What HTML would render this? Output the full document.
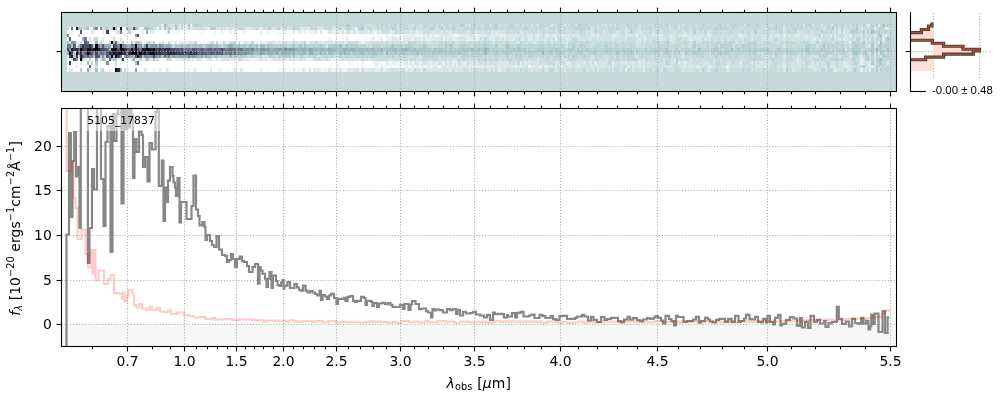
<!DOCTYPE html>
<html><head><meta charset="utf-8"><style>html,body{margin:0;padding:0;background:#fff;width:1000px;height:400px;overflow:hidden}svg{display:block}</style></head>
<body><svg width="1000" height="400" viewBox="0 0 1000 400">
<rect width="1000" height="400" fill="#fff"/>
<rect x="61.5" y="12.5" width="835.0" height="79.0" fill="#c6dada"/>
<g class="im" transform="translate(66.800,23.6) scale(2.1984,3.44)" shape-rendering="crispEdges"><rect x="0" y="1" width="1.04" height="1.02" fill="#b9d2d2"/><rect x="0" y="2" width="1.04" height="1.02" fill="#ffffff"/><rect x="0" y="3" width="1.04" height="1.02" fill="#7c8c9c"/><rect x="0" y="4" width="1.04" height="1.02" fill="#ffffff"/><rect x="0" y="5" width="1.04" height="1.02" fill="#9fbcbf"/><rect x="0" y="6" width="1.04" height="1.02" fill="#707b90"/><rect x="0" y="7" width="1.04" height="1.02" fill="#484864"/><rect x="0" y="8" width="1.04" height="1.02" fill="#8ca2ac"/><rect x="0" y="9" width="1.04" height="1.02" fill="#f4f8f8"/><rect x="0" y="10" width="1.04" height="1.02" fill="#ffffff"/><rect x="0" y="11" width="1.04" height="1.02" fill="#f4f8f8"/><rect x="0" y="12" width="1.04" height="1.02" fill="#ffffff"/><rect x="0" y="13" width="1.04" height="1.02" fill="#ffffff"/><rect x="1" y="1" width="1.04" height="1.02" fill="#ffffff"/><rect x="1" y="2" width="1.04" height="1.02" fill="#ffffff"/><rect x="1" y="3" width="1.04" height="1.02" fill="#ffffff"/><rect x="1" y="4" width="1.04" height="1.02" fill="#565776"/><rect x="1" y="5" width="1.04" height="1.02" fill="#eff5f4"/><rect x="1" y="6" width="1.04" height="1.02" fill="#6d788d"/><rect x="1" y="7" width="1.04" height="1.02" fill="#8295a2"/><rect x="1" y="8" width="1.04" height="1.02" fill="#000000"/><rect x="1" y="9" width="1.04" height="1.02" fill="#464661"/><rect x="1" y="10" width="1.04" height="1.02" fill="#f3f7f7"/><rect x="1" y="11" width="1.04" height="1.02" fill="#3e3e56"/><rect x="1" y="12" width="1.04" height="1.02" fill="#ffffff"/><rect x="1" y="13" width="1.04" height="1.02" fill="#d5e4e4"/><rect x="2" y="1" width="1.04" height="1.02" fill="#676f87"/><rect x="2" y="2" width="1.04" height="1.02" fill="#e5eeee"/><rect x="2" y="3" width="1.04" height="1.02" fill="#ffffff"/><rect x="2" y="4" width="1.04" height="1.02" fill="#ffffff"/><rect x="2" y="5" width="1.04" height="1.02" fill="#7a8a9a"/><rect x="2" y="6" width="1.04" height="1.02" fill="#aac9c9"/><rect x="2" y="7" width="1.04" height="1.02" fill="#13131b"/><rect x="2" y="8" width="1.04" height="1.02" fill="#4c4c6a"/><rect x="2" y="9" width="1.04" height="1.02" fill="#242432"/><rect x="2" y="10" width="1.04" height="1.02" fill="#c4d9d9"/><rect x="2" y="11" width="1.04" height="1.02" fill="#ffffff"/><rect x="2" y="12" width="1.04" height="1.02" fill="#ffffff"/><rect x="2" y="13" width="1.04" height="1.02" fill="#d9e7e6"/><rect x="3" y="1" width="1.04" height="1.02" fill="#ffffff"/><rect x="3" y="2" width="1.04" height="1.02" fill="#ffffff"/><rect x="3" y="3" width="1.04" height="1.02" fill="#ffffff"/><rect x="3" y="4" width="1.04" height="1.02" fill="#ffffff"/><rect x="3" y="5" width="1.04" height="1.02" fill="#899ea9"/><rect x="3" y="6" width="1.04" height="1.02" fill="#5e627d"/><rect x="3" y="7" width="1.04" height="1.02" fill="#39394f"/><rect x="3" y="8" width="1.04" height="1.02" fill="#b8d2d1"/><rect x="3" y="9" width="1.04" height="1.02" fill="#a9c8c8"/><rect x="3" y="10" width="1.04" height="1.02" fill="#4c4c6a"/><rect x="3" y="11" width="1.04" height="1.02" fill="#ffffff"/><rect x="3" y="12" width="1.04" height="1.02" fill="#ffffff"/><rect x="3" y="13" width="1.04" height="1.02" fill="#ffffff"/><rect x="4" y="1" width="1.04" height="1.02" fill="#171720"/><rect x="4" y="2" width="1.04" height="1.02" fill="#ffffff"/><rect x="4" y="3" width="1.04" height="1.02" fill="#ffffff"/><rect x="4" y="4" width="1.04" height="1.02" fill="#ffffff"/><rect x="4" y="5" width="1.04" height="1.02" fill="#e0ebeb"/><rect x="4" y="6" width="1.04" height="1.02" fill="#e5eeee"/><rect x="4" y="7" width="1.04" height="1.02" fill="#262634"/><rect x="4" y="8" width="1.04" height="1.02" fill="#0c0c11"/><rect x="4" y="9" width="1.04" height="1.02" fill="#42425d"/><rect x="4" y="10" width="1.04" height="1.02" fill="#869aa6"/><rect x="4" y="11" width="1.04" height="1.02" fill="#ffffff"/><rect x="4" y="12" width="1.04" height="1.02" fill="#e4eeed"/><rect x="4" y="13" width="1.04" height="1.02" fill="#ffffff"/><rect x="5" y="1" width="1.04" height="1.02" fill="#a4c2c3"/><rect x="5" y="2" width="1.04" height="1.02" fill="#ffffff"/><rect x="5" y="3" width="1.04" height="1.02" fill="#b9d2d2"/><rect x="5" y="4" width="1.04" height="1.02" fill="#ffffff"/><rect x="5" y="5" width="1.04" height="1.02" fill="#ecf3f3"/><rect x="5" y="6" width="1.04" height="1.02" fill="#9fbcbf"/><rect x="5" y="7" width="1.04" height="1.02" fill="#5d617d"/><rect x="5" y="8" width="1.04" height="1.02" fill="#6c758b"/><rect x="5" y="9" width="1.04" height="1.02" fill="#c0d7d7"/><rect x="5" y="10" width="1.04" height="1.02" fill="#ffffff"/><rect x="5" y="11" width="1.04" height="1.02" fill="#ffffff"/><rect x="5" y="12" width="1.04" height="1.02" fill="#ffffff"/><rect x="5" y="13" width="1.04" height="1.02" fill="#ffffff"/><rect x="6" y="1" width="1.04" height="1.02" fill="#b7d1d1"/><rect x="6" y="2" width="1.04" height="1.02" fill="#575976"/><rect x="6" y="3" width="1.04" height="1.02" fill="#ffffff"/><rect x="6" y="4" width="1.04" height="1.02" fill="#ffffff"/><rect x="6" y="5" width="1.04" height="1.02" fill="#d2e2e2"/><rect x="6" y="6" width="1.04" height="1.02" fill="#666e86"/><rect x="6" y="7" width="1.04" height="1.02" fill="#000000"/><rect x="6" y="8" width="1.04" height="1.02" fill="#39394f"/><rect x="6" y="9" width="1.04" height="1.02" fill="#292939"/><rect x="6" y="10" width="1.04" height="1.02" fill="#000000"/><rect x="6" y="11" width="1.04" height="1.02" fill="#dde9e9"/><rect x="6" y="12" width="1.04" height="1.02" fill="#ffffff"/><rect x="6" y="13" width="1.04" height="1.02" fill="#b7d1d1"/><rect x="7" y="1" width="1.04" height="1.02" fill="#d1e1e1"/><rect x="7" y="2" width="1.04" height="1.02" fill="#ffffff"/><rect x="7" y="3" width="1.04" height="1.02" fill="#ffffff"/><rect x="7" y="4" width="1.04" height="1.02" fill="#97b2b7"/><rect x="7" y="5" width="1.04" height="1.02" fill="#fcfdfd"/><rect x="7" y="6" width="1.04" height="1.02" fill="#38384e"/><rect x="7" y="7" width="1.04" height="1.02" fill="#2e2e41"/><rect x="7" y="8" width="1.04" height="1.02" fill="#7e8f9e"/><rect x="7" y="9" width="1.04" height="1.02" fill="#525372"/><rect x="7" y="10" width="1.04" height="1.02" fill="#b5d0d0"/><rect x="7" y="11" width="1.04" height="1.02" fill="#ffffff"/><rect x="7" y="12" width="1.04" height="1.02" fill="#ffffff"/><rect x="7" y="13" width="1.04" height="1.02" fill="#ffffff"/><rect x="8" y="1" width="1.04" height="1.02" fill="#b5d0d0"/><rect x="8" y="2" width="1.04" height="1.02" fill="#ffffff"/><rect x="8" y="3" width="1.04" height="1.02" fill="#ffffff"/><rect x="8" y="4" width="1.04" height="1.02" fill="#6e798e"/><rect x="8" y="5" width="1.04" height="1.02" fill="#5a5d7a"/><rect x="8" y="6" width="1.04" height="1.02" fill="#4e4e6c"/><rect x="8" y="7" width="1.04" height="1.02" fill="#464661"/><rect x="8" y="8" width="1.04" height="1.02" fill="#5b5f7b"/><rect x="8" y="9" width="1.04" height="1.02" fill="#7b8b9b"/><rect x="8" y="10" width="1.04" height="1.02" fill="#e0ebeb"/><rect x="8" y="11" width="1.04" height="1.02" fill="#ffffff"/><rect x="8" y="12" width="1.04" height="1.02" fill="#ffffff"/><rect x="8" y="13" width="1.04" height="1.02" fill="#ffffff"/><rect x="9" y="1" width="1.04" height="1.02" fill="#9fbcbf"/><rect x="9" y="2" width="1.04" height="1.02" fill="#ffffff"/><rect x="9" y="3" width="1.04" height="1.02" fill="#ffffff"/><rect x="9" y="4" width="1.04" height="1.02" fill="#ffffff"/><rect x="9" y="5" width="1.04" height="1.02" fill="#758395"/><rect x="9" y="6" width="1.04" height="1.02" fill="#4d4d6b"/><rect x="9" y="7" width="1.04" height="1.02" fill="#0a0a0f"/><rect x="9" y="8" width="1.04" height="1.02" fill="#000000"/><rect x="9" y="9" width="1.04" height="1.02" fill="#5c607c"/><rect x="9" y="10" width="1.04" height="1.02" fill="#fafcfb"/><rect x="9" y="11" width="1.04" height="1.02" fill="#a4c2c3"/><rect x="9" y="12" width="1.04" height="1.02" fill="#fbfcfc"/><rect x="9" y="13" width="1.04" height="1.02" fill="#94adb4"/><rect x="10" y="1" width="1.04" height="1.02" fill="#ffffff"/><rect x="10" y="2" width="1.04" height="1.02" fill="#ffffff"/><rect x="10" y="3" width="1.04" height="1.02" fill="#ffffff"/><rect x="10" y="4" width="1.04" height="1.02" fill="#cee0df"/><rect x="10" y="5" width="1.04" height="1.02" fill="#e4eeed"/><rect x="10" y="6" width="1.04" height="1.02" fill="#2b2b3c"/><rect x="10" y="7" width="1.04" height="1.02" fill="#15151d"/><rect x="10" y="8" width="1.04" height="1.02" fill="#3b3b52"/><rect x="10" y="9" width="1.04" height="1.02" fill="#8192a0"/><rect x="10" y="10" width="1.04" height="1.02" fill="#c0d7d7"/><rect x="10" y="11" width="1.04" height="1.02" fill="#ffffff"/><rect x="10" y="12" width="1.04" height="1.02" fill="#5e627d"/><rect x="10" y="13" width="1.04" height="1.02" fill="#e5eeee"/><rect x="11" y="1" width="1.04" height="1.02" fill="#ffffff"/><rect x="11" y="2" width="1.04" height="1.02" fill="#dae7e7"/><rect x="11" y="3" width="1.04" height="1.02" fill="#ffffff"/><rect x="11" y="4" width="1.04" height="1.02" fill="#ffffff"/><rect x="11" y="5" width="1.04" height="1.02" fill="#e9f1f1"/><rect x="11" y="6" width="1.04" height="1.02" fill="#575976"/><rect x="11" y="7" width="1.04" height="1.02" fill="#2f2f42"/><rect x="11" y="8" width="1.04" height="1.02" fill="#585b78"/><rect x="11" y="9" width="1.04" height="1.02" fill="#758395"/><rect x="11" y="10" width="1.04" height="1.02" fill="#ffffff"/><rect x="11" y="11" width="1.04" height="1.02" fill="#b9d2d2"/><rect x="11" y="12" width="1.04" height="1.02" fill="#ffffff"/><rect x="11" y="13" width="1.04" height="1.02" fill="#ffffff"/><rect x="12" y="1" width="1.04" height="1.02" fill="#9fbcbf"/><rect x="12" y="2" width="1.04" height="1.02" fill="#e6efef"/><rect x="12" y="3" width="1.04" height="1.02" fill="#ffffff"/><rect x="12" y="4" width="1.04" height="1.02" fill="#dbe8e8"/><rect x="12" y="5" width="1.04" height="1.02" fill="#ffffff"/><rect x="12" y="6" width="1.04" height="1.02" fill="#b9d2d2"/><rect x="12" y="7" width="1.04" height="1.02" fill="#171720"/><rect x="12" y="8" width="1.04" height="1.02" fill="#889ca7"/><rect x="12" y="9" width="1.04" height="1.02" fill="#aac9c9"/><rect x="12" y="10" width="1.04" height="1.02" fill="#ffffff"/><rect x="12" y="11" width="1.04" height="1.02" fill="#ffffff"/><rect x="12" y="12" width="1.04" height="1.02" fill="#ffffff"/><rect x="12" y="13" width="1.04" height="1.02" fill="#ffffff"/><rect x="13" y="1" width="1.04" height="1.02" fill="#7a8a9a"/><rect x="13" y="2" width="1.04" height="1.02" fill="#ffffff"/><rect x="13" y="3" width="1.04" height="1.02" fill="#ffffff"/><rect x="13" y="4" width="1.04" height="1.02" fill="#c0d7d7"/><rect x="13" y="5" width="1.04" height="1.02" fill="#99b4b9"/><rect x="13" y="6" width="1.04" height="1.02" fill="#000000"/><rect x="13" y="7" width="1.04" height="1.02" fill="#000000"/><rect x="13" y="8" width="1.04" height="1.02" fill="#4b4b69"/><rect x="13" y="9" width="1.04" height="1.02" fill="#535473"/><rect x="13" y="10" width="1.04" height="1.02" fill="#8ba1ab"/><rect x="13" y="11" width="1.04" height="1.02" fill="#adcbca"/><rect x="13" y="12" width="1.04" height="1.02" fill="#d2e2e2"/><rect x="13" y="13" width="1.04" height="1.02" fill="#a4c4c4"/><rect x="14" y="1" width="1.04" height="1.02" fill="#f8fbfb"/><rect x="14" y="2" width="1.04" height="1.02" fill="#ffffff"/><rect x="14" y="3" width="1.04" height="1.02" fill="#ffffff"/><rect x="14" y="4" width="1.04" height="1.02" fill="#ffffff"/><rect x="14" y="5" width="1.04" height="1.02" fill="#ffffff"/><rect x="14" y="6" width="1.04" height="1.02" fill="#717d91"/><rect x="14" y="7" width="1.04" height="1.02" fill="#1b1b26"/><rect x="14" y="8" width="1.04" height="1.02" fill="#8294a1"/><rect x="14" y="9" width="1.04" height="1.02" fill="#5a5d7a"/><rect x="14" y="10" width="1.04" height="1.02" fill="#ffffff"/><rect x="14" y="11" width="1.04" height="1.02" fill="#ffffff"/><rect x="14" y="12" width="1.04" height="1.02" fill="#ffffff"/><rect x="14" y="13" width="1.04" height="1.02" fill="#ffffff"/><rect x="15" y="1" width="1.04" height="1.02" fill="#7c8c9c"/><rect x="15" y="2" width="1.04" height="1.02" fill="#ffffff"/><rect x="15" y="3" width="1.04" height="1.02" fill="#ffffff"/><rect x="15" y="4" width="1.04" height="1.02" fill="#ffffff"/><rect x="15" y="5" width="1.04" height="1.02" fill="#bbd3d3"/><rect x="15" y="6" width="1.04" height="1.02" fill="#96afb5"/><rect x="15" y="7" width="1.04" height="1.02" fill="#484864"/><rect x="15" y="8" width="1.04" height="1.02" fill="#6a738a"/><rect x="15" y="9" width="1.04" height="1.02" fill="#adcbca"/><rect x="15" y="10" width="1.04" height="1.02" fill="#d3e3e3"/><rect x="15" y="11" width="1.04" height="1.02" fill="#ffffff"/><rect x="15" y="12" width="1.04" height="1.02" fill="#ffffff"/><rect x="15" y="13" width="1.04" height="1.02" fill="#d6e5e5"/><rect x="16" y="1" width="1.04" height="1.02" fill="#d3e3e3"/><rect x="16" y="2" width="1.04" height="1.02" fill="#e8f0f0"/><rect x="16" y="3" width="1.04" height="1.02" fill="#ffffff"/><rect x="16" y="4" width="1.04" height="1.02" fill="#e2eded"/><rect x="16" y="5" width="1.04" height="1.02" fill="#e6efef"/><rect x="16" y="6" width="1.04" height="1.02" fill="#575976"/><rect x="16" y="7" width="1.04" height="1.02" fill="#494965"/><rect x="16" y="8" width="1.04" height="1.02" fill="#6c758b"/><rect x="16" y="9" width="1.04" height="1.02" fill="#869aa6"/><rect x="16" y="10" width="1.04" height="1.02" fill="#9dbabd"/><rect x="16" y="11" width="1.04" height="1.02" fill="#ffffff"/><rect x="16" y="12" width="1.04" height="1.02" fill="#ffffff"/><rect x="16" y="13" width="1.04" height="1.02" fill="#bcd4d4"/><rect x="17" y="1" width="1.04" height="1.02" fill="#c1d8d8"/><rect x="17" y="2" width="1.04" height="1.02" fill="#ffffff"/><rect x="17" y="3" width="1.04" height="1.02" fill="#ffffff"/><rect x="17" y="4" width="1.04" height="1.02" fill="#ffffff"/><rect x="17" y="5" width="1.04" height="1.02" fill="#ffffff"/><rect x="17" y="6" width="1.04" height="1.02" fill="#8ea4ae"/><rect x="17" y="7" width="1.04" height="1.02" fill="#50506f"/><rect x="17" y="8" width="1.04" height="1.02" fill="#7e8f9e"/><rect x="17" y="9" width="1.04" height="1.02" fill="#bdd5d5"/><rect x="17" y="10" width="1.04" height="1.02" fill="#b0cccc"/><rect x="17" y="11" width="1.04" height="1.02" fill="#ffffff"/><rect x="17" y="12" width="1.04" height="1.02" fill="#ffffff"/><rect x="17" y="13" width="1.04" height="1.02" fill="#ffffff"/><rect x="18" y="1" width="1.04" height="1.02" fill="#aecbcb"/><rect x="18" y="2" width="1.04" height="1.02" fill="#3d3d55"/><rect x="18" y="3" width="1.04" height="1.02" fill="#ffffff"/><rect x="18" y="4" width="1.04" height="1.02" fill="#ffffff"/><rect x="18" y="5" width="1.04" height="1.02" fill="#ffffff"/><rect x="18" y="6" width="1.04" height="1.02" fill="#96afb5"/><rect x="18" y="7" width="1.04" height="1.02" fill="#5e627d"/><rect x="18" y="8" width="1.04" height="1.02" fill="#595c79"/><rect x="18" y="9" width="1.04" height="1.02" fill="#565776"/><rect x="18" y="10" width="1.04" height="1.02" fill="#fbfcfc"/><rect x="18" y="11" width="1.04" height="1.02" fill="#7e8f9e"/><rect x="18" y="12" width="1.04" height="1.02" fill="#ffffff"/><rect x="18" y="13" width="1.04" height="1.02" fill="#ffffff"/><rect x="19" y="1" width="1.04" height="1.02" fill="#d5e4e4"/><rect x="19" y="2" width="1.04" height="1.02" fill="#ffffff"/><rect x="19" y="3" width="1.04" height="1.02" fill="#ffffff"/><rect x="19" y="4" width="1.04" height="1.02" fill="#ffffff"/><rect x="19" y="5" width="1.04" height="1.02" fill="#c3d9d8"/><rect x="19" y="6" width="1.04" height="1.02" fill="#92aab2"/><rect x="19" y="7" width="1.04" height="1.02" fill="#98b3b8"/><rect x="19" y="8" width="1.04" height="1.02" fill="#313144"/><rect x="19" y="9" width="1.04" height="1.02" fill="#8598a5"/><rect x="19" y="10" width="1.04" height="1.02" fill="#5d617d"/><rect x="19" y="11" width="1.04" height="1.02" fill="#ffffff"/><rect x="19" y="12" width="1.04" height="1.02" fill="#ffffff"/><rect x="19" y="13" width="1.04" height="1.02" fill="#e6efef"/><rect x="20" y="1" width="1.04" height="1.02" fill="#bbd3d3"/><rect x="20" y="2" width="1.04" height="1.02" fill="#fcfdfd"/><rect x="20" y="3" width="1.04" height="1.02" fill="#ffffff"/><rect x="20" y="4" width="1.04" height="1.02" fill="#ffffff"/><rect x="20" y="5" width="1.04" height="1.02" fill="#000000"/><rect x="20" y="6" width="1.04" height="1.02" fill="#deeaea"/><rect x="20" y="7" width="1.04" height="1.02" fill="#171720"/><rect x="20" y="8" width="1.04" height="1.02" fill="#3c3c54"/><rect x="20" y="9" width="1.04" height="1.02" fill="#000000"/><rect x="20" y="10" width="1.04" height="1.02" fill="#c1d8d8"/><rect x="20" y="11" width="1.04" height="1.02" fill="#ffffff"/><rect x="20" y="12" width="1.04" height="1.02" fill="#ffffff"/><rect x="20" y="13" width="1.04" height="1.02" fill="#ffffff"/><rect x="21" y="1" width="1.04" height="1.02" fill="#000000"/><rect x="21" y="2" width="1.04" height="1.02" fill="#ffffff"/><rect x="21" y="3" width="1.04" height="1.02" fill="#ffffff"/><rect x="21" y="4" width="1.04" height="1.02" fill="#c8dcdc"/><rect x="21" y="5" width="1.04" height="1.02" fill="#a1bfc1"/><rect x="21" y="6" width="1.04" height="1.02" fill="#41415a"/><rect x="21" y="7" width="1.04" height="1.02" fill="#0b0b10"/><rect x="21" y="8" width="1.04" height="1.02" fill="#0a0a0d"/><rect x="21" y="9" width="1.04" height="1.02" fill="#9db9bc"/><rect x="21" y="10" width="1.04" height="1.02" fill="#9ebbbe"/><rect x="21" y="11" width="1.04" height="1.02" fill="#ffffff"/><rect x="21" y="12" width="1.04" height="1.02" fill="#ffffff"/><rect x="21" y="13" width="1.04" height="1.02" fill="#ffffff"/><rect x="22" y="1" width="1.04" height="1.02" fill="#9dbabd"/><rect x="22" y="2" width="1.04" height="1.02" fill="#eff5f4"/><rect x="22" y="3" width="1.04" height="1.02" fill="#ffffff"/><rect x="22" y="4" width="1.04" height="1.02" fill="#ffffff"/><rect x="22" y="5" width="1.04" height="1.02" fill="#656c84"/><rect x="22" y="6" width="1.04" height="1.02" fill="#5d617d"/><rect x="22" y="7" width="1.04" height="1.02" fill="#0a0a0f"/><rect x="22" y="8" width="1.04" height="1.02" fill="#2a2a3a"/><rect x="22" y="9" width="1.04" height="1.02" fill="#101016"/><rect x="22" y="10" width="1.04" height="1.02" fill="#b2cece"/><rect x="22" y="11" width="1.04" height="1.02" fill="#c8dcdc"/><rect x="22" y="12" width="1.04" height="1.02" fill="#e1ecec"/><rect x="22" y="13" width="1.04" height="1.02" fill="#000000"/><rect x="23" y="1" width="1.04" height="1.02" fill="#ffffff"/><rect x="23" y="2" width="1.04" height="1.02" fill="#d2e2e2"/><rect x="23" y="3" width="1.04" height="1.02" fill="#ffffff"/><rect x="23" y="4" width="1.04" height="1.02" fill="#fefefe"/><rect x="23" y="5" width="1.04" height="1.02" fill="#cfe0e0"/><rect x="23" y="6" width="1.04" height="1.02" fill="#737f92"/><rect x="23" y="7" width="1.04" height="1.02" fill="#505070"/><rect x="23" y="8" width="1.04" height="1.02" fill="#1c1c27"/><rect x="23" y="9" width="1.04" height="1.02" fill="#44445f"/><rect x="23" y="10" width="1.04" height="1.02" fill="#e9f1f1"/><rect x="23" y="11" width="1.04" height="1.02" fill="#ffffff"/><rect x="23" y="12" width="1.04" height="1.02" fill="#ffffff"/><rect x="23" y="13" width="1.04" height="1.02" fill="#2e2e41"/><rect x="24" y="1" width="1.04" height="1.02" fill="#000000"/><rect x="24" y="2" width="1.04" height="1.02" fill="#768496"/><rect x="24" y="3" width="1.04" height="1.02" fill="#ffffff"/><rect x="24" y="4" width="1.04" height="1.02" fill="#dae7e7"/><rect x="24" y="5" width="1.04" height="1.02" fill="#f5f9f9"/><rect x="24" y="6" width="1.04" height="1.02" fill="#000000"/><rect x="24" y="7" width="1.04" height="1.02" fill="#060609"/><rect x="24" y="8" width="1.04" height="1.02" fill="#181822"/><rect x="24" y="9" width="1.04" height="1.02" fill="#6e798e"/><rect x="24" y="10" width="1.04" height="1.02" fill="#c7dbdb"/><rect x="24" y="11" width="1.04" height="1.02" fill="#f8fbfb"/><rect x="24" y="12" width="1.04" height="1.02" fill="#ffffff"/><rect x="24" y="13" width="1.04" height="1.02" fill="#9ab5ba"/><rect x="25" y="1" width="1.04" height="1.02" fill="#ffffff"/><rect x="25" y="2" width="1.04" height="1.02" fill="#eff5f4"/><rect x="25" y="3" width="1.04" height="1.02" fill="#ffffff"/><rect x="25" y="4" width="1.04" height="1.02" fill="#ffffff"/><rect x="25" y="5" width="1.04" height="1.02" fill="#a5c5c5"/><rect x="25" y="6" width="1.04" height="1.02" fill="#788698"/><rect x="25" y="7" width="1.04" height="1.02" fill="#000000"/><rect x="25" y="8" width="1.04" height="1.02" fill="#353449"/><rect x="25" y="9" width="1.04" height="1.02" fill="#ffffff"/><rect x="25" y="10" width="1.04" height="1.02" fill="#42425d"/><rect x="25" y="11" width="1.04" height="1.02" fill="#ffffff"/><rect x="25" y="12" width="1.04" height="1.02" fill="#ffffff"/><rect x="25" y="13" width="1.04" height="1.02" fill="#ffffff"/><rect x="26" y="1" width="1.04" height="1.02" fill="#ffffff"/><rect x="26" y="2" width="1.04" height="1.02" fill="#ffffff"/><rect x="26" y="3" width="1.04" height="1.02" fill="#eaf2f2"/><rect x="26" y="4" width="1.04" height="1.02" fill="#ffffff"/><rect x="26" y="5" width="1.04" height="1.02" fill="#ffffff"/><rect x="26" y="6" width="1.04" height="1.02" fill="#8192a0"/><rect x="26" y="7" width="1.04" height="1.02" fill="#313144"/><rect x="26" y="8" width="1.04" height="1.02" fill="#2e2e41"/><rect x="26" y="9" width="1.04" height="1.02" fill="#899ea9"/><rect x="26" y="10" width="1.04" height="1.02" fill="#fcfdfd"/><rect x="26" y="11" width="1.04" height="1.02" fill="#ffffff"/><rect x="26" y="12" width="1.04" height="1.02" fill="#f4f8f8"/><rect x="26" y="13" width="1.04" height="1.02" fill="#c0d7d7"/><rect x="27" y="1" width="1.04" height="1.02" fill="#94adb4"/><rect x="27" y="2" width="1.04" height="1.02" fill="#ffffff"/><rect x="27" y="3" width="1.04" height="1.02" fill="#ffffff"/><rect x="27" y="4" width="1.04" height="1.02" fill="#ffffff"/><rect x="27" y="5" width="1.04" height="1.02" fill="#ffffff"/><rect x="27" y="6" width="1.04" height="1.02" fill="#8da3ad"/><rect x="27" y="7" width="1.04" height="1.02" fill="#2d2d3f"/><rect x="27" y="8" width="1.04" height="1.02" fill="#6c778c"/><rect x="27" y="9" width="1.04" height="1.02" fill="#5c607c"/><rect x="27" y="10" width="1.04" height="1.02" fill="#dbe8e8"/><rect x="27" y="11" width="1.04" height="1.02" fill="#ffffff"/><rect x="27" y="12" width="1.04" height="1.02" fill="#ffffff"/><rect x="27" y="13" width="1.04" height="1.02" fill="#ffffff"/><rect x="28" y="1" width="1.04" height="1.02" fill="#b8d2d1"/><rect x="28" y="2" width="1.04" height="1.02" fill="#c3d9d8"/><rect x="28" y="3" width="1.04" height="1.02" fill="#ffffff"/><rect x="28" y="4" width="1.04" height="1.02" fill="#ffffff"/><rect x="28" y="5" width="1.04" height="1.02" fill="#ffffff"/><rect x="28" y="6" width="1.04" height="1.02" fill="#96afb5"/><rect x="28" y="7" width="1.04" height="1.02" fill="#575a77"/><rect x="28" y="8" width="1.04" height="1.02" fill="#2b2b3c"/><rect x="28" y="9" width="1.04" height="1.02" fill="#869aa6"/><rect x="28" y="10" width="1.04" height="1.02" fill="#ffffff"/><rect x="28" y="11" width="1.04" height="1.02" fill="#ffffff"/><rect x="28" y="12" width="1.04" height="1.02" fill="#ffffff"/><rect x="28" y="13" width="1.04" height="1.02" fill="#ffffff"/><rect x="29" y="1" width="1.04" height="1.02" fill="#c1d8d8"/><rect x="29" y="2" width="1.04" height="1.02" fill="#eff5f4"/><rect x="29" y="3" width="1.04" height="1.02" fill="#ffffff"/><rect x="29" y="4" width="1.04" height="1.02" fill="#ffffff"/><rect x="29" y="5" width="1.04" height="1.02" fill="#a5c5c5"/><rect x="29" y="6" width="1.04" height="1.02" fill="#748194"/><rect x="29" y="7" width="1.04" height="1.02" fill="#191923"/><rect x="29" y="8" width="1.04" height="1.02" fill="#000000"/><rect x="29" y="9" width="1.04" height="1.02" fill="#94adb4"/><rect x="29" y="10" width="1.04" height="1.02" fill="#cadddd"/><rect x="29" y="11" width="1.04" height="1.02" fill="#ffffff"/><rect x="29" y="12" width="1.04" height="1.02" fill="#ffffff"/><rect x="29" y="13" width="1.04" height="1.02" fill="#ffffff"/><rect x="30" y="1" width="1.04" height="1.02" fill="#4d4d6b"/><rect x="30" y="2" width="1.04" height="1.02" fill="#ffffff"/><rect x="30" y="3" width="1.04" height="1.02" fill="#ffffff"/><rect x="30" y="4" width="1.04" height="1.02" fill="#ffffff"/><rect x="30" y="5" width="1.04" height="1.02" fill="#f1f6f6"/><rect x="30" y="6" width="1.04" height="1.02" fill="#7a8a9a"/><rect x="30" y="7" width="1.04" height="1.02" fill="#505070"/><rect x="30" y="8" width="1.04" height="1.02" fill="#0d0d12"/><rect x="30" y="9" width="1.04" height="1.02" fill="#a2c0c2"/><rect x="30" y="10" width="1.04" height="1.02" fill="#8fa6ae"/><rect x="30" y="11" width="1.04" height="1.02" fill="#ffffff"/><rect x="30" y="12" width="1.04" height="1.02" fill="#ffffff"/><rect x="30" y="13" width="1.04" height="1.02" fill="#ffffff"/><rect x="31" y="1" width="1.04" height="1.02" fill="#9fbcbf"/><rect x="31" y="2" width="1.04" height="1.02" fill="#fcfdfd"/><rect x="31" y="3" width="1.04" height="1.02" fill="#899da8"/><rect x="31" y="4" width="1.04" height="1.02" fill="#edf4f4"/><rect x="31" y="5" width="1.04" height="1.02" fill="#b1cdcd"/><rect x="31" y="6" width="1.04" height="1.02" fill="#000000"/><rect x="31" y="7" width="1.04" height="1.02" fill="#191923"/><rect x="31" y="8" width="1.04" height="1.02" fill="#030305"/><rect x="31" y="9" width="1.04" height="1.02" fill="#4b4b69"/><rect x="31" y="10" width="1.04" height="1.02" fill="#e4eeed"/><rect x="31" y="11" width="1.04" height="1.02" fill="#a3c1c3"/><rect x="31" y="12" width="1.04" height="1.02" fill="#ffffff"/><rect x="31" y="13" width="1.04" height="1.02" fill="#8ca2ac"/><rect x="32" y="1" width="1.04" height="1.02" fill="#bbd3d3"/><rect x="32" y="2" width="1.04" height="1.02" fill="#ffffff"/><rect x="32" y="3" width="1.04" height="1.02" fill="#43435e"/><rect x="32" y="4" width="1.04" height="1.02" fill="#ffffff"/><rect x="32" y="5" width="1.04" height="1.02" fill="#aac9c9"/><rect x="32" y="6" width="1.04" height="1.02" fill="#8598a5"/><rect x="32" y="7" width="1.04" height="1.02" fill="#4d4d6b"/><rect x="32" y="8" width="1.04" height="1.02" fill="#454560"/><rect x="32" y="9" width="1.04" height="1.02" fill="#22222f"/><rect x="32" y="10" width="1.04" height="1.02" fill="#deeaea"/><rect x="32" y="11" width="1.04" height="1.02" fill="#5d617d"/><rect x="32" y="12" width="1.04" height="1.02" fill="#ffffff"/><rect x="32" y="13" width="1.04" height="1.02" fill="#ffffff"/><rect x="33" y="1" width="1.04" height="1.02" fill="#eff5f4"/><rect x="33" y="2" width="1.04" height="1.02" fill="#f7fafa"/><rect x="33" y="3" width="1.04" height="1.02" fill="#ffffff"/><rect x="33" y="4" width="1.04" height="1.02" fill="#ffffff"/><rect x="33" y="5" width="1.04" height="1.02" fill="#b9d2d2"/><rect x="33" y="6" width="1.04" height="1.02" fill="#899ea9"/><rect x="33" y="7" width="1.04" height="1.02" fill="#676f87"/><rect x="33" y="8" width="1.04" height="1.02" fill="#000000"/><rect x="33" y="9" width="1.04" height="1.02" fill="#565776"/><rect x="33" y="10" width="1.04" height="1.02" fill="#c4d9d9"/><rect x="33" y="11" width="1.04" height="1.02" fill="#ffffff"/><rect x="33" y="12" width="1.04" height="1.02" fill="#ffffff"/><rect x="33" y="13" width="1.04" height="1.02" fill="#ffffff"/><rect x="34" y="1" width="1.04" height="1.02" fill="#eaf2f2"/><rect x="34" y="2" width="1.04" height="1.02" fill="#e2eded"/><rect x="34" y="3" width="1.04" height="1.02" fill="#ffffff"/><rect x="34" y="4" width="1.04" height="1.02" fill="#ffffff"/><rect x="34" y="5" width="1.04" height="1.02" fill="#ffffff"/><rect x="34" y="6" width="1.04" height="1.02" fill="#adcbca"/><rect x="34" y="7" width="1.04" height="1.02" fill="#0a0a0d"/><rect x="34" y="8" width="1.04" height="1.02" fill="#2b2b3c"/><rect x="34" y="9" width="1.04" height="1.02" fill="#a4c4c4"/><rect x="34" y="10" width="1.04" height="1.02" fill="#f4f8f8"/><rect x="34" y="11" width="1.04" height="1.02" fill="#ffffff"/><rect x="34" y="12" width="1.04" height="1.02" fill="#ffffff"/><rect x="34" y="13" width="1.04" height="1.02" fill="#ffffff"/><rect x="35" y="1" width="1.04" height="1.02" fill="#a7c7c7"/><rect x="35" y="2" width="1.04" height="1.02" fill="#ffffff"/><rect x="35" y="3" width="1.04" height="1.02" fill="#ffffff"/><rect x="35" y="4" width="1.04" height="1.02" fill="#ffffff"/><rect x="35" y="5" width="1.04" height="1.02" fill="#e8f0f0"/><rect x="35" y="6" width="1.04" height="1.02" fill="#899da8"/><rect x="35" y="7" width="1.04" height="1.02" fill="#201f2c"/><rect x="35" y="8" width="1.04" height="1.02" fill="#171720"/><rect x="35" y="9" width="1.04" height="1.02" fill="#7e8f9e"/><rect x="35" y="10" width="1.04" height="1.02" fill="#dde9e9"/><rect x="35" y="11" width="1.04" height="1.02" fill="#ffffff"/><rect x="35" y="12" width="1.04" height="1.02" fill="#ffffff"/><rect x="35" y="13" width="1.04" height="1.02" fill="#d9e7e6"/><rect x="36" y="1" width="1.04" height="1.02" fill="#a1bfc1"/><rect x="36" y="2" width="1.04" height="1.02" fill="#97b2b7"/><rect x="36" y="3" width="1.04" height="1.02" fill="#ffffff"/><rect x="36" y="4" width="1.04" height="1.02" fill="#ffffff"/><rect x="36" y="5" width="1.04" height="1.02" fill="#cee0df"/><rect x="36" y="6" width="1.04" height="1.02" fill="#3f3f58"/><rect x="36" y="7" width="1.04" height="1.02" fill="#000000"/><rect x="36" y="8" width="1.04" height="1.02" fill="#44445f"/><rect x="36" y="9" width="1.04" height="1.02" fill="#7f909f"/><rect x="36" y="10" width="1.04" height="1.02" fill="#a1bfc1"/><rect x="36" y="11" width="1.04" height="1.02" fill="#ffffff"/><rect x="36" y="12" width="1.04" height="1.02" fill="#ffffff"/><rect x="36" y="13" width="1.04" height="1.02" fill="#f3f7f7"/><rect x="37" y="1" width="1.04" height="1.02" fill="#adcbca"/><rect x="37" y="2" width="1.04" height="1.02" fill="#ffffff"/><rect x="37" y="3" width="1.04" height="1.02" fill="#ffffff"/><rect x="37" y="4" width="1.04" height="1.02" fill="#ffffff"/><rect x="37" y="5" width="1.04" height="1.02" fill="#b9d2d2"/><rect x="37" y="6" width="1.04" height="1.02" fill="#98b3b8"/><rect x="37" y="7" width="1.04" height="1.02" fill="#0c0c11"/><rect x="37" y="8" width="1.04" height="1.02" fill="#20202d"/><rect x="37" y="9" width="1.04" height="1.02" fill="#889ca7"/><rect x="37" y="10" width="1.04" height="1.02" fill="#bdd5d5"/><rect x="37" y="11" width="1.04" height="1.02" fill="#ffffff"/><rect x="37" y="12" width="1.04" height="1.02" fill="#ffffff"/><rect x="37" y="13" width="1.04" height="1.02" fill="#ffffff"/><rect x="38" y="1" width="1.04" height="1.02" fill="#bfd6d6"/><rect x="38" y="2" width="1.04" height="1.02" fill="#e4eeed"/><rect x="38" y="3" width="1.04" height="1.02" fill="#ffffff"/><rect x="38" y="4" width="1.04" height="1.02" fill="#ffffff"/><rect x="38" y="5" width="1.04" height="1.02" fill="#dde9e9"/><rect x="38" y="6" width="1.04" height="1.02" fill="#899da8"/><rect x="38" y="7" width="1.04" height="1.02" fill="#1f1f2b"/><rect x="38" y="8" width="1.04" height="1.02" fill="#08080b"/><rect x="38" y="9" width="1.04" height="1.02" fill="#8192a0"/><rect x="38" y="10" width="1.04" height="1.02" fill="#e1ecec"/><rect x="38" y="11" width="1.04" height="1.02" fill="#ffffff"/><rect x="38" y="12" width="1.04" height="1.02" fill="#ffffff"/><rect x="38" y="13" width="1.04" height="1.02" fill="#ffffff"/><rect x="39" y="1" width="1.04" height="1.02" fill="#ccdfdf"/><rect x="39" y="2" width="1.04" height="1.02" fill="#e8f0f0"/><rect x="39" y="3" width="1.04" height="1.02" fill="#ffffff"/><rect x="39" y="4" width="1.04" height="1.02" fill="#ffffff"/><rect x="39" y="5" width="1.04" height="1.02" fill="#bfd6d6"/><rect x="39" y="6" width="1.04" height="1.02" fill="#869aa6"/><rect x="39" y="7" width="1.04" height="1.02" fill="#000000"/><rect x="39" y="8" width="1.04" height="1.02" fill="#0f0f15"/><rect x="39" y="9" width="1.04" height="1.02" fill="#484864"/><rect x="39" y="10" width="1.04" height="1.02" fill="#a5c5c5"/><rect x="39" y="11" width="1.04" height="1.02" fill="#ffffff"/><rect x="39" y="12" width="1.04" height="1.02" fill="#ffffff"/><rect x="39" y="13" width="1.04" height="1.02" fill="#e8f0f0"/><rect x="40" y="1" width="1.04" height="1.02" fill="#cee0df"/><rect x="40" y="2" width="1.04" height="1.02" fill="#ffffff"/><rect x="40" y="3" width="1.04" height="1.02" fill="#ffffff"/><rect x="40" y="4" width="1.04" height="1.02" fill="#ffffff"/><rect x="40" y="5" width="1.04" height="1.02" fill="#ffffff"/><rect x="40" y="6" width="1.04" height="1.02" fill="#8294a1"/><rect x="40" y="7" width="1.04" height="1.02" fill="#3c3c54"/><rect x="40" y="8" width="1.04" height="1.02" fill="#313144"/><rect x="40" y="9" width="1.04" height="1.02" fill="#8091a0"/><rect x="40" y="10" width="1.04" height="1.02" fill="#cfe0e0"/><rect x="40" y="11" width="1.04" height="1.02" fill="#ffffff"/><rect x="40" y="12" width="1.04" height="1.02" fill="#ffffff"/><rect x="40" y="13" width="1.04" height="1.02" fill="#ffffff"/><rect x="41" y="1" width="1.04" height="1.02" fill="#ffffff"/><rect x="41" y="2" width="1.04" height="1.02" fill="#f8fbfb"/><rect x="41" y="3" width="1.04" height="1.02" fill="#ffffff"/><rect x="41" y="4" width="1.04" height="1.02" fill="#ffffff"/><rect x="41" y="5" width="1.04" height="1.02" fill="#ffffff"/><rect x="41" y="6" width="1.04" height="1.02" fill="#99b4b9"/><rect x="41" y="7" width="1.04" height="1.02" fill="#494965"/><rect x="41" y="8" width="1.04" height="1.02" fill="#38384e"/><rect x="41" y="9" width="1.04" height="1.02" fill="#869aa6"/><rect x="41" y="11" width="1.04" height="1.02" fill="#ffffff"/><rect x="41" y="12" width="1.04" height="1.02" fill="#ffffff"/><rect x="41" y="13" width="1.04" height="1.02" fill="#ffffff"/><rect x="42" y="0" width="1.04" height="1.02" fill="#c4d9d9"/><rect x="42" y="1" width="1.04" height="1.02" fill="#b2cece"/><rect x="42" y="2" width="1.04" height="1.02" fill="#ffffff"/><rect x="42" y="3" width="1.04" height="1.02" fill="#ffffff"/><rect x="42" y="4" width="1.04" height="1.02" fill="#ffffff"/><rect x="42" y="5" width="1.04" height="1.02" fill="#e1ecec"/><rect x="42" y="6" width="1.04" height="1.02" fill="#7a8a9a"/><rect x="42" y="7" width="1.04" height="1.02" fill="#333347"/><rect x="42" y="8" width="1.04" height="1.02" fill="#2d2d3f"/><rect x="42" y="9" width="1.04" height="1.02" fill="#7f909f"/><rect x="42" y="10" width="1.04" height="1.02" fill="#f8fbfb"/><rect x="42" y="11" width="1.04" height="1.02" fill="#ffffff"/><rect x="42" y="12" width="1.04" height="1.02" fill="#ffffff"/><rect x="42" y="13" width="1.04" height="1.02" fill="#e2eded"/><rect x="43" y="0" width="1.04" height="1.02" fill="#e9f1f1"/><rect x="43" y="1" width="1.04" height="1.02" fill="#e8f0f0"/><rect x="43" y="2" width="1.04" height="1.02" fill="#fcfdfd"/><rect x="43" y="3" width="1.04" height="1.02" fill="#ffffff"/><rect x="43" y="4" width="1.04" height="1.02" fill="#ffffff"/><rect x="43" y="5" width="1.04" height="1.02" fill="#d9e7e6"/><rect x="43" y="6" width="1.04" height="1.02" fill="#8ba1ab"/><rect x="43" y="7" width="1.04" height="1.02" fill="#44445f"/><rect x="43" y="8" width="1.04" height="1.02" fill="#42425d"/><rect x="43" y="9" width="1.04" height="1.02" fill="#a4c2c3"/><rect x="43" y="10" width="1.04" height="1.02" fill="#fbfcfc"/><rect x="43" y="11" width="1.04" height="1.02" fill="#ffffff"/><rect x="43" y="12" width="1.04" height="1.02" fill="#ffffff"/><rect x="43" y="13" width="1.04" height="1.02" fill="#ffffff"/><rect x="44" y="0" width="1.04" height="1.02" fill="#9bb6bb"/><rect x="44" y="1" width="1.04" height="1.02" fill="#b0cccc"/><rect x="44" y="2" width="1.04" height="1.02" fill="#ffffff"/><rect x="44" y="3" width="1.04" height="1.02" fill="#ffffff"/><rect x="44" y="4" width="1.04" height="1.02" fill="#ffffff"/><rect x="44" y="5" width="1.04" height="1.02" fill="#eff5f4"/><rect x="44" y="6" width="1.04" height="1.02" fill="#9dbabd"/><rect x="44" y="7" width="1.04" height="1.02" fill="#36364b"/><rect x="44" y="8" width="1.04" height="1.02" fill="#404059"/><rect x="44" y="9" width="1.04" height="1.02" fill="#6b748b"/><rect x="44" y="10" width="1.04" height="1.02" fill="#ffffff"/><rect x="44" y="11" width="1.04" height="1.02" fill="#ffffff"/><rect x="44" y="12" width="1.04" height="1.02" fill="#ffffff"/><rect x="44" y="13" width="1.04" height="1.02" fill="#ffffff"/><rect x="45" y="0" width="1.04" height="1.02" fill="#bfd6d6"/><rect x="45" y="1" width="1.04" height="1.02" fill="#d3e3e3"/><rect x="45" y="2" width="1.04" height="1.02" fill="#ecf3f3"/><rect x="45" y="3" width="1.04" height="1.02" fill="#ffffff"/><rect x="45" y="4" width="1.04" height="1.02" fill="#ffffff"/><rect x="45" y="5" width="1.04" height="1.02" fill="#f1f6f6"/><rect x="45" y="6" width="1.04" height="1.02" fill="#92aab2"/><rect x="45" y="7" width="1.04" height="1.02" fill="#38384e"/><rect x="45" y="8" width="1.04" height="1.02" fill="#3a3a50"/><rect x="45" y="9" width="1.04" height="1.02" fill="#90a7af"/><rect x="45" y="10" width="1.04" height="1.02" fill="#cbdede"/><rect x="45" y="11" width="1.04" height="1.02" fill="#ffffff"/><rect x="45" y="12" width="1.04" height="1.02" fill="#ffffff"/><rect x="45" y="13" width="1.04" height="1.02" fill="#d9e7e6"/><rect x="46" y="0" width="1.04" height="1.02" fill="#ccdfdf"/><rect x="46" y="1" width="1.04" height="1.02" fill="#b1cdcd"/><rect x="46" y="2" width="1.04" height="1.02" fill="#bbd3d3"/><rect x="46" y="3" width="1.04" height="1.02" fill="#ffffff"/><rect x="46" y="4" width="1.04" height="1.02" fill="#ffffff"/><rect x="46" y="5" width="1.04" height="1.02" fill="#cfe0e0"/><rect x="46" y="6" width="1.04" height="1.02" fill="#90a7af"/><rect x="46" y="7" width="1.04" height="1.02" fill="#333347"/><rect x="46" y="8" width="1.04" height="1.02" fill="#292939"/><rect x="46" y="9" width="1.04" height="1.02" fill="#707b90"/><rect x="46" y="10" width="1.04" height="1.02" fill="#cfe0e0"/><rect x="46" y="11" width="1.04" height="1.02" fill="#ffffff"/><rect x="46" y="12" width="1.04" height="1.02" fill="#ffffff"/><rect x="46" y="13" width="1.04" height="1.02" fill="#f0f5f5"/><rect x="47" y="0" width="1.04" height="1.02" fill="#d2e2e2"/><rect x="47" y="1" width="1.04" height="1.02" fill="#c4d9d9"/><rect x="47" y="2" width="1.04" height="1.02" fill="#ffffff"/><rect x="47" y="3" width="1.04" height="1.02" fill="#ffffff"/><rect x="47" y="4" width="1.04" height="1.02" fill="#ffffff"/><rect x="47" y="5" width="1.04" height="1.02" fill="#ecf3f3"/><rect x="47" y="6" width="1.04" height="1.02" fill="#a2c0c2"/><rect x="47" y="7" width="1.04" height="1.02" fill="#4d4d6b"/><rect x="47" y="8" width="1.04" height="1.02" fill="#303043"/><rect x="47" y="9" width="1.04" height="1.02" fill="#9ebbbe"/><rect x="47" y="10" width="1.04" height="1.02" fill="#cee0df"/><rect x="47" y="11" width="1.04" height="1.02" fill="#ffffff"/><rect x="47" y="12" width="1.04" height="1.02" fill="#ffffff"/><rect x="47" y="13" width="1.04" height="1.02" fill="#ffffff"/><rect x="48" y="0" width="1.04" height="1.02" fill="#cadddd"/><rect x="48" y="1" width="1.04" height="1.02" fill="#e4eeed"/><rect x="48" y="2" width="1.04" height="1.02" fill="#f8fbfb"/><rect x="48" y="3" width="1.04" height="1.02" fill="#ffffff"/><rect x="48" y="4" width="1.04" height="1.02" fill="#ffffff"/><rect x="48" y="5" width="1.04" height="1.02" fill="#f8fbfb"/><rect x="48" y="6" width="1.04" height="1.02" fill="#c3d9d8"/><rect x="48" y="7" width="1.04" height="1.02" fill="#4e4e6c"/><rect x="48" y="8" width="1.04" height="1.02" fill="#2e2e41"/><rect x="48" y="9" width="1.04" height="1.02" fill="#889ca7"/><rect x="48" y="10" width="1.04" height="1.02" fill="#ffffff"/><rect x="48" y="11" width="1.04" height="1.02" fill="#ffffff"/><rect x="48" y="12" width="1.04" height="1.02" fill="#ffffff"/><rect x="48" y="13" width="1.04" height="1.02" fill="#ffffff"/><rect x="49" y="0" width="1.04" height="1.02" fill="#b4cfcf"/><rect x="49" y="1" width="1.04" height="1.02" fill="#a6c6c6"/><rect x="49" y="2" width="1.04" height="1.02" fill="#f0f5f5"/><rect x="49" y="3" width="1.04" height="1.02" fill="#ffffff"/><rect x="49" y="4" width="1.04" height="1.02" fill="#ffffff"/><rect x="49" y="5" width="1.04" height="1.02" fill="#dae7e7"/><rect x="49" y="6" width="1.04" height="1.02" fill="#a6c6c6"/><rect x="49" y="7" width="1.04" height="1.02" fill="#5a5d7a"/><rect x="49" y="8" width="1.04" height="1.02" fill="#3a3a50"/><rect x="49" y="9" width="1.04" height="1.02" fill="#96afb5"/><rect x="49" y="10" width="1.04" height="1.02" fill="#e1ecec"/><rect x="49" y="11" width="1.04" height="1.02" fill="#ffffff"/><rect x="49" y="12" width="1.04" height="1.02" fill="#ffffff"/><rect x="49" y="13" width="1.04" height="1.02" fill="#ffffff"/><rect x="50" y="0" width="1.04" height="1.02" fill="#cadddd"/><rect x="50" y="1" width="1.04" height="1.02" fill="#cadddd"/><rect x="50" y="2" width="1.04" height="1.02" fill="#f7fafa"/><rect x="50" y="3" width="1.04" height="1.02" fill="#ffffff"/><rect x="50" y="4" width="1.04" height="1.02" fill="#ffffff"/><rect x="50" y="5" width="1.04" height="1.02" fill="#ffffff"/><rect x="50" y="6" width="1.04" height="1.02" fill="#aecbcb"/><rect x="50" y="7" width="1.04" height="1.02" fill="#4f4f6e"/><rect x="50" y="8" width="1.04" height="1.02" fill="#3d3d55"/><rect x="50" y="9" width="1.04" height="1.02" fill="#96b0b6"/><rect x="50" y="10" width="1.04" height="1.02" fill="#e6efef"/><rect x="50" y="11" width="1.04" height="1.02" fill="#ffffff"/><rect x="50" y="12" width="1.04" height="1.02" fill="#ffffff"/><rect x="50" y="13" width="1.04" height="1.02" fill="#ffffff"/><rect x="51" y="0" width="1.04" height="1.02" fill="#e2eded"/><rect x="51" y="1" width="1.04" height="1.02" fill="#e2eded"/><rect x="51" y="2" width="1.04" height="1.02" fill="#f0f5f5"/><rect x="51" y="3" width="1.04" height="1.02" fill="#ffffff"/><rect x="51" y="4" width="1.04" height="1.02" fill="#ffffff"/><rect x="51" y="5" width="1.04" height="1.02" fill="#e4eeed"/><rect x="51" y="6" width="1.04" height="1.02" fill="#aac9c9"/><rect x="51" y="7" width="1.04" height="1.02" fill="#616781"/><rect x="51" y="8" width="1.04" height="1.02" fill="#42425b"/><rect x="51" y="9" width="1.04" height="1.02" fill="#8da3ad"/><rect x="51" y="10" width="1.04" height="1.02" fill="#e2eded"/><rect x="51" y="11" width="1.04" height="1.02" fill="#ffffff"/><rect x="51" y="12" width="1.04" height="1.02" fill="#ffffff"/><rect x="51" y="13" width="1.04" height="1.02" fill="#ffffff"/><rect x="52" y="0" width="1.04" height="1.02" fill="#c7dbdb"/><rect x="52" y="1" width="1.04" height="1.02" fill="#cbdede"/><rect x="52" y="2" width="1.04" height="1.02" fill="#fcfdfd"/><rect x="52" y="3" width="1.04" height="1.02" fill="#ffffff"/><rect x="52" y="4" width="1.04" height="1.02" fill="#ffffff"/><rect x="52" y="5" width="1.04" height="1.02" fill="#d9e7e6"/><rect x="52" y="6" width="1.04" height="1.02" fill="#9dbabd"/><rect x="52" y="7" width="1.04" height="1.02" fill="#535473"/><rect x="52" y="8" width="1.04" height="1.02" fill="#474763"/><rect x="52" y="9" width="1.04" height="1.02" fill="#90a7af"/><rect x="52" y="10" width="1.04" height="1.02" fill="#d7e6e6"/><rect x="52" y="11" width="1.04" height="1.02" fill="#ffffff"/><rect x="52" y="12" width="1.04" height="1.02" fill="#ffffff"/><rect x="52" y="13" width="1.04" height="1.02" fill="#ffffff"/><rect x="53" y="0" width="1.04" height="1.02" fill="#e2eded"/><rect x="53" y="1" width="1.04" height="1.02" fill="#e0ebeb"/><rect x="53" y="2" width="1.04" height="1.02" fill="#ffffff"/><rect x="53" y="3" width="1.04" height="1.02" fill="#ffffff"/><rect x="53" y="4" width="1.04" height="1.02" fill="#ffffff"/><rect x="53" y="5" width="1.04" height="1.02" fill="#eaf2f2"/><rect x="53" y="6" width="1.04" height="1.02" fill="#aecbcb"/><rect x="53" y="7" width="1.04" height="1.02" fill="#6c758b"/><rect x="53" y="8" width="1.04" height="1.02" fill="#43435e"/><rect x="53" y="9" width="1.04" height="1.02" fill="#90a7af"/><rect x="53" y="10" width="1.04" height="1.02" fill="#d9e7e6"/><rect x="53" y="11" width="1.04" height="1.02" fill="#ffffff"/><rect x="53" y="12" width="1.04" height="1.02" fill="#ffffff"/><rect x="53" y="13" width="1.04" height="1.02" fill="#ffffff"/><rect x="54" y="0" width="1.04" height="1.02" fill="#e1ecec"/><rect x="54" y="1" width="1.04" height="1.02" fill="#e8f0f0"/><rect x="54" y="2" width="1.04" height="1.02" fill="#f8fbfb"/><rect x="54" y="3" width="1.04" height="1.02" fill="#ffffff"/><rect x="54" y="4" width="1.04" height="1.02" fill="#ffffff"/><rect x="54" y="5" width="1.04" height="1.02" fill="#e4eeed"/><rect x="54" y="6" width="1.04" height="1.02" fill="#a2c0c2"/><rect x="54" y="7" width="1.04" height="1.02" fill="#6d788d"/><rect x="54" y="8" width="1.04" height="1.02" fill="#525372"/><rect x="54" y="9" width="1.04" height="1.02" fill="#93acb3"/><rect x="54" y="10" width="1.04" height="1.02" fill="#e1ecec"/><rect x="54" y="11" width="1.04" height="1.02" fill="#ffffff"/><rect x="54" y="12" width="1.04" height="1.02" fill="#ffffff"/><rect x="54" y="13" width="1.04" height="1.02" fill="#fafcfb"/><rect x="55" y="0" width="1.04" height="1.02" fill="#aac9c9"/><rect x="55" y="1" width="1.04" height="1.02" fill="#bdd5d5"/><rect x="55" y="2" width="1.04" height="1.02" fill="#ffffff"/><rect x="55" y="3" width="1.04" height="1.02" fill="#ffffff"/><rect x="55" y="4" width="1.04" height="1.02" fill="#ffffff"/><rect x="55" y="5" width="1.04" height="1.02" fill="#e4eeed"/><rect x="55" y="6" width="1.04" height="1.02" fill="#9db9bc"/><rect x="55" y="7" width="1.04" height="1.02" fill="#687188"/><rect x="55" y="8" width="1.04" height="1.02" fill="#4d4d6b"/><rect x="55" y="9" width="1.04" height="1.02" fill="#798799"/><rect x="55" y="10" width="1.04" height="1.02" fill="#ccdfdf"/><rect x="55" y="11" width="1.04" height="1.02" fill="#ffffff"/><rect x="55" y="12" width="1.04" height="1.02" fill="#ffffff"/><rect x="55" y="13" width="1.04" height="1.02" fill="#edf4f4"/><rect x="56" y="0" width="1.04" height="1.02" fill="#e6efef"/><rect x="56" y="1" width="1.04" height="1.02" fill="#d7e6e6"/><rect x="56" y="2" width="1.04" height="1.02" fill="#ffffff"/><rect x="56" y="3" width="1.04" height="1.02" fill="#ffffff"/><rect x="56" y="4" width="1.04" height="1.02" fill="#ffffff"/><rect x="56" y="5" width="1.04" height="1.02" fill="#d3e3e3"/><rect x="56" y="6" width="1.04" height="1.02" fill="#b2cece"/><rect x="56" y="7" width="1.04" height="1.02" fill="#748194"/><rect x="56" y="8" width="1.04" height="1.02" fill="#38384e"/><rect x="56" y="9" width="1.04" height="1.02" fill="#90a7af"/><rect x="56" y="10" width="1.04" height="1.02" fill="#edf4f4"/><rect x="56" y="11" width="1.04" height="1.02" fill="#ffffff"/><rect x="56" y="12" width="1.04" height="1.02" fill="#ffffff"/><rect x="56" y="13" width="1.04" height="1.02" fill="#ffffff"/><rect x="57" y="0" width="1.04" height="1.02" fill="#c7dbdb"/><rect x="57" y="1" width="1.04" height="1.02" fill="#d7e6e6"/><rect x="57" y="2" width="1.04" height="1.02" fill="#fcfdfd"/><rect x="57" y="3" width="1.04" height="1.02" fill="#ffffff"/><rect x="57" y="4" width="1.04" height="1.02" fill="#ffffff"/><rect x="57" y="5" width="1.04" height="1.02" fill="#dbe8e8"/><rect x="57" y="6" width="1.04" height="1.02" fill="#a9c8c8"/><rect x="57" y="7" width="1.04" height="1.02" fill="#4e4e6c"/><rect x="57" y="8" width="1.04" height="1.02" fill="#505070"/><rect x="57" y="9" width="1.04" height="1.02" fill="#7f909f"/><rect x="57" y="10" width="1.04" height="1.02" fill="#dae7e7"/><rect x="57" y="11" width="1.04" height="1.02" fill="#ffffff"/><rect x="57" y="12" width="1.04" height="1.02" fill="#ffffff"/><rect x="57" y="13" width="1.04" height="1.02" fill="#f3f7f7"/><rect x="58" y="0" width="1.04" height="1.02" fill="#b8d2d1"/><rect x="58" y="1" width="1.04" height="1.02" fill="#cfe0e0"/><rect x="58" y="2" width="1.04" height="1.02" fill="#ffffff"/><rect x="58" y="3" width="1.04" height="1.02" fill="#ffffff"/><rect x="58" y="4" width="1.04" height="1.02" fill="#ffffff"/><rect x="58" y="5" width="1.04" height="1.02" fill="#cadddd"/><rect x="58" y="6" width="1.04" height="1.02" fill="#a1bfc1"/><rect x="58" y="7" width="1.04" height="1.02" fill="#5b5f7b"/><rect x="58" y="8" width="1.04" height="1.02" fill="#3c3c54"/><rect x="58" y="9" width="1.04" height="1.02" fill="#899ea9"/><rect x="58" y="10" width="1.04" height="1.02" fill="#ecf3f3"/><rect x="58" y="11" width="1.04" height="1.02" fill="#ffffff"/><rect x="58" y="12" width="1.04" height="1.02" fill="#ffffff"/><rect x="58" y="13" width="1.04" height="1.02" fill="#e5eeee"/><rect x="59" y="0" width="1.04" height="1.02" fill="#bbd3d3"/><rect x="59" y="1" width="1.04" height="1.02" fill="#cee0df"/><rect x="59" y="2" width="1.04" height="1.02" fill="#f3f7f7"/><rect x="59" y="3" width="1.04" height="1.02" fill="#ffffff"/><rect x="59" y="4" width="1.04" height="1.02" fill="#ffffff"/><rect x="59" y="5" width="1.04" height="1.02" fill="#eff5f4"/><rect x="59" y="6" width="1.04" height="1.02" fill="#b1cdcd"/><rect x="59" y="7" width="1.04" height="1.02" fill="#6c778c"/><rect x="59" y="8" width="1.04" height="1.02" fill="#5a5d7a"/><rect x="59" y="9" width="1.04" height="1.02" fill="#97b2b7"/><rect x="59" y="10" width="1.04" height="1.02" fill="#cfe0e0"/><rect x="59" y="11" width="1.04" height="1.02" fill="#ffffff"/><rect x="59" y="12" width="1.04" height="1.02" fill="#ffffff"/><rect x="59" y="13" width="1.04" height="1.02" fill="#ffffff"/><rect x="60" y="0" width="1.04" height="1.02" fill="#b9d2d2"/><rect x="60" y="1" width="1.04" height="1.02" fill="#cfe0e0"/><rect x="60" y="2" width="1.04" height="1.02" fill="#f8fbfb"/><rect x="60" y="3" width="1.04" height="1.02" fill="#ffffff"/><rect x="60" y="4" width="1.04" height="1.02" fill="#ffffff"/><rect x="60" y="5" width="1.04" height="1.02" fill="#edf4f4"/><rect x="60" y="6" width="1.04" height="1.02" fill="#a3c1c3"/><rect x="60" y="7" width="1.04" height="1.02" fill="#676f87"/><rect x="60" y="8" width="1.04" height="1.02" fill="#6a738a"/><rect x="60" y="9" width="1.04" height="1.02" fill="#9bb6bb"/><rect x="60" y="10" width="1.04" height="1.02" fill="#dde9e9"/><rect x="60" y="11" width="1.04" height="1.02" fill="#ffffff"/><rect x="60" y="12" width="1.04" height="1.02" fill="#ffffff"/><rect x="60" y="13" width="1.04" height="1.02" fill="#ffffff"/><rect x="61" y="2" width="1.04" height="1.02" fill="#f4f8f8"/><rect x="61" y="3" width="1.04" height="1.02" fill="#ffffff"/><rect x="61" y="4" width="1.04" height="1.02" fill="#ffffff"/><rect x="61" y="5" width="1.04" height="1.02" fill="#ffffff"/><rect x="61" y="6" width="1.04" height="1.02" fill="#a7c7c7"/><rect x="61" y="7" width="1.04" height="1.02" fill="#575a77"/><rect x="61" y="8" width="1.04" height="1.02" fill="#555675"/><rect x="61" y="9" width="1.04" height="1.02" fill="#92aab2"/><rect x="61" y="10" width="1.04" height="1.02" fill="#e4eeed"/><rect x="61" y="11" width="1.04" height="1.02" fill="#ffffff"/><rect x="61" y="12" width="1.04" height="1.02" fill="#ffffff"/><rect x="61" y="13" width="1.04" height="1.02" fill="#ffffff"/><rect x="62" y="1" width="1.04" height="1.02" fill="#cee0df"/><rect x="62" y="2" width="1.04" height="1.02" fill="#f8fbfb"/><rect x="62" y="3" width="1.04" height="1.02" fill="#ffffff"/><rect x="62" y="4" width="1.04" height="1.02" fill="#ffffff"/><rect x="62" y="5" width="1.04" height="1.02" fill="#f1f6f6"/><rect x="62" y="6" width="1.04" height="1.02" fill="#bdd5d5"/><rect x="62" y="7" width="1.04" height="1.02" fill="#697289"/><rect x="62" y="8" width="1.04" height="1.02" fill="#5e637e"/><rect x="62" y="9" width="1.04" height="1.02" fill="#a5c5c5"/><rect x="62" y="10" width="1.04" height="1.02" fill="#f4f8f8"/><rect x="62" y="11" width="1.04" height="1.02" fill="#ffffff"/><rect x="62" y="12" width="1.04" height="1.02" fill="#ffffff"/><rect x="62" y="13" width="1.04" height="1.02" fill="#ffffff"/><rect x="63" y="1" width="1.04" height="1.02" fill="#d9e7e6"/><rect x="63" y="2" width="1.04" height="1.02" fill="#ffffff"/><rect x="63" y="3" width="1.04" height="1.02" fill="#ffffff"/><rect x="63" y="4" width="1.04" height="1.02" fill="#ffffff"/><rect x="63" y="5" width="1.04" height="1.02" fill="#fafcfb"/><rect x="63" y="6" width="1.04" height="1.02" fill="#a7c7c7"/><rect x="63" y="7" width="1.04" height="1.02" fill="#717d91"/><rect x="63" y="8" width="1.04" height="1.02" fill="#636983"/><rect x="63" y="9" width="1.04" height="1.02" fill="#93acb3"/><rect x="63" y="10" width="1.04" height="1.02" fill="#f1f6f6"/><rect x="63" y="11" width="1.04" height="1.02" fill="#ffffff"/><rect x="63" y="12" width="1.04" height="1.02" fill="#ffffff"/><rect x="63" y="13" width="1.04" height="1.02" fill="#ffffff"/><rect x="64" y="1" width="1.04" height="1.02" fill="#e0ebeb"/><rect x="64" y="2" width="1.04" height="1.02" fill="#ffffff"/><rect x="64" y="3" width="1.04" height="1.02" fill="#ffffff"/><rect x="64" y="4" width="1.04" height="1.02" fill="#ffffff"/><rect x="64" y="5" width="1.04" height="1.02" fill="#ecf3f3"/><rect x="64" y="6" width="1.04" height="1.02" fill="#a1bfc1"/><rect x="64" y="7" width="1.04" height="1.02" fill="#616781"/><rect x="64" y="8" width="1.04" height="1.02" fill="#697289"/><rect x="64" y="9" width="1.04" height="1.02" fill="#9dbabd"/><rect x="64" y="10" width="1.04" height="1.02" fill="#dae7e7"/><rect x="64" y="11" width="1.04" height="1.02" fill="#ffffff"/><rect x="64" y="12" width="1.04" height="1.02" fill="#ffffff"/><rect x="64" y="13" width="1.04" height="1.02" fill="#ffffff"/><rect x="65" y="1" width="1.04" height="1.02" fill="#b5d0d0"/><rect x="65" y="2" width="1.04" height="1.02" fill="#ffffff"/><rect x="65" y="3" width="1.04" height="1.02" fill="#ffffff"/><rect x="65" y="4" width="1.04" height="1.02" fill="#ffffff"/><rect x="65" y="5" width="1.04" height="1.02" fill="#d2e2e2"/><rect x="65" y="6" width="1.04" height="1.02" fill="#99b4b9"/><rect x="65" y="7" width="1.04" height="1.02" fill="#5b5f7b"/><rect x="65" y="8" width="1.04" height="1.02" fill="#585b78"/><rect x="65" y="9" width="1.04" height="1.02" fill="#a5c5c5"/><rect x="65" y="10" width="1.04" height="1.02" fill="#d5e4e4"/><rect x="65" y="11" width="1.04" height="1.02" fill="#ffffff"/><rect x="65" y="12" width="1.04" height="1.02" fill="#ffffff"/><rect x="65" y="13" width="1.04" height="1.02" fill="#d6e5e5"/><rect x="66" y="1" width="1.04" height="1.02" fill="#b2cece"/><rect x="66" y="2" width="1.04" height="1.02" fill="#ffffff"/><rect x="66" y="3" width="1.04" height="1.02" fill="#ffffff"/><rect x="66" y="4" width="1.04" height="1.02" fill="#ffffff"/><rect x="66" y="5" width="1.04" height="1.02" fill="#cadddd"/><rect x="66" y="6" width="1.04" height="1.02" fill="#a4c2c3"/><rect x="66" y="7" width="1.04" height="1.02" fill="#6d788d"/><rect x="66" y="8" width="1.04" height="1.02" fill="#5d617d"/><rect x="66" y="9" width="1.04" height="1.02" fill="#b5d0d0"/><rect x="66" y="10" width="1.04" height="1.02" fill="#f5f9f9"/><rect x="66" y="11" width="1.04" height="1.02" fill="#ffffff"/><rect x="66" y="12" width="1.04" height="1.02" fill="#ffffff"/><rect x="66" y="13" width="1.04" height="1.02" fill="#ffffff"/><rect x="67" y="1" width="1.04" height="1.02" fill="#b5d0d0"/><rect x="67" y="2" width="1.04" height="1.02" fill="#f0f5f5"/><rect x="67" y="3" width="1.04" height="1.02" fill="#ffffff"/><rect x="67" y="4" width="1.04" height="1.02" fill="#ffffff"/><rect x="67" y="5" width="1.04" height="1.02" fill="#eff5f4"/><rect x="67" y="6" width="1.04" height="1.02" fill="#aac9c9"/><rect x="67" y="7" width="1.04" height="1.02" fill="#5e637e"/><rect x="67" y="8" width="1.04" height="1.02" fill="#6c758b"/><rect x="67" y="9" width="1.04" height="1.02" fill="#a4c4c4"/><rect x="67" y="10" width="1.04" height="1.02" fill="#f5f9f9"/><rect x="67" y="11" width="1.04" height="1.02" fill="#ffffff"/><rect x="67" y="12" width="1.04" height="1.02" fill="#ffffff"/><rect x="67" y="13" width="1.04" height="1.02" fill="#ffffff"/><rect x="68" y="1" width="1.04" height="1.02" fill="#dae7e7"/><rect x="68" y="2" width="1.04" height="1.02" fill="#ffffff"/><rect x="68" y="3" width="1.04" height="1.02" fill="#ffffff"/><rect x="68" y="4" width="1.04" height="1.02" fill="#ffffff"/><rect x="68" y="5" width="1.04" height="1.02" fill="#c1d8d8"/><rect x="68" y="6" width="1.04" height="1.02" fill="#a0bec0"/><rect x="68" y="7" width="1.04" height="1.02" fill="#6b748b"/><rect x="68" y="8" width="1.04" height="1.02" fill="#5b5f7b"/><rect x="68" y="9" width="1.04" height="1.02" fill="#a4c4c4"/><rect x="68" y="10" width="1.04" height="1.02" fill="#d6e5e5"/><rect x="68" y="11" width="1.04" height="1.02" fill="#ffffff"/><rect x="68" y="12" width="1.04" height="1.02" fill="#ffffff"/><rect x="68" y="13" width="1.04" height="1.02" fill="#f7fafa"/><rect x="69" y="1" width="1.04" height="1.02" fill="#d9e7e6"/><rect x="69" y="2" width="1.04" height="1.02" fill="#ffffff"/><rect x="69" y="3" width="1.04" height="1.02" fill="#ffffff"/><rect x="69" y="4" width="1.04" height="1.02" fill="#ffffff"/><rect x="69" y="5" width="1.04" height="1.02" fill="#e9f1f1"/><rect x="69" y="6" width="1.04" height="1.02" fill="#b4cfcf"/><rect x="69" y="7" width="1.04" height="1.02" fill="#666e86"/><rect x="69" y="8" width="1.04" height="1.02" fill="#636983"/><rect x="69" y="9" width="1.04" height="1.02" fill="#b9d2d2"/><rect x="69" y="10" width="1.04" height="1.02" fill="#f1f6f6"/><rect x="69" y="11" width="1.04" height="1.02" fill="#ffffff"/><rect x="69" y="12" width="1.04" height="1.02" fill="#ffffff"/><rect x="69" y="13" width="1.04" height="1.02" fill="#edf4f4"/><rect x="70" y="1" width="1.04" height="1.02" fill="#cee0df"/><rect x="70" y="2" width="1.04" height="1.02" fill="#e8f0f0"/><rect x="70" y="3" width="1.04" height="1.02" fill="#ffffff"/><rect x="70" y="4" width="1.04" height="1.02" fill="#ffffff"/><rect x="70" y="5" width="1.04" height="1.02" fill="#e6efef"/><rect x="70" y="6" width="1.04" height="1.02" fill="#c3d9d8"/><rect x="70" y="7" width="1.04" height="1.02" fill="#4c4c6a"/><rect x="70" y="8" width="1.04" height="1.02" fill="#575976"/><rect x="70" y="9" width="1.04" height="1.02" fill="#aecbcb"/><rect x="70" y="10" width="1.04" height="1.02" fill="#dbe8e8"/><rect x="70" y="11" width="1.04" height="1.02" fill="#ffffff"/><rect x="70" y="12" width="1.04" height="1.02" fill="#ffffff"/><rect x="70" y="13" width="1.04" height="1.02" fill="#ffffff"/><rect x="71" y="1" width="1.04" height="1.02" fill="#cee0df"/><rect x="71" y="2" width="1.04" height="1.02" fill="#ffffff"/><rect x="71" y="3" width="1.04" height="1.02" fill="#ffffff"/><rect x="71" y="4" width="1.04" height="1.02" fill="#ffffff"/><rect x="71" y="5" width="1.04" height="1.02" fill="#c8dcdc"/><rect x="71" y="6" width="1.04" height="1.02" fill="#b1cdcd"/><rect x="71" y="7" width="1.04" height="1.02" fill="#697289"/><rect x="71" y="8" width="1.04" height="1.02" fill="#8091a0"/><rect x="71" y="9" width="1.04" height="1.02" fill="#bdd5d5"/><rect x="71" y="10" width="1.04" height="1.02" fill="#d6e5e5"/><rect x="71" y="11" width="1.04" height="1.02" fill="#ffffff"/><rect x="71" y="12" width="1.04" height="1.02" fill="#ffffff"/><rect x="71" y="13" width="1.04" height="1.02" fill="#ffffff"/><rect x="72" y="1" width="1.04" height="1.02" fill="#dae7e7"/><rect x="72" y="2" width="1.04" height="1.02" fill="#ffffff"/><rect x="72" y="3" width="1.04" height="1.02" fill="#ffffff"/><rect x="72" y="4" width="1.04" height="1.02" fill="#ffffff"/><rect x="72" y="5" width="1.04" height="1.02" fill="#e1ecec"/><rect x="72" y="6" width="1.04" height="1.02" fill="#b2cece"/><rect x="72" y="7" width="1.04" height="1.02" fill="#768496"/><rect x="72" y="8" width="1.04" height="1.02" fill="#737f92"/><rect x="72" y="9" width="1.04" height="1.02" fill="#b4cfcf"/><rect x="72" y="10" width="1.04" height="1.02" fill="#dde9e9"/><rect x="72" y="11" width="1.04" height="1.02" fill="#ffffff"/><rect x="72" y="12" width="1.04" height="1.02" fill="#ffffff"/><rect x="72" y="13" width="1.04" height="1.02" fill="#ffffff"/><rect x="73" y="1" width="1.04" height="1.02" fill="#dbe8e8"/><rect x="73" y="2" width="1.04" height="1.02" fill="#ffffff"/><rect x="73" y="3" width="1.04" height="1.02" fill="#ffffff"/><rect x="73" y="4" width="1.04" height="1.02" fill="#ffffff"/><rect x="73" y="5" width="1.04" height="1.02" fill="#e9f1f1"/><rect x="73" y="6" width="1.04" height="1.02" fill="#9fbcbf"/><rect x="73" y="7" width="1.04" height="1.02" fill="#707b90"/><rect x="73" y="8" width="1.04" height="1.02" fill="#768496"/><rect x="73" y="9" width="1.04" height="1.02" fill="#bfd6d6"/><rect x="73" y="10" width="1.04" height="1.02" fill="#cfe0e0"/><rect x="73" y="11" width="1.04" height="1.02" fill="#ffffff"/><rect x="73" y="12" width="1.04" height="1.02" fill="#ffffff"/><rect x="73" y="13" width="1.04" height="1.02" fill="#f5f9f9"/><rect x="74" y="1" width="1.04" height="1.02" fill="#c8dcdc"/><rect x="74" y="2" width="1.04" height="1.02" fill="#ecf3f3"/><rect x="74" y="3" width="1.04" height="1.02" fill="#ffffff"/><rect x="74" y="4" width="1.04" height="1.02" fill="#ffffff"/><rect x="74" y="5" width="1.04" height="1.02" fill="#c8dcdc"/><rect x="74" y="6" width="1.04" height="1.02" fill="#90a8b0"/><rect x="74" y="7" width="1.04" height="1.02" fill="#646b84"/><rect x="74" y="8" width="1.04" height="1.02" fill="#6b748b"/><rect x="74" y="9" width="1.04" height="1.02" fill="#9cb8bc"/><rect x="74" y="10" width="1.04" height="1.02" fill="#e2eded"/><rect x="74" y="11" width="1.04" height="1.02" fill="#ffffff"/><rect x="74" y="12" width="1.04" height="1.02" fill="#ffffff"/><rect x="74" y="13" width="1.04" height="1.02" fill="#fefefe"/><rect x="75" y="1" width="1.04" height="1.02" fill="#d5e4e4"/><rect x="75" y="2" width="1.04" height="1.02" fill="#ffffff"/><rect x="75" y="3" width="1.04" height="1.02" fill="#ffffff"/><rect x="75" y="4" width="1.04" height="1.02" fill="#ffffff"/><rect x="75" y="5" width="1.04" height="1.02" fill="#cbdede"/><rect x="75" y="6" width="1.04" height="1.02" fill="#9ebbbe"/><rect x="75" y="7" width="1.04" height="1.02" fill="#6c778c"/><rect x="75" y="8" width="1.04" height="1.02" fill="#8091a0"/><rect x="75" y="9" width="1.04" height="1.02" fill="#b7d1d1"/><rect x="75" y="10" width="1.04" height="1.02" fill="#e0ebeb"/><rect x="75" y="11" width="1.04" height="1.02" fill="#ffffff"/><rect x="75" y="12" width="1.04" height="1.02" fill="#ffffff"/><rect x="75" y="13" width="1.04" height="1.02" fill="#f8fbfb"/><rect x="76" y="1" width="1.04" height="1.02" fill="#d3e3e3"/><rect x="76" y="2" width="1.04" height="1.02" fill="#deeaea"/><rect x="76" y="3" width="1.04" height="1.02" fill="#ffffff"/><rect x="76" y="4" width="1.04" height="1.02" fill="#ffffff"/><rect x="76" y="5" width="1.04" height="1.02" fill="#bcd4d4"/><rect x="76" y="6" width="1.04" height="1.02" fill="#a4c2c3"/><rect x="76" y="7" width="1.04" height="1.02" fill="#646b84"/><rect x="76" y="8" width="1.04" height="1.02" fill="#646b84"/><rect x="76" y="9" width="1.04" height="1.02" fill="#a4c2c3"/><rect x="76" y="10" width="1.04" height="1.02" fill="#d6e5e5"/><rect x="76" y="11" width="1.04" height="1.02" fill="#ffffff"/><rect x="76" y="12" width="1.04" height="1.02" fill="#ffffff"/><rect x="76" y="13" width="1.04" height="1.02" fill="#d6e5e5"/><rect x="77" y="1" width="1.04" height="1.02" fill="#cadddd"/><rect x="77" y="2" width="1.04" height="1.02" fill="#ffffff"/><rect x="77" y="3" width="1.04" height="1.02" fill="#ffffff"/><rect x="77" y="4" width="1.04" height="1.02" fill="#ffffff"/><rect x="77" y="5" width="1.04" height="1.02" fill="#ffffff"/><rect x="77" y="6" width="1.04" height="1.02" fill="#accaca"/><rect x="77" y="7" width="1.04" height="1.02" fill="#8192a0"/><rect x="77" y="8" width="1.04" height="1.02" fill="#879ba7"/><rect x="77" y="9" width="1.04" height="1.02" fill="#a6c6c6"/><rect x="77" y="10" width="1.04" height="1.02" fill="#f8fbfb"/><rect x="77" y="11" width="1.04" height="1.02" fill="#ffffff"/><rect x="77" y="12" width="1.04" height="1.02" fill="#ffffff"/><rect x="77" y="13" width="1.04" height="1.02" fill="#ffffff"/><rect x="78" y="1" width="1.04" height="1.02" fill="#c0d7d7"/><rect x="78" y="2" width="1.04" height="1.02" fill="#ffffff"/><rect x="78" y="3" width="1.04" height="1.02" fill="#ffffff"/><rect x="78" y="4" width="1.04" height="1.02" fill="#ffffff"/><rect x="78" y="5" width="1.04" height="1.02" fill="#cbdede"/><rect x="78" y="6" width="1.04" height="1.02" fill="#a0bec0"/><rect x="78" y="7" width="1.04" height="1.02" fill="#6e798e"/><rect x="78" y="8" width="1.04" height="1.02" fill="#7c8c9c"/><rect x="78" y="9" width="1.04" height="1.02" fill="#b4cfcf"/><rect x="78" y="10" width="1.04" height="1.02" fill="#bfd6d6"/><rect x="78" y="11" width="1.04" height="1.02" fill="#ffffff"/><rect x="78" y="12" width="1.04" height="1.02" fill="#ffffff"/><rect x="78" y="13" width="1.04" height="1.02" fill="#fafcfb"/><rect x="79" y="1" width="1.04" height="1.02" fill="#c1d8d8"/><rect x="79" y="2" width="1.04" height="1.02" fill="#fafcfb"/><rect x="79" y="3" width="1.04" height="1.02" fill="#ffffff"/><rect x="79" y="4" width="1.04" height="1.02" fill="#ffffff"/><rect x="79" y="5" width="1.04" height="1.02" fill="#f3f7f7"/><rect x="79" y="6" width="1.04" height="1.02" fill="#b4cfcf"/><rect x="79" y="7" width="1.04" height="1.02" fill="#6d788d"/><rect x="79" y="8" width="1.04" height="1.02" fill="#8598a5"/><rect x="79" y="9" width="1.04" height="1.02" fill="#adcbca"/><rect x="79" y="10" width="1.04" height="1.02" fill="#cee0df"/><rect x="79" y="11" width="1.04" height="1.02" fill="#ffffff"/><rect x="79" y="12" width="1.04" height="1.02" fill="#ffffff"/><rect x="79" y="13" width="1.04" height="1.02" fill="#dde9e9"/><rect x="80" y="1" width="1.04" height="1.02" fill="#cfe0e0"/><rect x="80" y="2" width="1.04" height="1.02" fill="#eff5f4"/><rect x="80" y="3" width="1.04" height="1.02" fill="#ffffff"/><rect x="80" y="4" width="1.04" height="1.02" fill="#ffffff"/><rect x="80" y="5" width="1.04" height="1.02" fill="#dbe8e8"/><rect x="80" y="6" width="1.04" height="1.02" fill="#a6c6c6"/><rect x="80" y="7" width="1.04" height="1.02" fill="#879ba7"/><rect x="80" y="8" width="1.04" height="1.02" fill="#8598a5"/><rect x="80" y="9" width="1.04" height="1.02" fill="#b8d2d1"/><rect x="80" y="10" width="1.04" height="1.02" fill="#e4eeed"/><rect x="80" y="11" width="1.04" height="1.02" fill="#ffffff"/><rect x="80" y="12" width="1.04" height="1.02" fill="#ffffff"/><rect x="80" y="13" width="1.04" height="1.02" fill="#f8fbfb"/><rect x="81" y="1" width="1.04" height="1.02" fill="#dde9e9"/><rect x="81" y="2" width="1.04" height="1.02" fill="#f4f8f8"/><rect x="81" y="3" width="1.04" height="1.02" fill="#ffffff"/><rect x="81" y="4" width="1.04" height="1.02" fill="#ffffff"/><rect x="81" y="5" width="1.04" height="1.02" fill="#cfe0e0"/><rect x="81" y="6" width="1.04" height="1.02" fill="#b1cdcd"/><rect x="81" y="7" width="1.04" height="1.02" fill="#7f909f"/><rect x="81" y="8" width="1.04" height="1.02" fill="#8091a0"/><rect x="81" y="9" width="1.04" height="1.02" fill="#bdd5d5"/><rect x="81" y="10" width="1.04" height="1.02" fill="#e6efef"/><rect x="81" y="11" width="1.04" height="1.02" fill="#ffffff"/><rect x="81" y="12" width="1.04" height="1.02" fill="#ffffff"/><rect x="81" y="13" width="1.04" height="1.02" fill="#ffffff"/><rect x="82" y="1" width="1.04" height="1.02" fill="#e1ecec"/><rect x="82" y="2" width="1.04" height="1.02" fill="#ffffff"/><rect x="82" y="3" width="1.04" height="1.02" fill="#ffffff"/><rect x="82" y="4" width="1.04" height="1.02" fill="#ffffff"/><rect x="82" y="5" width="1.04" height="1.02" fill="#e2eded"/><rect x="82" y="6" width="1.04" height="1.02" fill="#bbd3d3"/><rect x="82" y="7" width="1.04" height="1.02" fill="#8091a0"/><rect x="82" y="8" width="1.04" height="1.02" fill="#8ba1ab"/><rect x="82" y="9" width="1.04" height="1.02" fill="#cadddd"/><rect x="82" y="10" width="1.04" height="1.02" fill="#e6efef"/><rect x="82" y="11" width="1.04" height="1.02" fill="#ffffff"/><rect x="82" y="12" width="1.04" height="1.02" fill="#ffffff"/><rect x="82" y="13" width="1.04" height="1.02" fill="#ffffff"/><rect x="83" y="1" width="1.04" height="1.02" fill="#dae7e7"/><rect x="83" y="2" width="1.04" height="1.02" fill="#f8fbfb"/><rect x="83" y="3" width="1.04" height="1.02" fill="#ffffff"/><rect x="83" y="4" width="1.04" height="1.02" fill="#ffffff"/><rect x="83" y="5" width="1.04" height="1.02" fill="#e4eeed"/><rect x="83" y="6" width="1.04" height="1.02" fill="#a0bec0"/><rect x="83" y="7" width="1.04" height="1.02" fill="#8396a3"/><rect x="83" y="8" width="1.04" height="1.02" fill="#8ca2ac"/><rect x="83" y="9" width="1.04" height="1.02" fill="#c8dcdc"/><rect x="83" y="10" width="1.04" height="1.02" fill="#edf4f4"/><rect x="83" y="11" width="1.04" height="1.02" fill="#ffffff"/><rect x="83" y="12" width="1.04" height="1.02" fill="#ffffff"/><rect x="83" y="13" width="1.04" height="1.02" fill="#ffffff"/><rect x="84" y="1" width="1.04" height="1.02" fill="#d9e7e6"/><rect x="84" y="2" width="1.04" height="1.02" fill="#ffffff"/><rect x="84" y="3" width="1.04" height="1.02" fill="#ffffff"/><rect x="84" y="4" width="1.04" height="1.02" fill="#ffffff"/><rect x="84" y="5" width="1.04" height="1.02" fill="#cadddd"/><rect x="84" y="6" width="1.04" height="1.02" fill="#aac9c9"/><rect x="84" y="7" width="1.04" height="1.02" fill="#768496"/><rect x="84" y="8" width="1.04" height="1.02" fill="#8fa6ae"/><rect x="84" y="9" width="1.04" height="1.02" fill="#b8d2d1"/><rect x="84" y="10" width="1.04" height="1.02" fill="#f8fbfb"/><rect x="84" y="11" width="1.04" height="1.02" fill="#ffffff"/><rect x="84" y="12" width="1.04" height="1.02" fill="#ffffff"/><rect x="84" y="13" width="1.04" height="1.02" fill="#ffffff"/><rect x="85" y="1" width="1.04" height="1.02" fill="#d1e1e1"/><rect x="85" y="2" width="1.04" height="1.02" fill="#ffffff"/><rect x="85" y="3" width="1.04" height="1.02" fill="#ffffff"/><rect x="85" y="4" width="1.04" height="1.02" fill="#ffffff"/><rect x="85" y="5" width="1.04" height="1.02" fill="#f0f5f5"/><rect x="85" y="6" width="1.04" height="1.02" fill="#b2cece"/><rect x="85" y="7" width="1.04" height="1.02" fill="#93acb3"/><rect x="85" y="8" width="1.04" height="1.02" fill="#a0bec0"/><rect x="85" y="10" width="1.04" height="1.02" fill="#edf4f4"/><rect x="85" y="11" width="1.04" height="1.02" fill="#ffffff"/><rect x="85" y="12" width="1.04" height="1.02" fill="#ffffff"/><rect x="85" y="13" width="1.04" height="1.02" fill="#ffffff"/><rect x="86" y="1" width="1.04" height="1.02" fill="#c0d7d7"/><rect x="86" y="2" width="1.04" height="1.02" fill="#ffffff"/><rect x="86" y="3" width="1.04" height="1.02" fill="#ffffff"/><rect x="86" y="4" width="1.04" height="1.02" fill="#ffffff"/><rect x="86" y="5" width="1.04" height="1.02" fill="#e6efef"/><rect x="86" y="6" width="1.04" height="1.02" fill="#a3c1c3"/><rect x="86" y="7" width="1.04" height="1.02" fill="#8da3ad"/><rect x="86" y="8" width="1.04" height="1.02" fill="#9fbcbf"/><rect x="86" y="9" width="1.04" height="1.02" fill="#cee0df"/><rect x="86" y="10" width="1.04" height="1.02" fill="#e8f0f0"/><rect x="86" y="11" width="1.04" height="1.02" fill="#ffffff"/><rect x="86" y="12" width="1.04" height="1.02" fill="#ffffff"/><rect x="86" y="13" width="1.04" height="1.02" fill="#fafcfb"/><rect x="87" y="1" width="1.04" height="1.02" fill="#d5e4e4"/><rect x="87" y="2" width="1.04" height="1.02" fill="#ffffff"/><rect x="87" y="3" width="1.04" height="1.02" fill="#ffffff"/><rect x="87" y="4" width="1.04" height="1.02" fill="#ffffff"/><rect x="87" y="5" width="1.04" height="1.02" fill="#fbfcfc"/><rect x="87" y="6" width="1.04" height="1.02" fill="#c8dcdc"/><rect x="87" y="7" width="1.04" height="1.02" fill="#92aab2"/><rect x="87" y="8" width="1.04" height="1.02" fill="#9bb6bb"/><rect x="87" y="9" width="1.04" height="1.02" fill="#c3d9d8"/><rect x="87" y="10" width="1.04" height="1.02" fill="#e8f0f0"/><rect x="87" y="11" width="1.04" height="1.02" fill="#ffffff"/><rect x="87" y="12" width="1.04" height="1.02" fill="#ffffff"/><rect x="87" y="13" width="1.04" height="1.02" fill="#ffffff"/><rect x="88" y="1" width="1.04" height="1.02" fill="#e4eeed"/><rect x="88" y="2" width="1.04" height="1.02" fill="#e8f0f0"/><rect x="88" y="3" width="1.04" height="1.02" fill="#ffffff"/><rect x="88" y="4" width="1.04" height="1.02" fill="#ffffff"/><rect x="88" y="5" width="1.04" height="1.02" fill="#d9e7e6"/><rect x="88" y="6" width="1.04" height="1.02" fill="#9fbcbf"/><rect x="88" y="7" width="1.04" height="1.02" fill="#7f909f"/><rect x="88" y="8" width="1.04" height="1.02" fill="#899ea9"/><rect x="88" y="9" width="1.04" height="1.02" fill="#b9d2d2"/><rect x="88" y="10" width="1.04" height="1.02" fill="#cfe0e0"/><rect x="88" y="11" width="1.04" height="1.02" fill="#ffffff"/><rect x="88" y="12" width="1.04" height="1.02" fill="#ffffff"/><rect x="88" y="13" width="1.04" height="1.02" fill="#e5eeee"/><rect x="89" y="1" width="1.04" height="1.02" fill="#ccdfdf"/><rect x="89" y="2" width="1.04" height="1.02" fill="#ffffff"/><rect x="89" y="3" width="1.04" height="1.02" fill="#ffffff"/><rect x="89" y="4" width="1.04" height="1.02" fill="#ffffff"/><rect x="89" y="5" width="1.04" height="1.02" fill="#eff5f4"/><rect x="89" y="6" width="1.04" height="1.02" fill="#a4c2c3"/><rect x="89" y="7" width="1.04" height="1.02" fill="#8192a0"/><rect x="89" y="8" width="1.04" height="1.02" fill="#91a9b1"/><rect x="89" y="9" width="1.04" height="1.02" fill="#d7e6e6"/><rect x="89" y="10" width="1.04" height="1.02" fill="#e1ecec"/><rect x="89" y="11" width="1.04" height="1.02" fill="#ffffff"/><rect x="89" y="12" width="1.04" height="1.02" fill="#ffffff"/><rect x="89" y="13" width="1.04" height="1.02" fill="#f7fafa"/><rect x="90" y="1" width="1.04" height="1.02" fill="#d5e4e4"/><rect x="90" y="2" width="1.04" height="1.02" fill="#ffffff"/><rect x="90" y="3" width="1.04" height="1.02" fill="#ffffff"/><rect x="90" y="4" width="1.04" height="1.02" fill="#ffffff"/><rect x="90" y="5" width="1.04" height="1.02" fill="#e5eeee"/><rect x="90" y="6" width="1.04" height="1.02" fill="#bcd4d4"/><rect x="90" y="7" width="1.04" height="1.02" fill="#889ca7"/><rect x="90" y="8" width="1.04" height="1.02" fill="#a4c4c4"/><rect x="90" y="9" width="1.04" height="1.02" fill="#d3e3e3"/><rect x="90" y="10" width="1.04" height="1.02" fill="#d5e4e4"/><rect x="90" y="11" width="1.04" height="1.02" fill="#ffffff"/><rect x="90" y="12" width="1.04" height="1.02" fill="#ffffff"/><rect x="90" y="13" width="1.04" height="1.02" fill="#ffffff"/><rect x="91" y="2" width="1.04" height="1.02" fill="#e9f1f1"/><rect x="91" y="3" width="1.04" height="1.02" fill="#ffffff"/><rect x="91" y="4" width="1.04" height="1.02" fill="#ffffff"/><rect x="91" y="5" width="1.04" height="1.02" fill="#d6e5e5"/><rect x="91" y="6" width="1.04" height="1.02" fill="#a5c5c5"/><rect x="91" y="7" width="1.04" height="1.02" fill="#8396a3"/><rect x="91" y="8" width="1.04" height="1.02" fill="#90a8b0"/><rect x="91" y="9" width="1.04" height="1.02" fill="#cfe0e0"/><rect x="91" y="10" width="1.04" height="1.02" fill="#e9f1f1"/><rect x="91" y="11" width="1.04" height="1.02" fill="#ffffff"/><rect x="91" y="12" width="1.04" height="1.02" fill="#ffffff"/><rect x="91" y="13" width="1.04" height="1.02" fill="#f1f6f6"/><rect x="92" y="1" width="1.04" height="1.02" fill="#b7d1d1"/><rect x="92" y="2" width="1.04" height="1.02" fill="#fafcfb"/><rect x="92" y="3" width="1.04" height="1.02" fill="#ffffff"/><rect x="92" y="4" width="1.04" height="1.02" fill="#ffffff"/><rect x="92" y="5" width="1.04" height="1.02" fill="#ccdfdf"/><rect x="92" y="6" width="1.04" height="1.02" fill="#aac9c9"/><rect x="92" y="7" width="1.04" height="1.02" fill="#92aab2"/><rect x="92" y="8" width="1.04" height="1.02" fill="#96afb5"/><rect x="92" y="9" width="1.04" height="1.02" fill="#b2cece"/><rect x="92" y="10" width="1.04" height="1.02" fill="#eaf2f2"/><rect x="92" y="11" width="1.04" height="1.02" fill="#ffffff"/><rect x="92" y="12" width="1.04" height="1.02" fill="#ffffff"/><rect x="92" y="13" width="1.04" height="1.02" fill="#fafcfb"/><rect x="93" y="1" width="1.04" height="1.02" fill="#d9e7e6"/><rect x="93" y="2" width="1.04" height="1.02" fill="#ffffff"/><rect x="93" y="3" width="1.04" height="1.02" fill="#ffffff"/><rect x="93" y="4" width="1.04" height="1.02" fill="#ffffff"/><rect x="93" y="5" width="1.04" height="1.02" fill="#d6e5e5"/><rect x="93" y="6" width="1.04" height="1.02" fill="#aac9c9"/><rect x="93" y="7" width="1.04" height="1.02" fill="#97b2b7"/><rect x="93" y="8" width="1.04" height="1.02" fill="#97b2b7"/><rect x="93" y="9" width="1.04" height="1.02" fill="#bbd3d3"/><rect x="93" y="10" width="1.04" height="1.02" fill="#e1ecec"/><rect x="93" y="11" width="1.04" height="1.02" fill="#ffffff"/><rect x="93" y="12" width="1.04" height="1.02" fill="#ffffff"/><rect x="93" y="13" width="1.04" height="1.02" fill="#ffffff"/><rect x="94" y="1" width="1.04" height="1.02" fill="#d5e4e4"/><rect x="94" y="2" width="1.04" height="1.02" fill="#ffffff"/><rect x="94" y="3" width="1.04" height="1.02" fill="#ffffff"/><rect x="94" y="4" width="1.04" height="1.02" fill="#ffffff"/><rect x="94" y="5" width="1.04" height="1.02" fill="#dbe8e8"/><rect x="94" y="6" width="1.04" height="1.02" fill="#b8d2d1"/><rect x="94" y="7" width="1.04" height="1.02" fill="#8fa6ae"/><rect x="94" y="8" width="1.04" height="1.02" fill="#9db9bc"/><rect x="94" y="9" width="1.04" height="1.02" fill="#bdd5d5"/><rect x="94" y="10" width="1.04" height="1.02" fill="#d6e5e5"/><rect x="94" y="11" width="1.04" height="1.02" fill="#ffffff"/><rect x="94" y="12" width="1.04" height="1.02" fill="#ffffff"/><rect x="94" y="13" width="1.04" height="1.02" fill="#fefefe"/><rect x="95" y="1" width="1.04" height="1.02" fill="#cbdede"/><rect x="95" y="2" width="1.04" height="1.02" fill="#fcfdfd"/><rect x="95" y="3" width="1.04" height="1.02" fill="#ffffff"/><rect x="95" y="4" width="1.04" height="1.02" fill="#ffffff"/><rect x="95" y="5" width="1.04" height="1.02" fill="#edf4f4"/><rect x="95" y="6" width="1.04" height="1.02" fill="#b1cdcd"/><rect x="95" y="7" width="1.04" height="1.02" fill="#8ca2ac"/><rect x="95" y="8" width="1.04" height="1.02" fill="#91a9b1"/><rect x="95" y="9" width="1.04" height="1.02" fill="#cbdede"/><rect x="95" y="10" width="1.04" height="1.02" fill="#d9e7e6"/><rect x="95" y="11" width="1.04" height="1.02" fill="#ffffff"/><rect x="95" y="12" width="1.04" height="1.02" fill="#ffffff"/><rect x="95" y="13" width="1.04" height="1.02" fill="#ffffff"/><rect x="96" y="1" width="1.04" height="1.02" fill="#b9d2d2"/><rect x="96" y="2" width="1.04" height="1.02" fill="#f3f7f7"/><rect x="96" y="3" width="1.04" height="1.02" fill="#ffffff"/><rect x="96" y="4" width="1.04" height="1.02" fill="#ffffff"/><rect x="96" y="5" width="1.04" height="1.02" fill="#dae7e7"/><rect x="96" y="6" width="1.04" height="1.02" fill="#b9d2d2"/><rect x="96" y="7" width="1.04" height="1.02" fill="#869aa6"/><rect x="96" y="8" width="1.04" height="1.02" fill="#a3c1c3"/><rect x="96" y="9" width="1.04" height="1.02" fill="#b4cfcf"/><rect x="96" y="10" width="1.04" height="1.02" fill="#d3e3e3"/><rect x="96" y="11" width="1.04" height="1.02" fill="#ffffff"/><rect x="96" y="12" width="1.04" height="1.02" fill="#ffffff"/><rect x="96" y="13" width="1.04" height="1.02" fill="#f4f8f8"/><rect x="97" y="1" width="1.04" height="1.02" fill="#d9e7e6"/><rect x="97" y="2" width="1.04" height="1.02" fill="#edf4f4"/><rect x="97" y="3" width="1.04" height="1.02" fill="#ffffff"/><rect x="97" y="4" width="1.04" height="1.02" fill="#ffffff"/><rect x="97" y="5" width="1.04" height="1.02" fill="#e1ecec"/><rect x="97" y="6" width="1.04" height="1.02" fill="#b1cdcd"/><rect x="97" y="7" width="1.04" height="1.02" fill="#899da8"/><rect x="97" y="8" width="1.04" height="1.02" fill="#a2c0c2"/><rect x="97" y="9" width="1.04" height="1.02" fill="#b8d2d1"/><rect x="97" y="10" width="1.04" height="1.02" fill="#e0ebeb"/><rect x="97" y="11" width="1.04" height="1.02" fill="#ffffff"/><rect x="97" y="12" width="1.04" height="1.02" fill="#ffffff"/><rect x="97" y="13" width="1.04" height="1.02" fill="#ffffff"/><rect x="98" y="1" width="1.04" height="1.02" fill="#d6e5e5"/><rect x="98" y="2" width="1.04" height="1.02" fill="#f0f5f5"/><rect x="98" y="3" width="1.04" height="1.02" fill="#ffffff"/><rect x="98" y="4" width="1.04" height="1.02" fill="#ffffff"/><rect x="98" y="5" width="1.04" height="1.02" fill="#c8dcdc"/><rect x="98" y="6" width="1.04" height="1.02" fill="#b0cccc"/><rect x="98" y="7" width="1.04" height="1.02" fill="#93acb3"/><rect x="98" y="8" width="1.04" height="1.02" fill="#90a8b0"/><rect x="98" y="9" width="1.04" height="1.02" fill="#b9d2d2"/><rect x="98" y="10" width="1.04" height="1.02" fill="#cfe0e0"/><rect x="98" y="11" width="1.04" height="1.02" fill="#ffffff"/><rect x="98" y="12" width="1.04" height="1.02" fill="#ffffff"/><rect x="98" y="13" width="1.04" height="1.02" fill="#e6efef"/><rect x="99" y="1" width="1.04" height="1.02" fill="#c3d9d8"/><rect x="99" y="2" width="1.04" height="1.02" fill="#e9f1f1"/><rect x="99" y="3" width="1.04" height="1.02" fill="#ffffff"/><rect x="99" y="4" width="1.04" height="1.02" fill="#ffffff"/><rect x="99" y="5" width="1.04" height="1.02" fill="#ccdfdf"/><rect x="99" y="6" width="1.04" height="1.02" fill="#b1cdcd"/><rect x="99" y="7" width="1.04" height="1.02" fill="#7d8d9d"/><rect x="99" y="8" width="1.04" height="1.02" fill="#98b3b8"/><rect x="99" y="9" width="1.04" height="1.02" fill="#b0cccc"/><rect x="99" y="10" width="1.04" height="1.02" fill="#dae7e7"/><rect x="99" y="11" width="1.04" height="1.02" fill="#ffffff"/><rect x="99" y="12" width="1.04" height="1.02" fill="#ffffff"/><rect x="99" y="13" width="1.04" height="1.02" fill="#f1f6f6"/><rect x="100" y="1" width="1.04" height="1.02" fill="#dbe8e8"/><rect x="100" y="2" width="1.04" height="1.02" fill="#fcfdfd"/><rect x="100" y="3" width="1.04" height="1.02" fill="#ffffff"/><rect x="100" y="4" width="1.04" height="1.02" fill="#ffffff"/><rect x="100" y="5" width="1.04" height="1.02" fill="#d7e6e6"/><rect x="100" y="6" width="1.04" height="1.02" fill="#c3d9d8"/><rect x="100" y="7" width="1.04" height="1.02" fill="#90a7af"/><rect x="100" y="8" width="1.04" height="1.02" fill="#9bb6bb"/><rect x="100" y="9" width="1.04" height="1.02" fill="#b2cece"/><rect x="100" y="10" width="1.04" height="1.02" fill="#ecf3f3"/><rect x="100" y="11" width="1.04" height="1.02" fill="#ffffff"/><rect x="100" y="12" width="1.04" height="1.02" fill="#ffffff"/><rect x="100" y="13" width="1.04" height="1.02" fill="#ffffff"/><rect x="101" y="1" width="1.04" height="1.02" fill="#cfe0e0"/><rect x="101" y="2" width="1.04" height="1.02" fill="#ffffff"/><rect x="101" y="3" width="1.04" height="1.02" fill="#ffffff"/><rect x="101" y="4" width="1.04" height="1.02" fill="#ffffff"/><rect x="101" y="5" width="1.04" height="1.02" fill="#e0ebeb"/><rect x="101" y="6" width="1.04" height="1.02" fill="#bfd6d6"/><rect x="101" y="7" width="1.04" height="1.02" fill="#8497a4"/><rect x="101" y="8" width="1.04" height="1.02" fill="#9ab5ba"/><rect x="101" y="9" width="1.04" height="1.02" fill="#b4cfcf"/><rect x="101" y="10" width="1.04" height="1.02" fill="#ccdfdf"/><rect x="101" y="11" width="1.04" height="1.02" fill="#ffffff"/><rect x="101" y="12" width="1.04" height="1.02" fill="#ffffff"/><rect x="101" y="13" width="1.04" height="1.02" fill="#f4f8f8"/><rect x="102" y="1" width="1.04" height="1.02" fill="#cee0df"/><rect x="102" y="2" width="1.04" height="1.02" fill="#f0f5f5"/><rect x="102" y="3" width="1.04" height="1.02" fill="#ffffff"/><rect x="102" y="4" width="1.04" height="1.02" fill="#ffffff"/><rect x="102" y="5" width="1.04" height="1.02" fill="#dde9e9"/><rect x="102" y="6" width="1.04" height="1.02" fill="#b4cfcf"/><rect x="102" y="7" width="1.04" height="1.02" fill="#8da3ad"/><rect x="102" y="8" width="1.04" height="1.02" fill="#a3c1c3"/><rect x="102" y="10" width="1.04" height="1.02" fill="#dde9e9"/><rect x="102" y="11" width="1.04" height="1.02" fill="#ffffff"/><rect x="102" y="12" width="1.04" height="1.02" fill="#ffffff"/><rect x="102" y="13" width="1.04" height="1.02" fill="#f7fafa"/><rect x="103" y="1" width="1.04" height="1.02" fill="#b2cece"/><rect x="103" y="2" width="1.04" height="1.02" fill="#e0ebeb"/><rect x="103" y="3" width="1.04" height="1.02" fill="#ffffff"/><rect x="103" y="4" width="1.04" height="1.02" fill="#edf4f4"/><rect x="103" y="5" width="1.04" height="1.02" fill="#cbdede"/><rect x="103" y="6" width="1.04" height="1.02" fill="#a6c6c6"/><rect x="103" y="7" width="1.04" height="1.02" fill="#879ba7"/><rect x="103" y="8" width="1.04" height="1.02" fill="#93acb3"/><rect x="103" y="9" width="1.04" height="1.02" fill="#a5c5c5"/><rect x="103" y="10" width="1.04" height="1.02" fill="#d1e1e1"/><rect x="103" y="11" width="1.04" height="1.02" fill="#eff5f4"/><rect x="103" y="12" width="1.04" height="1.02" fill="#ffffff"/><rect x="103" y="13" width="1.04" height="1.02" fill="#dde9e9"/><rect x="104" y="1" width="1.04" height="1.02" fill="#bdd5d5"/><rect x="104" y="2" width="1.04" height="1.02" fill="#f8fbfb"/><rect x="104" y="3" width="1.04" height="1.02" fill="#ffffff"/><rect x="104" y="4" width="1.04" height="1.02" fill="#ffffff"/><rect x="104" y="5" width="1.04" height="1.02" fill="#d2e2e2"/><rect x="104" y="6" width="1.04" height="1.02" fill="#c3d9d8"/><rect x="104" y="7" width="1.04" height="1.02" fill="#97b2b7"/><rect x="104" y="8" width="1.04" height="1.02" fill="#adcbca"/><rect x="104" y="9" width="1.04" height="1.02" fill="#c4d9d9"/><rect x="104" y="10" width="1.04" height="1.02" fill="#e2eded"/><rect x="104" y="11" width="1.04" height="1.02" fill="#ffffff"/><rect x="104" y="12" width="1.04" height="1.02" fill="#ffffff"/><rect x="104" y="13" width="1.04" height="1.02" fill="#f8fbfb"/><rect x="105" y="1" width="1.04" height="1.02" fill="#cadddd"/><rect x="105" y="2" width="1.04" height="1.02" fill="#e1ecec"/><rect x="105" y="3" width="1.04" height="1.02" fill="#ffffff"/><rect x="105" y="4" width="1.04" height="1.02" fill="#ffffff"/><rect x="105" y="5" width="1.04" height="1.02" fill="#e2eded"/><rect x="105" y="6" width="1.04" height="1.02" fill="#b0cccc"/><rect x="105" y="7" width="1.04" height="1.02" fill="#9cb8bc"/><rect x="105" y="8" width="1.04" height="1.02" fill="#a2c0c2"/><rect x="105" y="9" width="1.04" height="1.02" fill="#d1e1e1"/><rect x="105" y="10" width="1.04" height="1.02" fill="#d7e6e6"/><rect x="105" y="11" width="1.04" height="1.02" fill="#ffffff"/><rect x="105" y="12" width="1.04" height="1.02" fill="#ffffff"/><rect x="105" y="13" width="1.04" height="1.02" fill="#edf4f4"/><rect x="106" y="1" width="1.04" height="1.02" fill="#deeaea"/><rect x="106" y="2" width="1.04" height="1.02" fill="#e8f0f0"/><rect x="106" y="3" width="1.04" height="1.02" fill="#ffffff"/><rect x="106" y="4" width="1.04" height="1.02" fill="#ffffff"/><rect x="106" y="5" width="1.04" height="1.02" fill="#cfe0e0"/><rect x="106" y="6" width="1.04" height="1.02" fill="#a6c6c6"/><rect x="106" y="7" width="1.04" height="1.02" fill="#9cb8bc"/><rect x="106" y="8" width="1.04" height="1.02" fill="#a5c5c5"/><rect x="106" y="9" width="1.04" height="1.02" fill="#b1cdcd"/><rect x="106" y="10" width="1.04" height="1.02" fill="#ccdfdf"/><rect x="106" y="11" width="1.04" height="1.02" fill="#ffffff"/><rect x="106" y="12" width="1.04" height="1.02" fill="#ffffff"/><rect x="106" y="13" width="1.04" height="1.02" fill="#f5f9f9"/><rect x="107" y="1" width="1.04" height="1.02" fill="#e0ebeb"/><rect x="107" y="2" width="1.04" height="1.02" fill="#eff5f4"/><rect x="107" y="3" width="1.04" height="1.02" fill="#ffffff"/><rect x="107" y="4" width="1.04" height="1.02" fill="#ffffff"/><rect x="107" y="5" width="1.04" height="1.02" fill="#d2e2e2"/><rect x="107" y="6" width="1.04" height="1.02" fill="#bdd5d5"/><rect x="107" y="7" width="1.04" height="1.02" fill="#96b0b6"/><rect x="107" y="8" width="1.04" height="1.02" fill="#9db9bc"/><rect x="107" y="9" width="1.04" height="1.02" fill="#bbd3d3"/><rect x="107" y="10" width="1.04" height="1.02" fill="#e1ecec"/><rect x="107" y="11" width="1.04" height="1.02" fill="#ffffff"/><rect x="107" y="12" width="1.04" height="1.02" fill="#ffffff"/><rect x="107" y="13" width="1.04" height="1.02" fill="#dbe8e8"/><rect x="108" y="1" width="1.04" height="1.02" fill="#d5e4e4"/><rect x="108" y="2" width="1.04" height="1.02" fill="#e8f0f0"/><rect x="108" y="3" width="1.04" height="1.02" fill="#ffffff"/><rect x="108" y="4" width="1.04" height="1.02" fill="#ffffff"/><rect x="108" y="5" width="1.04" height="1.02" fill="#c1d8d8"/><rect x="108" y="6" width="1.04" height="1.02" fill="#a3c1c3"/><rect x="108" y="7" width="1.04" height="1.02" fill="#96b0b6"/><rect x="108" y="8" width="1.04" height="1.02" fill="#9ebbbe"/><rect x="108" y="9" width="1.04" height="1.02" fill="#cbdede"/><rect x="108" y="10" width="1.04" height="1.02" fill="#d3e3e3"/><rect x="108" y="11" width="1.04" height="1.02" fill="#ffffff"/><rect x="108" y="12" width="1.04" height="1.02" fill="#fafcfb"/><rect x="108" y="13" width="1.04" height="1.02" fill="#e8f0f0"/><rect x="109" y="1" width="1.04" height="1.02" fill="#deeaea"/><rect x="109" y="2" width="1.04" height="1.02" fill="#f5f9f9"/><rect x="109" y="3" width="1.04" height="1.02" fill="#ffffff"/><rect x="109" y="4" width="1.04" height="1.02" fill="#ffffff"/><rect x="109" y="5" width="1.04" height="1.02" fill="#e8f0f0"/><rect x="109" y="6" width="1.04" height="1.02" fill="#bbd3d3"/><rect x="109" y="7" width="1.04" height="1.02" fill="#9ebbbe"/><rect x="109" y="8" width="1.04" height="1.02" fill="#b2cece"/><rect x="109" y="9" width="1.04" height="1.02" fill="#c3d9d8"/><rect x="109" y="10" width="1.04" height="1.02" fill="#eaf2f2"/><rect x="109" y="11" width="1.04" height="1.02" fill="#ffffff"/><rect x="109" y="12" width="1.04" height="1.02" fill="#ffffff"/><rect x="109" y="13" width="1.04" height="1.02" fill="#ffffff"/><rect x="110" y="1" width="1.04" height="1.02" fill="#dae7e7"/><rect x="110" y="2" width="1.04" height="1.02" fill="#e8f0f0"/><rect x="110" y="3" width="1.04" height="1.02" fill="#ffffff"/><rect x="110" y="4" width="1.04" height="1.02" fill="#ffffff"/><rect x="110" y="5" width="1.04" height="1.02" fill="#d2e2e2"/><rect x="110" y="6" width="1.04" height="1.02" fill="#bcd4d4"/><rect x="110" y="7" width="1.04" height="1.02" fill="#8ba1ab"/><rect x="110" y="8" width="1.04" height="1.02" fill="#97b2b7"/><rect x="110" y="9" width="1.04" height="1.02" fill="#bbd3d3"/><rect x="110" y="10" width="1.04" height="1.02" fill="#e9f1f1"/><rect x="110" y="11" width="1.04" height="1.02" fill="#ffffff"/><rect x="110" y="12" width="1.04" height="1.02" fill="#ffffff"/><rect x="110" y="13" width="1.04" height="1.02" fill="#d5e4e4"/><rect x="111" y="1" width="1.04" height="1.02" fill="#bcd4d4"/><rect x="111" y="2" width="1.04" height="1.02" fill="#eff5f4"/><rect x="111" y="3" width="1.04" height="1.02" fill="#ffffff"/><rect x="111" y="4" width="1.04" height="1.02" fill="#ffffff"/><rect x="111" y="5" width="1.04" height="1.02" fill="#d2e2e2"/><rect x="111" y="6" width="1.04" height="1.02" fill="#c3d9d8"/><rect x="111" y="7" width="1.04" height="1.02" fill="#90a7af"/><rect x="111" y="8" width="1.04" height="1.02" fill="#97b2b7"/><rect x="111" y="9" width="1.04" height="1.02" fill="#cbdede"/><rect x="111" y="10" width="1.04" height="1.02" fill="#e6efef"/><rect x="111" y="11" width="1.04" height="1.02" fill="#ffffff"/><rect x="111" y="12" width="1.04" height="1.02" fill="#ffffff"/><rect x="111" y="13" width="1.04" height="1.02" fill="#ffffff"/><rect x="112" y="2" width="1.04" height="1.02" fill="#e9f1f1"/><rect x="112" y="3" width="1.04" height="1.02" fill="#fafcfb"/><rect x="112" y="4" width="1.04" height="1.02" fill="#ffffff"/><rect x="112" y="5" width="1.04" height="1.02" fill="#dbe8e8"/><rect x="112" y="6" width="1.04" height="1.02" fill="#b0cccc"/><rect x="112" y="7" width="1.04" height="1.02" fill="#9db9bc"/><rect x="112" y="8" width="1.04" height="1.02" fill="#a4c4c4"/><rect x="112" y="9" width="1.04" height="1.02" fill="#b9d2d2"/><rect x="112" y="10" width="1.04" height="1.02" fill="#dae7e7"/><rect x="112" y="11" width="1.04" height="1.02" fill="#ffffff"/><rect x="112" y="12" width="1.04" height="1.02" fill="#ffffff"/><rect x="112" y="13" width="1.04" height="1.02" fill="#dbe8e8"/><rect x="113" y="1" width="1.04" height="1.02" fill="#c1d8d8"/><rect x="113" y="2" width="1.04" height="1.02" fill="#e0ebeb"/><rect x="113" y="3" width="1.04" height="1.02" fill="#ffffff"/><rect x="113" y="4" width="1.04" height="1.02" fill="#ffffff"/><rect x="113" y="5" width="1.04" height="1.02" fill="#bfd6d6"/><rect x="113" y="6" width="1.04" height="1.02" fill="#bbd3d3"/><rect x="113" y="7" width="1.04" height="1.02" fill="#98b3b8"/><rect x="113" y="8" width="1.04" height="1.02" fill="#accaca"/><rect x="113" y="9" width="1.04" height="1.02" fill="#c0d7d7"/><rect x="113" y="10" width="1.04" height="1.02" fill="#cfe0e0"/><rect x="113" y="11" width="1.04" height="1.02" fill="#f1f6f6"/><rect x="113" y="12" width="1.04" height="1.02" fill="#ffffff"/><rect x="113" y="13" width="1.04" height="1.02" fill="#e4eeed"/><rect x="114" y="1" width="1.04" height="1.02" fill="#d5e4e4"/><rect x="114" y="2" width="1.04" height="1.02" fill="#f5f9f9"/><rect x="114" y="3" width="1.04" height="1.02" fill="#ffffff"/><rect x="114" y="4" width="1.04" height="1.02" fill="#ffffff"/><rect x="114" y="5" width="1.04" height="1.02" fill="#d7e6e6"/><rect x="114" y="6" width="1.04" height="1.02" fill="#b8d2d1"/><rect x="114" y="7" width="1.04" height="1.02" fill="#9fbcbf"/><rect x="114" y="8" width="1.04" height="1.02" fill="#aecbcb"/><rect x="114" y="9" width="1.04" height="1.02" fill="#d2e2e2"/><rect x="114" y="11" width="1.04" height="1.02" fill="#ffffff"/><rect x="114" y="12" width="1.04" height="1.02" fill="#ffffff"/><rect x="114" y="13" width="1.04" height="1.02" fill="#e4eeed"/><rect x="115" y="1" width="1.04" height="1.02" fill="#d9e7e6"/><rect x="115" y="2" width="1.04" height="1.02" fill="#deeaea"/><rect x="115" y="3" width="1.04" height="1.02" fill="#ffffff"/><rect x="115" y="4" width="1.04" height="1.02" fill="#ffffff"/><rect x="115" y="5" width="1.04" height="1.02" fill="#dbe8e8"/><rect x="115" y="6" width="1.04" height="1.02" fill="#adcbca"/><rect x="115" y="7" width="1.04" height="1.02" fill="#9ab5ba"/><rect x="115" y="8" width="1.04" height="1.02" fill="#98b3b8"/><rect x="115" y="9" width="1.04" height="1.02" fill="#cadddd"/><rect x="115" y="10" width="1.04" height="1.02" fill="#d3e3e3"/><rect x="115" y="11" width="1.04" height="1.02" fill="#ffffff"/><rect x="115" y="12" width="1.04" height="1.02" fill="#fcfdfd"/><rect x="115" y="13" width="1.04" height="1.02" fill="#f0f5f5"/><rect x="116" y="1" width="1.04" height="1.02" fill="#d7e6e6"/><rect x="116" y="2" width="1.04" height="1.02" fill="#f4f8f8"/><rect x="116" y="3" width="1.04" height="1.02" fill="#ffffff"/><rect x="116" y="4" width="1.04" height="1.02" fill="#ffffff"/><rect x="116" y="5" width="1.04" height="1.02" fill="#e2eded"/><rect x="116" y="6" width="1.04" height="1.02" fill="#bcd4d4"/><rect x="116" y="7" width="1.04" height="1.02" fill="#97b2b7"/><rect x="116" y="8" width="1.04" height="1.02" fill="#b0cccc"/><rect x="116" y="9" width="1.04" height="1.02" fill="#c1d8d8"/><rect x="116" y="10" width="1.04" height="1.02" fill="#dde9e9"/><rect x="116" y="11" width="1.04" height="1.02" fill="#ffffff"/><rect x="116" y="12" width="1.04" height="1.02" fill="#ffffff"/><rect x="116" y="13" width="1.04" height="1.02" fill="#f1f6f6"/><rect x="117" y="1" width="1.04" height="1.02" fill="#c3d9d8"/><rect x="117" y="2" width="1.04" height="1.02" fill="#fafcfb"/><rect x="117" y="3" width="1.04" height="1.02" fill="#ffffff"/><rect x="117" y="4" width="1.04" height="1.02" fill="#fcfdfd"/><rect x="117" y="5" width="1.04" height="1.02" fill="#dbe8e8"/><rect x="117" y="6" width="1.04" height="1.02" fill="#c3d9d8"/><rect x="117" y="7" width="1.04" height="1.02" fill="#a0bec0"/><rect x="117" y="8" width="1.04" height="1.02" fill="#a4c4c4"/><rect x="117" y="9" width="1.04" height="1.02" fill="#bfd6d6"/><rect x="117" y="10" width="1.04" height="1.02" fill="#d9e7e6"/><rect x="117" y="11" width="1.04" height="1.02" fill="#fcfdfd"/><rect x="117" y="12" width="1.04" height="1.02" fill="#ffffff"/><rect x="117" y="13" width="1.04" height="1.02" fill="#e9f1f1"/><rect x="118" y="1" width="1.04" height="1.02" fill="#cbdede"/><rect x="118" y="2" width="1.04" height="1.02" fill="#ecf3f3"/><rect x="118" y="3" width="1.04" height="1.02" fill="#ffffff"/><rect x="118" y="4" width="1.04" height="1.02" fill="#fcfdfd"/><rect x="118" y="5" width="1.04" height="1.02" fill="#d7e6e6"/><rect x="118" y="6" width="1.04" height="1.02" fill="#dbe8e8"/><rect x="118" y="7" width="1.04" height="1.02" fill="#a0bec0"/><rect x="118" y="8" width="1.04" height="1.02" fill="#bbd3d3"/><rect x="118" y="9" width="1.04" height="1.02" fill="#bfd6d6"/><rect x="118" y="11" width="1.04" height="1.02" fill="#ffffff"/><rect x="118" y="12" width="1.04" height="1.02" fill="#ffffff"/><rect x="118" y="13" width="1.04" height="1.02" fill="#f0f5f5"/><rect x="119" y="1" width="1.04" height="1.02" fill="#c3d9d8"/><rect x="119" y="2" width="1.04" height="1.02" fill="#d6e5e5"/><rect x="119" y="3" width="1.04" height="1.02" fill="#ffffff"/><rect x="119" y="4" width="1.04" height="1.02" fill="#eff5f4"/><rect x="119" y="5" width="1.04" height="1.02" fill="#dde9e9"/><rect x="119" y="6" width="1.04" height="1.02" fill="#b2cece"/><rect x="119" y="7" width="1.04" height="1.02" fill="#93acb3"/><rect x="119" y="8" width="1.04" height="1.02" fill="#9fbcbf"/><rect x="119" y="9" width="1.04" height="1.02" fill="#cadddd"/><rect x="119" y="10" width="1.04" height="1.02" fill="#dbe8e8"/><rect x="119" y="11" width="1.04" height="1.02" fill="#ffffff"/><rect x="119" y="12" width="1.04" height="1.02" fill="#ffffff"/><rect x="119" y="13" width="1.04" height="1.02" fill="#d7e6e6"/><rect x="120" y="1" width="1.04" height="1.02" fill="#ccdfdf"/><rect x="120" y="2" width="1.04" height="1.02" fill="#e5eeee"/><rect x="120" y="3" width="1.04" height="1.02" fill="#ffffff"/><rect x="120" y="4" width="1.04" height="1.02" fill="#ffffff"/><rect x="120" y="5" width="1.04" height="1.02" fill="#ccdfdf"/><rect x="120" y="6" width="1.04" height="1.02" fill="#b8d2d1"/><rect x="120" y="7" width="1.04" height="1.02" fill="#9bb6bb"/><rect x="120" y="8" width="1.04" height="1.02" fill="#a5c5c5"/><rect x="120" y="9" width="1.04" height="1.02" fill="#b7d1d1"/><rect x="120" y="10" width="1.04" height="1.02" fill="#f0f5f5"/><rect x="120" y="11" width="1.04" height="1.02" fill="#f8fbfb"/><rect x="120" y="12" width="1.04" height="1.02" fill="#ffffff"/><rect x="120" y="13" width="1.04" height="1.02" fill="#eff5f4"/><rect x="121" y="1" width="1.04" height="1.02" fill="#e2eded"/><rect x="121" y="2" width="1.04" height="1.02" fill="#edf4f4"/><rect x="121" y="3" width="1.04" height="1.02" fill="#ffffff"/><rect x="121" y="4" width="1.04" height="1.02" fill="#fefefe"/><rect x="121" y="5" width="1.04" height="1.02" fill="#e9f1f1"/><rect x="121" y="6" width="1.04" height="1.02" fill="#adcbca"/><rect x="121" y="7" width="1.04" height="1.02" fill="#9dbabd"/><rect x="121" y="8" width="1.04" height="1.02" fill="#accaca"/><rect x="121" y="9" width="1.04" height="1.02" fill="#cee0df"/><rect x="121" y="10" width="1.04" height="1.02" fill="#e4eeed"/><rect x="121" y="11" width="1.04" height="1.02" fill="#ffffff"/><rect x="121" y="12" width="1.04" height="1.02" fill="#ffffff"/><rect x="121" y="13" width="1.04" height="1.02" fill="#e9f1f1"/><rect x="122" y="1" width="1.04" height="1.02" fill="#dae7e7"/><rect x="122" y="2" width="1.04" height="1.02" fill="#e8f0f0"/><rect x="122" y="3" width="1.04" height="1.02" fill="#ffffff"/><rect x="122" y="4" width="1.04" height="1.02" fill="#fcfdfd"/><rect x="122" y="5" width="1.04" height="1.02" fill="#c3d9d8"/><rect x="122" y="6" width="1.04" height="1.02" fill="#b1cdcd"/><rect x="122" y="7" width="1.04" height="1.02" fill="#9fbcbf"/><rect x="122" y="8" width="1.04" height="1.02" fill="#b7d1d1"/><rect x="122" y="9" width="1.04" height="1.02" fill="#d1e1e1"/><rect x="122" y="10" width="1.04" height="1.02" fill="#e8f0f0"/><rect x="122" y="11" width="1.04" height="1.02" fill="#f7fafa"/><rect x="122" y="12" width="1.04" height="1.02" fill="#ffffff"/><rect x="122" y="13" width="1.04" height="1.02" fill="#e5eeee"/><rect x="123" y="1" width="1.04" height="1.02" fill="#ccdfdf"/><rect x="123" y="2" width="1.04" height="1.02" fill="#d9e7e6"/><rect x="123" y="3" width="1.04" height="1.02" fill="#ffffff"/><rect x="123" y="4" width="1.04" height="1.02" fill="#ffffff"/><rect x="123" y="5" width="1.04" height="1.02" fill="#e0ebeb"/><rect x="123" y="6" width="1.04" height="1.02" fill="#b1cdcd"/><rect x="123" y="7" width="1.04" height="1.02" fill="#a5c5c5"/><rect x="123" y="8" width="1.04" height="1.02" fill="#b4cfcf"/><rect x="123" y="9" width="1.04" height="1.02" fill="#d2e2e2"/><rect x="123" y="10" width="1.04" height="1.02" fill="#e6efef"/><rect x="123" y="11" width="1.04" height="1.02" fill="#fbfcfc"/><rect x="123" y="12" width="1.04" height="1.02" fill="#f3f7f7"/><rect x="123" y="13" width="1.04" height="1.02" fill="#f1f6f6"/><rect x="124" y="1" width="1.04" height="1.02" fill="#c3d9d8"/><rect x="124" y="2" width="1.04" height="1.02" fill="#e9f1f1"/><rect x="124" y="3" width="1.04" height="1.02" fill="#ffffff"/><rect x="124" y="4" width="1.04" height="1.02" fill="#fafcfb"/><rect x="124" y="5" width="1.04" height="1.02" fill="#d6e5e5"/><rect x="124" y="6" width="1.04" height="1.02" fill="#a2c0c2"/><rect x="124" y="7" width="1.04" height="1.02" fill="#a6c6c6"/><rect x="124" y="8" width="1.04" height="1.02" fill="#a1bfc1"/><rect x="124" y="9" width="1.04" height="1.02" fill="#b9d2d2"/><rect x="124" y="10" width="1.04" height="1.02" fill="#d6e5e5"/><rect x="124" y="11" width="1.04" height="1.02" fill="#f5f9f9"/><rect x="124" y="12" width="1.04" height="1.02" fill="#fbfcfc"/><rect x="124" y="13" width="1.04" height="1.02" fill="#dde9e9"/><rect x="125" y="0" width="1.04" height="1.02" fill="#bdd5d5"/><rect x="125" y="1" width="1.04" height="1.02" fill="#dbe8e8"/><rect x="125" y="2" width="1.04" height="1.02" fill="#d3e3e3"/><rect x="125" y="3" width="1.04" height="1.02" fill="#f0f5f5"/><rect x="125" y="4" width="1.04" height="1.02" fill="#f0f5f5"/><rect x="125" y="5" width="1.04" height="1.02" fill="#c8dcdc"/><rect x="125" y="6" width="1.04" height="1.02" fill="#c3d9d8"/><rect x="125" y="7" width="1.04" height="1.02" fill="#9dbabd"/><rect x="125" y="8" width="1.04" height="1.02" fill="#accaca"/><rect x="125" y="10" width="1.04" height="1.02" fill="#cadddd"/><rect x="125" y="11" width="1.04" height="1.02" fill="#ffffff"/><rect x="125" y="12" width="1.04" height="1.02" fill="#ffffff"/><rect x="125" y="13" width="1.04" height="1.02" fill="#f4f8f8"/><rect x="126" y="1" width="1.04" height="1.02" fill="#d2e2e2"/><rect x="126" y="2" width="1.04" height="1.02" fill="#eaf2f2"/><rect x="126" y="3" width="1.04" height="1.02" fill="#f5f9f9"/><rect x="126" y="4" width="1.04" height="1.02" fill="#ffffff"/><rect x="126" y="5" width="1.04" height="1.02" fill="#e0ebeb"/><rect x="126" y="6" width="1.04" height="1.02" fill="#c0d7d7"/><rect x="126" y="7" width="1.04" height="1.02" fill="#97b2b7"/><rect x="126" y="8" width="1.04" height="1.02" fill="#9ab5ba"/><rect x="126" y="9" width="1.04" height="1.02" fill="#c0d7d7"/><rect x="126" y="10" width="1.04" height="1.02" fill="#dde9e9"/><rect x="126" y="11" width="1.04" height="1.02" fill="#ffffff"/><rect x="126" y="12" width="1.04" height="1.02" fill="#fefefe"/><rect x="126" y="13" width="1.04" height="1.02" fill="#ecf3f3"/><rect x="127" y="0" width="1.04" height="1.02" fill="#b1cdcd"/><rect x="127" y="1" width="1.04" height="1.02" fill="#c3d9d8"/><rect x="127" y="2" width="1.04" height="1.02" fill="#d5e4e4"/><rect x="127" y="3" width="1.04" height="1.02" fill="#f8fbfb"/><rect x="127" y="4" width="1.04" height="1.02" fill="#e4eeed"/><rect x="127" y="5" width="1.04" height="1.02" fill="#d7e6e6"/><rect x="127" y="6" width="1.04" height="1.02" fill="#a6c6c6"/><rect x="127" y="7" width="1.04" height="1.02" fill="#9cb8bc"/><rect x="127" y="8" width="1.04" height="1.02" fill="#a7c7c7"/><rect x="127" y="9" width="1.04" height="1.02" fill="#bbd3d3"/><rect x="127" y="10" width="1.04" height="1.02" fill="#d1e1e1"/><rect x="127" y="11" width="1.04" height="1.02" fill="#fcfdfd"/><rect x="127" y="12" width="1.04" height="1.02" fill="#ffffff"/><rect x="127" y="13" width="1.04" height="1.02" fill="#e4eeed"/><rect x="128" y="0" width="1.04" height="1.02" fill="#adcbca"/><rect x="128" y="1" width="1.04" height="1.02" fill="#bdd5d5"/><rect x="128" y="2" width="1.04" height="1.02" fill="#d1e1e1"/><rect x="128" y="3" width="1.04" height="1.02" fill="#ffffff"/><rect x="128" y="4" width="1.04" height="1.02" fill="#f3f7f7"/><rect x="128" y="5" width="1.04" height="1.02" fill="#cadddd"/><rect x="128" y="6" width="1.04" height="1.02" fill="#bbd3d3"/><rect x="128" y="7" width="1.04" height="1.02" fill="#a0bec0"/><rect x="128" y="8" width="1.04" height="1.02" fill="#a2c0c2"/><rect x="128" y="9" width="1.04" height="1.02" fill="#bfd6d6"/><rect x="128" y="10" width="1.04" height="1.02" fill="#d7e6e6"/><rect x="128" y="11" width="1.04" height="1.02" fill="#eff5f4"/><rect x="128" y="12" width="1.04" height="1.02" fill="#ffffff"/><rect x="128" y="13" width="1.04" height="1.02" fill="#d2e2e2"/><rect x="129" y="0" width="1.04" height="1.02" fill="#c8dcdc"/><rect x="129" y="1" width="1.04" height="1.02" fill="#c8dcdc"/><rect x="129" y="2" width="1.04" height="1.02" fill="#e4eeed"/><rect x="129" y="3" width="1.04" height="1.02" fill="#ffffff"/><rect x="129" y="4" width="1.04" height="1.02" fill="#fcfdfd"/><rect x="129" y="5" width="1.04" height="1.02" fill="#ccdfdf"/><rect x="129" y="6" width="1.04" height="1.02" fill="#b2cece"/><rect x="129" y="7" width="1.04" height="1.02" fill="#97b2b7"/><rect x="129" y="8" width="1.04" height="1.02" fill="#b8d2d1"/><rect x="129" y="10" width="1.04" height="1.02" fill="#d9e7e6"/><rect x="129" y="11" width="1.04" height="1.02" fill="#f7fafa"/><rect x="129" y="12" width="1.04" height="1.02" fill="#ffffff"/><rect x="129" y="13" width="1.04" height="1.02" fill="#e6efef"/><rect x="130" y="0" width="1.04" height="1.02" fill="#c0d7d7"/><rect x="130" y="1" width="1.04" height="1.02" fill="#d1e1e1"/><rect x="130" y="2" width="1.04" height="1.02" fill="#d1e1e1"/><rect x="130" y="3" width="1.04" height="1.02" fill="#f7fafa"/><rect x="130" y="4" width="1.04" height="1.02" fill="#fafcfb"/><rect x="130" y="5" width="1.04" height="1.02" fill="#c8dcdc"/><rect x="130" y="6" width="1.04" height="1.02" fill="#bbd3d3"/><rect x="130" y="7" width="1.04" height="1.02" fill="#96b0b6"/><rect x="130" y="8" width="1.04" height="1.02" fill="#a6c6c6"/><rect x="130" y="10" width="1.04" height="1.02" fill="#d5e4e4"/><rect x="130" y="11" width="1.04" height="1.02" fill="#fbfcfc"/><rect x="130" y="12" width="1.04" height="1.02" fill="#fefefe"/><rect x="130" y="13" width="1.04" height="1.02" fill="#dbe8e8"/><rect x="131" y="0" width="1.04" height="1.02" fill="#cbdede"/><rect x="131" y="1" width="1.04" height="1.02" fill="#eaf2f2"/><rect x="131" y="2" width="1.04" height="1.02" fill="#e0ebeb"/><rect x="131" y="3" width="1.04" height="1.02" fill="#ffffff"/><rect x="131" y="4" width="1.04" height="1.02" fill="#f4f8f8"/><rect x="131" y="5" width="1.04" height="1.02" fill="#c8dcdc"/><rect x="131" y="6" width="1.04" height="1.02" fill="#b5d0d0"/><rect x="131" y="7" width="1.04" height="1.02" fill="#a2c0c2"/><rect x="131" y="8" width="1.04" height="1.02" fill="#aac9c9"/><rect x="131" y="9" width="1.04" height="1.02" fill="#c3d9d8"/><rect x="131" y="10" width="1.04" height="1.02" fill="#d9e7e6"/><rect x="131" y="11" width="1.04" height="1.02" fill="#fcfdfd"/><rect x="131" y="12" width="1.04" height="1.02" fill="#ffffff"/><rect x="131" y="13" width="1.04" height="1.02" fill="#d6e5e5"/><rect x="132" y="0" width="1.04" height="1.02" fill="#bdd5d5"/><rect x="132" y="1" width="1.04" height="1.02" fill="#ccdfdf"/><rect x="132" y="2" width="1.04" height="1.02" fill="#e0ebeb"/><rect x="132" y="3" width="1.04" height="1.02" fill="#ffffff"/><rect x="132" y="4" width="1.04" height="1.02" fill="#f3f7f7"/><rect x="132" y="5" width="1.04" height="1.02" fill="#cbdede"/><rect x="132" y="6" width="1.04" height="1.02" fill="#b7d1d1"/><rect x="132" y="7" width="1.04" height="1.02" fill="#a4c2c3"/><rect x="132" y="8" width="1.04" height="1.02" fill="#b0cccc"/><rect x="132" y="9" width="1.04" height="1.02" fill="#b4cfcf"/><rect x="132" y="10" width="1.04" height="1.02" fill="#d6e5e5"/><rect x="132" y="11" width="1.04" height="1.02" fill="#fafcfb"/><rect x="132" y="12" width="1.04" height="1.02" fill="#f4f8f8"/><rect x="132" y="13" width="1.04" height="1.02" fill="#d6e5e5"/><rect x="133" y="0" width="1.04" height="1.02" fill="#c7dbdb"/><rect x="133" y="1" width="1.04" height="1.02" fill="#b2cece"/><rect x="133" y="2" width="1.04" height="1.02" fill="#dae7e7"/><rect x="133" y="3" width="1.04" height="1.02" fill="#fafcfb"/><rect x="133" y="4" width="1.04" height="1.02" fill="#f4f8f8"/><rect x="133" y="5" width="1.04" height="1.02" fill="#dde9e9"/><rect x="133" y="6" width="1.04" height="1.02" fill="#c1d8d8"/><rect x="133" y="7" width="1.04" height="1.02" fill="#9cb8bc"/><rect x="133" y="8" width="1.04" height="1.02" fill="#a4c4c4"/><rect x="133" y="9" width="1.04" height="1.02" fill="#c1d8d8"/><rect x="133" y="10" width="1.04" height="1.02" fill="#dbe8e8"/><rect x="133" y="11" width="1.04" height="1.02" fill="#ffffff"/><rect x="133" y="12" width="1.04" height="1.02" fill="#ffffff"/><rect x="133" y="13" width="1.04" height="1.02" fill="#eaf2f2"/><rect x="134" y="0" width="1.04" height="1.02" fill="#b8d2d1"/><rect x="134" y="1" width="1.04" height="1.02" fill="#adcbca"/><rect x="134" y="2" width="1.04" height="1.02" fill="#d3e3e3"/><rect x="134" y="3" width="1.04" height="1.02" fill="#ffffff"/><rect x="134" y="4" width="1.04" height="1.02" fill="#f8fbfb"/><rect x="134" y="5" width="1.04" height="1.02" fill="#edf4f4"/><rect x="134" y="6" width="1.04" height="1.02" fill="#bbd3d3"/><rect x="134" y="7" width="1.04" height="1.02" fill="#9ebbbe"/><rect x="134" y="8" width="1.04" height="1.02" fill="#a0bec0"/><rect x="134" y="9" width="1.04" height="1.02" fill="#b9d2d2"/><rect x="134" y="10" width="1.04" height="1.02" fill="#cadddd"/><rect x="134" y="11" width="1.04" height="1.02" fill="#eff5f4"/><rect x="134" y="12" width="1.04" height="1.02" fill="#f5f9f9"/><rect x="134" y="13" width="1.04" height="1.02" fill="#cfe0e0"/><rect x="135" y="0" width="1.04" height="1.02" fill="#cee0df"/><rect x="135" y="1" width="1.04" height="1.02" fill="#dae7e7"/><rect x="135" y="2" width="1.04" height="1.02" fill="#d6e5e5"/><rect x="135" y="3" width="1.04" height="1.02" fill="#f8fbfb"/><rect x="135" y="4" width="1.04" height="1.02" fill="#f3f7f7"/><rect x="135" y="5" width="1.04" height="1.02" fill="#e1ecec"/><rect x="135" y="6" width="1.04" height="1.02" fill="#bcd4d4"/><rect x="135" y="7" width="1.04" height="1.02" fill="#a4c4c4"/><rect x="135" y="8" width="1.04" height="1.02" fill="#adcbca"/><rect x="135" y="9" width="1.04" height="1.02" fill="#c8dcdc"/><rect x="135" y="10" width="1.04" height="1.02" fill="#d3e3e3"/><rect x="135" y="11" width="1.04" height="1.02" fill="#fcfdfd"/><rect x="135" y="12" width="1.04" height="1.02" fill="#fcfdfd"/><rect x="135" y="13" width="1.04" height="1.02" fill="#e1ecec"/><rect x="136" y="0" width="1.04" height="1.02" fill="#c8dcdc"/><rect x="136" y="1" width="1.04" height="1.02" fill="#cfe0e0"/><rect x="136" y="2" width="1.04" height="1.02" fill="#d9e7e6"/><rect x="136" y="3" width="1.04" height="1.02" fill="#ffffff"/><rect x="136" y="4" width="1.04" height="1.02" fill="#f3f7f7"/><rect x="136" y="5" width="1.04" height="1.02" fill="#d7e6e6"/><rect x="136" y="6" width="1.04" height="1.02" fill="#c7dbdb"/><rect x="136" y="7" width="1.04" height="1.02" fill="#9db9bc"/><rect x="136" y="8" width="1.04" height="1.02" fill="#b4cfcf"/><rect x="136" y="9" width="1.04" height="1.02" fill="#bdd5d5"/><rect x="136" y="10" width="1.04" height="1.02" fill="#d1e1e1"/><rect x="136" y="11" width="1.04" height="1.02" fill="#ffffff"/><rect x="136" y="12" width="1.04" height="1.02" fill="#ffffff"/><rect x="136" y="13" width="1.04" height="1.02" fill="#e5eeee"/><rect x="137" y="0" width="1.04" height="1.02" fill="#d3e3e3"/><rect x="137" y="1" width="1.04" height="1.02" fill="#c7dbdb"/><rect x="137" y="2" width="1.04" height="1.02" fill="#e4eeed"/><rect x="137" y="3" width="1.04" height="1.02" fill="#fcfdfd"/><rect x="137" y="4" width="1.04" height="1.02" fill="#fafcfb"/><rect x="137" y="5" width="1.04" height="1.02" fill="#d3e3e3"/><rect x="137" y="6" width="1.04" height="1.02" fill="#c3d9d8"/><rect x="137" y="7" width="1.04" height="1.02" fill="#a4c2c3"/><rect x="137" y="8" width="1.04" height="1.02" fill="#a9c8c8"/><rect x="137" y="10" width="1.04" height="1.02" fill="#dae7e7"/><rect x="137" y="11" width="1.04" height="1.02" fill="#ffffff"/><rect x="137" y="12" width="1.04" height="1.02" fill="#ffffff"/><rect x="137" y="13" width="1.04" height="1.02" fill="#deeaea"/><rect x="138" y="0" width="1.04" height="1.02" fill="#cee0df"/><rect x="138" y="2" width="1.04" height="1.02" fill="#cadddd"/><rect x="138" y="3" width="1.04" height="1.02" fill="#ffffff"/><rect x="138" y="4" width="1.04" height="1.02" fill="#f0f5f5"/><rect x="138" y="5" width="1.04" height="1.02" fill="#cfe0e0"/><rect x="138" y="6" width="1.04" height="1.02" fill="#d1e1e1"/><rect x="138" y="7" width="1.04" height="1.02" fill="#a2c0c2"/><rect x="138" y="8" width="1.04" height="1.02" fill="#b1cdcd"/><rect x="138" y="9" width="1.04" height="1.02" fill="#b8d2d1"/><rect x="138" y="10" width="1.04" height="1.02" fill="#d6e5e5"/><rect x="138" y="11" width="1.04" height="1.02" fill="#fafcfb"/><rect x="138" y="12" width="1.04" height="1.02" fill="#ffffff"/><rect x="138" y="13" width="1.04" height="1.02" fill="#deeaea"/><rect x="139" y="0" width="1.04" height="1.02" fill="#c8dcdc"/><rect x="139" y="1" width="1.04" height="1.02" fill="#d7e6e6"/><rect x="139" y="2" width="1.04" height="1.02" fill="#e2eded"/><rect x="139" y="3" width="1.04" height="1.02" fill="#f7fafa"/><rect x="139" y="4" width="1.04" height="1.02" fill="#e4eeed"/><rect x="139" y="5" width="1.04" height="1.02" fill="#cee0df"/><rect x="139" y="6" width="1.04" height="1.02" fill="#b9d2d2"/><rect x="139" y="7" width="1.04" height="1.02" fill="#9db9bc"/><rect x="139" y="8" width="1.04" height="1.02" fill="#a5c5c5"/><rect x="139" y="9" width="1.04" height="1.02" fill="#b7d1d1"/><rect x="139" y="10" width="1.04" height="1.02" fill="#cbdede"/><rect x="139" y="11" width="1.04" height="1.02" fill="#f4f8f8"/><rect x="139" y="12" width="1.04" height="1.02" fill="#fbfcfc"/><rect x="139" y="13" width="1.04" height="1.02" fill="#deeaea"/><rect x="140" y="0" width="1.04" height="1.02" fill="#c3d9d8"/><rect x="140" y="1" width="1.04" height="1.02" fill="#cfe0e0"/><rect x="140" y="2" width="1.04" height="1.02" fill="#edf4f4"/><rect x="140" y="3" width="1.04" height="1.02" fill="#ffffff"/><rect x="140" y="4" width="1.04" height="1.02" fill="#ffffff"/><rect x="140" y="5" width="1.04" height="1.02" fill="#cfe0e0"/><rect x="140" y="6" width="1.04" height="1.02" fill="#b8d2d1"/><rect x="140" y="7" width="1.04" height="1.02" fill="#adcbca"/><rect x="140" y="8" width="1.04" height="1.02" fill="#a5c5c5"/><rect x="140" y="9" width="1.04" height="1.02" fill="#b9d2d2"/><rect x="140" y="10" width="1.04" height="1.02" fill="#d1e1e1"/><rect x="140" y="11" width="1.04" height="1.02" fill="#e1ecec"/><rect x="140" y="12" width="1.04" height="1.02" fill="#e9f1f1"/><rect x="140" y="13" width="1.04" height="1.02" fill="#e6efef"/><rect x="141" y="0" width="1.04" height="1.02" fill="#bdd5d5"/><rect x="141" y="1" width="1.04" height="1.02" fill="#c1d8d8"/><rect x="141" y="2" width="1.04" height="1.02" fill="#d1e1e1"/><rect x="141" y="3" width="1.04" height="1.02" fill="#fbfcfc"/><rect x="141" y="4" width="1.04" height="1.02" fill="#f0f5f5"/><rect x="141" y="5" width="1.04" height="1.02" fill="#d3e3e3"/><rect x="141" y="6" width="1.04" height="1.02" fill="#bcd4d4"/><rect x="141" y="7" width="1.04" height="1.02" fill="#a0bec0"/><rect x="141" y="8" width="1.04" height="1.02" fill="#b4cfcf"/><rect x="141" y="9" width="1.04" height="1.02" fill="#c7dbdb"/><rect x="141" y="10" width="1.04" height="1.02" fill="#c8dcdc"/><rect x="141" y="11" width="1.04" height="1.02" fill="#ecf3f3"/><rect x="141" y="12" width="1.04" height="1.02" fill="#f1f6f6"/><rect x="141" y="13" width="1.04" height="1.02" fill="#e8f0f0"/><rect x="142" y="0" width="1.04" height="1.02" fill="#cee0df"/><rect x="142" y="1" width="1.04" height="1.02" fill="#ccdfdf"/><rect x="142" y="2" width="1.04" height="1.02" fill="#e4eeed"/><rect x="142" y="3" width="1.04" height="1.02" fill="#f4f8f8"/><rect x="142" y="4" width="1.04" height="1.02" fill="#f3f7f7"/><rect x="142" y="5" width="1.04" height="1.02" fill="#d3e3e3"/><rect x="142" y="6" width="1.04" height="1.02" fill="#bdd5d5"/><rect x="142" y="7" width="1.04" height="1.02" fill="#a1bfc1"/><rect x="142" y="8" width="1.04" height="1.02" fill="#b2cece"/><rect x="142" y="9" width="1.04" height="1.02" fill="#bcd4d4"/><rect x="142" y="10" width="1.04" height="1.02" fill="#d1e1e1"/><rect x="142" y="11" width="1.04" height="1.02" fill="#f1f6f6"/><rect x="142" y="12" width="1.04" height="1.02" fill="#fbfcfc"/><rect x="142" y="13" width="1.04" height="1.02" fill="#dbe8e8"/><rect x="143" y="0" width="1.04" height="1.02" fill="#b9d2d2"/><rect x="143" y="1" width="1.04" height="1.02" fill="#c1d8d8"/><rect x="143" y="2" width="1.04" height="1.02" fill="#d1e1e1"/><rect x="143" y="3" width="1.04" height="1.02" fill="#f3f7f7"/><rect x="143" y="4" width="1.04" height="1.02" fill="#e0ebeb"/><rect x="143" y="5" width="1.04" height="1.02" fill="#ccdfdf"/><rect x="143" y="6" width="1.04" height="1.02" fill="#c7dbdb"/><rect x="143" y="7" width="1.04" height="1.02" fill="#99b4b9"/><rect x="143" y="8" width="1.04" height="1.02" fill="#a7c7c7"/><rect x="143" y="9" width="1.04" height="1.02" fill="#c8dcdc"/><rect x="143" y="10" width="1.04" height="1.02" fill="#cfe0e0"/><rect x="143" y="11" width="1.04" height="1.02" fill="#f1f6f6"/><rect x="143" y="12" width="1.04" height="1.02" fill="#e2eded"/><rect x="143" y="13" width="1.04" height="1.02" fill="#d3e3e3"/><rect x="144" y="0" width="1.04" height="1.02" fill="#c7dbdb"/><rect x="144" y="1" width="1.04" height="1.02" fill="#d2e2e2"/><rect x="144" y="2" width="1.04" height="1.02" fill="#d2e2e2"/><rect x="144" y="3" width="1.04" height="1.02" fill="#ffffff"/><rect x="144" y="4" width="1.04" height="1.02" fill="#ffffff"/><rect x="144" y="5" width="1.04" height="1.02" fill="#d6e5e5"/><rect x="144" y="6" width="1.04" height="1.02" fill="#c3d9d8"/><rect x="144" y="7" width="1.04" height="1.02" fill="#accaca"/><rect x="144" y="8" width="1.04" height="1.02" fill="#c4d9d9"/><rect x="144" y="10" width="1.04" height="1.02" fill="#cadddd"/><rect x="144" y="11" width="1.04" height="1.02" fill="#ffffff"/><rect x="144" y="12" width="1.04" height="1.02" fill="#f4f8f8"/><rect x="144" y="13" width="1.04" height="1.02" fill="#e6efef"/><rect x="145" y="0" width="1.04" height="1.02" fill="#b9d2d2"/><rect x="145" y="1" width="1.04" height="1.02" fill="#c1d8d8"/><rect x="145" y="2" width="1.04" height="1.02" fill="#cadddd"/><rect x="145" y="3" width="1.04" height="1.02" fill="#e8f0f0"/><rect x="145" y="4" width="1.04" height="1.02" fill="#e8f0f0"/><rect x="145" y="5" width="1.04" height="1.02" fill="#c1d8d8"/><rect x="145" y="6" width="1.04" height="1.02" fill="#b5d0d0"/><rect x="145" y="7" width="1.04" height="1.02" fill="#a6c6c6"/><rect x="145" y="8" width="1.04" height="1.02" fill="#9bb6bb"/><rect x="145" y="9" width="1.04" height="1.02" fill="#bcd4d4"/><rect x="145" y="10" width="1.04" height="1.02" fill="#ccdfdf"/><rect x="145" y="11" width="1.04" height="1.02" fill="#e1ecec"/><rect x="145" y="12" width="1.04" height="1.02" fill="#f8fbfb"/><rect x="145" y="13" width="1.04" height="1.02" fill="#dde9e9"/><rect x="146" y="0" width="1.04" height="1.02" fill="#cbdede"/><rect x="146" y="1" width="1.04" height="1.02" fill="#cadddd"/><rect x="146" y="2" width="1.04" height="1.02" fill="#d3e3e3"/><rect x="146" y="3" width="1.04" height="1.02" fill="#fbfcfc"/><rect x="146" y="4" width="1.04" height="1.02" fill="#eaf2f2"/><rect x="146" y="5" width="1.04" height="1.02" fill="#cee0df"/><rect x="146" y="6" width="1.04" height="1.02" fill="#c4d9d9"/><rect x="146" y="7" width="1.04" height="1.02" fill="#a4c2c3"/><rect x="146" y="8" width="1.04" height="1.02" fill="#b7d1d1"/><rect x="146" y="9" width="1.04" height="1.02" fill="#bcd4d4"/><rect x="146" y="10" width="1.04" height="1.02" fill="#cfe0e0"/><rect x="146" y="11" width="1.04" height="1.02" fill="#eff5f4"/><rect x="146" y="12" width="1.04" height="1.02" fill="#ffffff"/><rect x="146" y="13" width="1.04" height="1.02" fill="#dbe8e8"/><rect x="147" y="0" width="1.04" height="1.02" fill="#c3d9d8"/><rect x="147" y="1" width="1.04" height="1.02" fill="#ccdfdf"/><rect x="147" y="2" width="1.04" height="1.02" fill="#e4eeed"/><rect x="147" y="3" width="1.04" height="1.02" fill="#f0f5f5"/><rect x="147" y="4" width="1.04" height="1.02" fill="#e9f1f1"/><rect x="147" y="5" width="1.04" height="1.02" fill="#d7e6e6"/><rect x="147" y="6" width="1.04" height="1.02" fill="#b5d0d0"/><rect x="147" y="7" width="1.04" height="1.02" fill="#a7c7c7"/><rect x="147" y="8" width="1.04" height="1.02" fill="#b2cece"/><rect x="147" y="9" width="1.04" height="1.02" fill="#c4d9d9"/><rect x="147" y="10" width="1.04" height="1.02" fill="#d9e7e6"/><rect x="147" y="11" width="1.04" height="1.02" fill="#f1f6f6"/><rect x="147" y="12" width="1.04" height="1.02" fill="#f8fbfb"/><rect x="147" y="13" width="1.04" height="1.02" fill="#d2e2e2"/><rect x="148" y="0" width="1.04" height="1.02" fill="#c1d8d8"/><rect x="148" y="1" width="1.04" height="1.02" fill="#b7d1d1"/><rect x="148" y="2" width="1.04" height="1.02" fill="#d5e4e4"/><rect x="148" y="3" width="1.04" height="1.02" fill="#eaf2f2"/><rect x="148" y="4" width="1.04" height="1.02" fill="#deeaea"/><rect x="148" y="5" width="1.04" height="1.02" fill="#c8dcdc"/><rect x="148" y="6" width="1.04" height="1.02" fill="#a4c4c4"/><rect x="148" y="7" width="1.04" height="1.02" fill="#9fbcbf"/><rect x="148" y="8" width="1.04" height="1.02" fill="#b1cdcd"/><rect x="148" y="9" width="1.04" height="1.02" fill="#b2cece"/><rect x="148" y="10" width="1.04" height="1.02" fill="#cee0df"/><rect x="148" y="11" width="1.04" height="1.02" fill="#e8f0f0"/><rect x="148" y="12" width="1.04" height="1.02" fill="#ffffff"/><rect x="148" y="13" width="1.04" height="1.02" fill="#ccdfdf"/><rect x="149" y="0" width="1.04" height="1.02" fill="#bcd4d4"/><rect x="149" y="1" width="1.04" height="1.02" fill="#bfd6d6"/><rect x="149" y="2" width="1.04" height="1.02" fill="#cadddd"/><rect x="149" y="3" width="1.04" height="1.02" fill="#f0f5f5"/><rect x="149" y="4" width="1.04" height="1.02" fill="#e0ebeb"/><rect x="149" y="5" width="1.04" height="1.02" fill="#d2e2e2"/><rect x="149" y="6" width="1.04" height="1.02" fill="#bbd3d3"/><rect x="149" y="7" width="1.04" height="1.02" fill="#9dbabd"/><rect x="149" y="8" width="1.04" height="1.02" fill="#a9c8c8"/><rect x="149" y="9" width="1.04" height="1.02" fill="#cadddd"/><rect x="149" y="10" width="1.04" height="1.02" fill="#cbdede"/><rect x="149" y="11" width="1.04" height="1.02" fill="#e8f0f0"/><rect x="149" y="12" width="1.04" height="1.02" fill="#f5f9f9"/><rect x="149" y="13" width="1.04" height="1.02" fill="#d3e3e3"/><rect x="150" y="0" width="1.04" height="1.02" fill="#d3e3e3"/><rect x="150" y="1" width="1.04" height="1.02" fill="#d2e2e2"/><rect x="150" y="2" width="1.04" height="1.02" fill="#cee0df"/><rect x="150" y="3" width="1.04" height="1.02" fill="#fefefe"/><rect x="150" y="4" width="1.04" height="1.02" fill="#e9f1f1"/><rect x="150" y="5" width="1.04" height="1.02" fill="#ccdfdf"/><rect x="150" y="6" width="1.04" height="1.02" fill="#b8d2d1"/><rect x="150" y="7" width="1.04" height="1.02" fill="#aecbcb"/><rect x="150" y="8" width="1.04" height="1.02" fill="#b2cece"/><rect x="150" y="9" width="1.04" height="1.02" fill="#c3d9d8"/><rect x="150" y="10" width="1.04" height="1.02" fill="#cbdede"/><rect x="150" y="11" width="1.04" height="1.02" fill="#f0f5f5"/><rect x="150" y="12" width="1.04" height="1.02" fill="#fbfcfc"/><rect x="150" y="13" width="1.04" height="1.02" fill="#d3e3e3"/><rect x="151" y="0" width="1.04" height="1.02" fill="#bfd6d6"/><rect x="151" y="1" width="1.04" height="1.02" fill="#c8dcdc"/><rect x="151" y="2" width="1.04" height="1.02" fill="#d2e2e2"/><rect x="151" y="3" width="1.04" height="1.02" fill="#ecf3f3"/><rect x="151" y="4" width="1.04" height="1.02" fill="#deeaea"/><rect x="151" y="5" width="1.04" height="1.02" fill="#d5e4e4"/><rect x="151" y="6" width="1.04" height="1.02" fill="#b7d1d1"/><rect x="151" y="7" width="1.04" height="1.02" fill="#a4c2c3"/><rect x="151" y="8" width="1.04" height="1.02" fill="#b2cece"/><rect x="151" y="9" width="1.04" height="1.02" fill="#bdd5d5"/><rect x="151" y="10" width="1.04" height="1.02" fill="#cbdede"/><rect x="151" y="11" width="1.04" height="1.02" fill="#e8f0f0"/><rect x="151" y="12" width="1.04" height="1.02" fill="#e9f1f1"/><rect x="151" y="13" width="1.04" height="1.02" fill="#e0ebeb"/><rect x="152" y="0" width="1.04" height="1.02" fill="#c3d9d8"/><rect x="152" y="1" width="1.04" height="1.02" fill="#c7dbdb"/><rect x="152" y="2" width="1.04" height="1.02" fill="#d1e1e1"/><rect x="152" y="3" width="1.04" height="1.02" fill="#f8fbfb"/><rect x="152" y="4" width="1.04" height="1.02" fill="#f3f7f7"/><rect x="152" y="5" width="1.04" height="1.02" fill="#cee0df"/><rect x="152" y="6" width="1.04" height="1.02" fill="#b8d2d1"/><rect x="152" y="7" width="1.04" height="1.02" fill="#9cb8bc"/><rect x="152" y="8" width="1.04" height="1.02" fill="#aac9c9"/><rect x="152" y="9" width="1.04" height="1.02" fill="#cadddd"/><rect x="152" y="10" width="1.04" height="1.02" fill="#cadddd"/><rect x="152" y="11" width="1.04" height="1.02" fill="#eff5f4"/><rect x="152" y="12" width="1.04" height="1.02" fill="#fbfcfc"/><rect x="153" y="0" width="1.04" height="1.02" fill="#bfd6d6"/><rect x="153" y="1" width="1.04" height="1.02" fill="#c3d9d8"/><rect x="153" y="2" width="1.04" height="1.02" fill="#cadddd"/><rect x="153" y="3" width="1.04" height="1.02" fill="#ecf3f3"/><rect x="153" y="4" width="1.04" height="1.02" fill="#dde9e9"/><rect x="153" y="5" width="1.04" height="1.02" fill="#d5e4e4"/><rect x="153" y="6" width="1.04" height="1.02" fill="#c4d9d9"/><rect x="153" y="7" width="1.04" height="1.02" fill="#9ebbbe"/><rect x="153" y="8" width="1.04" height="1.02" fill="#a4c4c4"/><rect x="153" y="9" width="1.04" height="1.02" fill="#bdd5d5"/><rect x="153" y="10" width="1.04" height="1.02" fill="#ccdfdf"/><rect x="153" y="11" width="1.04" height="1.02" fill="#e5eeee"/><rect x="153" y="12" width="1.04" height="1.02" fill="#f3f7f7"/><rect x="153" y="13" width="1.04" height="1.02" fill="#cbdede"/><rect x="154" y="0" width="1.04" height="1.02" fill="#c0d7d7"/><rect x="154" y="1" width="1.04" height="1.02" fill="#c3d9d8"/><rect x="154" y="2" width="1.04" height="1.02" fill="#cee0df"/><rect x="154" y="3" width="1.04" height="1.02" fill="#e8f0f0"/><rect x="154" y="4" width="1.04" height="1.02" fill="#deeaea"/><rect x="154" y="5" width="1.04" height="1.02" fill="#d5e4e4"/><rect x="154" y="6" width="1.04" height="1.02" fill="#b5d0d0"/><rect x="154" y="7" width="1.04" height="1.02" fill="#9bb6bb"/><rect x="154" y="8" width="1.04" height="1.02" fill="#b1cdcd"/><rect x="154" y="9" width="1.04" height="1.02" fill="#c1d8d8"/><rect x="154" y="11" width="1.04" height="1.02" fill="#dde9e9"/><rect x="154" y="12" width="1.04" height="1.02" fill="#e6efef"/><rect x="154" y="13" width="1.04" height="1.02" fill="#e1ecec"/><rect x="155" y="0" width="1.04" height="1.02" fill="#ccdfdf"/><rect x="155" y="1" width="1.04" height="1.02" fill="#ccdfdf"/><rect x="155" y="2" width="1.04" height="1.02" fill="#d2e2e2"/><rect x="155" y="3" width="1.04" height="1.02" fill="#edf4f4"/><rect x="155" y="4" width="1.04" height="1.02" fill="#deeaea"/><rect x="155" y="5" width="1.04" height="1.02" fill="#b5d0d0"/><rect x="155" y="6" width="1.04" height="1.02" fill="#b4cfcf"/><rect x="155" y="7" width="1.04" height="1.02" fill="#a2c0c2"/><rect x="155" y="8" width="1.04" height="1.02" fill="#b5d0d0"/><rect x="155" y="10" width="1.04" height="1.02" fill="#d5e4e4"/><rect x="155" y="11" width="1.04" height="1.02" fill="#e8f0f0"/><rect x="155" y="12" width="1.04" height="1.02" fill="#f3f7f7"/><rect x="155" y="13" width="1.04" height="1.02" fill="#dae7e7"/><rect x="156" y="0" width="1.04" height="1.02" fill="#cee0df"/><rect x="156" y="1" width="1.04" height="1.02" fill="#d3e3e3"/><rect x="156" y="2" width="1.04" height="1.02" fill="#e1ecec"/><rect x="156" y="3" width="1.04" height="1.02" fill="#e9f1f1"/><rect x="156" y="4" width="1.04" height="1.02" fill="#e5eeee"/><rect x="156" y="5" width="1.04" height="1.02" fill="#c7dbdb"/><rect x="156" y="6" width="1.04" height="1.02" fill="#b5d0d0"/><rect x="156" y="7" width="1.04" height="1.02" fill="#aac9c9"/><rect x="156" y="8" width="1.04" height="1.02" fill="#adcbca"/><rect x="156" y="9" width="1.04" height="1.02" fill="#cee0df"/><rect x="156" y="10" width="1.04" height="1.02" fill="#bfd6d6"/><rect x="156" y="11" width="1.04" height="1.02" fill="#dde9e9"/><rect x="156" y="12" width="1.04" height="1.02" fill="#eff5f4"/><rect x="156" y="13" width="1.04" height="1.02" fill="#e0ebeb"/><rect x="157" y="0" width="1.04" height="1.02" fill="#d2e2e2"/><rect x="157" y="1" width="1.04" height="1.02" fill="#ccdfdf"/><rect x="157" y="2" width="1.04" height="1.02" fill="#cfe0e0"/><rect x="157" y="3" width="1.04" height="1.02" fill="#e9f1f1"/><rect x="157" y="4" width="1.04" height="1.02" fill="#e6efef"/><rect x="157" y="6" width="1.04" height="1.02" fill="#c1d8d8"/><rect x="157" y="7" width="1.04" height="1.02" fill="#a5c5c5"/><rect x="157" y="8" width="1.04" height="1.02" fill="#b2cece"/><rect x="157" y="9" width="1.04" height="1.02" fill="#c8dcdc"/><rect x="157" y="10" width="1.04" height="1.02" fill="#cadddd"/><rect x="157" y="11" width="1.04" height="1.02" fill="#eaf2f2"/><rect x="157" y="12" width="1.04" height="1.02" fill="#dbe8e8"/><rect x="157" y="13" width="1.04" height="1.02" fill="#d9e7e6"/><rect x="158" y="1" width="1.04" height="1.02" fill="#bcd4d4"/><rect x="158" y="2" width="1.04" height="1.02" fill="#d7e6e6"/><rect x="158" y="3" width="1.04" height="1.02" fill="#ecf3f3"/><rect x="158" y="4" width="1.04" height="1.02" fill="#dbe8e8"/><rect x="158" y="5" width="1.04" height="1.02" fill="#c1d8d8"/><rect x="158" y="6" width="1.04" height="1.02" fill="#bfd6d6"/><rect x="158" y="7" width="1.04" height="1.02" fill="#9dbabd"/><rect x="158" y="8" width="1.04" height="1.02" fill="#b0cccc"/><rect x="158" y="9" width="1.04" height="1.02" fill="#bbd3d3"/><rect x="158" y="10" width="1.04" height="1.02" fill="#c4d9d9"/><rect x="158" y="11" width="1.04" height="1.02" fill="#d7e6e6"/><rect x="158" y="12" width="1.04" height="1.02" fill="#f0f5f5"/><rect x="158" y="13" width="1.04" height="1.02" fill="#c3d9d8"/><rect x="159" y="0" width="1.04" height="1.02" fill="#c7dbdb"/><rect x="159" y="1" width="1.04" height="1.02" fill="#cee0df"/><rect x="159" y="2" width="1.04" height="1.02" fill="#e0ebeb"/><rect x="159" y="3" width="1.04" height="1.02" fill="#f1f6f6"/><rect x="159" y="4" width="1.04" height="1.02" fill="#dde9e9"/><rect x="159" y="5" width="1.04" height="1.02" fill="#cee0df"/><rect x="159" y="6" width="1.04" height="1.02" fill="#c3d9d8"/><rect x="159" y="7" width="1.04" height="1.02" fill="#aac9c9"/><rect x="159" y="8" width="1.04" height="1.02" fill="#a5c5c5"/><rect x="159" y="9" width="1.04" height="1.02" fill="#c3d9d8"/><rect x="159" y="10" width="1.04" height="1.02" fill="#d1e1e1"/><rect x="159" y="11" width="1.04" height="1.02" fill="#d7e6e6"/><rect x="159" y="12" width="1.04" height="1.02" fill="#e4eeed"/><rect x="159" y="13" width="1.04" height="1.02" fill="#d3e3e3"/><rect x="160" y="0" width="1.04" height="1.02" fill="#d3e3e3"/><rect x="160" y="1" width="1.04" height="1.02" fill="#d3e3e3"/><rect x="160" y="2" width="1.04" height="1.02" fill="#dae7e7"/><rect x="160" y="3" width="1.04" height="1.02" fill="#ecf3f3"/><rect x="160" y="4" width="1.04" height="1.02" fill="#e1ecec"/><rect x="160" y="5" width="1.04" height="1.02" fill="#cbdede"/><rect x="160" y="6" width="1.04" height="1.02" fill="#bdd5d5"/><rect x="160" y="7" width="1.04" height="1.02" fill="#a9c8c8"/><rect x="160" y="8" width="1.04" height="1.02" fill="#bcd4d4"/><rect x="160" y="9" width="1.04" height="1.02" fill="#d5e4e4"/><rect x="160" y="10" width="1.04" height="1.02" fill="#d3e3e3"/><rect x="160" y="11" width="1.04" height="1.02" fill="#eaf2f2"/><rect x="160" y="12" width="1.04" height="1.02" fill="#eff5f4"/><rect x="160" y="13" width="1.04" height="1.02" fill="#d9e7e6"/><rect x="161" y="0" width="1.04" height="1.02" fill="#d2e2e2"/><rect x="161" y="1" width="1.04" height="1.02" fill="#cee0df"/><rect x="161" y="2" width="1.04" height="1.02" fill="#d9e7e6"/><rect x="161" y="3" width="1.04" height="1.02" fill="#f0f5f5"/><rect x="161" y="4" width="1.04" height="1.02" fill="#e2eded"/><rect x="161" y="5" width="1.04" height="1.02" fill="#d3e3e3"/><rect x="161" y="6" width="1.04" height="1.02" fill="#c8dcdc"/><rect x="161" y="7" width="1.04" height="1.02" fill="#adcbca"/><rect x="161" y="8" width="1.04" height="1.02" fill="#a9c8c8"/><rect x="161" y="9" width="1.04" height="1.02" fill="#ccdfdf"/><rect x="161" y="10" width="1.04" height="1.02" fill="#cadddd"/><rect x="161" y="11" width="1.04" height="1.02" fill="#dbe8e8"/><rect x="161" y="12" width="1.04" height="1.02" fill="#e1ecec"/><rect x="161" y="13" width="1.04" height="1.02" fill="#e0ebeb"/><rect x="162" y="0" width="1.04" height="1.02" fill="#bdd5d5"/><rect x="162" y="1" width="1.04" height="1.02" fill="#c3d9d8"/><rect x="162" y="2" width="1.04" height="1.02" fill="#cfe0e0"/><rect x="162" y="3" width="1.04" height="1.02" fill="#dbe8e8"/><rect x="162" y="4" width="1.04" height="1.02" fill="#d9e7e6"/><rect x="162" y="5" width="1.04" height="1.02" fill="#c7dbdb"/><rect x="162" y="6" width="1.04" height="1.02" fill="#accaca"/><rect x="162" y="7" width="1.04" height="1.02" fill="#a7c7c7"/><rect x="162" y="8" width="1.04" height="1.02" fill="#b2cece"/><rect x="162" y="9" width="1.04" height="1.02" fill="#b7d1d1"/><rect x="162" y="10" width="1.04" height="1.02" fill="#c1d8d8"/><rect x="162" y="11" width="1.04" height="1.02" fill="#d2e2e2"/><rect x="162" y="12" width="1.04" height="1.02" fill="#e6efef"/><rect x="163" y="0" width="1.04" height="1.02" fill="#b7d1d1"/><rect x="163" y="1" width="1.04" height="1.02" fill="#cfe0e0"/><rect x="163" y="2" width="1.04" height="1.02" fill="#d1e1e1"/><rect x="163" y="3" width="1.04" height="1.02" fill="#e6efef"/><rect x="163" y="4" width="1.04" height="1.02" fill="#e9f1f1"/><rect x="163" y="5" width="1.04" height="1.02" fill="#d1e1e1"/><rect x="163" y="6" width="1.04" height="1.02" fill="#b2cece"/><rect x="163" y="7" width="1.04" height="1.02" fill="#accaca"/><rect x="163" y="8" width="1.04" height="1.02" fill="#b7d1d1"/><rect x="163" y="9" width="1.04" height="1.02" fill="#bbd3d3"/><rect x="163" y="10" width="1.04" height="1.02" fill="#c4d9d9"/><rect x="163" y="11" width="1.04" height="1.02" fill="#d7e6e6"/><rect x="163" y="12" width="1.04" height="1.02" fill="#e9f1f1"/><rect x="163" y="13" width="1.04" height="1.02" fill="#d2e2e2"/><rect x="164" y="0" width="1.04" height="1.02" fill="#c7dbdb"/><rect x="164" y="1" width="1.04" height="1.02" fill="#cadddd"/><rect x="164" y="2" width="1.04" height="1.02" fill="#cadddd"/><rect x="164" y="3" width="1.04" height="1.02" fill="#d6e5e5"/><rect x="164" y="4" width="1.04" height="1.02" fill="#e4eeed"/><rect x="164" y="5" width="1.04" height="1.02" fill="#dbe8e8"/><rect x="164" y="6" width="1.04" height="1.02" fill="#c4d9d9"/><rect x="164" y="7" width="1.04" height="1.02" fill="#aecbcb"/><rect x="164" y="8" width="1.04" height="1.02" fill="#b1cdcd"/><rect x="164" y="9" width="1.04" height="1.02" fill="#bbd3d3"/><rect x="164" y="10" width="1.04" height="1.02" fill="#cadddd"/><rect x="164" y="11" width="1.04" height="1.02" fill="#e1ecec"/><rect x="164" y="12" width="1.04" height="1.02" fill="#e0ebeb"/><rect x="164" y="13" width="1.04" height="1.02" fill="#d6e5e5"/><rect x="165" y="0" width="1.04" height="1.02" fill="#cadddd"/><rect x="165" y="1" width="1.04" height="1.02" fill="#b4cfcf"/><rect x="165" y="2" width="1.04" height="1.02" fill="#cee0df"/><rect x="165" y="3" width="1.04" height="1.02" fill="#eaf2f2"/><rect x="165" y="4" width="1.04" height="1.02" fill="#e6efef"/><rect x="165" y="5" width="1.04" height="1.02" fill="#cfe0e0"/><rect x="165" y="6" width="1.04" height="1.02" fill="#cadddd"/><rect x="165" y="7" width="1.04" height="1.02" fill="#b1cdcd"/><rect x="165" y="8" width="1.04" height="1.02" fill="#b9d2d2"/><rect x="165" y="9" width="1.04" height="1.02" fill="#bdd5d5"/><rect x="165" y="10" width="1.04" height="1.02" fill="#d1e1e1"/><rect x="165" y="11" width="1.04" height="1.02" fill="#e4eeed"/><rect x="165" y="12" width="1.04" height="1.02" fill="#edf4f4"/><rect x="165" y="13" width="1.04" height="1.02" fill="#dbe8e8"/><rect x="166" y="0" width="1.04" height="1.02" fill="#c7dbdb"/><rect x="166" y="1" width="1.04" height="1.02" fill="#c0d7d7"/><rect x="166" y="2" width="1.04" height="1.02" fill="#d7e6e6"/><rect x="166" y="3" width="1.04" height="1.02" fill="#dde9e9"/><rect x="166" y="4" width="1.04" height="1.02" fill="#dde9e9"/><rect x="166" y="5" width="1.04" height="1.02" fill="#ccdfdf"/><rect x="166" y="6" width="1.04" height="1.02" fill="#ccdfdf"/><rect x="166" y="7" width="1.04" height="1.02" fill="#b5d0d0"/><rect x="166" y="8" width="1.04" height="1.02" fill="#aecbcb"/><rect x="166" y="9" width="1.04" height="1.02" fill="#b9d2d2"/><rect x="166" y="10" width="1.04" height="1.02" fill="#cbdede"/><rect x="166" y="11" width="1.04" height="1.02" fill="#d9e7e6"/><rect x="166" y="12" width="1.04" height="1.02" fill="#e6efef"/><rect x="166" y="13" width="1.04" height="1.02" fill="#d6e5e5"/><rect x="167" y="0" width="1.04" height="1.02" fill="#c1d8d8"/><rect x="167" y="1" width="1.04" height="1.02" fill="#c7dbdb"/><rect x="167" y="2" width="1.04" height="1.02" fill="#d7e6e6"/><rect x="167" y="3" width="1.04" height="1.02" fill="#e8f0f0"/><rect x="167" y="4" width="1.04" height="1.02" fill="#dde9e9"/><rect x="167" y="5" width="1.04" height="1.02" fill="#ccdfdf"/><rect x="167" y="7" width="1.04" height="1.02" fill="#a4c2c3"/><rect x="167" y="8" width="1.04" height="1.02" fill="#b4cfcf"/><rect x="167" y="10" width="1.04" height="1.02" fill="#c4d9d9"/><rect x="167" y="11" width="1.04" height="1.02" fill="#d9e7e6"/><rect x="167" y="12" width="1.04" height="1.02" fill="#e6efef"/><rect x="167" y="13" width="1.04" height="1.02" fill="#d2e2e2"/><rect x="168" y="0" width="1.04" height="1.02" fill="#cee0df"/><rect x="168" y="1" width="1.04" height="1.02" fill="#dbe8e8"/><rect x="168" y="2" width="1.04" height="1.02" fill="#cee0df"/><rect x="168" y="3" width="1.04" height="1.02" fill="#f5f9f9"/><rect x="168" y="4" width="1.04" height="1.02" fill="#dde9e9"/><rect x="168" y="5" width="1.04" height="1.02" fill="#d6e5e5"/><rect x="168" y="6" width="1.04" height="1.02" fill="#c8dcdc"/><rect x="168" y="7" width="1.04" height="1.02" fill="#b1cdcd"/><rect x="168" y="8" width="1.04" height="1.02" fill="#b5d0d0"/><rect x="168" y="9" width="1.04" height="1.02" fill="#c3d9d8"/><rect x="168" y="10" width="1.04" height="1.02" fill="#c4d9d9"/><rect x="168" y="11" width="1.04" height="1.02" fill="#e0ebeb"/><rect x="168" y="12" width="1.04" height="1.02" fill="#e1ecec"/><rect x="168" y="13" width="1.04" height="1.02" fill="#dbe8e8"/><rect x="169" y="0" width="1.04" height="1.02" fill="#c1d8d8"/><rect x="169" y="1" width="1.04" height="1.02" fill="#c8dcdc"/><rect x="169" y="2" width="1.04" height="1.02" fill="#d1e1e1"/><rect x="169" y="3" width="1.04" height="1.02" fill="#e1ecec"/><rect x="169" y="4" width="1.04" height="1.02" fill="#dae7e7"/><rect x="169" y="5" width="1.04" height="1.02" fill="#c7dbdb"/><rect x="169" y="6" width="1.04" height="1.02" fill="#bfd6d6"/><rect x="169" y="7" width="1.04" height="1.02" fill="#aecbcb"/><rect x="169" y="8" width="1.04" height="1.02" fill="#accaca"/><rect x="169" y="9" width="1.04" height="1.02" fill="#ccdfdf"/><rect x="169" y="10" width="1.04" height="1.02" fill="#cfe0e0"/><rect x="169" y="11" width="1.04" height="1.02" fill="#d1e1e1"/><rect x="169" y="12" width="1.04" height="1.02" fill="#f4f8f8"/><rect x="169" y="13" width="1.04" height="1.02" fill="#d5e4e4"/><rect x="170" y="0" width="1.04" height="1.02" fill="#cfe0e0"/><rect x="170" y="1" width="1.04" height="1.02" fill="#b2cece"/><rect x="170" y="2" width="1.04" height="1.02" fill="#e2eded"/><rect x="170" y="3" width="1.04" height="1.02" fill="#d6e5e5"/><rect x="170" y="4" width="1.04" height="1.02" fill="#d1e1e1"/><rect x="170" y="5" width="1.04" height="1.02" fill="#c3d9d8"/><rect x="170" y="6" width="1.04" height="1.02" fill="#bcd4d4"/><rect x="170" y="7" width="1.04" height="1.02" fill="#a7c7c7"/><rect x="170" y="8" width="1.04" height="1.02" fill="#b8d2d1"/><rect x="170" y="9" width="1.04" height="1.02" fill="#bbd3d3"/><rect x="170" y="10" width="1.04" height="1.02" fill="#d2e2e2"/><rect x="170" y="11" width="1.04" height="1.02" fill="#dde9e9"/><rect x="170" y="12" width="1.04" height="1.02" fill="#d9e7e6"/><rect x="170" y="13" width="1.04" height="1.02" fill="#d9e7e6"/><rect x="171" y="1" width="1.04" height="1.02" fill="#d2e2e2"/><rect x="171" y="2" width="1.04" height="1.02" fill="#cbdede"/><rect x="171" y="3" width="1.04" height="1.02" fill="#e2eded"/><rect x="171" y="4" width="1.04" height="1.02" fill="#e9f1f1"/><rect x="171" y="5" width="1.04" height="1.02" fill="#cee0df"/><rect x="171" y="6" width="1.04" height="1.02" fill="#c4d9d9"/><rect x="171" y="7" width="1.04" height="1.02" fill="#b2cece"/><rect x="171" y="8" width="1.04" height="1.02" fill="#b5d0d0"/><rect x="171" y="9" width="1.04" height="1.02" fill="#cadddd"/><rect x="171" y="10" width="1.04" height="1.02" fill="#c7dbdb"/><rect x="171" y="11" width="1.04" height="1.02" fill="#e4eeed"/><rect x="171" y="12" width="1.04" height="1.02" fill="#dde9e9"/><rect x="171" y="13" width="1.04" height="1.02" fill="#d5e4e4"/><rect x="172" y="0" width="1.04" height="1.02" fill="#c7dbdb"/><rect x="172" y="1" width="1.04" height="1.02" fill="#c8dcdc"/><rect x="172" y="2" width="1.04" height="1.02" fill="#d7e6e6"/><rect x="172" y="3" width="1.04" height="1.02" fill="#dbe8e8"/><rect x="172" y="4" width="1.04" height="1.02" fill="#d3e3e3"/><rect x="172" y="5" width="1.04" height="1.02" fill="#b9d2d2"/><rect x="172" y="6" width="1.04" height="1.02" fill="#b1cdcd"/><rect x="172" y="7" width="1.04" height="1.02" fill="#a7c7c7"/><rect x="172" y="8" width="1.04" height="1.02" fill="#b2cece"/><rect x="172" y="9" width="1.04" height="1.02" fill="#bdd5d5"/><rect x="172" y="10" width="1.04" height="1.02" fill="#cadddd"/><rect x="172" y="11" width="1.04" height="1.02" fill="#cfe0e0"/><rect x="172" y="12" width="1.04" height="1.02" fill="#d9e7e6"/><rect x="172" y="13" width="1.04" height="1.02" fill="#d6e5e5"/><rect x="173" y="0" width="1.04" height="1.02" fill="#bfd6d6"/><rect x="173" y="1" width="1.04" height="1.02" fill="#c8dcdc"/><rect x="173" y="2" width="1.04" height="1.02" fill="#d6e5e5"/><rect x="173" y="3" width="1.04" height="1.02" fill="#dde9e9"/><rect x="173" y="4" width="1.04" height="1.02" fill="#e2eded"/><rect x="173" y="5" width="1.04" height="1.02" fill="#d1e1e1"/><rect x="173" y="6" width="1.04" height="1.02" fill="#c3d9d8"/><rect x="173" y="7" width="1.04" height="1.02" fill="#bdd5d5"/><rect x="173" y="8" width="1.04" height="1.02" fill="#b1cdcd"/><rect x="173" y="9" width="1.04" height="1.02" fill="#cfe0e0"/><rect x="173" y="10" width="1.04" height="1.02" fill="#d3e3e3"/><rect x="173" y="11" width="1.04" height="1.02" fill="#e5eeee"/><rect x="173" y="12" width="1.04" height="1.02" fill="#e0ebeb"/><rect x="173" y="13" width="1.04" height="1.02" fill="#d6e5e5"/><rect x="174" y="0" width="1.04" height="1.02" fill="#d2e2e2"/><rect x="174" y="1" width="1.04" height="1.02" fill="#c8dcdc"/><rect x="174" y="2" width="1.04" height="1.02" fill="#dde9e9"/><rect x="174" y="3" width="1.04" height="1.02" fill="#e0ebeb"/><rect x="174" y="4" width="1.04" height="1.02" fill="#dae7e7"/><rect x="174" y="5" width="1.04" height="1.02" fill="#ccdfdf"/><rect x="174" y="6" width="1.04" height="1.02" fill="#aecbcb"/><rect x="174" y="7" width="1.04" height="1.02" fill="#a9c8c8"/><rect x="174" y="8" width="1.04" height="1.02" fill="#b0cccc"/><rect x="174" y="9" width="1.04" height="1.02" fill="#c3d9d8"/><rect x="174" y="10" width="1.04" height="1.02" fill="#cee0df"/><rect x="174" y="11" width="1.04" height="1.02" fill="#d6e5e5"/><rect x="174" y="12" width="1.04" height="1.02" fill="#dae7e7"/><rect x="174" y="13" width="1.04" height="1.02" fill="#dbe8e8"/><rect x="175" y="0" width="1.04" height="1.02" fill="#bdd5d5"/><rect x="175" y="1" width="1.04" height="1.02" fill="#bdd5d5"/><rect x="175" y="2" width="1.04" height="1.02" fill="#cbdede"/><rect x="175" y="3" width="1.04" height="1.02" fill="#e8f0f0"/><rect x="175" y="4" width="1.04" height="1.02" fill="#e1ecec"/><rect x="175" y="5" width="1.04" height="1.02" fill="#bbd3d3"/><rect x="175" y="6" width="1.04" height="1.02" fill="#b8d2d1"/><rect x="175" y="7" width="1.04" height="1.02" fill="#b4cfcf"/><rect x="175" y="8" width="1.04" height="1.02" fill="#aecbcb"/><rect x="175" y="9" width="1.04" height="1.02" fill="#c3d9d8"/><rect x="175" y="10" width="1.04" height="1.02" fill="#d6e5e5"/><rect x="175" y="11" width="1.04" height="1.02" fill="#e9f1f1"/><rect x="175" y="12" width="1.04" height="1.02" fill="#e9f1f1"/><rect x="175" y="13" width="1.04" height="1.02" fill="#ccdfdf"/><rect x="176" y="0" width="1.04" height="1.02" fill="#c7dbdb"/><rect x="176" y="2" width="1.04" height="1.02" fill="#cee0df"/><rect x="176" y="3" width="1.04" height="1.02" fill="#f1f6f6"/><rect x="176" y="4" width="1.04" height="1.02" fill="#e0ebeb"/><rect x="176" y="5" width="1.04" height="1.02" fill="#d2e2e2"/><rect x="176" y="6" width="1.04" height="1.02" fill="#c7dbdb"/><rect x="176" y="7" width="1.04" height="1.02" fill="#b1cdcd"/><rect x="176" y="8" width="1.04" height="1.02" fill="#b5d0d0"/><rect x="176" y="10" width="1.04" height="1.02" fill="#d7e6e6"/><rect x="176" y="11" width="1.04" height="1.02" fill="#e1ecec"/><rect x="176" y="12" width="1.04" height="1.02" fill="#d3e3e3"/><rect x="176" y="13" width="1.04" height="1.02" fill="#dae7e7"/><rect x="177" y="0" width="1.04" height="1.02" fill="#cadddd"/><rect x="177" y="1" width="1.04" height="1.02" fill="#cadddd"/><rect x="177" y="2" width="1.04" height="1.02" fill="#d5e4e4"/><rect x="177" y="3" width="1.04" height="1.02" fill="#f0f5f5"/><rect x="177" y="4" width="1.04" height="1.02" fill="#dbe8e8"/><rect x="177" y="5" width="1.04" height="1.02" fill="#d7e6e6"/><rect x="177" y="6" width="1.04" height="1.02" fill="#ccdfdf"/><rect x="177" y="7" width="1.04" height="1.02" fill="#b8d2d1"/><rect x="177" y="8" width="1.04" height="1.02" fill="#bcd4d4"/><rect x="177" y="9" width="1.04" height="1.02" fill="#c4d9d9"/><rect x="177" y="10" width="1.04" height="1.02" fill="#cee0df"/><rect x="177" y="11" width="1.04" height="1.02" fill="#e2eded"/><rect x="177" y="12" width="1.04" height="1.02" fill="#e1ecec"/><rect x="177" y="13" width="1.04" height="1.02" fill="#d7e6e6"/><rect x="178" y="0" width="1.04" height="1.02" fill="#ccdfdf"/><rect x="178" y="1" width="1.04" height="1.02" fill="#cfe0e0"/><rect x="178" y="2" width="1.04" height="1.02" fill="#cadddd"/><rect x="178" y="3" width="1.04" height="1.02" fill="#e8f0f0"/><rect x="178" y="4" width="1.04" height="1.02" fill="#dbe8e8"/><rect x="178" y="5" width="1.04" height="1.02" fill="#cadddd"/><rect x="178" y="6" width="1.04" height="1.02" fill="#bdd5d5"/><rect x="178" y="7" width="1.04" height="1.02" fill="#adcbca"/><rect x="178" y="8" width="1.04" height="1.02" fill="#a7c7c7"/><rect x="178" y="9" width="1.04" height="1.02" fill="#d2e2e2"/><rect x="178" y="10" width="1.04" height="1.02" fill="#c3d9d8"/><rect x="178" y="11" width="1.04" height="1.02" fill="#c8dcdc"/><rect x="178" y="12" width="1.04" height="1.02" fill="#deeaea"/><rect x="178" y="13" width="1.04" height="1.02" fill="#cfe0e0"/><rect x="179" y="0" width="1.04" height="1.02" fill="#b5d0d0"/><rect x="179" y="1" width="1.04" height="1.02" fill="#cee0df"/><rect x="179" y="2" width="1.04" height="1.02" fill="#cfe0e0"/><rect x="179" y="3" width="1.04" height="1.02" fill="#e0ebeb"/><rect x="179" y="4" width="1.04" height="1.02" fill="#d6e5e5"/><rect x="179" y="5" width="1.04" height="1.02" fill="#c8dcdc"/><rect x="179" y="6" width="1.04" height="1.02" fill="#b7d1d1"/><rect x="179" y="7" width="1.04" height="1.02" fill="#aecbcb"/><rect x="179" y="8" width="1.04" height="1.02" fill="#b2cece"/><rect x="179" y="10" width="1.04" height="1.02" fill="#cee0df"/><rect x="179" y="11" width="1.04" height="1.02" fill="#dae7e7"/><rect x="179" y="12" width="1.04" height="1.02" fill="#e0ebeb"/><rect x="179" y="13" width="1.04" height="1.02" fill="#d7e6e6"/><rect x="180" y="0" width="1.04" height="1.02" fill="#c1d8d8"/><rect x="180" y="1" width="1.04" height="1.02" fill="#cbdede"/><rect x="180" y="2" width="1.04" height="1.02" fill="#c4d9d9"/><rect x="180" y="3" width="1.04" height="1.02" fill="#e1ecec"/><rect x="180" y="4" width="1.04" height="1.02" fill="#d3e3e3"/><rect x="180" y="6" width="1.04" height="1.02" fill="#b7d1d1"/><rect x="180" y="7" width="1.04" height="1.02" fill="#a7c7c7"/><rect x="180" y="8" width="1.04" height="1.02" fill="#b4cfcf"/><rect x="180" y="9" width="1.04" height="1.02" fill="#bdd5d5"/><rect x="180" y="10" width="1.04" height="1.02" fill="#b8d2d1"/><rect x="180" y="11" width="1.04" height="1.02" fill="#e6efef"/><rect x="180" y="12" width="1.04" height="1.02" fill="#dbe8e8"/><rect x="180" y="13" width="1.04" height="1.02" fill="#cadddd"/><rect x="181" y="0" width="1.04" height="1.02" fill="#d3e3e3"/><rect x="181" y="1" width="1.04" height="1.02" fill="#bcd4d4"/><rect x="181" y="2" width="1.04" height="1.02" fill="#d9e7e6"/><rect x="181" y="3" width="1.04" height="1.02" fill="#d6e5e5"/><rect x="181" y="4" width="1.04" height="1.02" fill="#dbe8e8"/><rect x="181" y="5" width="1.04" height="1.02" fill="#cfe0e0"/><rect x="181" y="6" width="1.04" height="1.02" fill="#bfd6d6"/><rect x="181" y="7" width="1.04" height="1.02" fill="#adcbca"/><rect x="181" y="8" width="1.04" height="1.02" fill="#b1cdcd"/><rect x="181" y="9" width="1.04" height="1.02" fill="#c4d9d9"/><rect x="181" y="10" width="1.04" height="1.02" fill="#cfe0e0"/><rect x="181" y="11" width="1.04" height="1.02" fill="#deeaea"/><rect x="181" y="12" width="1.04" height="1.02" fill="#dbe8e8"/><rect x="181" y="13" width="1.04" height="1.02" fill="#cfe0e0"/><rect x="182" y="0" width="1.04" height="1.02" fill="#cee0df"/><rect x="182" y="1" width="1.04" height="1.02" fill="#c8dcdc"/><rect x="182" y="2" width="1.04" height="1.02" fill="#dae7e7"/><rect x="182" y="3" width="1.04" height="1.02" fill="#e6efef"/><rect x="182" y="4" width="1.04" height="1.02" fill="#e6efef"/><rect x="182" y="5" width="1.04" height="1.02" fill="#d1e1e1"/><rect x="182" y="6" width="1.04" height="1.02" fill="#bfd6d6"/><rect x="182" y="7" width="1.04" height="1.02" fill="#aac9c9"/><rect x="182" y="8" width="1.04" height="1.02" fill="#b9d2d2"/><rect x="182" y="9" width="1.04" height="1.02" fill="#b8d2d1"/><rect x="182" y="10" width="1.04" height="1.02" fill="#d1e1e1"/><rect x="182" y="11" width="1.04" height="1.02" fill="#c8dcdc"/><rect x="182" y="12" width="1.04" height="1.02" fill="#dde9e9"/><rect x="182" y="13" width="1.04" height="1.02" fill="#d2e2e2"/><rect x="183" y="0" width="1.04" height="1.02" fill="#dbe8e8"/><rect x="183" y="1" width="1.04" height="1.02" fill="#cadddd"/><rect x="183" y="2" width="1.04" height="1.02" fill="#d2e2e2"/><rect x="183" y="3" width="1.04" height="1.02" fill="#d5e4e4"/><rect x="183" y="4" width="1.04" height="1.02" fill="#e8f0f0"/><rect x="183" y="5" width="1.04" height="1.02" fill="#c0d7d7"/><rect x="183" y="6" width="1.04" height="1.02" fill="#c1d8d8"/><rect x="183" y="7" width="1.04" height="1.02" fill="#aac9c9"/><rect x="183" y="8" width="1.04" height="1.02" fill="#cadddd"/><rect x="183" y="9" width="1.04" height="1.02" fill="#c4d9d9"/><rect x="183" y="10" width="1.04" height="1.02" fill="#d1e1e1"/><rect x="183" y="11" width="1.04" height="1.02" fill="#d9e7e6"/><rect x="183" y="12" width="1.04" height="1.02" fill="#e1ecec"/><rect x="183" y="13" width="1.04" height="1.02" fill="#dbe8e8"/><rect x="184" y="0" width="1.04" height="1.02" fill="#bdd5d5"/><rect x="184" y="1" width="1.04" height="1.02" fill="#c0d7d7"/><rect x="184" y="2" width="1.04" height="1.02" fill="#c7dbdb"/><rect x="184" y="3" width="1.04" height="1.02" fill="#d5e4e4"/><rect x="184" y="4" width="1.04" height="1.02" fill="#d9e7e6"/><rect x="184" y="5" width="1.04" height="1.02" fill="#d2e2e2"/><rect x="184" y="6" width="1.04" height="1.02" fill="#c4d9d9"/><rect x="184" y="7" width="1.04" height="1.02" fill="#a4c2c3"/><rect x="184" y="8" width="1.04" height="1.02" fill="#adcbca"/><rect x="184" y="9" width="1.04" height="1.02" fill="#c0d7d7"/><rect x="184" y="10" width="1.04" height="1.02" fill="#cbdede"/><rect x="184" y="11" width="1.04" height="1.02" fill="#d7e6e6"/><rect x="184" y="12" width="1.04" height="1.02" fill="#dde9e9"/><rect x="184" y="13" width="1.04" height="1.02" fill="#d1e1e1"/><rect x="185" y="0" width="1.04" height="1.02" fill="#b8d2d1"/><rect x="185" y="1" width="1.04" height="1.02" fill="#c8dcdc"/><rect x="185" y="2" width="1.04" height="1.02" fill="#d9e7e6"/><rect x="185" y="3" width="1.04" height="1.02" fill="#ecf3f3"/><rect x="185" y="4" width="1.04" height="1.02" fill="#e2eded"/><rect x="185" y="5" width="1.04" height="1.02" fill="#c8dcdc"/><rect x="185" y="6" width="1.04" height="1.02" fill="#bbd3d3"/><rect x="185" y="7" width="1.04" height="1.02" fill="#b2cece"/><rect x="185" y="8" width="1.04" height="1.02" fill="#b8d2d1"/><rect x="185" y="9" width="1.04" height="1.02" fill="#c8dcdc"/><rect x="185" y="10" width="1.04" height="1.02" fill="#d6e5e5"/><rect x="185" y="11" width="1.04" height="1.02" fill="#d5e4e4"/><rect x="185" y="12" width="1.04" height="1.02" fill="#e0ebeb"/><rect x="185" y="13" width="1.04" height="1.02" fill="#c3d9d8"/><rect x="186" y="0" width="1.04" height="1.02" fill="#cadddd"/><rect x="186" y="1" width="1.04" height="1.02" fill="#c4d9d9"/><rect x="186" y="2" width="1.04" height="1.02" fill="#d6e5e5"/><rect x="186" y="3" width="1.04" height="1.02" fill="#ecf3f3"/><rect x="186" y="4" width="1.04" height="1.02" fill="#e5eeee"/><rect x="186" y="5" width="1.04" height="1.02" fill="#cee0df"/><rect x="186" y="6" width="1.04" height="1.02" fill="#bfd6d6"/><rect x="186" y="7" width="1.04" height="1.02" fill="#b2cece"/><rect x="186" y="8" width="1.04" height="1.02" fill="#b1cdcd"/><rect x="186" y="9" width="1.04" height="1.02" fill="#bfd6d6"/><rect x="186" y="10" width="1.04" height="1.02" fill="#ccdfdf"/><rect x="186" y="11" width="1.04" height="1.02" fill="#deeaea"/><rect x="186" y="12" width="1.04" height="1.02" fill="#e4eeed"/><rect x="186" y="13" width="1.04" height="1.02" fill="#d1e1e1"/><rect x="187" y="0" width="1.04" height="1.02" fill="#c1d8d8"/><rect x="187" y="1" width="1.04" height="1.02" fill="#c1d8d8"/><rect x="187" y="2" width="1.04" height="1.02" fill="#d1e1e1"/><rect x="187" y="3" width="1.04" height="1.02" fill="#e6efef"/><rect x="187" y="4" width="1.04" height="1.02" fill="#deeaea"/><rect x="187" y="5" width="1.04" height="1.02" fill="#c3d9d8"/><rect x="187" y="6" width="1.04" height="1.02" fill="#b8d2d1"/><rect x="187" y="7" width="1.04" height="1.02" fill="#a3c1c3"/><rect x="187" y="8" width="1.04" height="1.02" fill="#b2cece"/><rect x="187" y="9" width="1.04" height="1.02" fill="#bbd3d3"/><rect x="187" y="10" width="1.04" height="1.02" fill="#bfd6d6"/><rect x="187" y="11" width="1.04" height="1.02" fill="#d1e1e1"/><rect x="187" y="12" width="1.04" height="1.02" fill="#e1ecec"/><rect x="187" y="13" width="1.04" height="1.02" fill="#cfe0e0"/><rect x="188" y="0" width="1.04" height="1.02" fill="#ccdfdf"/><rect x="188" y="1" width="1.04" height="1.02" fill="#c3d9d8"/><rect x="188" y="2" width="1.04" height="1.02" fill="#cadddd"/><rect x="188" y="3" width="1.04" height="1.02" fill="#e2eded"/><rect x="188" y="4" width="1.04" height="1.02" fill="#ccdfdf"/><rect x="188" y="5" width="1.04" height="1.02" fill="#ccdfdf"/><rect x="188" y="6" width="1.04" height="1.02" fill="#bfd6d6"/><rect x="188" y="7" width="1.04" height="1.02" fill="#b0cccc"/><rect x="188" y="8" width="1.04" height="1.02" fill="#bbd3d3"/><rect x="188" y="9" width="1.04" height="1.02" fill="#c0d7d7"/><rect x="188" y="10" width="1.04" height="1.02" fill="#cbdede"/><rect x="188" y="11" width="1.04" height="1.02" fill="#cee0df"/><rect x="188" y="12" width="1.04" height="1.02" fill="#dae7e7"/><rect x="188" y="13" width="1.04" height="1.02" fill="#ccdfdf"/><rect x="189" y="0" width="1.04" height="1.02" fill="#d1e1e1"/><rect x="189" y="1" width="1.04" height="1.02" fill="#c8dcdc"/><rect x="189" y="2" width="1.04" height="1.02" fill="#d7e6e6"/><rect x="189" y="3" width="1.04" height="1.02" fill="#d9e7e6"/><rect x="189" y="4" width="1.04" height="1.02" fill="#dbe8e8"/><rect x="189" y="5" width="1.04" height="1.02" fill="#c0d7d7"/><rect x="189" y="6" width="1.04" height="1.02" fill="#b9d2d2"/><rect x="189" y="7" width="1.04" height="1.02" fill="#aac9c9"/><rect x="189" y="8" width="1.04" height="1.02" fill="#b5d0d0"/><rect x="189" y="9" width="1.04" height="1.02" fill="#c3d9d8"/><rect x="189" y="10" width="1.04" height="1.02" fill="#c8dcdc"/><rect x="189" y="11" width="1.04" height="1.02" fill="#d5e4e4"/><rect x="189" y="12" width="1.04" height="1.02" fill="#e5eeee"/><rect x="189" y="13" width="1.04" height="1.02" fill="#cee0df"/><rect x="190" y="0" width="1.04" height="1.02" fill="#bdd5d5"/><rect x="190" y="1" width="1.04" height="1.02" fill="#c0d7d7"/><rect x="190" y="2" width="1.04" height="1.02" fill="#ccdfdf"/><rect x="190" y="3" width="1.04" height="1.02" fill="#e0ebeb"/><rect x="190" y="4" width="1.04" height="1.02" fill="#c8dcdc"/><rect x="190" y="5" width="1.04" height="1.02" fill="#c1d8d8"/><rect x="190" y="6" width="1.04" height="1.02" fill="#b2cece"/><rect x="190" y="7" width="1.04" height="1.02" fill="#9dbabd"/><rect x="190" y="8" width="1.04" height="1.02" fill="#9fbcbf"/><rect x="190" y="9" width="1.04" height="1.02" fill="#c0d7d7"/><rect x="190" y="10" width="1.04" height="1.02" fill="#bbd3d3"/><rect x="190" y="11" width="1.04" height="1.02" fill="#ccdfdf"/><rect x="190" y="12" width="1.04" height="1.02" fill="#d3e3e3"/><rect x="190" y="13" width="1.04" height="1.02" fill="#c4d9d9"/><rect x="191" y="0" width="1.04" height="1.02" fill="#bbd3d3"/><rect x="191" y="1" width="1.04" height="1.02" fill="#c3d9d8"/><rect x="191" y="2" width="1.04" height="1.02" fill="#cee0df"/><rect x="191" y="3" width="1.04" height="1.02" fill="#d6e5e5"/><rect x="191" y="4" width="1.04" height="1.02" fill="#d3e3e3"/><rect x="191" y="5" width="1.04" height="1.02" fill="#c8dcdc"/><rect x="191" y="6" width="1.04" height="1.02" fill="#bcd4d4"/><rect x="191" y="7" width="1.04" height="1.02" fill="#a4c4c4"/><rect x="191" y="8" width="1.04" height="1.02" fill="#b2cece"/><rect x="191" y="9" width="1.04" height="1.02" fill="#c4d9d9"/><rect x="191" y="10" width="1.04" height="1.02" fill="#d2e2e2"/><rect x="191" y="11" width="1.04" height="1.02" fill="#dde9e9"/><rect x="191" y="12" width="1.04" height="1.02" fill="#e6efef"/><rect x="191" y="13" width="1.04" height="1.02" fill="#d1e1e1"/><rect x="192" y="0" width="1.04" height="1.02" fill="#d3e3e3"/><rect x="192" y="2" width="1.04" height="1.02" fill="#cbdede"/><rect x="192" y="3" width="1.04" height="1.02" fill="#dde9e9"/><rect x="192" y="4" width="1.04" height="1.02" fill="#e0ebeb"/><rect x="192" y="5" width="1.04" height="1.02" fill="#c1d8d8"/><rect x="192" y="6" width="1.04" height="1.02" fill="#c3d9d8"/><rect x="192" y="7" width="1.04" height="1.02" fill="#b8d2d1"/><rect x="192" y="8" width="1.04" height="1.02" fill="#bdd5d5"/><rect x="192" y="9" width="1.04" height="1.02" fill="#c3d9d8"/><rect x="192" y="10" width="1.04" height="1.02" fill="#c4d9d9"/><rect x="192" y="11" width="1.04" height="1.02" fill="#d1e1e1"/><rect x="192" y="12" width="1.04" height="1.02" fill="#dde9e9"/><rect x="192" y="13" width="1.04" height="1.02" fill="#d9e7e6"/><rect x="193" y="0" width="1.04" height="1.02" fill="#cee0df"/><rect x="193" y="1" width="1.04" height="1.02" fill="#cbdede"/><rect x="193" y="2" width="1.04" height="1.02" fill="#e0ebeb"/><rect x="193" y="3" width="1.04" height="1.02" fill="#e0ebeb"/><rect x="193" y="4" width="1.04" height="1.02" fill="#d7e6e6"/><rect x="193" y="5" width="1.04" height="1.02" fill="#cee0df"/><rect x="193" y="6" width="1.04" height="1.02" fill="#bdd5d5"/><rect x="193" y="7" width="1.04" height="1.02" fill="#b9d2d2"/><rect x="193" y="8" width="1.04" height="1.02" fill="#c3d9d8"/><rect x="193" y="9" width="1.04" height="1.02" fill="#cbdede"/><rect x="193" y="11" width="1.04" height="1.02" fill="#d5e4e4"/><rect x="193" y="12" width="1.04" height="1.02" fill="#e4eeed"/><rect x="193" y="13" width="1.04" height="1.02" fill="#cbdede"/><rect x="194" y="0" width="1.04" height="1.02" fill="#bcd4d4"/><rect x="194" y="2" width="1.04" height="1.02" fill="#d5e4e4"/><rect x="194" y="3" width="1.04" height="1.02" fill="#dae7e7"/><rect x="194" y="4" width="1.04" height="1.02" fill="#e1ecec"/><rect x="194" y="5" width="1.04" height="1.02" fill="#d3e3e3"/><rect x="194" y="6" width="1.04" height="1.02" fill="#cadddd"/><rect x="194" y="7" width="1.04" height="1.02" fill="#b0cccc"/><rect x="194" y="8" width="1.04" height="1.02" fill="#b8d2d1"/><rect x="194" y="10" width="1.04" height="1.02" fill="#cfe0e0"/><rect x="194" y="11" width="1.04" height="1.02" fill="#d1e1e1"/><rect x="194" y="12" width="1.04" height="1.02" fill="#e2eded"/><rect x="194" y="13" width="1.04" height="1.02" fill="#d7e6e6"/><rect x="195" y="0" width="1.04" height="1.02" fill="#b7d1d1"/><rect x="195" y="1" width="1.04" height="1.02" fill="#c0d7d7"/><rect x="195" y="2" width="1.04" height="1.02" fill="#d9e7e6"/><rect x="195" y="3" width="1.04" height="1.02" fill="#deeaea"/><rect x="195" y="4" width="1.04" height="1.02" fill="#d1e1e1"/><rect x="195" y="5" width="1.04" height="1.02" fill="#c7dbdb"/><rect x="195" y="6" width="1.04" height="1.02" fill="#b0cccc"/><rect x="195" y="7" width="1.04" height="1.02" fill="#b5d0d0"/><rect x="195" y="8" width="1.04" height="1.02" fill="#aecbcb"/><rect x="195" y="9" width="1.04" height="1.02" fill="#c4d9d9"/><rect x="195" y="10" width="1.04" height="1.02" fill="#bdd5d5"/><rect x="195" y="11" width="1.04" height="1.02" fill="#d6e5e5"/><rect x="195" y="12" width="1.04" height="1.02" fill="#d2e2e2"/><rect x="195" y="13" width="1.04" height="1.02" fill="#d1e1e1"/><rect x="196" y="0" width="1.04" height="1.02" fill="#d2e2e2"/><rect x="196" y="1" width="1.04" height="1.02" fill="#d1e1e1"/><rect x="196" y="2" width="1.04" height="1.02" fill="#dde9e9"/><rect x="196" y="3" width="1.04" height="1.02" fill="#dae7e7"/><rect x="196" y="4" width="1.04" height="1.02" fill="#d5e4e4"/><rect x="196" y="5" width="1.04" height="1.02" fill="#cee0df"/><rect x="196" y="6" width="1.04" height="1.02" fill="#cbdede"/><rect x="196" y="7" width="1.04" height="1.02" fill="#b7d1d1"/><rect x="196" y="8" width="1.04" height="1.02" fill="#c1d8d8"/><rect x="196" y="9" width="1.04" height="1.02" fill="#bfd6d6"/><rect x="196" y="10" width="1.04" height="1.02" fill="#cee0df"/><rect x="196" y="11" width="1.04" height="1.02" fill="#dbe8e8"/><rect x="196" y="12" width="1.04" height="1.02" fill="#e5eeee"/><rect x="196" y="13" width="1.04" height="1.02" fill="#e4eeed"/><rect x="197" y="0" width="1.04" height="1.02" fill="#d1e1e1"/><rect x="197" y="1" width="1.04" height="1.02" fill="#c7dbdb"/><rect x="197" y="2" width="1.04" height="1.02" fill="#d2e2e2"/><rect x="197" y="3" width="1.04" height="1.02" fill="#e6efef"/><rect x="197" y="4" width="1.04" height="1.02" fill="#deeaea"/><rect x="197" y="5" width="1.04" height="1.02" fill="#c3d9d8"/><rect x="197" y="6" width="1.04" height="1.02" fill="#c8dcdc"/><rect x="197" y="7" width="1.04" height="1.02" fill="#b9d2d2"/><rect x="197" y="8" width="1.04" height="1.02" fill="#bcd4d4"/><rect x="197" y="9" width="1.04" height="1.02" fill="#cbdede"/><rect x="197" y="10" width="1.04" height="1.02" fill="#d1e1e1"/><rect x="197" y="11" width="1.04" height="1.02" fill="#d9e7e6"/><rect x="197" y="12" width="1.04" height="1.02" fill="#d5e4e4"/><rect x="197" y="13" width="1.04" height="1.02" fill="#e0ebeb"/><rect x="198" y="1" width="1.04" height="1.02" fill="#c8dcdc"/><rect x="198" y="2" width="1.04" height="1.02" fill="#d2e2e2"/><rect x="198" y="3" width="1.04" height="1.02" fill="#e0ebeb"/><rect x="198" y="4" width="1.04" height="1.02" fill="#d2e2e2"/><rect x="198" y="5" width="1.04" height="1.02" fill="#cee0df"/><rect x="198" y="6" width="1.04" height="1.02" fill="#c0d7d7"/><rect x="198" y="7" width="1.04" height="1.02" fill="#b1cdcd"/><rect x="198" y="8" width="1.04" height="1.02" fill="#b7d1d1"/><rect x="198" y="10" width="1.04" height="1.02" fill="#c4d9d9"/><rect x="198" y="11" width="1.04" height="1.02" fill="#d9e7e6"/><rect x="198" y="12" width="1.04" height="1.02" fill="#dde9e9"/><rect x="198" y="13" width="1.04" height="1.02" fill="#d1e1e1"/><rect x="199" y="0" width="1.04" height="1.02" fill="#cfe0e0"/><rect x="199" y="1" width="1.04" height="1.02" fill="#d2e2e2"/><rect x="199" y="2" width="1.04" height="1.02" fill="#d2e2e2"/><rect x="199" y="3" width="1.04" height="1.02" fill="#e6efef"/><rect x="199" y="4" width="1.04" height="1.02" fill="#e4eeed"/><rect x="199" y="5" width="1.04" height="1.02" fill="#ccdfdf"/><rect x="199" y="6" width="1.04" height="1.02" fill="#bfd6d6"/><rect x="199" y="7" width="1.04" height="1.02" fill="#c1d8d8"/><rect x="199" y="8" width="1.04" height="1.02" fill="#b0cccc"/><rect x="199" y="9" width="1.04" height="1.02" fill="#c7dbdb"/><rect x="199" y="10" width="1.04" height="1.02" fill="#cfe0e0"/><rect x="199" y="11" width="1.04" height="1.02" fill="#d5e4e4"/><rect x="199" y="12" width="1.04" height="1.02" fill="#e1ecec"/><rect x="199" y="13" width="1.04" height="1.02" fill="#d7e6e6"/><rect x="200" y="1" width="1.04" height="1.02" fill="#c0d7d7"/><rect x="200" y="2" width="1.04" height="1.02" fill="#c3d9d8"/><rect x="200" y="3" width="1.04" height="1.02" fill="#dde9e9"/><rect x="200" y="4" width="1.04" height="1.02" fill="#d2e2e2"/><rect x="200" y="5" width="1.04" height="1.02" fill="#c0d7d7"/><rect x="200" y="6" width="1.04" height="1.02" fill="#a6c6c6"/><rect x="200" y="7" width="1.04" height="1.02" fill="#b0cccc"/><rect x="200" y="8" width="1.04" height="1.02" fill="#b0cccc"/><rect x="200" y="9" width="1.04" height="1.02" fill="#b8d2d1"/><rect x="200" y="10" width="1.04" height="1.02" fill="#c3d9d8"/><rect x="200" y="11" width="1.04" height="1.02" fill="#dae7e7"/><rect x="200" y="12" width="1.04" height="1.02" fill="#d2e2e2"/><rect x="200" y="13" width="1.04" height="1.02" fill="#c7dbdb"/><rect x="201" y="0" width="1.04" height="1.02" fill="#bcd4d4"/><rect x="201" y="1" width="1.04" height="1.02" fill="#bfd6d6"/><rect x="201" y="2" width="1.04" height="1.02" fill="#cbdede"/><rect x="201" y="3" width="1.04" height="1.02" fill="#d9e7e6"/><rect x="201" y="4" width="1.04" height="1.02" fill="#deeaea"/><rect x="201" y="5" width="1.04" height="1.02" fill="#cadddd"/><rect x="201" y="6" width="1.04" height="1.02" fill="#bcd4d4"/><rect x="201" y="7" width="1.04" height="1.02" fill="#b2cece"/><rect x="201" y="8" width="1.04" height="1.02" fill="#b5d0d0"/><rect x="201" y="9" width="1.04" height="1.02" fill="#c8dcdc"/><rect x="201" y="10" width="1.04" height="1.02" fill="#bfd6d6"/><rect x="201" y="11" width="1.04" height="1.02" fill="#c8dcdc"/><rect x="201" y="12" width="1.04" height="1.02" fill="#deeaea"/><rect x="201" y="13" width="1.04" height="1.02" fill="#cbdede"/><rect x="202" y="0" width="1.04" height="1.02" fill="#bdd5d5"/><rect x="202" y="1" width="1.04" height="1.02" fill="#c4d9d9"/><rect x="202" y="2" width="1.04" height="1.02" fill="#d1e1e1"/><rect x="202" y="3" width="1.04" height="1.02" fill="#e0ebeb"/><rect x="202" y="4" width="1.04" height="1.02" fill="#d9e7e6"/><rect x="202" y="5" width="1.04" height="1.02" fill="#d2e2e2"/><rect x="202" y="6" width="1.04" height="1.02" fill="#bbd3d3"/><rect x="202" y="7" width="1.04" height="1.02" fill="#b8d2d1"/><rect x="202" y="8" width="1.04" height="1.02" fill="#b5d0d0"/><rect x="202" y="9" width="1.04" height="1.02" fill="#c4d9d9"/><rect x="202" y="10" width="1.04" height="1.02" fill="#c4d9d9"/><rect x="202" y="11" width="1.04" height="1.02" fill="#d9e7e6"/><rect x="202" y="12" width="1.04" height="1.02" fill="#d6e5e5"/><rect x="202" y="13" width="1.04" height="1.02" fill="#d7e6e6"/><rect x="203" y="0" width="1.04" height="1.02" fill="#c4d9d9"/><rect x="203" y="1" width="1.04" height="1.02" fill="#c4d9d9"/><rect x="203" y="2" width="1.04" height="1.02" fill="#ccdfdf"/><rect x="203" y="3" width="1.04" height="1.02" fill="#d3e3e3"/><rect x="203" y="4" width="1.04" height="1.02" fill="#e4eeed"/><rect x="203" y="6" width="1.04" height="1.02" fill="#c7dbdb"/><rect x="203" y="7" width="1.04" height="1.02" fill="#a7c7c7"/><rect x="203" y="8" width="1.04" height="1.02" fill="#c4d9d9"/><rect x="203" y="9" width="1.04" height="1.02" fill="#c8dcdc"/><rect x="203" y="10" width="1.04" height="1.02" fill="#d5e4e4"/><rect x="203" y="11" width="1.04" height="1.02" fill="#cbdede"/><rect x="203" y="12" width="1.04" height="1.02" fill="#e4eeed"/><rect x="203" y="13" width="1.04" height="1.02" fill="#ccdfdf"/><rect x="204" y="0" width="1.04" height="1.02" fill="#d5e4e4"/><rect x="204" y="1" width="1.04" height="1.02" fill="#cbdede"/><rect x="204" y="2" width="1.04" height="1.02" fill="#ccdfdf"/><rect x="204" y="3" width="1.04" height="1.02" fill="#e0ebeb"/><rect x="204" y="4" width="1.04" height="1.02" fill="#d3e3e3"/><rect x="204" y="5" width="1.04" height="1.02" fill="#cfe0e0"/><rect x="204" y="6" width="1.04" height="1.02" fill="#c1d8d8"/><rect x="204" y="7" width="1.04" height="1.02" fill="#b7d1d1"/><rect x="204" y="8" width="1.04" height="1.02" fill="#b8d2d1"/><rect x="204" y="9" width="1.04" height="1.02" fill="#b8d2d1"/><rect x="204" y="10" width="1.04" height="1.02" fill="#cadddd"/><rect x="204" y="11" width="1.04" height="1.02" fill="#d9e7e6"/><rect x="204" y="12" width="1.04" height="1.02" fill="#e2eded"/><rect x="204" y="13" width="1.04" height="1.02" fill="#d7e6e6"/><rect x="205" y="0" width="1.04" height="1.02" fill="#c8dcdc"/><rect x="205" y="1" width="1.04" height="1.02" fill="#c8dcdc"/><rect x="205" y="2" width="1.04" height="1.02" fill="#cbdede"/><rect x="205" y="3" width="1.04" height="1.02" fill="#dae7e7"/><rect x="205" y="5" width="1.04" height="1.02" fill="#d6e5e5"/><rect x="205" y="6" width="1.04" height="1.02" fill="#b8d2d1"/><rect x="205" y="7" width="1.04" height="1.02" fill="#a7c7c7"/><rect x="205" y="8" width="1.04" height="1.02" fill="#bbd3d3"/><rect x="205" y="9" width="1.04" height="1.02" fill="#c3d9d8"/><rect x="205" y="10" width="1.04" height="1.02" fill="#c3d9d8"/><rect x="205" y="11" width="1.04" height="1.02" fill="#c7dbdb"/><rect x="205" y="12" width="1.04" height="1.02" fill="#dde9e9"/><rect x="205" y="13" width="1.04" height="1.02" fill="#d6e5e5"/><rect x="206" y="0" width="1.04" height="1.02" fill="#b8d2d1"/><rect x="206" y="2" width="1.04" height="1.02" fill="#dbe8e8"/><rect x="206" y="3" width="1.04" height="1.02" fill="#cee0df"/><rect x="206" y="4" width="1.04" height="1.02" fill="#d6e5e5"/><rect x="206" y="5" width="1.04" height="1.02" fill="#bfd6d6"/><rect x="206" y="6" width="1.04" height="1.02" fill="#bcd4d4"/><rect x="206" y="7" width="1.04" height="1.02" fill="#b1cdcd"/><rect x="206" y="8" width="1.04" height="1.02" fill="#b8d2d1"/><rect x="206" y="9" width="1.04" height="1.02" fill="#b7d1d1"/><rect x="206" y="10" width="1.04" height="1.02" fill="#bdd5d5"/><rect x="206" y="11" width="1.04" height="1.02" fill="#e4eeed"/><rect x="206" y="12" width="1.04" height="1.02" fill="#e0ebeb"/><rect x="206" y="13" width="1.04" height="1.02" fill="#c0d7d7"/><rect x="207" y="0" width="1.04" height="1.02" fill="#d1e1e1"/><rect x="207" y="1" width="1.04" height="1.02" fill="#c8dcdc"/><rect x="207" y="2" width="1.04" height="1.02" fill="#d2e2e2"/><rect x="207" y="3" width="1.04" height="1.02" fill="#deeaea"/><rect x="207" y="4" width="1.04" height="1.02" fill="#dde9e9"/><rect x="207" y="5" width="1.04" height="1.02" fill="#cee0df"/><rect x="207" y="6" width="1.04" height="1.02" fill="#c4d9d9"/><rect x="207" y="7" width="1.04" height="1.02" fill="#b1cdcd"/><rect x="207" y="8" width="1.04" height="1.02" fill="#c0d7d7"/><rect x="207" y="9" width="1.04" height="1.02" fill="#c7dbdb"/><rect x="207" y="10" width="1.04" height="1.02" fill="#ccdfdf"/><rect x="207" y="11" width="1.04" height="1.02" fill="#cfe0e0"/><rect x="207" y="12" width="1.04" height="1.02" fill="#dae7e7"/><rect x="207" y="13" width="1.04" height="1.02" fill="#d2e2e2"/><rect x="208" y="0" width="1.04" height="1.02" fill="#c0d7d7"/><rect x="208" y="1" width="1.04" height="1.02" fill="#bdd5d5"/><rect x="208" y="2" width="1.04" height="1.02" fill="#cadddd"/><rect x="208" y="3" width="1.04" height="1.02" fill="#ccdfdf"/><rect x="208" y="4" width="1.04" height="1.02" fill="#ccdfdf"/><rect x="208" y="5" width="1.04" height="1.02" fill="#c8dcdc"/><rect x="208" y="6" width="1.04" height="1.02" fill="#c0d7d7"/><rect x="208" y="7" width="1.04" height="1.02" fill="#aac9c9"/><rect x="208" y="8" width="1.04" height="1.02" fill="#b4cfcf"/><rect x="208" y="9" width="1.04" height="1.02" fill="#c3d9d8"/><rect x="208" y="10" width="1.04" height="1.02" fill="#d3e3e3"/><rect x="208" y="11" width="1.04" height="1.02" fill="#e2eded"/><rect x="208" y="12" width="1.04" height="1.02" fill="#d7e6e6"/><rect x="208" y="13" width="1.04" height="1.02" fill="#c8dcdc"/><rect x="209" y="0" width="1.04" height="1.02" fill="#cbdede"/><rect x="209" y="1" width="1.04" height="1.02" fill="#bdd5d5"/><rect x="209" y="2" width="1.04" height="1.02" fill="#d1e1e1"/><rect x="209" y="3" width="1.04" height="1.02" fill="#d6e5e5"/><rect x="209" y="4" width="1.04" height="1.02" fill="#d2e2e2"/><rect x="209" y="5" width="1.04" height="1.02" fill="#ccdfdf"/><rect x="209" y="6" width="1.04" height="1.02" fill="#c1d8d8"/><rect x="209" y="7" width="1.04" height="1.02" fill="#bfd6d6"/><rect x="209" y="8" width="1.04" height="1.02" fill="#bcd4d4"/><rect x="209" y="9" width="1.04" height="1.02" fill="#cee0df"/><rect x="209" y="10" width="1.04" height="1.02" fill="#c4d9d9"/><rect x="209" y="11" width="1.04" height="1.02" fill="#d5e4e4"/><rect x="209" y="12" width="1.04" height="1.02" fill="#d2e2e2"/><rect x="209" y="13" width="1.04" height="1.02" fill="#cadddd"/><rect x="210" y="1" width="1.04" height="1.02" fill="#ccdfdf"/><rect x="210" y="2" width="1.04" height="1.02" fill="#ccdfdf"/><rect x="210" y="3" width="1.04" height="1.02" fill="#dbe8e8"/><rect x="210" y="4" width="1.04" height="1.02" fill="#e1ecec"/><rect x="210" y="5" width="1.04" height="1.02" fill="#ccdfdf"/><rect x="210" y="6" width="1.04" height="1.02" fill="#c1d8d8"/><rect x="210" y="7" width="1.04" height="1.02" fill="#b7d1d1"/><rect x="210" y="8" width="1.04" height="1.02" fill="#b5d0d0"/><rect x="210" y="9" width="1.04" height="1.02" fill="#bbd3d3"/><rect x="210" y="10" width="1.04" height="1.02" fill="#cfe0e0"/><rect x="210" y="11" width="1.04" height="1.02" fill="#dbe8e8"/><rect x="210" y="12" width="1.04" height="1.02" fill="#edf4f4"/><rect x="210" y="13" width="1.04" height="1.02" fill="#d2e2e2"/><rect x="211" y="0" width="1.04" height="1.02" fill="#d6e5e5"/><rect x="211" y="1" width="1.04" height="1.02" fill="#c7dbdb"/><rect x="211" y="2" width="1.04" height="1.02" fill="#ccdfdf"/><rect x="211" y="3" width="1.04" height="1.02" fill="#e1ecec"/><rect x="211" y="4" width="1.04" height="1.02" fill="#dbe8e8"/><rect x="211" y="5" width="1.04" height="1.02" fill="#d2e2e2"/><rect x="211" y="6" width="1.04" height="1.02" fill="#bcd4d4"/><rect x="211" y="7" width="1.04" height="1.02" fill="#bfd6d6"/><rect x="211" y="8" width="1.04" height="1.02" fill="#bdd5d5"/><rect x="211" y="9" width="1.04" height="1.02" fill="#b8d2d1"/><rect x="211" y="10" width="1.04" height="1.02" fill="#ccdfdf"/><rect x="211" y="11" width="1.04" height="1.02" fill="#d5e4e4"/><rect x="211" y="12" width="1.04" height="1.02" fill="#dde9e9"/><rect x="211" y="13" width="1.04" height="1.02" fill="#d9e7e6"/><rect x="212" y="0" width="1.04" height="1.02" fill="#c3d9d8"/><rect x="212" y="1" width="1.04" height="1.02" fill="#cee0df"/><rect x="212" y="2" width="1.04" height="1.02" fill="#ccdfdf"/><rect x="212" y="3" width="1.04" height="1.02" fill="#d2e2e2"/><rect x="212" y="4" width="1.04" height="1.02" fill="#cfe0e0"/><rect x="212" y="5" width="1.04" height="1.02" fill="#d5e4e4"/><rect x="212" y="6" width="1.04" height="1.02" fill="#c7dbdb"/><rect x="212" y="7" width="1.04" height="1.02" fill="#bfd6d6"/><rect x="212" y="8" width="1.04" height="1.02" fill="#b1cdcd"/><rect x="212" y="9" width="1.04" height="1.02" fill="#c0d7d7"/><rect x="212" y="11" width="1.04" height="1.02" fill="#dde9e9"/><rect x="212" y="12" width="1.04" height="1.02" fill="#e2eded"/><rect x="212" y="13" width="1.04" height="1.02" fill="#cfe0e0"/><rect x="213" y="0" width="1.04" height="1.02" fill="#cbdede"/><rect x="213" y="2" width="1.04" height="1.02" fill="#cadddd"/><rect x="213" y="3" width="1.04" height="1.02" fill="#d9e7e6"/><rect x="213" y="4" width="1.04" height="1.02" fill="#deeaea"/><rect x="213" y="5" width="1.04" height="1.02" fill="#d9e7e6"/><rect x="213" y="6" width="1.04" height="1.02" fill="#c1d8d8"/><rect x="213" y="7" width="1.04" height="1.02" fill="#b2cece"/><rect x="213" y="8" width="1.04" height="1.02" fill="#bbd3d3"/><rect x="213" y="9" width="1.04" height="1.02" fill="#c7dbdb"/><rect x="213" y="10" width="1.04" height="1.02" fill="#cfe0e0"/><rect x="213" y="11" width="1.04" height="1.02" fill="#d2e2e2"/><rect x="213" y="12" width="1.04" height="1.02" fill="#dae7e7"/><rect x="213" y="13" width="1.04" height="1.02" fill="#cee0df"/><rect x="214" y="0" width="1.04" height="1.02" fill="#cee0df"/><rect x="214" y="1" width="1.04" height="1.02" fill="#cadddd"/><rect x="214" y="2" width="1.04" height="1.02" fill="#d9e7e6"/><rect x="214" y="3" width="1.04" height="1.02" fill="#e6efef"/><rect x="214" y="4" width="1.04" height="1.02" fill="#dde9e9"/><rect x="214" y="6" width="1.04" height="1.02" fill="#c1d8d8"/><rect x="214" y="7" width="1.04" height="1.02" fill="#adcbca"/><rect x="214" y="8" width="1.04" height="1.02" fill="#bdd5d5"/><rect x="214" y="9" width="1.04" height="1.02" fill="#cadddd"/><rect x="214" y="10" width="1.04" height="1.02" fill="#d7e6e6"/><rect x="214" y="11" width="1.04" height="1.02" fill="#deeaea"/><rect x="214" y="12" width="1.04" height="1.02" fill="#d3e3e3"/><rect x="214" y="13" width="1.04" height="1.02" fill="#d1e1e1"/><rect x="215" y="0" width="1.04" height="1.02" fill="#bdd5d5"/><rect x="215" y="1" width="1.04" height="1.02" fill="#c4d9d9"/><rect x="215" y="2" width="1.04" height="1.02" fill="#cee0df"/><rect x="215" y="3" width="1.04" height="1.02" fill="#d6e5e5"/><rect x="215" y="4" width="1.04" height="1.02" fill="#cfe0e0"/><rect x="215" y="5" width="1.04" height="1.02" fill="#c4d9d9"/><rect x="215" y="6" width="1.04" height="1.02" fill="#b9d2d2"/><rect x="215" y="7" width="1.04" height="1.02" fill="#b0cccc"/><rect x="215" y="8" width="1.04" height="1.02" fill="#bcd4d4"/><rect x="215" y="9" width="1.04" height="1.02" fill="#c3d9d8"/><rect x="215" y="10" width="1.04" height="1.02" fill="#cee0df"/><rect x="215" y="11" width="1.04" height="1.02" fill="#ccdfdf"/><rect x="215" y="12" width="1.04" height="1.02" fill="#e6efef"/><rect x="215" y="13" width="1.04" height="1.02" fill="#cee0df"/><rect x="216" y="0" width="1.04" height="1.02" fill="#c0d7d7"/><rect x="216" y="1" width="1.04" height="1.02" fill="#c7dbdb"/><rect x="216" y="2" width="1.04" height="1.02" fill="#c7dbdb"/><rect x="216" y="3" width="1.04" height="1.02" fill="#c8dcdc"/><rect x="216" y="4" width="1.04" height="1.02" fill="#cfe0e0"/><rect x="216" y="5" width="1.04" height="1.02" fill="#bdd5d5"/><rect x="216" y="6" width="1.04" height="1.02" fill="#b7d1d1"/><rect x="216" y="7" width="1.04" height="1.02" fill="#aecbcb"/><rect x="216" y="8" width="1.04" height="1.02" fill="#9fbcbf"/><rect x="216" y="9" width="1.04" height="1.02" fill="#bbd3d3"/><rect x="216" y="11" width="1.04" height="1.02" fill="#d2e2e2"/><rect x="216" y="12" width="1.04" height="1.02" fill="#cfe0e0"/><rect x="216" y="13" width="1.04" height="1.02" fill="#c3d9d8"/><rect x="217" y="0" width="1.04" height="1.02" fill="#c1d8d8"/><rect x="217" y="1" width="1.04" height="1.02" fill="#cee0df"/><rect x="217" y="2" width="1.04" height="1.02" fill="#c8dcdc"/><rect x="217" y="3" width="1.04" height="1.02" fill="#d9e7e6"/><rect x="217" y="4" width="1.04" height="1.02" fill="#d5e4e4"/><rect x="217" y="5" width="1.04" height="1.02" fill="#d2e2e2"/><rect x="217" y="6" width="1.04" height="1.02" fill="#c1d8d8"/><rect x="217" y="7" width="1.04" height="1.02" fill="#b7d1d1"/><rect x="217" y="8" width="1.04" height="1.02" fill="#b8d2d1"/><rect x="217" y="9" width="1.04" height="1.02" fill="#cbdede"/><rect x="217" y="10" width="1.04" height="1.02" fill="#c7dbdb"/><rect x="217" y="11" width="1.04" height="1.02" fill="#d2e2e2"/><rect x="217" y="12" width="1.04" height="1.02" fill="#deeaea"/><rect x="217" y="13" width="1.04" height="1.02" fill="#d1e1e1"/><rect x="218" y="0" width="1.04" height="1.02" fill="#c1d8d8"/><rect x="218" y="1" width="1.04" height="1.02" fill="#dbe8e8"/><rect x="218" y="2" width="1.04" height="1.02" fill="#d3e3e3"/><rect x="218" y="3" width="1.04" height="1.02" fill="#e8f0f0"/><rect x="218" y="4" width="1.04" height="1.02" fill="#dbe8e8"/><rect x="218" y="5" width="1.04" height="1.02" fill="#c7dbdb"/><rect x="218" y="6" width="1.04" height="1.02" fill="#c7dbdb"/><rect x="218" y="7" width="1.04" height="1.02" fill="#b7d1d1"/><rect x="218" y="8" width="1.04" height="1.02" fill="#c3d9d8"/><rect x="218" y="9" width="1.04" height="1.02" fill="#b9d2d2"/><rect x="218" y="10" width="1.04" height="1.02" fill="#c7dbdb"/><rect x="218" y="11" width="1.04" height="1.02" fill="#d1e1e1"/><rect x="218" y="12" width="1.04" height="1.02" fill="#e5eeee"/><rect x="218" y="13" width="1.04" height="1.02" fill="#d9e7e6"/><rect x="219" y="0" width="1.04" height="1.02" fill="#c3d9d8"/><rect x="219" y="1" width="1.04" height="1.02" fill="#c4d9d9"/><rect x="219" y="2" width="1.04" height="1.02" fill="#c8dcdc"/><rect x="219" y="3" width="1.04" height="1.02" fill="#deeaea"/><rect x="219" y="4" width="1.04" height="1.02" fill="#ccdfdf"/><rect x="219" y="6" width="1.04" height="1.02" fill="#b9d2d2"/><rect x="219" y="7" width="1.04" height="1.02" fill="#b5d0d0"/><rect x="219" y="8" width="1.04" height="1.02" fill="#b2cece"/><rect x="219" y="10" width="1.04" height="1.02" fill="#c0d7d7"/><rect x="219" y="11" width="1.04" height="1.02" fill="#cadddd"/><rect x="219" y="12" width="1.04" height="1.02" fill="#cfe0e0"/><rect x="219" y="13" width="1.04" height="1.02" fill="#c7dbdb"/><rect x="220" y="0" width="1.04" height="1.02" fill="#d6e5e5"/><rect x="220" y="1" width="1.04" height="1.02" fill="#bfd6d6"/><rect x="220" y="2" width="1.04" height="1.02" fill="#cee0df"/><rect x="220" y="3" width="1.04" height="1.02" fill="#d6e5e5"/><rect x="220" y="4" width="1.04" height="1.02" fill="#d5e4e4"/><rect x="220" y="5" width="1.04" height="1.02" fill="#d2e2e2"/><rect x="220" y="6" width="1.04" height="1.02" fill="#c1d8d8"/><rect x="220" y="7" width="1.04" height="1.02" fill="#aecbcb"/><rect x="220" y="8" width="1.04" height="1.02" fill="#aecbcb"/><rect x="220" y="10" width="1.04" height="1.02" fill="#cee0df"/><rect x="220" y="11" width="1.04" height="1.02" fill="#cadddd"/><rect x="220" y="12" width="1.04" height="1.02" fill="#dde9e9"/><rect x="220" y="13" width="1.04" height="1.02" fill="#bdd5d5"/><rect x="221" y="0" width="1.04" height="1.02" fill="#cbdede"/><rect x="221" y="1" width="1.04" height="1.02" fill="#c0d7d7"/><rect x="221" y="2" width="1.04" height="1.02" fill="#c3d9d8"/><rect x="221" y="3" width="1.04" height="1.02" fill="#e2eded"/><rect x="221" y="4" width="1.04" height="1.02" fill="#cadddd"/><rect x="221" y="5" width="1.04" height="1.02" fill="#cbdede"/><rect x="221" y="6" width="1.04" height="1.02" fill="#b5d0d0"/><rect x="221" y="7" width="1.04" height="1.02" fill="#b7d1d1"/><rect x="221" y="9" width="1.04" height="1.02" fill="#c0d7d7"/><rect x="221" y="10" width="1.04" height="1.02" fill="#c3d9d8"/><rect x="221" y="11" width="1.04" height="1.02" fill="#c7dbdb"/><rect x="221" y="12" width="1.04" height="1.02" fill="#ccdfdf"/><rect x="221" y="13" width="1.04" height="1.02" fill="#cadddd"/><rect x="222" y="0" width="1.04" height="1.02" fill="#cadddd"/><rect x="222" y="1" width="1.04" height="1.02" fill="#cadddd"/><rect x="222" y="2" width="1.04" height="1.02" fill="#d5e4e4"/><rect x="222" y="3" width="1.04" height="1.02" fill="#dbe8e8"/><rect x="222" y="4" width="1.04" height="1.02" fill="#e8f0f0"/><rect x="222" y="5" width="1.04" height="1.02" fill="#cadddd"/><rect x="222" y="6" width="1.04" height="1.02" fill="#c1d8d8"/><rect x="222" y="7" width="1.04" height="1.02" fill="#a4c4c4"/><rect x="222" y="8" width="1.04" height="1.02" fill="#b5d0d0"/><rect x="222" y="9" width="1.04" height="1.02" fill="#c8dcdc"/><rect x="222" y="10" width="1.04" height="1.02" fill="#c7dbdb"/><rect x="222" y="11" width="1.04" height="1.02" fill="#deeaea"/><rect x="222" y="12" width="1.04" height="1.02" fill="#deeaea"/><rect x="222" y="13" width="1.04" height="1.02" fill="#dbe8e8"/><rect x="223" y="0" width="1.04" height="1.02" fill="#bcd4d4"/><rect x="223" y="1" width="1.04" height="1.02" fill="#cadddd"/><rect x="223" y="2" width="1.04" height="1.02" fill="#cadddd"/><rect x="223" y="3" width="1.04" height="1.02" fill="#ccdfdf"/><rect x="223" y="4" width="1.04" height="1.02" fill="#ccdfdf"/><rect x="223" y="5" width="1.04" height="1.02" fill="#c1d8d8"/><rect x="223" y="6" width="1.04" height="1.02" fill="#c1d8d8"/><rect x="223" y="7" width="1.04" height="1.02" fill="#b4cfcf"/><rect x="223" y="8" width="1.04" height="1.02" fill="#b5d0d0"/><rect x="223" y="9" width="1.04" height="1.02" fill="#b9d2d2"/><rect x="223" y="10" width="1.04" height="1.02" fill="#cbdede"/><rect x="223" y="11" width="1.04" height="1.02" fill="#d7e6e6"/><rect x="223" y="12" width="1.04" height="1.02" fill="#cbdede"/><rect x="223" y="13" width="1.04" height="1.02" fill="#cfe0e0"/><rect x="224" y="0" width="1.04" height="1.02" fill="#c0d7d7"/><rect x="224" y="1" width="1.04" height="1.02" fill="#bdd5d5"/><rect x="224" y="2" width="1.04" height="1.02" fill="#bdd5d5"/><rect x="224" y="3" width="1.04" height="1.02" fill="#cfe0e0"/><rect x="224" y="4" width="1.04" height="1.02" fill="#cbdede"/><rect x="224" y="5" width="1.04" height="1.02" fill="#ccdfdf"/><rect x="224" y="6" width="1.04" height="1.02" fill="#c1d8d8"/><rect x="224" y="7" width="1.04" height="1.02" fill="#adcbca"/><rect x="224" y="8" width="1.04" height="1.02" fill="#accaca"/><rect x="224" y="9" width="1.04" height="1.02" fill="#b7d1d1"/><rect x="224" y="10" width="1.04" height="1.02" fill="#b7d1d1"/><rect x="224" y="11" width="1.04" height="1.02" fill="#cfe0e0"/><rect x="224" y="12" width="1.04" height="1.02" fill="#d3e3e3"/><rect x="224" y="13" width="1.04" height="1.02" fill="#c3d9d8"/><rect x="225" y="1" width="1.04" height="1.02" fill="#cee0df"/><rect x="225" y="2" width="1.04" height="1.02" fill="#c7dbdb"/><rect x="225" y="3" width="1.04" height="1.02" fill="#e0ebeb"/><rect x="225" y="4" width="1.04" height="1.02" fill="#d1e1e1"/><rect x="225" y="5" width="1.04" height="1.02" fill="#d3e3e3"/><rect x="225" y="6" width="1.04" height="1.02" fill="#b9d2d2"/><rect x="225" y="7" width="1.04" height="1.02" fill="#bcd4d4"/><rect x="225" y="8" width="1.04" height="1.02" fill="#b5d0d0"/><rect x="225" y="9" width="1.04" height="1.02" fill="#cfe0e0"/><rect x="225" y="10" width="1.04" height="1.02" fill="#ccdfdf"/><rect x="225" y="11" width="1.04" height="1.02" fill="#ccdfdf"/><rect x="225" y="12" width="1.04" height="1.02" fill="#deeaea"/><rect x="225" y="13" width="1.04" height="1.02" fill="#cee0df"/><rect x="226" y="0" width="1.04" height="1.02" fill="#d7e6e6"/><rect x="226" y="2" width="1.04" height="1.02" fill="#ccdfdf"/><rect x="226" y="3" width="1.04" height="1.02" fill="#e1ecec"/><rect x="226" y="4" width="1.04" height="1.02" fill="#d2e2e2"/><rect x="226" y="5" width="1.04" height="1.02" fill="#d1e1e1"/><rect x="226" y="6" width="1.04" height="1.02" fill="#cadddd"/><rect x="226" y="7" width="1.04" height="1.02" fill="#b7d1d1"/><rect x="226" y="8" width="1.04" height="1.02" fill="#c1d8d8"/><rect x="226" y="9" width="1.04" height="1.02" fill="#b7d1d1"/><rect x="226" y="10" width="1.04" height="1.02" fill="#d6e5e5"/><rect x="226" y="11" width="1.04" height="1.02" fill="#d1e1e1"/><rect x="226" y="12" width="1.04" height="1.02" fill="#d3e3e3"/><rect x="226" y="13" width="1.04" height="1.02" fill="#dde9e9"/><rect x="227" y="0" width="1.04" height="1.02" fill="#c7dbdb"/><rect x="227" y="1" width="1.04" height="1.02" fill="#d1e1e1"/><rect x="227" y="2" width="1.04" height="1.02" fill="#d1e1e1"/><rect x="227" y="3" width="1.04" height="1.02" fill="#d6e5e5"/><rect x="227" y="4" width="1.04" height="1.02" fill="#dde9e9"/><rect x="227" y="5" width="1.04" height="1.02" fill="#d7e6e6"/><rect x="227" y="6" width="1.04" height="1.02" fill="#d9e7e6"/><rect x="227" y="7" width="1.04" height="1.02" fill="#bbd3d3"/><rect x="227" y="8" width="1.04" height="1.02" fill="#c7dbdb"/><rect x="227" y="9" width="1.04" height="1.02" fill="#c8dcdc"/><rect x="227" y="10" width="1.04" height="1.02" fill="#cee0df"/><rect x="227" y="11" width="1.04" height="1.02" fill="#e4eeed"/><rect x="227" y="12" width="1.04" height="1.02" fill="#d2e2e2"/><rect x="227" y="13" width="1.04" height="1.02" fill="#ccdfdf"/><rect x="228" y="0" width="1.04" height="1.02" fill="#cbdede"/><rect x="228" y="1" width="1.04" height="1.02" fill="#c7dbdb"/><rect x="228" y="2" width="1.04" height="1.02" fill="#cee0df"/><rect x="228" y="3" width="1.04" height="1.02" fill="#d7e6e6"/><rect x="228" y="4" width="1.04" height="1.02" fill="#d9e7e6"/><rect x="228" y="5" width="1.04" height="1.02" fill="#c3d9d8"/><rect x="228" y="6" width="1.04" height="1.02" fill="#bcd4d4"/><rect x="228" y="7" width="1.04" height="1.02" fill="#b1cdcd"/><rect x="228" y="8" width="1.04" height="1.02" fill="#bcd4d4"/><rect x="228" y="9" width="1.04" height="1.02" fill="#b8d2d1"/><rect x="228" y="11" width="1.04" height="1.02" fill="#e4eeed"/><rect x="228" y="12" width="1.04" height="1.02" fill="#d9e7e6"/><rect x="228" y="13" width="1.04" height="1.02" fill="#cbdede"/><rect x="229" y="0" width="1.04" height="1.02" fill="#c4d9d9"/><rect x="229" y="2" width="1.04" height="1.02" fill="#cfe0e0"/><rect x="229" y="3" width="1.04" height="1.02" fill="#cfe0e0"/><rect x="229" y="4" width="1.04" height="1.02" fill="#d3e3e3"/><rect x="229" y="5" width="1.04" height="1.02" fill="#cadddd"/><rect x="229" y="6" width="1.04" height="1.02" fill="#c3d9d8"/><rect x="229" y="7" width="1.04" height="1.02" fill="#aecbcb"/><rect x="229" y="8" width="1.04" height="1.02" fill="#bcd4d4"/><rect x="229" y="9" width="1.04" height="1.02" fill="#ccdfdf"/><rect x="229" y="10" width="1.04" height="1.02" fill="#c1d8d8"/><rect x="229" y="11" width="1.04" height="1.02" fill="#d6e5e5"/><rect x="229" y="12" width="1.04" height="1.02" fill="#d2e2e2"/><rect x="229" y="13" width="1.04" height="1.02" fill="#c7dbdb"/><rect x="230" y="0" width="1.04" height="1.02" fill="#bbd3d3"/><rect x="230" y="1" width="1.04" height="1.02" fill="#c7dbdb"/><rect x="230" y="2" width="1.04" height="1.02" fill="#cadddd"/><rect x="230" y="3" width="1.04" height="1.02" fill="#dbe8e8"/><rect x="230" y="4" width="1.04" height="1.02" fill="#c4d9d9"/><rect x="230" y="5" width="1.04" height="1.02" fill="#c1d8d8"/><rect x="230" y="6" width="1.04" height="1.02" fill="#b2cece"/><rect x="230" y="7" width="1.04" height="1.02" fill="#b4cfcf"/><rect x="230" y="9" width="1.04" height="1.02" fill="#b5d0d0"/><rect x="230" y="10" width="1.04" height="1.02" fill="#c4d9d9"/><rect x="230" y="11" width="1.04" height="1.02" fill="#cfe0e0"/><rect x="230" y="12" width="1.04" height="1.02" fill="#d2e2e2"/><rect x="230" y="13" width="1.04" height="1.02" fill="#c4d9d9"/><rect x="231" y="0" width="1.04" height="1.02" fill="#cfe0e0"/><rect x="231" y="1" width="1.04" height="1.02" fill="#bdd5d5"/><rect x="231" y="2" width="1.04" height="1.02" fill="#cfe0e0"/><rect x="231" y="3" width="1.04" height="1.02" fill="#d9e7e6"/><rect x="231" y="5" width="1.04" height="1.02" fill="#c1d8d8"/><rect x="231" y="6" width="1.04" height="1.02" fill="#c1d8d8"/><rect x="231" y="7" width="1.04" height="1.02" fill="#c1d8d8"/><rect x="231" y="8" width="1.04" height="1.02" fill="#b8d2d1"/><rect x="231" y="9" width="1.04" height="1.02" fill="#bfd6d6"/><rect x="231" y="10" width="1.04" height="1.02" fill="#c8dcdc"/><rect x="231" y="11" width="1.04" height="1.02" fill="#dae7e7"/><rect x="231" y="12" width="1.04" height="1.02" fill="#dae7e7"/><rect x="231" y="13" width="1.04" height="1.02" fill="#d5e4e4"/><rect x="232" y="0" width="1.04" height="1.02" fill="#bfd6d6"/><rect x="232" y="1" width="1.04" height="1.02" fill="#bfd6d6"/><rect x="232" y="2" width="1.04" height="1.02" fill="#d2e2e2"/><rect x="232" y="3" width="1.04" height="1.02" fill="#d5e4e4"/><rect x="232" y="4" width="1.04" height="1.02" fill="#cfe0e0"/><rect x="232" y="5" width="1.04" height="1.02" fill="#ccdfdf"/><rect x="232" y="6" width="1.04" height="1.02" fill="#c1d8d8"/><rect x="232" y="7" width="1.04" height="1.02" fill="#a7c7c7"/><rect x="232" y="8" width="1.04" height="1.02" fill="#b9d2d2"/><rect x="232" y="9" width="1.04" height="1.02" fill="#bdd5d5"/><rect x="232" y="10" width="1.04" height="1.02" fill="#ccdfdf"/><rect x="232" y="11" width="1.04" height="1.02" fill="#d2e2e2"/><rect x="232" y="12" width="1.04" height="1.02" fill="#e2eded"/><rect x="232" y="13" width="1.04" height="1.02" fill="#ccdfdf"/><rect x="233" y="0" width="1.04" height="1.02" fill="#b2cece"/><rect x="233" y="1" width="1.04" height="1.02" fill="#bbd3d3"/><rect x="233" y="2" width="1.04" height="1.02" fill="#c4d9d9"/><rect x="233" y="3" width="1.04" height="1.02" fill="#d2e2e2"/><rect x="233" y="4" width="1.04" height="1.02" fill="#d3e3e3"/><rect x="233" y="6" width="1.04" height="1.02" fill="#b8d2d1"/><rect x="233" y="7" width="1.04" height="1.02" fill="#b8d2d1"/><rect x="233" y="8" width="1.04" height="1.02" fill="#b1cdcd"/><rect x="233" y="9" width="1.04" height="1.02" fill="#c7dbdb"/><rect x="233" y="10" width="1.04" height="1.02" fill="#d2e2e2"/><rect x="233" y="11" width="1.04" height="1.02" fill="#d6e5e5"/><rect x="233" y="12" width="1.04" height="1.02" fill="#deeaea"/><rect x="233" y="13" width="1.04" height="1.02" fill="#d2e2e2"/><rect x="234" y="0" width="1.04" height="1.02" fill="#c3d9d8"/><rect x="234" y="1" width="1.04" height="1.02" fill="#c1d8d8"/><rect x="234" y="2" width="1.04" height="1.02" fill="#c1d8d8"/><rect x="234" y="3" width="1.04" height="1.02" fill="#cadddd"/><rect x="234" y="4" width="1.04" height="1.02" fill="#d3e3e3"/><rect x="234" y="5" width="1.04" height="1.02" fill="#bcd4d4"/><rect x="234" y="6" width="1.04" height="1.02" fill="#bbd3d3"/><rect x="234" y="7" width="1.04" height="1.02" fill="#b2cece"/><rect x="234" y="8" width="1.04" height="1.02" fill="#b5d0d0"/><rect x="234" y="9" width="1.04" height="1.02" fill="#cadddd"/><rect x="234" y="10" width="1.04" height="1.02" fill="#cbdede"/><rect x="234" y="11" width="1.04" height="1.02" fill="#d1e1e1"/><rect x="234" y="12" width="1.04" height="1.02" fill="#cee0df"/><rect x="234" y="13" width="1.04" height="1.02" fill="#cbdede"/><rect x="235" y="0" width="1.04" height="1.02" fill="#bfd6d6"/><rect x="235" y="1" width="1.04" height="1.02" fill="#bdd5d5"/><rect x="235" y="2" width="1.04" height="1.02" fill="#c8dcdc"/><rect x="235" y="3" width="1.04" height="1.02" fill="#cee0df"/><rect x="235" y="4" width="1.04" height="1.02" fill="#d6e5e5"/><rect x="235" y="5" width="1.04" height="1.02" fill="#cbdede"/><rect x="235" y="6" width="1.04" height="1.02" fill="#bfd6d6"/><rect x="235" y="7" width="1.04" height="1.02" fill="#b9d2d2"/><rect x="235" y="8" width="1.04" height="1.02" fill="#c0d7d7"/><rect x="235" y="9" width="1.04" height="1.02" fill="#b9d2d2"/><rect x="235" y="10" width="1.04" height="1.02" fill="#cbdede"/><rect x="235" y="11" width="1.04" height="1.02" fill="#dae7e7"/><rect x="235" y="12" width="1.04" height="1.02" fill="#d3e3e3"/><rect x="235" y="13" width="1.04" height="1.02" fill="#c0d7d7"/><rect x="236" y="0" width="1.04" height="1.02" fill="#bcd4d4"/><rect x="236" y="1" width="1.04" height="1.02" fill="#cadddd"/><rect x="236" y="2" width="1.04" height="1.02" fill="#d1e1e1"/><rect x="236" y="3" width="1.04" height="1.02" fill="#dae7e7"/><rect x="236" y="4" width="1.04" height="1.02" fill="#d3e3e3"/><rect x="236" y="5" width="1.04" height="1.02" fill="#bcd4d4"/><rect x="236" y="6" width="1.04" height="1.02" fill="#c8dcdc"/><rect x="236" y="7" width="1.04" height="1.02" fill="#accaca"/><rect x="236" y="8" width="1.04" height="1.02" fill="#c3d9d8"/><rect x="236" y="10" width="1.04" height="1.02" fill="#c3d9d8"/><rect x="236" y="11" width="1.04" height="1.02" fill="#cee0df"/><rect x="236" y="12" width="1.04" height="1.02" fill="#d3e3e3"/><rect x="236" y="13" width="1.04" height="1.02" fill="#d7e6e6"/><rect x="237" y="0" width="1.04" height="1.02" fill="#cbdede"/><rect x="237" y="1" width="1.04" height="1.02" fill="#b4cfcf"/><rect x="237" y="2" width="1.04" height="1.02" fill="#ccdfdf"/><rect x="237" y="3" width="1.04" height="1.02" fill="#d3e3e3"/><rect x="237" y="4" width="1.04" height="1.02" fill="#d9e7e6"/><rect x="237" y="5" width="1.04" height="1.02" fill="#cbdede"/><rect x="237" y="6" width="1.04" height="1.02" fill="#c8dcdc"/><rect x="237" y="7" width="1.04" height="1.02" fill="#b0cccc"/><rect x="237" y="8" width="1.04" height="1.02" fill="#bcd4d4"/><rect x="237" y="9" width="1.04" height="1.02" fill="#bfd6d6"/><rect x="237" y="10" width="1.04" height="1.02" fill="#ccdfdf"/><rect x="237" y="11" width="1.04" height="1.02" fill="#d5e4e4"/><rect x="237" y="12" width="1.04" height="1.02" fill="#cbdede"/><rect x="237" y="13" width="1.04" height="1.02" fill="#d2e2e2"/><rect x="238" y="0" width="1.04" height="1.02" fill="#c8dcdc"/><rect x="238" y="1" width="1.04" height="1.02" fill="#d5e4e4"/><rect x="238" y="2" width="1.04" height="1.02" fill="#d6e5e5"/><rect x="238" y="3" width="1.04" height="1.02" fill="#d6e5e5"/><rect x="238" y="4" width="1.04" height="1.02" fill="#deeaea"/><rect x="238" y="5" width="1.04" height="1.02" fill="#cadddd"/><rect x="238" y="6" width="1.04" height="1.02" fill="#ccdfdf"/><rect x="238" y="7" width="1.04" height="1.02" fill="#b4cfcf"/><rect x="238" y="8" width="1.04" height="1.02" fill="#b9d2d2"/><rect x="238" y="9" width="1.04" height="1.02" fill="#cee0df"/><rect x="238" y="10" width="1.04" height="1.02" fill="#d1e1e1"/><rect x="238" y="11" width="1.04" height="1.02" fill="#deeaea"/><rect x="238" y="12" width="1.04" height="1.02" fill="#dae7e7"/><rect x="238" y="13" width="1.04" height="1.02" fill="#cbdede"/><rect x="239" y="0" width="1.04" height="1.02" fill="#c4d9d9"/><rect x="239" y="1" width="1.04" height="1.02" fill="#d5e4e4"/><rect x="239" y="2" width="1.04" height="1.02" fill="#d7e6e6"/><rect x="239" y="3" width="1.04" height="1.02" fill="#e6efef"/><rect x="239" y="4" width="1.04" height="1.02" fill="#c8dcdc"/><rect x="239" y="5" width="1.04" height="1.02" fill="#cee0df"/><rect x="239" y="6" width="1.04" height="1.02" fill="#c4d9d9"/><rect x="239" y="7" width="1.04" height="1.02" fill="#c1d8d8"/><rect x="239" y="8" width="1.04" height="1.02" fill="#b9d2d2"/><rect x="239" y="9" width="1.04" height="1.02" fill="#d7e6e6"/><rect x="239" y="10" width="1.04" height="1.02" fill="#cee0df"/><rect x="239" y="11" width="1.04" height="1.02" fill="#c8dcdc"/><rect x="239" y="12" width="1.04" height="1.02" fill="#dde9e9"/><rect x="239" y="13" width="1.04" height="1.02" fill="#d2e2e2"/><rect x="240" y="0" width="1.04" height="1.02" fill="#c8dcdc"/><rect x="240" y="1" width="1.04" height="1.02" fill="#c4d9d9"/><rect x="240" y="2" width="1.04" height="1.02" fill="#c3d9d8"/><rect x="240" y="3" width="1.04" height="1.02" fill="#d2e2e2"/><rect x="240" y="4" width="1.04" height="1.02" fill="#cee0df"/><rect x="240" y="5" width="1.04" height="1.02" fill="#c8dcdc"/><rect x="240" y="6" width="1.04" height="1.02" fill="#bcd4d4"/><rect x="240" y="7" width="1.04" height="1.02" fill="#b5d0d0"/><rect x="240" y="8" width="1.04" height="1.02" fill="#b0cccc"/><rect x="240" y="9" width="1.04" height="1.02" fill="#bdd5d5"/><rect x="240" y="10" width="1.04" height="1.02" fill="#c8dcdc"/><rect x="240" y="11" width="1.04" height="1.02" fill="#e1ecec"/><rect x="240" y="12" width="1.04" height="1.02" fill="#cee0df"/><rect x="241" y="0" width="1.04" height="1.02" fill="#d6e5e5"/><rect x="241" y="1" width="1.04" height="1.02" fill="#d2e2e2"/><rect x="241" y="2" width="1.04" height="1.02" fill="#cadddd"/><rect x="241" y="3" width="1.04" height="1.02" fill="#e0ebeb"/><rect x="241" y="4" width="1.04" height="1.02" fill="#d9e7e6"/><rect x="241" y="5" width="1.04" height="1.02" fill="#cbdede"/><rect x="241" y="6" width="1.04" height="1.02" fill="#bcd4d4"/><rect x="241" y="7" width="1.04" height="1.02" fill="#bcd4d4"/><rect x="241" y="8" width="1.04" height="1.02" fill="#c0d7d7"/><rect x="241" y="9" width="1.04" height="1.02" fill="#cbdede"/><rect x="241" y="10" width="1.04" height="1.02" fill="#c1d8d8"/><rect x="241" y="11" width="1.04" height="1.02" fill="#cee0df"/><rect x="241" y="12" width="1.04" height="1.02" fill="#d9e7e6"/><rect x="241" y="13" width="1.04" height="1.02" fill="#d9e7e6"/><rect x="242" y="0" width="1.04" height="1.02" fill="#c4d9d9"/><rect x="242" y="1" width="1.04" height="1.02" fill="#cee0df"/><rect x="242" y="2" width="1.04" height="1.02" fill="#c8dcdc"/><rect x="242" y="3" width="1.04" height="1.02" fill="#d5e4e4"/><rect x="242" y="4" width="1.04" height="1.02" fill="#d3e3e3"/><rect x="242" y="5" width="1.04" height="1.02" fill="#c7dbdb"/><rect x="242" y="6" width="1.04" height="1.02" fill="#c0d7d7"/><rect x="242" y="7" width="1.04" height="1.02" fill="#c1d8d8"/><rect x="242" y="8" width="1.04" height="1.02" fill="#c1d8d8"/><rect x="242" y="9" width="1.04" height="1.02" fill="#b7d1d1"/><rect x="242" y="10" width="1.04" height="1.02" fill="#d5e4e4"/><rect x="242" y="11" width="1.04" height="1.02" fill="#d7e6e6"/><rect x="242" y="12" width="1.04" height="1.02" fill="#d1e1e1"/><rect x="242" y="13" width="1.04" height="1.02" fill="#d1e1e1"/><rect x="243" y="0" width="1.04" height="1.02" fill="#d2e2e2"/><rect x="243" y="2" width="1.04" height="1.02" fill="#c8dcdc"/><rect x="243" y="3" width="1.04" height="1.02" fill="#cee0df"/><rect x="243" y="4" width="1.04" height="1.02" fill="#d5e4e4"/><rect x="243" y="5" width="1.04" height="1.02" fill="#c4d9d9"/><rect x="243" y="6" width="1.04" height="1.02" fill="#cbdede"/><rect x="243" y="7" width="1.04" height="1.02" fill="#b9d2d2"/><rect x="243" y="8" width="1.04" height="1.02" fill="#c4d9d9"/><rect x="243" y="10" width="1.04" height="1.02" fill="#c7dbdb"/><rect x="243" y="11" width="1.04" height="1.02" fill="#cee0df"/><rect x="243" y="12" width="1.04" height="1.02" fill="#deeaea"/><rect x="243" y="13" width="1.04" height="1.02" fill="#c7dbdb"/><rect x="244" y="0" width="1.04" height="1.02" fill="#cee0df"/><rect x="244" y="1" width="1.04" height="1.02" fill="#cadddd"/><rect x="244" y="2" width="1.04" height="1.02" fill="#d7e6e6"/><rect x="244" y="3" width="1.04" height="1.02" fill="#d6e5e5"/><rect x="244" y="4" width="1.04" height="1.02" fill="#d2e2e2"/><rect x="244" y="5" width="1.04" height="1.02" fill="#ccdfdf"/><rect x="244" y="6" width="1.04" height="1.02" fill="#bfd6d6"/><rect x="244" y="7" width="1.04" height="1.02" fill="#bcd4d4"/><rect x="244" y="8" width="1.04" height="1.02" fill="#bfd6d6"/><rect x="244" y="9" width="1.04" height="1.02" fill="#d1e1e1"/><rect x="244" y="10" width="1.04" height="1.02" fill="#cbdede"/><rect x="244" y="11" width="1.04" height="1.02" fill="#d9e7e6"/><rect x="244" y="12" width="1.04" height="1.02" fill="#d9e7e6"/><rect x="244" y="13" width="1.04" height="1.02" fill="#cfe0e0"/><rect x="245" y="0" width="1.04" height="1.02" fill="#d1e1e1"/><rect x="245" y="1" width="1.04" height="1.02" fill="#d1e1e1"/><rect x="245" y="2" width="1.04" height="1.02" fill="#cee0df"/><rect x="245" y="3" width="1.04" height="1.02" fill="#d1e1e1"/><rect x="245" y="4" width="1.04" height="1.02" fill="#cfe0e0"/><rect x="245" y="5" width="1.04" height="1.02" fill="#c1d8d8"/><rect x="245" y="6" width="1.04" height="1.02" fill="#b8d2d1"/><rect x="245" y="7" width="1.04" height="1.02" fill="#b4cfcf"/><rect x="245" y="8" width="1.04" height="1.02" fill="#bcd4d4"/><rect x="245" y="9" width="1.04" height="1.02" fill="#cbdede"/><rect x="245" y="10" width="1.04" height="1.02" fill="#cfe0e0"/><rect x="245" y="11" width="1.04" height="1.02" fill="#d5e4e4"/><rect x="245" y="12" width="1.04" height="1.02" fill="#d2e2e2"/><rect x="245" y="13" width="1.04" height="1.02" fill="#cadddd"/><rect x="246" y="0" width="1.04" height="1.02" fill="#c7dbdb"/><rect x="246" y="1" width="1.04" height="1.02" fill="#c1d8d8"/><rect x="246" y="2" width="1.04" height="1.02" fill="#cbdede"/><rect x="246" y="3" width="1.04" height="1.02" fill="#d2e2e2"/><rect x="246" y="4" width="1.04" height="1.02" fill="#cfe0e0"/><rect x="246" y="5" width="1.04" height="1.02" fill="#ccdfdf"/><rect x="246" y="6" width="1.04" height="1.02" fill="#c8dcdc"/><rect x="246" y="7" width="1.04" height="1.02" fill="#b5d0d0"/><rect x="246" y="8" width="1.04" height="1.02" fill="#b9d2d2"/><rect x="246" y="10" width="1.04" height="1.02" fill="#ccdfdf"/><rect x="246" y="11" width="1.04" height="1.02" fill="#c3d9d8"/><rect x="246" y="12" width="1.04" height="1.02" fill="#dae7e7"/><rect x="246" y="13" width="1.04" height="1.02" fill="#cee0df"/><rect x="247" y="0" width="1.04" height="1.02" fill="#ccdfdf"/><rect x="247" y="1" width="1.04" height="1.02" fill="#c4d9d9"/><rect x="247" y="2" width="1.04" height="1.02" fill="#bfd6d6"/><rect x="247" y="3" width="1.04" height="1.02" fill="#cee0df"/><rect x="247" y="4" width="1.04" height="1.02" fill="#ccdfdf"/><rect x="247" y="5" width="1.04" height="1.02" fill="#c4d9d9"/><rect x="247" y="6" width="1.04" height="1.02" fill="#c0d7d7"/><rect x="247" y="7" width="1.04" height="1.02" fill="#b1cdcd"/><rect x="247" y="8" width="1.04" height="1.02" fill="#bdd5d5"/><rect x="247" y="9" width="1.04" height="1.02" fill="#c7dbdb"/><rect x="247" y="10" width="1.04" height="1.02" fill="#c7dbdb"/><rect x="247" y="11" width="1.04" height="1.02" fill="#cbdede"/><rect x="247" y="12" width="1.04" height="1.02" fill="#d2e2e2"/><rect x="247" y="13" width="1.04" height="1.02" fill="#c7dbdb"/><rect x="248" y="0" width="1.04" height="1.02" fill="#c4d9d9"/><rect x="248" y="1" width="1.04" height="1.02" fill="#bdd5d5"/><rect x="248" y="2" width="1.04" height="1.02" fill="#cadddd"/><rect x="248" y="3" width="1.04" height="1.02" fill="#deeaea"/><rect x="248" y="4" width="1.04" height="1.02" fill="#deeaea"/><rect x="248" y="5" width="1.04" height="1.02" fill="#cee0df"/><rect x="248" y="6" width="1.04" height="1.02" fill="#cfe0e0"/><rect x="248" y="7" width="1.04" height="1.02" fill="#bbd3d3"/><rect x="248" y="8" width="1.04" height="1.02" fill="#c7dbdb"/><rect x="248" y="9" width="1.04" height="1.02" fill="#c4d9d9"/><rect x="248" y="10" width="1.04" height="1.02" fill="#c7dbdb"/><rect x="248" y="11" width="1.04" height="1.02" fill="#e6efef"/><rect x="248" y="12" width="1.04" height="1.02" fill="#dae7e7"/><rect x="248" y="13" width="1.04" height="1.02" fill="#d7e6e6"/><rect x="249" y="0" width="1.04" height="1.02" fill="#cee0df"/><rect x="249" y="1" width="1.04" height="1.02" fill="#ccdfdf"/><rect x="249" y="2" width="1.04" height="1.02" fill="#cadddd"/><rect x="249" y="3" width="1.04" height="1.02" fill="#e4eeed"/><rect x="249" y="4" width="1.04" height="1.02" fill="#cfe0e0"/><rect x="249" y="5" width="1.04" height="1.02" fill="#c0d7d7"/><rect x="249" y="6" width="1.04" height="1.02" fill="#c1d8d8"/><rect x="249" y="7" width="1.04" height="1.02" fill="#b9d2d2"/><rect x="249" y="8" width="1.04" height="1.02" fill="#c1d8d8"/><rect x="249" y="9" width="1.04" height="1.02" fill="#d2e2e2"/><rect x="249" y="10" width="1.04" height="1.02" fill="#cadddd"/><rect x="249" y="11" width="1.04" height="1.02" fill="#d5e4e4"/><rect x="249" y="12" width="1.04" height="1.02" fill="#d5e4e4"/><rect x="249" y="13" width="1.04" height="1.02" fill="#c0d7d7"/><rect x="250" y="0" width="1.04" height="1.02" fill="#c0d7d7"/><rect x="250" y="1" width="1.04" height="1.02" fill="#b9d2d2"/><rect x="250" y="2" width="1.04" height="1.02" fill="#d3e3e3"/><rect x="250" y="3" width="1.04" height="1.02" fill="#dae7e7"/><rect x="250" y="4" width="1.04" height="1.02" fill="#d2e2e2"/><rect x="250" y="5" width="1.04" height="1.02" fill="#cbdede"/><rect x="250" y="6" width="1.04" height="1.02" fill="#bbd3d3"/><rect x="250" y="7" width="1.04" height="1.02" fill="#b8d2d1"/><rect x="250" y="8" width="1.04" height="1.02" fill="#aecbcb"/><rect x="250" y="9" width="1.04" height="1.02" fill="#b8d2d1"/><rect x="250" y="10" width="1.04" height="1.02" fill="#c1d8d8"/><rect x="250" y="11" width="1.04" height="1.02" fill="#d2e2e2"/><rect x="250" y="12" width="1.04" height="1.02" fill="#cee0df"/><rect x="250" y="13" width="1.04" height="1.02" fill="#c4d9d9"/><rect x="251" y="0" width="1.04" height="1.02" fill="#c7dbdb"/><rect x="251" y="2" width="1.04" height="1.02" fill="#cee0df"/><rect x="251" y="3" width="1.04" height="1.02" fill="#cee0df"/><rect x="251" y="4" width="1.04" height="1.02" fill="#cee0df"/><rect x="251" y="5" width="1.04" height="1.02" fill="#d2e2e2"/><rect x="251" y="6" width="1.04" height="1.02" fill="#c4d9d9"/><rect x="251" y="7" width="1.04" height="1.02" fill="#c1d8d8"/><rect x="251" y="8" width="1.04" height="1.02" fill="#bcd4d4"/><rect x="251" y="9" width="1.04" height="1.02" fill="#cee0df"/><rect x="251" y="10" width="1.04" height="1.02" fill="#c7dbdb"/><rect x="251" y="11" width="1.04" height="1.02" fill="#d3e3e3"/><rect x="251" y="12" width="1.04" height="1.02" fill="#d2e2e2"/><rect x="251" y="13" width="1.04" height="1.02" fill="#d1e1e1"/><rect x="252" y="0" width="1.04" height="1.02" fill="#bfd6d6"/><rect x="252" y="1" width="1.04" height="1.02" fill="#ccdfdf"/><rect x="252" y="2" width="1.04" height="1.02" fill="#c8dcdc"/><rect x="252" y="3" width="1.04" height="1.02" fill="#d6e5e5"/><rect x="252" y="4" width="1.04" height="1.02" fill="#d2e2e2"/><rect x="252" y="5" width="1.04" height="1.02" fill="#c1d8d8"/><rect x="252" y="6" width="1.04" height="1.02" fill="#c4d9d9"/><rect x="252" y="7" width="1.04" height="1.02" fill="#b4cfcf"/><rect x="252" y="8" width="1.04" height="1.02" fill="#ccdfdf"/><rect x="252" y="9" width="1.04" height="1.02" fill="#c3d9d8"/><rect x="252" y="10" width="1.04" height="1.02" fill="#cfe0e0"/><rect x="252" y="11" width="1.04" height="1.02" fill="#d7e6e6"/><rect x="252" y="12" width="1.04" height="1.02" fill="#d9e7e6"/><rect x="252" y="13" width="1.04" height="1.02" fill="#cfe0e0"/><rect x="253" y="0" width="1.04" height="1.02" fill="#ccdfdf"/><rect x="253" y="1" width="1.04" height="1.02" fill="#c0d7d7"/><rect x="253" y="2" width="1.04" height="1.02" fill="#cbdede"/><rect x="253" y="3" width="1.04" height="1.02" fill="#c7dbdb"/><rect x="253" y="4" width="1.04" height="1.02" fill="#cfe0e0"/><rect x="253" y="5" width="1.04" height="1.02" fill="#c0d7d7"/><rect x="253" y="6" width="1.04" height="1.02" fill="#bfd6d6"/><rect x="253" y="7" width="1.04" height="1.02" fill="#aecbcb"/><rect x="253" y="8" width="1.04" height="1.02" fill="#b0cccc"/><rect x="253" y="9" width="1.04" height="1.02" fill="#c1d8d8"/><rect x="253" y="10" width="1.04" height="1.02" fill="#c3d9d8"/><rect x="253" y="11" width="1.04" height="1.02" fill="#d6e5e5"/><rect x="253" y="12" width="1.04" height="1.02" fill="#ccdfdf"/><rect x="253" y="13" width="1.04" height="1.02" fill="#c0d7d7"/><rect x="254" y="0" width="1.04" height="1.02" fill="#c0d7d7"/><rect x="254" y="1" width="1.04" height="1.02" fill="#d6e5e5"/><rect x="254" y="2" width="1.04" height="1.02" fill="#dae7e7"/><rect x="254" y="3" width="1.04" height="1.02" fill="#e0ebeb"/><rect x="254" y="4" width="1.04" height="1.02" fill="#d7e6e6"/><rect x="254" y="5" width="1.04" height="1.02" fill="#cbdede"/><rect x="254" y="6" width="1.04" height="1.02" fill="#c4d9d9"/><rect x="254" y="7" width="1.04" height="1.02" fill="#bbd3d3"/><rect x="254" y="8" width="1.04" height="1.02" fill="#b9d2d2"/><rect x="254" y="9" width="1.04" height="1.02" fill="#cadddd"/><rect x="254" y="10" width="1.04" height="1.02" fill="#d3e3e3"/><rect x="254" y="11" width="1.04" height="1.02" fill="#dbe8e8"/><rect x="254" y="12" width="1.04" height="1.02" fill="#c8dcdc"/><rect x="254" y="13" width="1.04" height="1.02" fill="#deeaea"/><rect x="255" y="0" width="1.04" height="1.02" fill="#bcd4d4"/><rect x="255" y="1" width="1.04" height="1.02" fill="#c4d9d9"/><rect x="255" y="2" width="1.04" height="1.02" fill="#d2e2e2"/><rect x="255" y="3" width="1.04" height="1.02" fill="#d5e4e4"/><rect x="255" y="4" width="1.04" height="1.02" fill="#ccdfdf"/><rect x="255" y="5" width="1.04" height="1.02" fill="#c1d8d8"/><rect x="255" y="6" width="1.04" height="1.02" fill="#c8dcdc"/><rect x="255" y="7" width="1.04" height="1.02" fill="#b4cfcf"/><rect x="255" y="8" width="1.04" height="1.02" fill="#bcd4d4"/><rect x="255" y="9" width="1.04" height="1.02" fill="#bdd5d5"/><rect x="255" y="10" width="1.04" height="1.02" fill="#c0d7d7"/><rect x="255" y="11" width="1.04" height="1.02" fill="#d5e4e4"/><rect x="255" y="12" width="1.04" height="1.02" fill="#deeaea"/><rect x="255" y="13" width="1.04" height="1.02" fill="#cadddd"/><rect x="256" y="0" width="1.04" height="1.02" fill="#bbd3d3"/><rect x="256" y="1" width="1.04" height="1.02" fill="#bfd6d6"/><rect x="256" y="2" width="1.04" height="1.02" fill="#b5d0d0"/><rect x="256" y="3" width="1.04" height="1.02" fill="#d6e5e5"/><rect x="256" y="5" width="1.04" height="1.02" fill="#c7dbdb"/><rect x="256" y="6" width="1.04" height="1.02" fill="#bbd3d3"/><rect x="256" y="7" width="1.04" height="1.02" fill="#b2cece"/><rect x="256" y="8" width="1.04" height="1.02" fill="#adcbca"/><rect x="256" y="9" width="1.04" height="1.02" fill="#c4d9d9"/><rect x="256" y="10" width="1.04" height="1.02" fill="#c7dbdb"/><rect x="256" y="11" width="1.04" height="1.02" fill="#d6e5e5"/><rect x="256" y="12" width="1.04" height="1.02" fill="#cbdede"/><rect x="256" y="13" width="1.04" height="1.02" fill="#cadddd"/><rect x="257" y="0" width="1.04" height="1.02" fill="#cbdede"/><rect x="257" y="1" width="1.04" height="1.02" fill="#c7dbdb"/><rect x="257" y="2" width="1.04" height="1.02" fill="#c4d9d9"/><rect x="257" y="3" width="1.04" height="1.02" fill="#d5e4e4"/><rect x="257" y="4" width="1.04" height="1.02" fill="#ccdfdf"/><rect x="257" y="5" width="1.04" height="1.02" fill="#c4d9d9"/><rect x="257" y="6" width="1.04" height="1.02" fill="#c3d9d8"/><rect x="257" y="7" width="1.04" height="1.02" fill="#c1d8d8"/><rect x="257" y="8" width="1.04" height="1.02" fill="#b5d0d0"/><rect x="257" y="9" width="1.04" height="1.02" fill="#c1d8d8"/><rect x="257" y="10" width="1.04" height="1.02" fill="#c1d8d8"/><rect x="257" y="11" width="1.04" height="1.02" fill="#deeaea"/><rect x="257" y="12" width="1.04" height="1.02" fill="#deeaea"/><rect x="257" y="13" width="1.04" height="1.02" fill="#d9e7e6"/><rect x="258" y="0" width="1.04" height="1.02" fill="#c1d8d8"/><rect x="258" y="2" width="1.04" height="1.02" fill="#cfe0e0"/><rect x="258" y="3" width="1.04" height="1.02" fill="#d6e5e5"/><rect x="258" y="4" width="1.04" height="1.02" fill="#cfe0e0"/><rect x="258" y="5" width="1.04" height="1.02" fill="#cee0df"/><rect x="258" y="6" width="1.04" height="1.02" fill="#c1d8d8"/><rect x="258" y="7" width="1.04" height="1.02" fill="#bbd3d3"/><rect x="258" y="8" width="1.04" height="1.02" fill="#cfe0e0"/><rect x="258" y="9" width="1.04" height="1.02" fill="#cadddd"/><rect x="258" y="10" width="1.04" height="1.02" fill="#c3d9d8"/><rect x="258" y="11" width="1.04" height="1.02" fill="#d7e6e6"/><rect x="258" y="12" width="1.04" height="1.02" fill="#d9e7e6"/><rect x="258" y="13" width="1.04" height="1.02" fill="#d3e3e3"/><rect x="259" y="0" width="1.04" height="1.02" fill="#c0d7d7"/><rect x="259" y="1" width="1.04" height="1.02" fill="#cadddd"/><rect x="259" y="2" width="1.04" height="1.02" fill="#d5e4e4"/><rect x="259" y="3" width="1.04" height="1.02" fill="#eaf2f2"/><rect x="259" y="4" width="1.04" height="1.02" fill="#d7e6e6"/><rect x="259" y="5" width="1.04" height="1.02" fill="#d7e6e6"/><rect x="259" y="6" width="1.04" height="1.02" fill="#cfe0e0"/><rect x="259" y="7" width="1.04" height="1.02" fill="#b5d0d0"/><rect x="259" y="8" width="1.04" height="1.02" fill="#b9d2d2"/><rect x="259" y="9" width="1.04" height="1.02" fill="#d3e3e3"/><rect x="259" y="10" width="1.04" height="1.02" fill="#c4d9d9"/><rect x="259" y="11" width="1.04" height="1.02" fill="#d1e1e1"/><rect x="259" y="12" width="1.04" height="1.02" fill="#dbe8e8"/><rect x="259" y="13" width="1.04" height="1.02" fill="#c8dcdc"/><rect x="260" y="0" width="1.04" height="1.02" fill="#d3e3e3"/><rect x="260" y="1" width="1.04" height="1.02" fill="#d6e5e5"/><rect x="260" y="2" width="1.04" height="1.02" fill="#d9e7e6"/><rect x="260" y="3" width="1.04" height="1.02" fill="#d3e3e3"/><rect x="260" y="4" width="1.04" height="1.02" fill="#e0ebeb"/><rect x="260" y="5" width="1.04" height="1.02" fill="#d6e5e5"/><rect x="260" y="6" width="1.04" height="1.02" fill="#cee0df"/><rect x="260" y="7" width="1.04" height="1.02" fill="#bdd5d5"/><rect x="260" y="9" width="1.04" height="1.02" fill="#c4d9d9"/><rect x="260" y="10" width="1.04" height="1.02" fill="#d3e3e3"/><rect x="260" y="11" width="1.04" height="1.02" fill="#e0ebeb"/><rect x="260" y="12" width="1.04" height="1.02" fill="#dde9e9"/><rect x="260" y="13" width="1.04" height="1.02" fill="#d2e2e2"/><rect x="261" y="0" width="1.04" height="1.02" fill="#c7dbdb"/><rect x="261" y="1" width="1.04" height="1.02" fill="#bdd5d5"/><rect x="261" y="2" width="1.04" height="1.02" fill="#d3e3e3"/><rect x="261" y="3" width="1.04" height="1.02" fill="#d7e6e6"/><rect x="261" y="4" width="1.04" height="1.02" fill="#cbdede"/><rect x="261" y="5" width="1.04" height="1.02" fill="#d1e1e1"/><rect x="261" y="6" width="1.04" height="1.02" fill="#cbdede"/><rect x="261" y="7" width="1.04" height="1.02" fill="#c3d9d8"/><rect x="261" y="8" width="1.04" height="1.02" fill="#bdd5d5"/><rect x="261" y="9" width="1.04" height="1.02" fill="#c4d9d9"/><rect x="261" y="10" width="1.04" height="1.02" fill="#cee0df"/><rect x="261" y="11" width="1.04" height="1.02" fill="#d5e4e4"/><rect x="261" y="12" width="1.04" height="1.02" fill="#cfe0e0"/><rect x="261" y="13" width="1.04" height="1.02" fill="#cadddd"/><rect x="262" y="0" width="1.04" height="1.02" fill="#cbdede"/><rect x="262" y="1" width="1.04" height="1.02" fill="#cbdede"/><rect x="262" y="2" width="1.04" height="1.02" fill="#ccdfdf"/><rect x="262" y="3" width="1.04" height="1.02" fill="#dae7e7"/><rect x="262" y="4" width="1.04" height="1.02" fill="#dbe8e8"/><rect x="262" y="5" width="1.04" height="1.02" fill="#d1e1e1"/><rect x="262" y="6" width="1.04" height="1.02" fill="#d2e2e2"/><rect x="262" y="7" width="1.04" height="1.02" fill="#bdd5d5"/><rect x="262" y="9" width="1.04" height="1.02" fill="#c7dbdb"/><rect x="262" y="10" width="1.04" height="1.02" fill="#d5e4e4"/><rect x="262" y="11" width="1.04" height="1.02" fill="#dae7e7"/><rect x="262" y="12" width="1.04" height="1.02" fill="#e0ebeb"/><rect x="262" y="13" width="1.04" height="1.02" fill="#d9e7e6"/><rect x="263" y="0" width="1.04" height="1.02" fill="#c7dbdb"/><rect x="263" y="1" width="1.04" height="1.02" fill="#c1d8d8"/><rect x="263" y="2" width="1.04" height="1.02" fill="#d2e2e2"/><rect x="263" y="3" width="1.04" height="1.02" fill="#d2e2e2"/><rect x="263" y="4" width="1.04" height="1.02" fill="#dbe8e8"/><rect x="263" y="5" width="1.04" height="1.02" fill="#cadddd"/><rect x="263" y="6" width="1.04" height="1.02" fill="#c3d9d8"/><rect x="263" y="7" width="1.04" height="1.02" fill="#b2cece"/><rect x="263" y="8" width="1.04" height="1.02" fill="#bbd3d3"/><rect x="263" y="9" width="1.04" height="1.02" fill="#c4d9d9"/><rect x="263" y="10" width="1.04" height="1.02" fill="#c1d8d8"/><rect x="263" y="11" width="1.04" height="1.02" fill="#cee0df"/><rect x="263" y="12" width="1.04" height="1.02" fill="#cfe0e0"/><rect x="264" y="0" width="1.04" height="1.02" fill="#c8dcdc"/><rect x="264" y="2" width="1.04" height="1.02" fill="#cfe0e0"/><rect x="264" y="3" width="1.04" height="1.02" fill="#d2e2e2"/><rect x="264" y="4" width="1.04" height="1.02" fill="#cbdede"/><rect x="264" y="5" width="1.04" height="1.02" fill="#c4d9d9"/><rect x="264" y="6" width="1.04" height="1.02" fill="#c4d9d9"/><rect x="264" y="7" width="1.04" height="1.02" fill="#c3d9d8"/><rect x="264" y="8" width="1.04" height="1.02" fill="#bfd6d6"/><rect x="264" y="10" width="1.04" height="1.02" fill="#c3d9d8"/><rect x="264" y="11" width="1.04" height="1.02" fill="#d5e4e4"/><rect x="264" y="12" width="1.04" height="1.02" fill="#d6e5e5"/><rect x="264" y="13" width="1.04" height="1.02" fill="#c8dcdc"/><rect x="265" y="0" width="1.04" height="1.02" fill="#c8dcdc"/><rect x="265" y="1" width="1.04" height="1.02" fill="#bdd5d5"/><rect x="265" y="2" width="1.04" height="1.02" fill="#c4d9d9"/><rect x="265" y="3" width="1.04" height="1.02" fill="#d2e2e2"/><rect x="265" y="4" width="1.04" height="1.02" fill="#d2e2e2"/><rect x="265" y="5" width="1.04" height="1.02" fill="#d2e2e2"/><rect x="265" y="6" width="1.04" height="1.02" fill="#c0d7d7"/><rect x="265" y="7" width="1.04" height="1.02" fill="#bbd3d3"/><rect x="265" y="8" width="1.04" height="1.02" fill="#bdd5d5"/><rect x="265" y="9" width="1.04" height="1.02" fill="#cadddd"/><rect x="265" y="10" width="1.04" height="1.02" fill="#cbdede"/><rect x="265" y="11" width="1.04" height="1.02" fill="#d5e4e4"/><rect x="265" y="12" width="1.04" height="1.02" fill="#d5e4e4"/><rect x="265" y="13" width="1.04" height="1.02" fill="#c4d9d9"/><rect x="266" y="0" width="1.04" height="1.02" fill="#cfe0e0"/><rect x="266" y="1" width="1.04" height="1.02" fill="#ccdfdf"/><rect x="266" y="2" width="1.04" height="1.02" fill="#d6e5e5"/><rect x="266" y="3" width="1.04" height="1.02" fill="#d9e7e6"/><rect x="266" y="4" width="1.04" height="1.02" fill="#ccdfdf"/><rect x="266" y="6" width="1.04" height="1.02" fill="#c4d9d9"/><rect x="266" y="7" width="1.04" height="1.02" fill="#b7d1d1"/><rect x="266" y="8" width="1.04" height="1.02" fill="#c1d8d8"/><rect x="266" y="9" width="1.04" height="1.02" fill="#cee0df"/><rect x="266" y="10" width="1.04" height="1.02" fill="#d2e2e2"/><rect x="266" y="11" width="1.04" height="1.02" fill="#d6e5e5"/><rect x="266" y="12" width="1.04" height="1.02" fill="#cadddd"/><rect x="266" y="13" width="1.04" height="1.02" fill="#d5e4e4"/><rect x="267" y="0" width="1.04" height="1.02" fill="#b9d2d2"/><rect x="267" y="1" width="1.04" height="1.02" fill="#c4d9d9"/><rect x="267" y="2" width="1.04" height="1.02" fill="#c8dcdc"/><rect x="267" y="3" width="1.04" height="1.02" fill="#d5e4e4"/><rect x="267" y="4" width="1.04" height="1.02" fill="#cee0df"/><rect x="267" y="5" width="1.04" height="1.02" fill="#c0d7d7"/><rect x="267" y="6" width="1.04" height="1.02" fill="#bdd5d5"/><rect x="267" y="7" width="1.04" height="1.02" fill="#aecbcb"/><rect x="267" y="8" width="1.04" height="1.02" fill="#b1cdcd"/><rect x="267" y="9" width="1.04" height="1.02" fill="#bfd6d6"/><rect x="267" y="10" width="1.04" height="1.02" fill="#c3d9d8"/><rect x="267" y="11" width="1.04" height="1.02" fill="#cee0df"/><rect x="267" y="12" width="1.04" height="1.02" fill="#cee0df"/><rect x="267" y="13" width="1.04" height="1.02" fill="#cfe0e0"/><rect x="268" y="0" width="1.04" height="1.02" fill="#c3d9d8"/><rect x="268" y="1" width="1.04" height="1.02" fill="#cbdede"/><rect x="268" y="2" width="1.04" height="1.02" fill="#bdd5d5"/><rect x="268" y="3" width="1.04" height="1.02" fill="#dae7e7"/><rect x="268" y="4" width="1.04" height="1.02" fill="#d6e5e5"/><rect x="268" y="6" width="1.04" height="1.02" fill="#cee0df"/><rect x="268" y="7" width="1.04" height="1.02" fill="#bdd5d5"/><rect x="268" y="8" width="1.04" height="1.02" fill="#c7dbdb"/><rect x="268" y="9" width="1.04" height="1.02" fill="#cadddd"/><rect x="268" y="10" width="1.04" height="1.02" fill="#cadddd"/><rect x="268" y="11" width="1.04" height="1.02" fill="#cfe0e0"/><rect x="268" y="12" width="1.04" height="1.02" fill="#ccdfdf"/><rect x="269" y="0" width="1.04" height="1.02" fill="#bdd5d5"/><rect x="269" y="2" width="1.04" height="1.02" fill="#c1d8d8"/><rect x="269" y="3" width="1.04" height="1.02" fill="#d5e4e4"/><rect x="269" y="4" width="1.04" height="1.02" fill="#d2e2e2"/><rect x="269" y="5" width="1.04" height="1.02" fill="#bbd3d3"/><rect x="269" y="6" width="1.04" height="1.02" fill="#b9d2d2"/><rect x="269" y="7" width="1.04" height="1.02" fill="#b4cfcf"/><rect x="269" y="8" width="1.04" height="1.02" fill="#b5d0d0"/><rect x="269" y="9" width="1.04" height="1.02" fill="#bbd3d3"/><rect x="269" y="10" width="1.04" height="1.02" fill="#cfe0e0"/><rect x="269" y="11" width="1.04" height="1.02" fill="#cfe0e0"/><rect x="269" y="12" width="1.04" height="1.02" fill="#d9e7e6"/><rect x="269" y="13" width="1.04" height="1.02" fill="#c8dcdc"/><rect x="270" y="0" width="1.04" height="1.02" fill="#bfd6d6"/><rect x="270" y="2" width="1.04" height="1.02" fill="#d5e4e4"/><rect x="270" y="3" width="1.04" height="1.02" fill="#d7e6e6"/><rect x="270" y="4" width="1.04" height="1.02" fill="#dde9e9"/><rect x="270" y="5" width="1.04" height="1.02" fill="#cbdede"/><rect x="270" y="6" width="1.04" height="1.02" fill="#c0d7d7"/><rect x="270" y="7" width="1.04" height="1.02" fill="#bbd3d3"/><rect x="270" y="8" width="1.04" height="1.02" fill="#cee0df"/><rect x="270" y="9" width="1.04" height="1.02" fill="#cadddd"/><rect x="270" y="10" width="1.04" height="1.02" fill="#c8dcdc"/><rect x="270" y="11" width="1.04" height="1.02" fill="#d2e2e2"/><rect x="270" y="12" width="1.04" height="1.02" fill="#cfe0e0"/><rect x="270" y="13" width="1.04" height="1.02" fill="#d7e6e6"/><rect x="271" y="0" width="1.04" height="1.02" fill="#c8dcdc"/><rect x="271" y="1" width="1.04" height="1.02" fill="#c4d9d9"/><rect x="271" y="2" width="1.04" height="1.02" fill="#c8dcdc"/><rect x="271" y="3" width="1.04" height="1.02" fill="#cee0df"/><rect x="271" y="4" width="1.04" height="1.02" fill="#d5e4e4"/><rect x="271" y="6" width="1.04" height="1.02" fill="#c8dcdc"/><rect x="271" y="7" width="1.04" height="1.02" fill="#c1d8d8"/><rect x="271" y="8" width="1.04" height="1.02" fill="#b8d2d1"/><rect x="271" y="9" width="1.04" height="1.02" fill="#c4d9d9"/><rect x="271" y="10" width="1.04" height="1.02" fill="#d3e3e3"/><rect x="271" y="11" width="1.04" height="1.02" fill="#d6e5e5"/><rect x="271" y="12" width="1.04" height="1.02" fill="#d3e3e3"/><rect x="271" y="13" width="1.04" height="1.02" fill="#c0d7d7"/><rect x="272" y="0" width="1.04" height="1.02" fill="#bdd5d5"/><rect x="272" y="1" width="1.04" height="1.02" fill="#cfe0e0"/><rect x="272" y="2" width="1.04" height="1.02" fill="#cadddd"/><rect x="272" y="3" width="1.04" height="1.02" fill="#cee0df"/><rect x="272" y="4" width="1.04" height="1.02" fill="#ccdfdf"/><rect x="272" y="5" width="1.04" height="1.02" fill="#c3d9d8"/><rect x="272" y="6" width="1.04" height="1.02" fill="#c0d7d7"/><rect x="272" y="7" width="1.04" height="1.02" fill="#aac9c9"/><rect x="272" y="8" width="1.04" height="1.02" fill="#b1cdcd"/><rect x="272" y="9" width="1.04" height="1.02" fill="#c3d9d8"/><rect x="272" y="10" width="1.04" height="1.02" fill="#ccdfdf"/><rect x="272" y="11" width="1.04" height="1.02" fill="#c0d7d7"/><rect x="272" y="12" width="1.04" height="1.02" fill="#d5e4e4"/><rect x="272" y="13" width="1.04" height="1.02" fill="#c1d8d8"/><rect x="273" y="1" width="1.04" height="1.02" fill="#bfd6d6"/><rect x="273" y="2" width="1.04" height="1.02" fill="#c8dcdc"/><rect x="273" y="3" width="1.04" height="1.02" fill="#cbdede"/><rect x="273" y="4" width="1.04" height="1.02" fill="#cadddd"/><rect x="273" y="5" width="1.04" height="1.02" fill="#b5d0d0"/><rect x="273" y="6" width="1.04" height="1.02" fill="#b8d2d1"/><rect x="273" y="7" width="1.04" height="1.02" fill="#b4cfcf"/><rect x="273" y="8" width="1.04" height="1.02" fill="#b0cccc"/><rect x="273" y="9" width="1.04" height="1.02" fill="#c0d7d7"/><rect x="273" y="11" width="1.04" height="1.02" fill="#bcd4d4"/><rect x="273" y="12" width="1.04" height="1.02" fill="#d3e3e3"/><rect x="273" y="13" width="1.04" height="1.02" fill="#cadddd"/><rect x="274" y="0" width="1.04" height="1.02" fill="#ccdfdf"/><rect x="274" y="1" width="1.04" height="1.02" fill="#d5e4e4"/><rect x="274" y="3" width="1.04" height="1.02" fill="#dae7e7"/><rect x="274" y="4" width="1.04" height="1.02" fill="#d6e5e5"/><rect x="274" y="5" width="1.04" height="1.02" fill="#cbdede"/><rect x="274" y="6" width="1.04" height="1.02" fill="#c8dcdc"/><rect x="274" y="7" width="1.04" height="1.02" fill="#c1d8d8"/><rect x="274" y="8" width="1.04" height="1.02" fill="#bdd5d5"/><rect x="274" y="9" width="1.04" height="1.02" fill="#b5d0d0"/><rect x="274" y="10" width="1.04" height="1.02" fill="#c4d9d9"/><rect x="274" y="11" width="1.04" height="1.02" fill="#ccdfdf"/><rect x="274" y="12" width="1.04" height="1.02" fill="#deeaea"/><rect x="274" y="13" width="1.04" height="1.02" fill="#ccdfdf"/><rect x="275" y="0" width="1.04" height="1.02" fill="#c4d9d9"/><rect x="275" y="1" width="1.04" height="1.02" fill="#ccdfdf"/><rect x="275" y="2" width="1.04" height="1.02" fill="#d1e1e1"/><rect x="275" y="3" width="1.04" height="1.02" fill="#d9e7e6"/><rect x="275" y="4" width="1.04" height="1.02" fill="#dae7e7"/><rect x="275" y="5" width="1.04" height="1.02" fill="#d7e6e6"/><rect x="275" y="6" width="1.04" height="1.02" fill="#c3d9d8"/><rect x="275" y="7" width="1.04" height="1.02" fill="#c7dbdb"/><rect x="275" y="8" width="1.04" height="1.02" fill="#cadddd"/><rect x="275" y="9" width="1.04" height="1.02" fill="#cbdede"/><rect x="275" y="10" width="1.04" height="1.02" fill="#d2e2e2"/><rect x="275" y="11" width="1.04" height="1.02" fill="#d5e4e4"/><rect x="275" y="12" width="1.04" height="1.02" fill="#d2e2e2"/><rect x="275" y="13" width="1.04" height="1.02" fill="#cfe0e0"/><rect x="276" y="1" width="1.04" height="1.02" fill="#c0d7d7"/><rect x="276" y="2" width="1.04" height="1.02" fill="#d9e7e6"/><rect x="276" y="3" width="1.04" height="1.02" fill="#d2e2e2"/><rect x="276" y="4" width="1.04" height="1.02" fill="#d7e6e6"/><rect x="276" y="5" width="1.04" height="1.02" fill="#d1e1e1"/><rect x="276" y="6" width="1.04" height="1.02" fill="#c1d8d8"/><rect x="276" y="7" width="1.04" height="1.02" fill="#bcd4d4"/><rect x="276" y="8" width="1.04" height="1.02" fill="#b9d2d2"/><rect x="276" y="9" width="1.04" height="1.02" fill="#bdd5d5"/><rect x="276" y="10" width="1.04" height="1.02" fill="#d9e7e6"/><rect x="276" y="11" width="1.04" height="1.02" fill="#d2e2e2"/><rect x="276" y="12" width="1.04" height="1.02" fill="#c7dbdb"/><rect x="277" y="0" width="1.04" height="1.02" fill="#c0d7d7"/><rect x="277" y="1" width="1.04" height="1.02" fill="#ccdfdf"/><rect x="277" y="2" width="1.04" height="1.02" fill="#cfe0e0"/><rect x="277" y="3" width="1.04" height="1.02" fill="#cbdede"/><rect x="277" y="4" width="1.04" height="1.02" fill="#c7dbdb"/><rect x="277" y="5" width="1.04" height="1.02" fill="#cadddd"/><rect x="277" y="6" width="1.04" height="1.02" fill="#bfd6d6"/><rect x="277" y="7" width="1.04" height="1.02" fill="#b4cfcf"/><rect x="277" y="9" width="1.04" height="1.02" fill="#c3d9d8"/><rect x="277" y="10" width="1.04" height="1.02" fill="#b9d2d2"/><rect x="277" y="11" width="1.04" height="1.02" fill="#bfd6d6"/><rect x="277" y="12" width="1.04" height="1.02" fill="#d1e1e1"/><rect x="277" y="13" width="1.04" height="1.02" fill="#bcd4d4"/><rect x="278" y="0" width="1.04" height="1.02" fill="#cee0df"/><rect x="278" y="1" width="1.04" height="1.02" fill="#d7e6e6"/><rect x="278" y="2" width="1.04" height="1.02" fill="#c8dcdc"/><rect x="278" y="3" width="1.04" height="1.02" fill="#d9e7e6"/><rect x="278" y="4" width="1.04" height="1.02" fill="#c4d9d9"/><rect x="278" y="5" width="1.04" height="1.02" fill="#c8dcdc"/><rect x="278" y="6" width="1.04" height="1.02" fill="#c3d9d8"/><rect x="278" y="7" width="1.04" height="1.02" fill="#c8dcdc"/><rect x="278" y="8" width="1.04" height="1.02" fill="#b7d1d1"/><rect x="278" y="9" width="1.04" height="1.02" fill="#cadddd"/><rect x="278" y="10" width="1.04" height="1.02" fill="#ccdfdf"/><rect x="278" y="11" width="1.04" height="1.02" fill="#e2eded"/><rect x="278" y="12" width="1.04" height="1.02" fill="#d1e1e1"/><rect x="278" y="13" width="1.04" height="1.02" fill="#c8dcdc"/><rect x="279" y="0" width="1.04" height="1.02" fill="#c7dbdb"/><rect x="279" y="1" width="1.04" height="1.02" fill="#c7dbdb"/><rect x="279" y="2" width="1.04" height="1.02" fill="#c8dcdc"/><rect x="279" y="3" width="1.04" height="1.02" fill="#d6e5e5"/><rect x="279" y="4" width="1.04" height="1.02" fill="#c8dcdc"/><rect x="279" y="5" width="1.04" height="1.02" fill="#ccdfdf"/><rect x="279" y="6" width="1.04" height="1.02" fill="#c8dcdc"/><rect x="279" y="7" width="1.04" height="1.02" fill="#bfd6d6"/><rect x="279" y="8" width="1.04" height="1.02" fill="#d1e1e1"/><rect x="279" y="9" width="1.04" height="1.02" fill="#ccdfdf"/><rect x="279" y="10" width="1.04" height="1.02" fill="#c4d9d9"/><rect x="279" y="11" width="1.04" height="1.02" fill="#d2e2e2"/><rect x="279" y="12" width="1.04" height="1.02" fill="#dbe8e8"/><rect x="279" y="13" width="1.04" height="1.02" fill="#ccdfdf"/><rect x="280" y="0" width="1.04" height="1.02" fill="#cfe0e0"/><rect x="280" y="1" width="1.04" height="1.02" fill="#cadddd"/><rect x="280" y="2" width="1.04" height="1.02" fill="#cfe0e0"/><rect x="280" y="3" width="1.04" height="1.02" fill="#e1ecec"/><rect x="280" y="4" width="1.04" height="1.02" fill="#d2e2e2"/><rect x="280" y="5" width="1.04" height="1.02" fill="#c3d9d8"/><rect x="280" y="6" width="1.04" height="1.02" fill="#ccdfdf"/><rect x="280" y="7" width="1.04" height="1.02" fill="#bcd4d4"/><rect x="280" y="8" width="1.04" height="1.02" fill="#cfe0e0"/><rect x="280" y="9" width="1.04" height="1.02" fill="#d9e7e6"/><rect x="280" y="10" width="1.04" height="1.02" fill="#ccdfdf"/><rect x="280" y="11" width="1.04" height="1.02" fill="#d9e7e6"/><rect x="280" y="12" width="1.04" height="1.02" fill="#dae7e7"/><rect x="280" y="13" width="1.04" height="1.02" fill="#d7e6e6"/><rect x="281" y="0" width="1.04" height="1.02" fill="#c1d8d8"/><rect x="281" y="1" width="1.04" height="1.02" fill="#bcd4d4"/><rect x="281" y="2" width="1.04" height="1.02" fill="#cfe0e0"/><rect x="281" y="3" width="1.04" height="1.02" fill="#e1ecec"/><rect x="281" y="4" width="1.04" height="1.02" fill="#cadddd"/><rect x="281" y="6" width="1.04" height="1.02" fill="#bfd6d6"/><rect x="281" y="7" width="1.04" height="1.02" fill="#b9d2d2"/><rect x="281" y="8" width="1.04" height="1.02" fill="#b0cccc"/><rect x="281" y="10" width="1.04" height="1.02" fill="#c7dbdb"/><rect x="281" y="11" width="1.04" height="1.02" fill="#e0ebeb"/><rect x="281" y="12" width="1.04" height="1.02" fill="#d9e7e6"/><rect x="281" y="13" width="1.04" height="1.02" fill="#d2e2e2"/><rect x="282" y="0" width="1.04" height="1.02" fill="#c4d9d9"/><rect x="282" y="1" width="1.04" height="1.02" fill="#ccdfdf"/><rect x="282" y="2" width="1.04" height="1.02" fill="#c1d8d8"/><rect x="282" y="3" width="1.04" height="1.02" fill="#dbe8e8"/><rect x="282" y="4" width="1.04" height="1.02" fill="#d5e4e4"/><rect x="282" y="5" width="1.04" height="1.02" fill="#c8dcdc"/><rect x="282" y="6" width="1.04" height="1.02" fill="#cbdede"/><rect x="282" y="7" width="1.04" height="1.02" fill="#b7d1d1"/><rect x="282" y="8" width="1.04" height="1.02" fill="#bbd3d3"/><rect x="282" y="9" width="1.04" height="1.02" fill="#c7dbdb"/><rect x="282" y="10" width="1.04" height="1.02" fill="#bdd5d5"/><rect x="282" y="11" width="1.04" height="1.02" fill="#d2e2e2"/><rect x="282" y="12" width="1.04" height="1.02" fill="#d3e3e3"/><rect x="282" y="13" width="1.04" height="1.02" fill="#d3e3e3"/><rect x="283" y="0" width="1.04" height="1.02" fill="#cfe0e0"/><rect x="283" y="1" width="1.04" height="1.02" fill="#cfe0e0"/><rect x="283" y="2" width="1.04" height="1.02" fill="#d5e4e4"/><rect x="283" y="3" width="1.04" height="1.02" fill="#d5e4e4"/><rect x="283" y="4" width="1.04" height="1.02" fill="#e8f0f0"/><rect x="283" y="5" width="1.04" height="1.02" fill="#d6e5e5"/><rect x="283" y="6" width="1.04" height="1.02" fill="#d5e4e4"/><rect x="283" y="7" width="1.04" height="1.02" fill="#b7d1d1"/><rect x="283" y="8" width="1.04" height="1.02" fill="#c7dbdb"/><rect x="283" y="9" width="1.04" height="1.02" fill="#cee0df"/><rect x="283" y="10" width="1.04" height="1.02" fill="#d6e5e5"/><rect x="283" y="11" width="1.04" height="1.02" fill="#d2e2e2"/><rect x="283" y="12" width="1.04" height="1.02" fill="#dde9e9"/><rect x="283" y="13" width="1.04" height="1.02" fill="#d1e1e1"/><rect x="284" y="1" width="1.04" height="1.02" fill="#cbdede"/><rect x="284" y="2" width="1.04" height="1.02" fill="#cfe0e0"/><rect x="284" y="3" width="1.04" height="1.02" fill="#d3e3e3"/><rect x="284" y="4" width="1.04" height="1.02" fill="#dae7e7"/><rect x="284" y="5" width="1.04" height="1.02" fill="#d1e1e1"/><rect x="284" y="6" width="1.04" height="1.02" fill="#c4d9d9"/><rect x="284" y="7" width="1.04" height="1.02" fill="#bfd6d6"/><rect x="284" y="8" width="1.04" height="1.02" fill="#c7dbdb"/><rect x="284" y="9" width="1.04" height="1.02" fill="#cbdede"/><rect x="284" y="10" width="1.04" height="1.02" fill="#d3e3e3"/><rect x="284" y="11" width="1.04" height="1.02" fill="#d3e3e3"/><rect x="284" y="12" width="1.04" height="1.02" fill="#d5e4e4"/><rect x="284" y="13" width="1.04" height="1.02" fill="#d3e3e3"/><rect x="285" y="0" width="1.04" height="1.02" fill="#cadddd"/><rect x="285" y="1" width="1.04" height="1.02" fill="#c3d9d8"/><rect x="285" y="2" width="1.04" height="1.02" fill="#bbd3d3"/><rect x="285" y="3" width="1.04" height="1.02" fill="#d1e1e1"/><rect x="285" y="4" width="1.04" height="1.02" fill="#d6e5e5"/><rect x="285" y="5" width="1.04" height="1.02" fill="#b9d2d2"/><rect x="285" y="6" width="1.04" height="1.02" fill="#b8d2d1"/><rect x="285" y="7" width="1.04" height="1.02" fill="#bcd4d4"/><rect x="285" y="8" width="1.04" height="1.02" fill="#b2cece"/><rect x="285" y="10" width="1.04" height="1.02" fill="#ccdfdf"/><rect x="285" y="11" width="1.04" height="1.02" fill="#ccdfdf"/><rect x="285" y="12" width="1.04" height="1.02" fill="#d2e2e2"/><rect x="285" y="13" width="1.04" height="1.02" fill="#cee0df"/><rect x="286" y="0" width="1.04" height="1.02" fill="#cee0df"/><rect x="286" y="1" width="1.04" height="1.02" fill="#c8dcdc"/><rect x="286" y="2" width="1.04" height="1.02" fill="#cee0df"/><rect x="286" y="3" width="1.04" height="1.02" fill="#d1e1e1"/><rect x="286" y="4" width="1.04" height="1.02" fill="#d6e5e5"/><rect x="286" y="5" width="1.04" height="1.02" fill="#d3e3e3"/><rect x="286" y="6" width="1.04" height="1.02" fill="#ccdfdf"/><rect x="286" y="7" width="1.04" height="1.02" fill="#bdd5d5"/><rect x="286" y="8" width="1.04" height="1.02" fill="#b5d0d0"/><rect x="286" y="9" width="1.04" height="1.02" fill="#c0d7d7"/><rect x="286" y="10" width="1.04" height="1.02" fill="#cfe0e0"/><rect x="286" y="11" width="1.04" height="1.02" fill="#ccdfdf"/><rect x="286" y="12" width="1.04" height="1.02" fill="#dde9e9"/><rect x="286" y="13" width="1.04" height="1.02" fill="#c7dbdb"/><rect x="287" y="0" width="1.04" height="1.02" fill="#c1d8d8"/><rect x="287" y="1" width="1.04" height="1.02" fill="#c4d9d9"/><rect x="287" y="2" width="1.04" height="1.02" fill="#cfe0e0"/><rect x="287" y="3" width="1.04" height="1.02" fill="#d3e3e3"/><rect x="287" y="4" width="1.04" height="1.02" fill="#dae7e7"/><rect x="287" y="5" width="1.04" height="1.02" fill="#cbdede"/><rect x="287" y="6" width="1.04" height="1.02" fill="#bcd4d4"/><rect x="287" y="7" width="1.04" height="1.02" fill="#a3c1c3"/><rect x="287" y="8" width="1.04" height="1.02" fill="#bbd3d3"/><rect x="287" y="10" width="1.04" height="1.02" fill="#d2e2e2"/><rect x="287" y="11" width="1.04" height="1.02" fill="#ccdfdf"/><rect x="287" y="12" width="1.04" height="1.02" fill="#e1ecec"/><rect x="287" y="13" width="1.04" height="1.02" fill="#d3e3e3"/><rect x="288" y="0" width="1.04" height="1.02" fill="#ccdfdf"/><rect x="288" y="1" width="1.04" height="1.02" fill="#bcd4d4"/><rect x="288" y="2" width="1.04" height="1.02" fill="#c4d9d9"/><rect x="288" y="3" width="1.04" height="1.02" fill="#d7e6e6"/><rect x="288" y="4" width="1.04" height="1.02" fill="#d5e4e4"/><rect x="288" y="5" width="1.04" height="1.02" fill="#d1e1e1"/><rect x="288" y="6" width="1.04" height="1.02" fill="#cbdede"/><rect x="288" y="7" width="1.04" height="1.02" fill="#b7d1d1"/><rect x="288" y="8" width="1.04" height="1.02" fill="#b9d2d2"/><rect x="288" y="9" width="1.04" height="1.02" fill="#c1d8d8"/><rect x="288" y="10" width="1.04" height="1.02" fill="#c7dbdb"/><rect x="288" y="11" width="1.04" height="1.02" fill="#d5e4e4"/><rect x="288" y="12" width="1.04" height="1.02" fill="#d1e1e1"/><rect x="288" y="13" width="1.04" height="1.02" fill="#d5e4e4"/><rect x="289" y="0" width="1.04" height="1.02" fill="#bcd4d4"/><rect x="289" y="1" width="1.04" height="1.02" fill="#bdd5d5"/><rect x="289" y="2" width="1.04" height="1.02" fill="#cfe0e0"/><rect x="289" y="3" width="1.04" height="1.02" fill="#d6e5e5"/><rect x="289" y="4" width="1.04" height="1.02" fill="#c8dcdc"/><rect x="289" y="5" width="1.04" height="1.02" fill="#bdd5d5"/><rect x="289" y="6" width="1.04" height="1.02" fill="#ccdfdf"/><rect x="289" y="7" width="1.04" height="1.02" fill="#bdd5d5"/><rect x="289" y="8" width="1.04" height="1.02" fill="#bdd5d5"/><rect x="289" y="9" width="1.04" height="1.02" fill="#bdd5d5"/><rect x="289" y="10" width="1.04" height="1.02" fill="#cfe0e0"/><rect x="289" y="11" width="1.04" height="1.02" fill="#cee0df"/><rect x="289" y="12" width="1.04" height="1.02" fill="#d6e5e5"/><rect x="289" y="13" width="1.04" height="1.02" fill="#bcd4d4"/><rect x="290" y="1" width="1.04" height="1.02" fill="#c8dcdc"/><rect x="290" y="2" width="1.04" height="1.02" fill="#c4d9d9"/><rect x="290" y="3" width="1.04" height="1.02" fill="#cee0df"/><rect x="290" y="4" width="1.04" height="1.02" fill="#d7e6e6"/><rect x="290" y="6" width="1.04" height="1.02" fill="#cadddd"/><rect x="290" y="7" width="1.04" height="1.02" fill="#bdd5d5"/><rect x="290" y="9" width="1.04" height="1.02" fill="#ccdfdf"/><rect x="290" y="10" width="1.04" height="1.02" fill="#ccdfdf"/><rect x="290" y="11" width="1.04" height="1.02" fill="#d6e5e5"/><rect x="290" y="12" width="1.04" height="1.02" fill="#cfe0e0"/><rect x="291" y="0" width="1.04" height="1.02" fill="#cee0df"/><rect x="291" y="1" width="1.04" height="1.02" fill="#c3d9d8"/><rect x="291" y="2" width="1.04" height="1.02" fill="#dae7e7"/><rect x="291" y="3" width="1.04" height="1.02" fill="#e2eded"/><rect x="291" y="4" width="1.04" height="1.02" fill="#cee0df"/><rect x="291" y="6" width="1.04" height="1.02" fill="#bcd4d4"/><rect x="291" y="7" width="1.04" height="1.02" fill="#bcd4d4"/><rect x="291" y="8" width="1.04" height="1.02" fill="#c7dbdb"/><rect x="291" y="9" width="1.04" height="1.02" fill="#cadddd"/><rect x="291" y="10" width="1.04" height="1.02" fill="#c7dbdb"/><rect x="291" y="11" width="1.04" height="1.02" fill="#d7e6e6"/><rect x="291" y="12" width="1.04" height="1.02" fill="#dae7e7"/><rect x="291" y="13" width="1.04" height="1.02" fill="#d6e5e5"/><rect x="292" y="0" width="1.04" height="1.02" fill="#c4d9d9"/><rect x="292" y="1" width="1.04" height="1.02" fill="#c8dcdc"/><rect x="292" y="2" width="1.04" height="1.02" fill="#d7e6e6"/><rect x="292" y="3" width="1.04" height="1.02" fill="#e0ebeb"/><rect x="292" y="4" width="1.04" height="1.02" fill="#d9e7e6"/><rect x="292" y="5" width="1.04" height="1.02" fill="#cadddd"/><rect x="292" y="6" width="1.04" height="1.02" fill="#cee0df"/><rect x="292" y="7" width="1.04" height="1.02" fill="#bfd6d6"/><rect x="292" y="8" width="1.04" height="1.02" fill="#d1e1e1"/><rect x="292" y="9" width="1.04" height="1.02" fill="#d2e2e2"/><rect x="292" y="10" width="1.04" height="1.02" fill="#cadddd"/><rect x="292" y="11" width="1.04" height="1.02" fill="#cfe0e0"/><rect x="292" y="12" width="1.04" height="1.02" fill="#e0ebeb"/><rect x="292" y="13" width="1.04" height="1.02" fill="#d5e4e4"/><rect x="293" y="1" width="1.04" height="1.02" fill="#c8dcdc"/><rect x="293" y="3" width="1.04" height="1.02" fill="#d1e1e1"/><rect x="293" y="4" width="1.04" height="1.02" fill="#c7dbdb"/><rect x="293" y="5" width="1.04" height="1.02" fill="#c1d8d8"/><rect x="293" y="6" width="1.04" height="1.02" fill="#c3d9d8"/><rect x="293" y="7" width="1.04" height="1.02" fill="#b8d2d1"/><rect x="293" y="8" width="1.04" height="1.02" fill="#bcd4d4"/><rect x="293" y="9" width="1.04" height="1.02" fill="#cbdede"/><rect x="293" y="10" width="1.04" height="1.02" fill="#ccdfdf"/><rect x="293" y="11" width="1.04" height="1.02" fill="#c8dcdc"/><rect x="293" y="12" width="1.04" height="1.02" fill="#dbe8e8"/><rect x="293" y="13" width="1.04" height="1.02" fill="#c3d9d8"/><rect x="294" y="1" width="1.04" height="1.02" fill="#c3d9d8"/><rect x="294" y="2" width="1.04" height="1.02" fill="#c8dcdc"/><rect x="294" y="3" width="1.04" height="1.02" fill="#cbdede"/><rect x="294" y="4" width="1.04" height="1.02" fill="#d3e3e3"/><rect x="294" y="5" width="1.04" height="1.02" fill="#cadddd"/><rect x="294" y="6" width="1.04" height="1.02" fill="#c3d9d8"/><rect x="294" y="7" width="1.04" height="1.02" fill="#adcbca"/><rect x="294" y="8" width="1.04" height="1.02" fill="#b7d1d1"/><rect x="294" y="9" width="1.04" height="1.02" fill="#cadddd"/><rect x="294" y="10" width="1.04" height="1.02" fill="#cbdede"/><rect x="294" y="11" width="1.04" height="1.02" fill="#d5e4e4"/><rect x="294" y="12" width="1.04" height="1.02" fill="#d3e3e3"/><rect x="294" y="13" width="1.04" height="1.02" fill="#cadddd"/><rect x="295" y="0" width="1.04" height="1.02" fill="#cadddd"/><rect x="295" y="1" width="1.04" height="1.02" fill="#b8d2d1"/><rect x="295" y="2" width="1.04" height="1.02" fill="#c1d8d8"/><rect x="295" y="3" width="1.04" height="1.02" fill="#d1e1e1"/><rect x="295" y="4" width="1.04" height="1.02" fill="#cbdede"/><rect x="295" y="5" width="1.04" height="1.02" fill="#c4d9d9"/><rect x="295" y="6" width="1.04" height="1.02" fill="#bbd3d3"/><rect x="295" y="7" width="1.04" height="1.02" fill="#accaca"/><rect x="295" y="8" width="1.04" height="1.02" fill="#c1d8d8"/><rect x="295" y="9" width="1.04" height="1.02" fill="#b5d0d0"/><rect x="295" y="10" width="1.04" height="1.02" fill="#c4d9d9"/><rect x="295" y="11" width="1.04" height="1.02" fill="#c0d7d7"/><rect x="295" y="12" width="1.04" height="1.02" fill="#cadddd"/><rect x="295" y="13" width="1.04" height="1.02" fill="#bcd4d4"/><rect x="296" y="0" width="1.04" height="1.02" fill="#bdd5d5"/><rect x="296" y="1" width="1.04" height="1.02" fill="#c4d9d9"/><rect x="296" y="2" width="1.04" height="1.02" fill="#cfe0e0"/><rect x="296" y="3" width="1.04" height="1.02" fill="#cee0df"/><rect x="296" y="4" width="1.04" height="1.02" fill="#cbdede"/><rect x="296" y="5" width="1.04" height="1.02" fill="#b9d2d2"/><rect x="296" y="6" width="1.04" height="1.02" fill="#cee0df"/><rect x="296" y="7" width="1.04" height="1.02" fill="#b9d2d2"/><rect x="296" y="8" width="1.04" height="1.02" fill="#b5d0d0"/><rect x="296" y="9" width="1.04" height="1.02" fill="#cbdede"/><rect x="296" y="10" width="1.04" height="1.02" fill="#c8dcdc"/><rect x="296" y="11" width="1.04" height="1.02" fill="#c1d8d8"/><rect x="296" y="12" width="1.04" height="1.02" fill="#c8dcdc"/><rect x="296" y="13" width="1.04" height="1.02" fill="#d1e1e1"/><rect x="297" y="0" width="1.04" height="1.02" fill="#b9d2d2"/><rect x="297" y="1" width="1.04" height="1.02" fill="#bdd5d5"/><rect x="297" y="2" width="1.04" height="1.02" fill="#c4d9d9"/><rect x="297" y="3" width="1.04" height="1.02" fill="#cee0df"/><rect x="297" y="4" width="1.04" height="1.02" fill="#d2e2e2"/><rect x="297" y="5" width="1.04" height="1.02" fill="#c7dbdb"/><rect x="297" y="6" width="1.04" height="1.02" fill="#b9d2d2"/><rect x="297" y="7" width="1.04" height="1.02" fill="#b5d0d0"/><rect x="297" y="8" width="1.04" height="1.02" fill="#adcbca"/><rect x="297" y="9" width="1.04" height="1.02" fill="#c3d9d8"/><rect x="297" y="10" width="1.04" height="1.02" fill="#d5e4e4"/><rect x="297" y="11" width="1.04" height="1.02" fill="#cfe0e0"/><rect x="297" y="12" width="1.04" height="1.02" fill="#cee0df"/><rect x="297" y="13" width="1.04" height="1.02" fill="#c4d9d9"/><rect x="298" y="0" width="1.04" height="1.02" fill="#cbdede"/><rect x="298" y="1" width="1.04" height="1.02" fill="#bcd4d4"/><rect x="298" y="2" width="1.04" height="1.02" fill="#d1e1e1"/><rect x="298" y="3" width="1.04" height="1.02" fill="#cfe0e0"/><rect x="298" y="4" width="1.04" height="1.02" fill="#d3e3e3"/><rect x="298" y="5" width="1.04" height="1.02" fill="#d1e1e1"/><rect x="298" y="6" width="1.04" height="1.02" fill="#b9d2d2"/><rect x="298" y="7" width="1.04" height="1.02" fill="#cbdede"/><rect x="298" y="8" width="1.04" height="1.02" fill="#c4d9d9"/><rect x="298" y="9" width="1.04" height="1.02" fill="#c1d8d8"/><rect x="298" y="10" width="1.04" height="1.02" fill="#cbdede"/><rect x="298" y="11" width="1.04" height="1.02" fill="#ccdfdf"/><rect x="298" y="12" width="1.04" height="1.02" fill="#d5e4e4"/><rect x="298" y="13" width="1.04" height="1.02" fill="#cfe0e0"/><rect x="299" y="0" width="1.04" height="1.02" fill="#c0d7d7"/><rect x="299" y="1" width="1.04" height="1.02" fill="#c0d7d7"/><rect x="299" y="2" width="1.04" height="1.02" fill="#ccdfdf"/><rect x="299" y="3" width="1.04" height="1.02" fill="#d2e2e2"/><rect x="299" y="5" width="1.04" height="1.02" fill="#bdd5d5"/><rect x="299" y="6" width="1.04" height="1.02" fill="#bbd3d3"/><rect x="299" y="7" width="1.04" height="1.02" fill="#b8d2d1"/><rect x="299" y="8" width="1.04" height="1.02" fill="#b2cece"/><rect x="299" y="9" width="1.04" height="1.02" fill="#cadddd"/><rect x="299" y="10" width="1.04" height="1.02" fill="#c4d9d9"/><rect x="299" y="11" width="1.04" height="1.02" fill="#cbdede"/><rect x="299" y="12" width="1.04" height="1.02" fill="#d2e2e2"/><rect x="299" y="13" width="1.04" height="1.02" fill="#c4d9d9"/><rect x="300" y="0" width="1.04" height="1.02" fill="#ccdfdf"/><rect x="300" y="1" width="1.04" height="1.02" fill="#bdd5d5"/><rect x="300" y="2" width="1.04" height="1.02" fill="#cadddd"/><rect x="300" y="3" width="1.04" height="1.02" fill="#cee0df"/><rect x="300" y="4" width="1.04" height="1.02" fill="#d3e3e3"/><rect x="300" y="5" width="1.04" height="1.02" fill="#c4d9d9"/><rect x="300" y="6" width="1.04" height="1.02" fill="#bfd6d6"/><rect x="300" y="7" width="1.04" height="1.02" fill="#b5d0d0"/><rect x="300" y="8" width="1.04" height="1.02" fill="#b1cdcd"/><rect x="300" y="9" width="1.04" height="1.02" fill="#c8dcdc"/><rect x="300" y="10" width="1.04" height="1.02" fill="#cadddd"/><rect x="300" y="11" width="1.04" height="1.02" fill="#d3e3e3"/><rect x="300" y="12" width="1.04" height="1.02" fill="#edf4f4"/><rect x="300" y="13" width="1.04" height="1.02" fill="#d7e6e6"/><rect x="301" y="0" width="1.04" height="1.02" fill="#c1d8d8"/><rect x="301" y="1" width="1.04" height="1.02" fill="#cadddd"/><rect x="301" y="2" width="1.04" height="1.02" fill="#c4d9d9"/><rect x="301" y="3" width="1.04" height="1.02" fill="#cbdede"/><rect x="301" y="4" width="1.04" height="1.02" fill="#d3e3e3"/><rect x="301" y="5" width="1.04" height="1.02" fill="#bfd6d6"/><rect x="301" y="6" width="1.04" height="1.02" fill="#b7d1d1"/><rect x="301" y="7" width="1.04" height="1.02" fill="#b7d1d1"/><rect x="301" y="8" width="1.04" height="1.02" fill="#c4d9d9"/><rect x="301" y="9" width="1.04" height="1.02" fill="#bbd3d3"/><rect x="301" y="10" width="1.04" height="1.02" fill="#cadddd"/><rect x="301" y="11" width="1.04" height="1.02" fill="#d3e3e3"/><rect x="301" y="12" width="1.04" height="1.02" fill="#d3e3e3"/><rect x="301" y="13" width="1.04" height="1.02" fill="#cfe0e0"/><rect x="302" y="0" width="1.04" height="1.02" fill="#bdd5d5"/><rect x="302" y="1" width="1.04" height="1.02" fill="#bbd3d3"/><rect x="302" y="2" width="1.04" height="1.02" fill="#c4d9d9"/><rect x="302" y="3" width="1.04" height="1.02" fill="#d5e4e4"/><rect x="302" y="4" width="1.04" height="1.02" fill="#cee0df"/><rect x="302" y="5" width="1.04" height="1.02" fill="#bfd6d6"/><rect x="302" y="6" width="1.04" height="1.02" fill="#c1d8d8"/><rect x="302" y="7" width="1.04" height="1.02" fill="#a4c4c4"/><rect x="302" y="8" width="1.04" height="1.02" fill="#bcd4d4"/><rect x="302" y="10" width="1.04" height="1.02" fill="#bdd5d5"/><rect x="302" y="11" width="1.04" height="1.02" fill="#c8dcdc"/><rect x="302" y="12" width="1.04" height="1.02" fill="#d1e1e1"/><rect x="302" y="13" width="1.04" height="1.02" fill="#cadddd"/><rect x="303" y="0" width="1.04" height="1.02" fill="#bfd6d6"/><rect x="303" y="1" width="1.04" height="1.02" fill="#c0d7d7"/><rect x="303" y="2" width="1.04" height="1.02" fill="#ccdfdf"/><rect x="303" y="3" width="1.04" height="1.02" fill="#cfe0e0"/><rect x="303" y="4" width="1.04" height="1.02" fill="#cadddd"/><rect x="303" y="5" width="1.04" height="1.02" fill="#c1d8d8"/><rect x="303" y="6" width="1.04" height="1.02" fill="#d5e4e4"/><rect x="303" y="7" width="1.04" height="1.02" fill="#bfd6d6"/><rect x="303" y="8" width="1.04" height="1.02" fill="#c1d8d8"/><rect x="303" y="9" width="1.04" height="1.02" fill="#c4d9d9"/><rect x="303" y="11" width="1.04" height="1.02" fill="#cadddd"/><rect x="303" y="12" width="1.04" height="1.02" fill="#cee0df"/><rect x="303" y="13" width="1.04" height="1.02" fill="#cbdede"/><rect x="304" y="0" width="1.04" height="1.02" fill="#b9d2d2"/><rect x="304" y="1" width="1.04" height="1.02" fill="#cadddd"/><rect x="304" y="2" width="1.04" height="1.02" fill="#cadddd"/><rect x="304" y="3" width="1.04" height="1.02" fill="#cadddd"/><rect x="304" y="4" width="1.04" height="1.02" fill="#cfe0e0"/><rect x="304" y="5" width="1.04" height="1.02" fill="#d6e5e5"/><rect x="304" y="6" width="1.04" height="1.02" fill="#c0d7d7"/><rect x="304" y="7" width="1.04" height="1.02" fill="#bdd5d5"/><rect x="304" y="8" width="1.04" height="1.02" fill="#bfd6d6"/><rect x="304" y="9" width="1.04" height="1.02" fill="#bdd5d5"/><rect x="304" y="11" width="1.04" height="1.02" fill="#d2e2e2"/><rect x="304" y="12" width="1.04" height="1.02" fill="#cee0df"/><rect x="304" y="13" width="1.04" height="1.02" fill="#c8dcdc"/><rect x="305" y="0" width="1.04" height="1.02" fill="#c3d9d8"/><rect x="305" y="1" width="1.04" height="1.02" fill="#c4d9d9"/><rect x="305" y="2" width="1.04" height="1.02" fill="#cee0df"/><rect x="305" y="3" width="1.04" height="1.02" fill="#d6e5e5"/><rect x="305" y="4" width="1.04" height="1.02" fill="#d1e1e1"/><rect x="305" y="5" width="1.04" height="1.02" fill="#cee0df"/><rect x="305" y="6" width="1.04" height="1.02" fill="#cadddd"/><rect x="305" y="7" width="1.04" height="1.02" fill="#b1cdcd"/><rect x="305" y="8" width="1.04" height="1.02" fill="#c0d7d7"/><rect x="305" y="9" width="1.04" height="1.02" fill="#c4d9d9"/><rect x="305" y="10" width="1.04" height="1.02" fill="#cadddd"/><rect x="305" y="11" width="1.04" height="1.02" fill="#d1e1e1"/><rect x="305" y="12" width="1.04" height="1.02" fill="#d3e3e3"/><rect x="305" y="13" width="1.04" height="1.02" fill="#cbdede"/><rect x="306" y="0" width="1.04" height="1.02" fill="#c1d8d8"/><rect x="306" y="1" width="1.04" height="1.02" fill="#cee0df"/><rect x="306" y="2" width="1.04" height="1.02" fill="#c7dbdb"/><rect x="306" y="3" width="1.04" height="1.02" fill="#e2eded"/><rect x="306" y="4" width="1.04" height="1.02" fill="#dae7e7"/><rect x="306" y="5" width="1.04" height="1.02" fill="#c4d9d9"/><rect x="306" y="7" width="1.04" height="1.02" fill="#c1d8d8"/><rect x="306" y="8" width="1.04" height="1.02" fill="#bfd6d6"/><rect x="306" y="9" width="1.04" height="1.02" fill="#cee0df"/><rect x="306" y="10" width="1.04" height="1.02" fill="#cbdede"/><rect x="306" y="11" width="1.04" height="1.02" fill="#e2eded"/><rect x="306" y="12" width="1.04" height="1.02" fill="#d9e7e6"/><rect x="306" y="13" width="1.04" height="1.02" fill="#d2e2e2"/><rect x="307" y="0" width="1.04" height="1.02" fill="#bdd5d5"/><rect x="307" y="1" width="1.04" height="1.02" fill="#cadddd"/><rect x="307" y="2" width="1.04" height="1.02" fill="#bfd6d6"/><rect x="307" y="3" width="1.04" height="1.02" fill="#d6e5e5"/><rect x="307" y="4" width="1.04" height="1.02" fill="#dde9e9"/><rect x="307" y="5" width="1.04" height="1.02" fill="#d6e5e5"/><rect x="307" y="6" width="1.04" height="1.02" fill="#b7d1d1"/><rect x="307" y="7" width="1.04" height="1.02" fill="#b9d2d2"/><rect x="307" y="8" width="1.04" height="1.02" fill="#c0d7d7"/><rect x="307" y="9" width="1.04" height="1.02" fill="#c8dcdc"/><rect x="307" y="10" width="1.04" height="1.02" fill="#cee0df"/><rect x="307" y="12" width="1.04" height="1.02" fill="#d2e2e2"/><rect x="307" y="13" width="1.04" height="1.02" fill="#bfd6d6"/><rect x="308" y="0" width="1.04" height="1.02" fill="#d6e5e5"/><rect x="308" y="1" width="1.04" height="1.02" fill="#c1d8d8"/><rect x="308" y="2" width="1.04" height="1.02" fill="#cfe0e0"/><rect x="308" y="3" width="1.04" height="1.02" fill="#d6e5e5"/><rect x="308" y="4" width="1.04" height="1.02" fill="#c7dbdb"/><rect x="308" y="5" width="1.04" height="1.02" fill="#cbdede"/><rect x="308" y="6" width="1.04" height="1.02" fill="#bbd3d3"/><rect x="308" y="7" width="1.04" height="1.02" fill="#bbd3d3"/><rect x="308" y="8" width="1.04" height="1.02" fill="#c4d9d9"/><rect x="308" y="9" width="1.04" height="1.02" fill="#c1d8d8"/><rect x="308" y="10" width="1.04" height="1.02" fill="#cee0df"/><rect x="308" y="11" width="1.04" height="1.02" fill="#cadddd"/><rect x="308" y="12" width="1.04" height="1.02" fill="#cee0df"/><rect x="308" y="13" width="1.04" height="1.02" fill="#ccdfdf"/><rect x="309" y="0" width="1.04" height="1.02" fill="#c0d7d7"/><rect x="309" y="2" width="1.04" height="1.02" fill="#c4d9d9"/><rect x="309" y="3" width="1.04" height="1.02" fill="#d3e3e3"/><rect x="309" y="4" width="1.04" height="1.02" fill="#cbdede"/><rect x="309" y="5" width="1.04" height="1.02" fill="#ccdfdf"/><rect x="309" y="6" width="1.04" height="1.02" fill="#bfd6d6"/><rect x="309" y="7" width="1.04" height="1.02" fill="#b5d0d0"/><rect x="309" y="8" width="1.04" height="1.02" fill="#c1d8d8"/><rect x="309" y="10" width="1.04" height="1.02" fill="#cadddd"/><rect x="309" y="11" width="1.04" height="1.02" fill="#cadddd"/><rect x="309" y="12" width="1.04" height="1.02" fill="#d6e5e5"/><rect x="309" y="13" width="1.04" height="1.02" fill="#c7dbdb"/><rect x="310" y="0" width="1.04" height="1.02" fill="#bfd6d6"/><rect x="310" y="1" width="1.04" height="1.02" fill="#ccdfdf"/><rect x="310" y="3" width="1.04" height="1.02" fill="#c7dbdb"/><rect x="310" y="4" width="1.04" height="1.02" fill="#cee0df"/><rect x="310" y="5" width="1.04" height="1.02" fill="#bcd4d4"/><rect x="310" y="6" width="1.04" height="1.02" fill="#b9d2d2"/><rect x="310" y="7" width="1.04" height="1.02" fill="#b2cece"/><rect x="310" y="8" width="1.04" height="1.02" fill="#bbd3d3"/><rect x="310" y="9" width="1.04" height="1.02" fill="#c3d9d8"/><rect x="310" y="11" width="1.04" height="1.02" fill="#cbdede"/><rect x="310" y="12" width="1.04" height="1.02" fill="#cbdede"/><rect x="310" y="13" width="1.04" height="1.02" fill="#c4d9d9"/><rect x="311" y="1" width="1.04" height="1.02" fill="#c4d9d9"/><rect x="311" y="2" width="1.04" height="1.02" fill="#d7e6e6"/><rect x="311" y="3" width="1.04" height="1.02" fill="#d9e7e6"/><rect x="311" y="4" width="1.04" height="1.02" fill="#d7e6e6"/><rect x="311" y="5" width="1.04" height="1.02" fill="#cbdede"/><rect x="311" y="6" width="1.04" height="1.02" fill="#c4d9d9"/><rect x="311" y="7" width="1.04" height="1.02" fill="#bdd5d5"/><rect x="311" y="9" width="1.04" height="1.02" fill="#c1d8d8"/><rect x="311" y="10" width="1.04" height="1.02" fill="#c8dcdc"/><rect x="311" y="11" width="1.04" height="1.02" fill="#dde9e9"/><rect x="311" y="12" width="1.04" height="1.02" fill="#d5e4e4"/><rect x="311" y="13" width="1.04" height="1.02" fill="#d3e3e3"/><rect x="312" y="0" width="1.04" height="1.02" fill="#c3d9d8"/><rect x="312" y="1" width="1.04" height="1.02" fill="#c3d9d8"/><rect x="312" y="3" width="1.04" height="1.02" fill="#cfe0e0"/><rect x="312" y="4" width="1.04" height="1.02" fill="#cbdede"/><rect x="312" y="5" width="1.04" height="1.02" fill="#b9d2d2"/><rect x="312" y="6" width="1.04" height="1.02" fill="#bbd3d3"/><rect x="312" y="7" width="1.04" height="1.02" fill="#b0cccc"/><rect x="312" y="8" width="1.04" height="1.02" fill="#b1cdcd"/><rect x="312" y="10" width="1.04" height="1.02" fill="#b8d2d1"/><rect x="312" y="11" width="1.04" height="1.02" fill="#c7dbdb"/><rect x="312" y="12" width="1.04" height="1.02" fill="#c7dbdb"/><rect x="312" y="13" width="1.04" height="1.02" fill="#cbdede"/><rect x="313" y="0" width="1.04" height="1.02" fill="#c0d7d7"/><rect x="313" y="1" width="1.04" height="1.02" fill="#c7dbdb"/><rect x="313" y="2" width="1.04" height="1.02" fill="#b9d2d2"/><rect x="313" y="3" width="1.04" height="1.02" fill="#ccdfdf"/><rect x="313" y="4" width="1.04" height="1.02" fill="#cfe0e0"/><rect x="313" y="5" width="1.04" height="1.02" fill="#c4d9d9"/><rect x="313" y="6" width="1.04" height="1.02" fill="#b9d2d2"/><rect x="313" y="7" width="1.04" height="1.02" fill="#b1cdcd"/><rect x="313" y="8" width="1.04" height="1.02" fill="#b8d2d1"/><rect x="313" y="9" width="1.04" height="1.02" fill="#bbd3d3"/><rect x="313" y="10" width="1.04" height="1.02" fill="#bcd4d4"/><rect x="313" y="11" width="1.04" height="1.02" fill="#d6e5e5"/><rect x="313" y="12" width="1.04" height="1.02" fill="#d3e3e3"/><rect x="313" y="13" width="1.04" height="1.02" fill="#cfe0e0"/><rect x="314" y="0" width="1.04" height="1.02" fill="#bcd4d4"/><rect x="314" y="1" width="1.04" height="1.02" fill="#c1d8d8"/><rect x="314" y="2" width="1.04" height="1.02" fill="#d2e2e2"/><rect x="314" y="3" width="1.04" height="1.02" fill="#d5e4e4"/><rect x="314" y="4" width="1.04" height="1.02" fill="#cadddd"/><rect x="314" y="5" width="1.04" height="1.02" fill="#cbdede"/><rect x="314" y="6" width="1.04" height="1.02" fill="#c3d9d8"/><rect x="314" y="7" width="1.04" height="1.02" fill="#b8d2d1"/><rect x="314" y="8" width="1.04" height="1.02" fill="#cadddd"/><rect x="314" y="9" width="1.04" height="1.02" fill="#bfd6d6"/><rect x="314" y="11" width="1.04" height="1.02" fill="#ccdfdf"/><rect x="314" y="12" width="1.04" height="1.02" fill="#d9e7e6"/><rect x="314" y="13" width="1.04" height="1.02" fill="#d1e1e1"/><rect x="315" y="1" width="1.04" height="1.02" fill="#c8dcdc"/><rect x="315" y="2" width="1.04" height="1.02" fill="#ccdfdf"/><rect x="315" y="3" width="1.04" height="1.02" fill="#cadddd"/><rect x="315" y="4" width="1.04" height="1.02" fill="#cadddd"/><rect x="315" y="5" width="1.04" height="1.02" fill="#cfe0e0"/><rect x="315" y="6" width="1.04" height="1.02" fill="#c8dcdc"/><rect x="315" y="7" width="1.04" height="1.02" fill="#b1cdcd"/><rect x="315" y="8" width="1.04" height="1.02" fill="#c3d9d8"/><rect x="315" y="9" width="1.04" height="1.02" fill="#bdd5d5"/><rect x="315" y="10" width="1.04" height="1.02" fill="#c0d7d7"/><rect x="315" y="11" width="1.04" height="1.02" fill="#d6e5e5"/><rect x="315" y="12" width="1.04" height="1.02" fill="#d6e5e5"/><rect x="315" y="13" width="1.04" height="1.02" fill="#ccdfdf"/><rect x="316" y="0" width="1.04" height="1.02" fill="#cee0df"/><rect x="316" y="1" width="1.04" height="1.02" fill="#cbdede"/><rect x="316" y="2" width="1.04" height="1.02" fill="#c8dcdc"/><rect x="316" y="3" width="1.04" height="1.02" fill="#d9e7e6"/><rect x="316" y="4" width="1.04" height="1.02" fill="#d5e4e4"/><rect x="316" y="5" width="1.04" height="1.02" fill="#cee0df"/><rect x="316" y="6" width="1.04" height="1.02" fill="#cee0df"/><rect x="316" y="7" width="1.04" height="1.02" fill="#b4cfcf"/><rect x="316" y="8" width="1.04" height="1.02" fill="#d1e1e1"/><rect x="316" y="9" width="1.04" height="1.02" fill="#cbdede"/><rect x="316" y="10" width="1.04" height="1.02" fill="#c8dcdc"/><rect x="316" y="11" width="1.04" height="1.02" fill="#dde9e9"/><rect x="316" y="12" width="1.04" height="1.02" fill="#d2e2e2"/><rect x="317" y="0" width="1.04" height="1.02" fill="#c7dbdb"/><rect x="317" y="1" width="1.04" height="1.02" fill="#d1e1e1"/><rect x="317" y="2" width="1.04" height="1.02" fill="#cbdede"/><rect x="317" y="3" width="1.04" height="1.02" fill="#d5e4e4"/><rect x="317" y="4" width="1.04" height="1.02" fill="#d2e2e2"/><rect x="317" y="5" width="1.04" height="1.02" fill="#c3d9d8"/><rect x="317" y="6" width="1.04" height="1.02" fill="#c1d8d8"/><rect x="317" y="7" width="1.04" height="1.02" fill="#b5d0d0"/><rect x="317" y="8" width="1.04" height="1.02" fill="#bdd5d5"/><rect x="317" y="9" width="1.04" height="1.02" fill="#cfe0e0"/><rect x="317" y="10" width="1.04" height="1.02" fill="#cadddd"/><rect x="317" y="11" width="1.04" height="1.02" fill="#d1e1e1"/><rect x="317" y="12" width="1.04" height="1.02" fill="#e0ebeb"/><rect x="318" y="0" width="1.04" height="1.02" fill="#c3d9d8"/><rect x="318" y="1" width="1.04" height="1.02" fill="#ccdfdf"/><rect x="318" y="2" width="1.04" height="1.02" fill="#cbdede"/><rect x="318" y="3" width="1.04" height="1.02" fill="#d1e1e1"/><rect x="318" y="4" width="1.04" height="1.02" fill="#d2e2e2"/><rect x="318" y="5" width="1.04" height="1.02" fill="#c7dbdb"/><rect x="318" y="6" width="1.04" height="1.02" fill="#cfe0e0"/><rect x="318" y="7" width="1.04" height="1.02" fill="#b1cdcd"/><rect x="318" y="9" width="1.04" height="1.02" fill="#d2e2e2"/><rect x="318" y="10" width="1.04" height="1.02" fill="#cfe0e0"/><rect x="318" y="11" width="1.04" height="1.02" fill="#d6e5e5"/><rect x="318" y="12" width="1.04" height="1.02" fill="#cfe0e0"/><rect x="318" y="13" width="1.04" height="1.02" fill="#d1e1e1"/><rect x="319" y="0" width="1.04" height="1.02" fill="#cbdede"/><rect x="319" y="1" width="1.04" height="1.02" fill="#b7d1d1"/><rect x="319" y="2" width="1.04" height="1.02" fill="#c7dbdb"/><rect x="319" y="4" width="1.04" height="1.02" fill="#d6e5e5"/><rect x="319" y="5" width="1.04" height="1.02" fill="#c3d9d8"/><rect x="319" y="6" width="1.04" height="1.02" fill="#c7dbdb"/><rect x="319" y="7" width="1.04" height="1.02" fill="#b7d1d1"/><rect x="319" y="8" width="1.04" height="1.02" fill="#b9d2d2"/><rect x="319" y="9" width="1.04" height="1.02" fill="#cee0df"/><rect x="319" y="10" width="1.04" height="1.02" fill="#cfe0e0"/><rect x="319" y="11" width="1.04" height="1.02" fill="#d7e6e6"/><rect x="319" y="12" width="1.04" height="1.02" fill="#dbe8e8"/><rect x="319" y="13" width="1.04" height="1.02" fill="#cfe0e0"/><rect x="320" y="0" width="1.04" height="1.02" fill="#d2e2e2"/><rect x="320" y="1" width="1.04" height="1.02" fill="#c8dcdc"/><rect x="320" y="2" width="1.04" height="1.02" fill="#cbdede"/><rect x="320" y="3" width="1.04" height="1.02" fill="#deeaea"/><rect x="320" y="4" width="1.04" height="1.02" fill="#d7e6e6"/><rect x="320" y="5" width="1.04" height="1.02" fill="#cbdede"/><rect x="320" y="6" width="1.04" height="1.02" fill="#c7dbdb"/><rect x="320" y="7" width="1.04" height="1.02" fill="#c3d9d8"/><rect x="320" y="8" width="1.04" height="1.02" fill="#bcd4d4"/><rect x="320" y="9" width="1.04" height="1.02" fill="#c3d9d8"/><rect x="320" y="10" width="1.04" height="1.02" fill="#c7dbdb"/><rect x="320" y="11" width="1.04" height="1.02" fill="#d5e4e4"/><rect x="320" y="12" width="1.04" height="1.02" fill="#cadddd"/><rect x="320" y="13" width="1.04" height="1.02" fill="#c3d9d8"/><rect x="321" y="0" width="1.04" height="1.02" fill="#c7dbdb"/><rect x="321" y="1" width="1.04" height="1.02" fill="#c0d7d7"/><rect x="321" y="2" width="1.04" height="1.02" fill="#d2e2e2"/><rect x="321" y="3" width="1.04" height="1.02" fill="#d2e2e2"/><rect x="321" y="4" width="1.04" height="1.02" fill="#d2e2e2"/><rect x="321" y="5" width="1.04" height="1.02" fill="#cee0df"/><rect x="321" y="6" width="1.04" height="1.02" fill="#c4d9d9"/><rect x="321" y="8" width="1.04" height="1.02" fill="#c3d9d8"/><rect x="321" y="9" width="1.04" height="1.02" fill="#d3e3e3"/><rect x="321" y="10" width="1.04" height="1.02" fill="#bbd3d3"/><rect x="321" y="11" width="1.04" height="1.02" fill="#c8dcdc"/><rect x="321" y="12" width="1.04" height="1.02" fill="#ccdfdf"/><rect x="321" y="13" width="1.04" height="1.02" fill="#cbdede"/><rect x="322" y="0" width="1.04" height="1.02" fill="#b9d2d2"/><rect x="322" y="1" width="1.04" height="1.02" fill="#bcd4d4"/><rect x="322" y="2" width="1.04" height="1.02" fill="#c3d9d8"/><rect x="322" y="3" width="1.04" height="1.02" fill="#d6e5e5"/><rect x="322" y="4" width="1.04" height="1.02" fill="#cbdede"/><rect x="322" y="5" width="1.04" height="1.02" fill="#c8dcdc"/><rect x="322" y="6" width="1.04" height="1.02" fill="#c7dbdb"/><rect x="322" y="7" width="1.04" height="1.02" fill="#bfd6d6"/><rect x="322" y="8" width="1.04" height="1.02" fill="#b8d2d1"/><rect x="322" y="9" width="1.04" height="1.02" fill="#bbd3d3"/><rect x="322" y="10" width="1.04" height="1.02" fill="#cee0df"/><rect x="322" y="11" width="1.04" height="1.02" fill="#c1d8d8"/><rect x="322" y="13" width="1.04" height="1.02" fill="#cbdede"/><rect x="323" y="0" width="1.04" height="1.02" fill="#c7dbdb"/><rect x="323" y="1" width="1.04" height="1.02" fill="#c1d8d8"/><rect x="323" y="2" width="1.04" height="1.02" fill="#cfe0e0"/><rect x="323" y="3" width="1.04" height="1.02" fill="#dbe8e8"/><rect x="323" y="4" width="1.04" height="1.02" fill="#cfe0e0"/><rect x="323" y="5" width="1.04" height="1.02" fill="#d7e6e6"/><rect x="323" y="6" width="1.04" height="1.02" fill="#c3d9d8"/><rect x="323" y="7" width="1.04" height="1.02" fill="#b5d0d0"/><rect x="323" y="8" width="1.04" height="1.02" fill="#bfd6d6"/><rect x="323" y="9" width="1.04" height="1.02" fill="#c1d8d8"/><rect x="323" y="10" width="1.04" height="1.02" fill="#c7dbdb"/><rect x="323" y="11" width="1.04" height="1.02" fill="#cee0df"/><rect x="323" y="12" width="1.04" height="1.02" fill="#d3e3e3"/><rect x="323" y="13" width="1.04" height="1.02" fill="#d2e2e2"/><rect x="324" y="0" width="1.04" height="1.02" fill="#c7dbdb"/><rect x="324" y="1" width="1.04" height="1.02" fill="#bfd6d6"/><rect x="324" y="2" width="1.04" height="1.02" fill="#c1d8d8"/><rect x="324" y="3" width="1.04" height="1.02" fill="#d1e1e1"/><rect x="324" y="4" width="1.04" height="1.02" fill="#d6e5e5"/><rect x="324" y="5" width="1.04" height="1.02" fill="#cee0df"/><rect x="324" y="6" width="1.04" height="1.02" fill="#c4d9d9"/><rect x="324" y="7" width="1.04" height="1.02" fill="#b2cece"/><rect x="324" y="8" width="1.04" height="1.02" fill="#bdd5d5"/><rect x="324" y="10" width="1.04" height="1.02" fill="#cee0df"/><rect x="324" y="11" width="1.04" height="1.02" fill="#cbdede"/><rect x="324" y="12" width="1.04" height="1.02" fill="#d2e2e2"/><rect x="324" y="13" width="1.04" height="1.02" fill="#ccdfdf"/><rect x="325" y="0" width="1.04" height="1.02" fill="#bbd3d3"/><rect x="325" y="1" width="1.04" height="1.02" fill="#c7dbdb"/><rect x="325" y="2" width="1.04" height="1.02" fill="#c0d7d7"/><rect x="325" y="3" width="1.04" height="1.02" fill="#cbdede"/><rect x="325" y="4" width="1.04" height="1.02" fill="#cfe0e0"/><rect x="325" y="5" width="1.04" height="1.02" fill="#c3d9d8"/><rect x="325" y="6" width="1.04" height="1.02" fill="#c3d9d8"/><rect x="325" y="7" width="1.04" height="1.02" fill="#c0d7d7"/><rect x="325" y="8" width="1.04" height="1.02" fill="#c0d7d7"/><rect x="325" y="9" width="1.04" height="1.02" fill="#cadddd"/><rect x="325" y="11" width="1.04" height="1.02" fill="#d1e1e1"/><rect x="325" y="12" width="1.04" height="1.02" fill="#cfe0e0"/><rect x="326" y="0" width="1.04" height="1.02" fill="#cee0df"/><rect x="326" y="1" width="1.04" height="1.02" fill="#dbe8e8"/><rect x="326" y="2" width="1.04" height="1.02" fill="#d5e4e4"/><rect x="326" y="3" width="1.04" height="1.02" fill="#e2eded"/><rect x="326" y="4" width="1.04" height="1.02" fill="#dae7e7"/><rect x="326" y="5" width="1.04" height="1.02" fill="#cadddd"/><rect x="326" y="6" width="1.04" height="1.02" fill="#d7e6e6"/><rect x="326" y="7" width="1.04" height="1.02" fill="#c4d9d9"/><rect x="326" y="8" width="1.04" height="1.02" fill="#cadddd"/><rect x="326" y="9" width="1.04" height="1.02" fill="#dbe8e8"/><rect x="326" y="10" width="1.04" height="1.02" fill="#cfe0e0"/><rect x="326" y="11" width="1.04" height="1.02" fill="#dae7e7"/><rect x="326" y="12" width="1.04" height="1.02" fill="#e1ecec"/><rect x="326" y="13" width="1.04" height="1.02" fill="#dae7e7"/><rect x="327" y="0" width="1.04" height="1.02" fill="#bdd5d5"/><rect x="327" y="1" width="1.04" height="1.02" fill="#c7dbdb"/><rect x="327" y="2" width="1.04" height="1.02" fill="#c7dbdb"/><rect x="327" y="3" width="1.04" height="1.02" fill="#cbdede"/><rect x="327" y="4" width="1.04" height="1.02" fill="#c8dcdc"/><rect x="327" y="5" width="1.04" height="1.02" fill="#bfd6d6"/><rect x="327" y="6" width="1.04" height="1.02" fill="#bfd6d6"/><rect x="327" y="7" width="1.04" height="1.02" fill="#adcbca"/><rect x="327" y="8" width="1.04" height="1.02" fill="#b8d2d1"/><rect x="327" y="9" width="1.04" height="1.02" fill="#c3d9d8"/><rect x="327" y="10" width="1.04" height="1.02" fill="#c4d9d9"/><rect x="327" y="11" width="1.04" height="1.02" fill="#c8dcdc"/><rect x="327" y="12" width="1.04" height="1.02" fill="#c3d9d8"/><rect x="327" y="13" width="1.04" height="1.02" fill="#bdd5d5"/><rect x="328" y="0" width="1.04" height="1.02" fill="#c7dbdb"/><rect x="328" y="2" width="1.04" height="1.02" fill="#bfd6d6"/><rect x="328" y="3" width="1.04" height="1.02" fill="#d7e6e6"/><rect x="328" y="4" width="1.04" height="1.02" fill="#cfe0e0"/><rect x="328" y="5" width="1.04" height="1.02" fill="#c4d9d9"/><rect x="328" y="6" width="1.04" height="1.02" fill="#cadddd"/><rect x="328" y="7" width="1.04" height="1.02" fill="#bbd3d3"/><rect x="328" y="8" width="1.04" height="1.02" fill="#bfd6d6"/><rect x="328" y="9" width="1.04" height="1.02" fill="#c8dcdc"/><rect x="328" y="11" width="1.04" height="1.02" fill="#cbdede"/><rect x="328" y="12" width="1.04" height="1.02" fill="#ccdfdf"/><rect x="328" y="13" width="1.04" height="1.02" fill="#cee0df"/><rect x="329" y="0" width="1.04" height="1.02" fill="#b5d0d0"/><rect x="329" y="1" width="1.04" height="1.02" fill="#ccdfdf"/><rect x="329" y="2" width="1.04" height="1.02" fill="#cadddd"/><rect x="329" y="3" width="1.04" height="1.02" fill="#ccdfdf"/><rect x="329" y="4" width="1.04" height="1.02" fill="#cfe0e0"/><rect x="329" y="5" width="1.04" height="1.02" fill="#c4d9d9"/><rect x="329" y="6" width="1.04" height="1.02" fill="#c0d7d7"/><rect x="329" y="7" width="1.04" height="1.02" fill="#b5d0d0"/><rect x="329" y="8" width="1.04" height="1.02" fill="#b7d1d1"/><rect x="329" y="10" width="1.04" height="1.02" fill="#c7dbdb"/><rect x="329" y="11" width="1.04" height="1.02" fill="#d1e1e1"/><rect x="329" y="12" width="1.04" height="1.02" fill="#d5e4e4"/><rect x="329" y="13" width="1.04" height="1.02" fill="#cbdede"/><rect x="330" y="0" width="1.04" height="1.02" fill="#c4d9d9"/><rect x="330" y="1" width="1.04" height="1.02" fill="#bfd6d6"/><rect x="330" y="2" width="1.04" height="1.02" fill="#c4d9d9"/><rect x="330" y="3" width="1.04" height="1.02" fill="#cee0df"/><rect x="330" y="4" width="1.04" height="1.02" fill="#dae7e7"/><rect x="330" y="5" width="1.04" height="1.02" fill="#c3d9d8"/><rect x="330" y="6" width="1.04" height="1.02" fill="#cbdede"/><rect x="330" y="7" width="1.04" height="1.02" fill="#bfd6d6"/><rect x="330" y="8" width="1.04" height="1.02" fill="#b7d1d1"/><rect x="330" y="9" width="1.04" height="1.02" fill="#cfe0e0"/><rect x="330" y="10" width="1.04" height="1.02" fill="#c7dbdb"/><rect x="330" y="11" width="1.04" height="1.02" fill="#d2e2e2"/><rect x="330" y="12" width="1.04" height="1.02" fill="#d7e6e6"/><rect x="330" y="13" width="1.04" height="1.02" fill="#d5e4e4"/><rect x="331" y="0" width="1.04" height="1.02" fill="#c7dbdb"/><rect x="331" y="1" width="1.04" height="1.02" fill="#bfd6d6"/><rect x="331" y="2" width="1.04" height="1.02" fill="#c3d9d8"/><rect x="331" y="3" width="1.04" height="1.02" fill="#dae7e7"/><rect x="331" y="4" width="1.04" height="1.02" fill="#d2e2e2"/><rect x="331" y="5" width="1.04" height="1.02" fill="#cadddd"/><rect x="331" y="6" width="1.04" height="1.02" fill="#c8dcdc"/><rect x="331" y="7" width="1.04" height="1.02" fill="#c1d8d8"/><rect x="331" y="8" width="1.04" height="1.02" fill="#bdd5d5"/><rect x="331" y="9" width="1.04" height="1.02" fill="#c4d9d9"/><rect x="331" y="10" width="1.04" height="1.02" fill="#d2e2e2"/><rect x="331" y="11" width="1.04" height="1.02" fill="#d2e2e2"/><rect x="331" y="12" width="1.04" height="1.02" fill="#cee0df"/><rect x="331" y="13" width="1.04" height="1.02" fill="#d2e2e2"/><rect x="332" y="0" width="1.04" height="1.02" fill="#bfd6d6"/><rect x="332" y="1" width="1.04" height="1.02" fill="#c1d8d8"/><rect x="332" y="2" width="1.04" height="1.02" fill="#d9e7e6"/><rect x="332" y="3" width="1.04" height="1.02" fill="#deeaea"/><rect x="332" y="4" width="1.04" height="1.02" fill="#d1e1e1"/><rect x="332" y="5" width="1.04" height="1.02" fill="#d3e3e3"/><rect x="332" y="6" width="1.04" height="1.02" fill="#c7dbdb"/><rect x="332" y="7" width="1.04" height="1.02" fill="#c1d8d8"/><rect x="332" y="8" width="1.04" height="1.02" fill="#bfd6d6"/><rect x="332" y="9" width="1.04" height="1.02" fill="#d7e6e6"/><rect x="332" y="10" width="1.04" height="1.02" fill="#dae7e7"/><rect x="332" y="11" width="1.04" height="1.02" fill="#dbe8e8"/><rect x="332" y="12" width="1.04" height="1.02" fill="#cfe0e0"/><rect x="332" y="13" width="1.04" height="1.02" fill="#cfe0e0"/><rect x="333" y="0" width="1.04" height="1.02" fill="#c8dcdc"/><rect x="333" y="1" width="1.04" height="1.02" fill="#c7dbdb"/><rect x="333" y="2" width="1.04" height="1.02" fill="#d2e2e2"/><rect x="333" y="3" width="1.04" height="1.02" fill="#dae7e7"/><rect x="333" y="4" width="1.04" height="1.02" fill="#d3e3e3"/><rect x="333" y="6" width="1.04" height="1.02" fill="#c7dbdb"/><rect x="333" y="7" width="1.04" height="1.02" fill="#bdd5d5"/><rect x="333" y="8" width="1.04" height="1.02" fill="#c4d9d9"/><rect x="333" y="9" width="1.04" height="1.02" fill="#ccdfdf"/><rect x="333" y="10" width="1.04" height="1.02" fill="#d5e4e4"/><rect x="333" y="11" width="1.04" height="1.02" fill="#d5e4e4"/><rect x="333" y="12" width="1.04" height="1.02" fill="#dae7e7"/><rect x="333" y="13" width="1.04" height="1.02" fill="#d2e2e2"/><rect x="334" y="0" width="1.04" height="1.02" fill="#bfd6d6"/><rect x="334" y="1" width="1.04" height="1.02" fill="#bdd5d5"/><rect x="334" y="2" width="1.04" height="1.02" fill="#d3e3e3"/><rect x="334" y="3" width="1.04" height="1.02" fill="#ccdfdf"/><rect x="334" y="4" width="1.04" height="1.02" fill="#d1e1e1"/><rect x="334" y="5" width="1.04" height="1.02" fill="#cbdede"/><rect x="334" y="6" width="1.04" height="1.02" fill="#c4d9d9"/><rect x="334" y="7" width="1.04" height="1.02" fill="#b0cccc"/><rect x="334" y="8" width="1.04" height="1.02" fill="#b7d1d1"/><rect x="334" y="9" width="1.04" height="1.02" fill="#c7dbdb"/><rect x="334" y="10" width="1.04" height="1.02" fill="#ccdfdf"/><rect x="334" y="11" width="1.04" height="1.02" fill="#cee0df"/><rect x="334" y="12" width="1.04" height="1.02" fill="#d3e3e3"/><rect x="334" y="13" width="1.04" height="1.02" fill="#bdd5d5"/><rect x="335" y="0" width="1.04" height="1.02" fill="#d6e5e5"/><rect x="335" y="1" width="1.04" height="1.02" fill="#ccdfdf"/><rect x="335" y="2" width="1.04" height="1.02" fill="#d1e1e1"/><rect x="335" y="3" width="1.04" height="1.02" fill="#d7e6e6"/><rect x="335" y="4" width="1.04" height="1.02" fill="#d1e1e1"/><rect x="335" y="5" width="1.04" height="1.02" fill="#bfd6d6"/><rect x="335" y="6" width="1.04" height="1.02" fill="#cadddd"/><rect x="335" y="7" width="1.04" height="1.02" fill="#c4d9d9"/><rect x="335" y="8" width="1.04" height="1.02" fill="#cfe0e0"/><rect x="335" y="9" width="1.04" height="1.02" fill="#c8dcdc"/><rect x="335" y="10" width="1.04" height="1.02" fill="#c8dcdc"/><rect x="335" y="11" width="1.04" height="1.02" fill="#d7e6e6"/><rect x="335" y="12" width="1.04" height="1.02" fill="#cfe0e0"/><rect x="335" y="13" width="1.04" height="1.02" fill="#d1e1e1"/><rect x="336" y="0" width="1.04" height="1.02" fill="#bdd5d5"/><rect x="336" y="1" width="1.04" height="1.02" fill="#c8dcdc"/><rect x="336" y="2" width="1.04" height="1.02" fill="#cbdede"/><rect x="336" y="3" width="1.04" height="1.02" fill="#d7e6e6"/><rect x="336" y="4" width="1.04" height="1.02" fill="#d7e6e6"/><rect x="336" y="5" width="1.04" height="1.02" fill="#c1d8d8"/><rect x="336" y="6" width="1.04" height="1.02" fill="#b7d1d1"/><rect x="336" y="7" width="1.04" height="1.02" fill="#a9c8c8"/><rect x="336" y="8" width="1.04" height="1.02" fill="#bbd3d3"/><rect x="336" y="9" width="1.04" height="1.02" fill="#c1d8d8"/><rect x="336" y="10" width="1.04" height="1.02" fill="#cbdede"/><rect x="336" y="11" width="1.04" height="1.02" fill="#c4d9d9"/><rect x="336" y="12" width="1.04" height="1.02" fill="#cbdede"/><rect x="336" y="13" width="1.04" height="1.02" fill="#cadddd"/><rect x="337" y="0" width="1.04" height="1.02" fill="#bfd6d6"/><rect x="337" y="1" width="1.04" height="1.02" fill="#d1e1e1"/><rect x="337" y="2" width="1.04" height="1.02" fill="#c4d9d9"/><rect x="337" y="3" width="1.04" height="1.02" fill="#cfe0e0"/><rect x="337" y="4" width="1.04" height="1.02" fill="#d1e1e1"/><rect x="337" y="5" width="1.04" height="1.02" fill="#c8dcdc"/><rect x="337" y="6" width="1.04" height="1.02" fill="#b4cfcf"/><rect x="337" y="7" width="1.04" height="1.02" fill="#aecbcb"/><rect x="337" y="8" width="1.04" height="1.02" fill="#b0cccc"/><rect x="337" y="9" width="1.04" height="1.02" fill="#cbdede"/><rect x="337" y="10" width="1.04" height="1.02" fill="#cbdede"/><rect x="337" y="11" width="1.04" height="1.02" fill="#c7dbdb"/><rect x="337" y="12" width="1.04" height="1.02" fill="#d9e7e6"/><rect x="337" y="13" width="1.04" height="1.02" fill="#cee0df"/><rect x="338" y="0" width="1.04" height="1.02" fill="#bfd6d6"/><rect x="338" y="2" width="1.04" height="1.02" fill="#cfe0e0"/><rect x="338" y="3" width="1.04" height="1.02" fill="#d7e6e6"/><rect x="338" y="4" width="1.04" height="1.02" fill="#dae7e7"/><rect x="338" y="5" width="1.04" height="1.02" fill="#d2e2e2"/><rect x="338" y="6" width="1.04" height="1.02" fill="#c4d9d9"/><rect x="338" y="7" width="1.04" height="1.02" fill="#c7dbdb"/><rect x="338" y="8" width="1.04" height="1.02" fill="#bdd5d5"/><rect x="338" y="9" width="1.04" height="1.02" fill="#cfe0e0"/><rect x="338" y="10" width="1.04" height="1.02" fill="#d5e4e4"/><rect x="338" y="11" width="1.04" height="1.02" fill="#cee0df"/><rect x="338" y="12" width="1.04" height="1.02" fill="#dae7e7"/><rect x="338" y="13" width="1.04" height="1.02" fill="#cee0df"/><rect x="339" y="0" width="1.04" height="1.02" fill="#d7e6e6"/><rect x="339" y="1" width="1.04" height="1.02" fill="#c4d9d9"/><rect x="339" y="2" width="1.04" height="1.02" fill="#d6e5e5"/><rect x="339" y="3" width="1.04" height="1.02" fill="#ccdfdf"/><rect x="339" y="4" width="1.04" height="1.02" fill="#dde9e9"/><rect x="339" y="5" width="1.04" height="1.02" fill="#d7e6e6"/><rect x="339" y="6" width="1.04" height="1.02" fill="#c1d8d8"/><rect x="339" y="7" width="1.04" height="1.02" fill="#b9d2d2"/><rect x="339" y="8" width="1.04" height="1.02" fill="#c0d7d7"/><rect x="339" y="9" width="1.04" height="1.02" fill="#cfe0e0"/><rect x="339" y="10" width="1.04" height="1.02" fill="#c4d9d9"/><rect x="339" y="11" width="1.04" height="1.02" fill="#dde9e9"/><rect x="339" y="12" width="1.04" height="1.02" fill="#d7e6e6"/><rect x="339" y="13" width="1.04" height="1.02" fill="#d2e2e2"/><rect x="340" y="0" width="1.04" height="1.02" fill="#c0d7d7"/><rect x="340" y="1" width="1.04" height="1.02" fill="#ccdfdf"/><rect x="340" y="2" width="1.04" height="1.02" fill="#c8dcdc"/><rect x="340" y="3" width="1.04" height="1.02" fill="#cfe0e0"/><rect x="340" y="4" width="1.04" height="1.02" fill="#deeaea"/><rect x="340" y="5" width="1.04" height="1.02" fill="#d2e2e2"/><rect x="340" y="6" width="1.04" height="1.02" fill="#c7dbdb"/><rect x="340" y="7" width="1.04" height="1.02" fill="#c1d8d8"/><rect x="340" y="8" width="1.04" height="1.02" fill="#bfd6d6"/><rect x="340" y="9" width="1.04" height="1.02" fill="#d5e4e4"/><rect x="340" y="10" width="1.04" height="1.02" fill="#c4d9d9"/><rect x="340" y="11" width="1.04" height="1.02" fill="#ccdfdf"/><rect x="340" y="12" width="1.04" height="1.02" fill="#d5e4e4"/><rect x="340" y="13" width="1.04" height="1.02" fill="#d7e6e6"/><rect x="341" y="0" width="1.04" height="1.02" fill="#cadddd"/><rect x="341" y="1" width="1.04" height="1.02" fill="#c1d8d8"/><rect x="341" y="2" width="1.04" height="1.02" fill="#ccdfdf"/><rect x="341" y="3" width="1.04" height="1.02" fill="#ccdfdf"/><rect x="341" y="4" width="1.04" height="1.02" fill="#d3e3e3"/><rect x="341" y="5" width="1.04" height="1.02" fill="#bdd5d5"/><rect x="341" y="6" width="1.04" height="1.02" fill="#d3e3e3"/><rect x="341" y="7" width="1.04" height="1.02" fill="#c3d9d8"/><rect x="341" y="8" width="1.04" height="1.02" fill="#bcd4d4"/><rect x="341" y="9" width="1.04" height="1.02" fill="#d1e1e1"/><rect x="341" y="10" width="1.04" height="1.02" fill="#c3d9d8"/><rect x="341" y="11" width="1.04" height="1.02" fill="#d9e7e6"/><rect x="341" y="12" width="1.04" height="1.02" fill="#d2e2e2"/><rect x="341" y="13" width="1.04" height="1.02" fill="#d2e2e2"/><rect x="342" y="1" width="1.04" height="1.02" fill="#c8dcdc"/><rect x="342" y="2" width="1.04" height="1.02" fill="#d1e1e1"/><rect x="342" y="3" width="1.04" height="1.02" fill="#c4d9d9"/><rect x="342" y="4" width="1.04" height="1.02" fill="#d2e2e2"/><rect x="342" y="5" width="1.04" height="1.02" fill="#d2e2e2"/><rect x="342" y="6" width="1.04" height="1.02" fill="#bdd5d5"/><rect x="342" y="7" width="1.04" height="1.02" fill="#b7d1d1"/><rect x="342" y="8" width="1.04" height="1.02" fill="#b8d2d1"/><rect x="342" y="9" width="1.04" height="1.02" fill="#b9d2d2"/><rect x="342" y="10" width="1.04" height="1.02" fill="#d2e2e2"/><rect x="342" y="11" width="1.04" height="1.02" fill="#cadddd"/><rect x="342" y="12" width="1.04" height="1.02" fill="#cbdede"/><rect x="342" y="13" width="1.04" height="1.02" fill="#ccdfdf"/><rect x="343" y="0" width="1.04" height="1.02" fill="#dbe8e8"/><rect x="343" y="1" width="1.04" height="1.02" fill="#cadddd"/><rect x="343" y="2" width="1.04" height="1.02" fill="#bcd4d4"/><rect x="343" y="3" width="1.04" height="1.02" fill="#e0ebeb"/><rect x="343" y="4" width="1.04" height="1.02" fill="#d3e3e3"/><rect x="343" y="6" width="1.04" height="1.02" fill="#bdd5d5"/><rect x="343" y="7" width="1.04" height="1.02" fill="#aecbcb"/><rect x="343" y="8" width="1.04" height="1.02" fill="#ccdfdf"/><rect x="343" y="9" width="1.04" height="1.02" fill="#c4d9d9"/><rect x="343" y="10" width="1.04" height="1.02" fill="#c1d8d8"/><rect x="343" y="11" width="1.04" height="1.02" fill="#dae7e7"/><rect x="343" y="12" width="1.04" height="1.02" fill="#d2e2e2"/><rect x="343" y="13" width="1.04" height="1.02" fill="#bcd4d4"/><rect x="344" y="0" width="1.04" height="1.02" fill="#bcd4d4"/><rect x="344" y="1" width="1.04" height="1.02" fill="#d6e5e5"/><rect x="344" y="2" width="1.04" height="1.02" fill="#c7dbdb"/><rect x="344" y="3" width="1.04" height="1.02" fill="#cadddd"/><rect x="344" y="4" width="1.04" height="1.02" fill="#cee0df"/><rect x="344" y="5" width="1.04" height="1.02" fill="#c4d9d9"/><rect x="344" y="6" width="1.04" height="1.02" fill="#a5c5c5"/><rect x="344" y="7" width="1.04" height="1.02" fill="#b8d2d1"/><rect x="344" y="8" width="1.04" height="1.02" fill="#c1d8d8"/><rect x="344" y="9" width="1.04" height="1.02" fill="#bdd5d5"/><rect x="344" y="11" width="1.04" height="1.02" fill="#cee0df"/><rect x="344" y="12" width="1.04" height="1.02" fill="#cee0df"/><rect x="344" y="13" width="1.04" height="1.02" fill="#c0d7d7"/><rect x="345" y="0" width="1.04" height="1.02" fill="#cee0df"/><rect x="345" y="1" width="1.04" height="1.02" fill="#c7dbdb"/><rect x="345" y="2" width="1.04" height="1.02" fill="#c7dbdb"/><rect x="345" y="3" width="1.04" height="1.02" fill="#d6e5e5"/><rect x="345" y="5" width="1.04" height="1.02" fill="#c1d8d8"/><rect x="345" y="6" width="1.04" height="1.02" fill="#cadddd"/><rect x="345" y="7" width="1.04" height="1.02" fill="#b8d2d1"/><rect x="345" y="8" width="1.04" height="1.02" fill="#aecbcb"/><rect x="345" y="9" width="1.04" height="1.02" fill="#b8d2d1"/><rect x="345" y="10" width="1.04" height="1.02" fill="#c8dcdc"/><rect x="345" y="11" width="1.04" height="1.02" fill="#c8dcdc"/><rect x="345" y="12" width="1.04" height="1.02" fill="#d7e6e6"/><rect x="345" y="13" width="1.04" height="1.02" fill="#d6e5e5"/><rect x="346" y="0" width="1.04" height="1.02" fill="#c1d8d8"/><rect x="346" y="1" width="1.04" height="1.02" fill="#c0d7d7"/><rect x="346" y="2" width="1.04" height="1.02" fill="#cadddd"/><rect x="346" y="3" width="1.04" height="1.02" fill="#cee0df"/><rect x="346" y="4" width="1.04" height="1.02" fill="#d2e2e2"/><rect x="346" y="5" width="1.04" height="1.02" fill="#c3d9d8"/><rect x="346" y="6" width="1.04" height="1.02" fill="#b9d2d2"/><rect x="346" y="7" width="1.04" height="1.02" fill="#b9d2d2"/><rect x="346" y="8" width="1.04" height="1.02" fill="#b7d1d1"/><rect x="346" y="9" width="1.04" height="1.02" fill="#d1e1e1"/><rect x="346" y="10" width="1.04" height="1.02" fill="#ccdfdf"/><rect x="346" y="11" width="1.04" height="1.02" fill="#c1d8d8"/><rect x="346" y="12" width="1.04" height="1.02" fill="#c1d8d8"/><rect x="346" y="13" width="1.04" height="1.02" fill="#c7dbdb"/><rect x="347" y="0" width="1.04" height="1.02" fill="#d1e1e1"/><rect x="347" y="1" width="1.04" height="1.02" fill="#c4d9d9"/><rect x="347" y="3" width="1.04" height="1.02" fill="#e0ebeb"/><rect x="347" y="4" width="1.04" height="1.02" fill="#ccdfdf"/><rect x="347" y="5" width="1.04" height="1.02" fill="#c4d9d9"/><rect x="347" y="6" width="1.04" height="1.02" fill="#bfd6d6"/><rect x="347" y="8" width="1.04" height="1.02" fill="#bbd3d3"/><rect x="347" y="9" width="1.04" height="1.02" fill="#d2e2e2"/><rect x="347" y="10" width="1.04" height="1.02" fill="#bcd4d4"/><rect x="347" y="11" width="1.04" height="1.02" fill="#cfe0e0"/><rect x="347" y="12" width="1.04" height="1.02" fill="#dde9e9"/><rect x="347" y="13" width="1.04" height="1.02" fill="#c0d7d7"/><rect x="348" y="1" width="1.04" height="1.02" fill="#aecbcb"/><rect x="348" y="2" width="1.04" height="1.02" fill="#cfe0e0"/><rect x="348" y="3" width="1.04" height="1.02" fill="#cbdede"/><rect x="348" y="4" width="1.04" height="1.02" fill="#c1d8d8"/><rect x="348" y="5" width="1.04" height="1.02" fill="#d7e6e6"/><rect x="348" y="6" width="1.04" height="1.02" fill="#b5d0d0"/><rect x="348" y="7" width="1.04" height="1.02" fill="#b8d2d1"/><rect x="348" y="8" width="1.04" height="1.02" fill="#bbd3d3"/><rect x="348" y="9" width="1.04" height="1.02" fill="#cadddd"/><rect x="348" y="10" width="1.04" height="1.02" fill="#c1d8d8"/><rect x="348" y="11" width="1.04" height="1.02" fill="#d5e4e4"/><rect x="348" y="12" width="1.04" height="1.02" fill="#d6e5e5"/><rect x="348" y="13" width="1.04" height="1.02" fill="#cadddd"/><rect x="349" y="0" width="1.04" height="1.02" fill="#bdd5d5"/><rect x="349" y="1" width="1.04" height="1.02" fill="#d7e6e6"/><rect x="349" y="2" width="1.04" height="1.02" fill="#d7e6e6"/><rect x="349" y="3" width="1.04" height="1.02" fill="#dae7e7"/><rect x="349" y="4" width="1.04" height="1.02" fill="#d6e5e5"/><rect x="349" y="5" width="1.04" height="1.02" fill="#c7dbdb"/><rect x="349" y="6" width="1.04" height="1.02" fill="#c0d7d7"/><rect x="349" y="7" width="1.04" height="1.02" fill="#c4d9d9"/><rect x="349" y="8" width="1.04" height="1.02" fill="#c8dcdc"/><rect x="349" y="9" width="1.04" height="1.02" fill="#cadddd"/><rect x="349" y="10" width="1.04" height="1.02" fill="#c7dbdb"/><rect x="349" y="11" width="1.04" height="1.02" fill="#cfe0e0"/><rect x="349" y="12" width="1.04" height="1.02" fill="#dde9e9"/><rect x="349" y="13" width="1.04" height="1.02" fill="#e2eded"/><rect x="350" y="0" width="1.04" height="1.02" fill="#b4cfcf"/><rect x="350" y="1" width="1.04" height="1.02" fill="#bbd3d3"/><rect x="350" y="2" width="1.04" height="1.02" fill="#bfd6d6"/><rect x="350" y="3" width="1.04" height="1.02" fill="#cee0df"/><rect x="350" y="4" width="1.04" height="1.02" fill="#cfe0e0"/><rect x="350" y="5" width="1.04" height="1.02" fill="#c1d8d8"/><rect x="350" y="6" width="1.04" height="1.02" fill="#bbd3d3"/><rect x="350" y="7" width="1.04" height="1.02" fill="#b8d2d1"/><rect x="350" y="8" width="1.04" height="1.02" fill="#c3d9d8"/><rect x="350" y="9" width="1.04" height="1.02" fill="#bfd6d6"/><rect x="350" y="10" width="1.04" height="1.02" fill="#bbd3d3"/><rect x="350" y="11" width="1.04" height="1.02" fill="#cbdede"/><rect x="350" y="12" width="1.04" height="1.02" fill="#c8dcdc"/><rect x="350" y="13" width="1.04" height="1.02" fill="#d5e4e4"/><rect x="351" y="0" width="1.04" height="1.02" fill="#c7dbdb"/><rect x="351" y="1" width="1.04" height="1.02" fill="#d2e2e2"/><rect x="351" y="2" width="1.04" height="1.02" fill="#dbe8e8"/><rect x="351" y="3" width="1.04" height="1.02" fill="#cfe0e0"/><rect x="351" y="4" width="1.04" height="1.02" fill="#d9e7e6"/><rect x="351" y="6" width="1.04" height="1.02" fill="#c7dbdb"/><rect x="351" y="7" width="1.04" height="1.02" fill="#b8d2d1"/><rect x="351" y="8" width="1.04" height="1.02" fill="#c3d9d8"/><rect x="351" y="9" width="1.04" height="1.02" fill="#d3e3e3"/><rect x="351" y="10" width="1.04" height="1.02" fill="#cadddd"/><rect x="351" y="11" width="1.04" height="1.02" fill="#d3e3e3"/><rect x="351" y="12" width="1.04" height="1.02" fill="#cee0df"/><rect x="351" y="13" width="1.04" height="1.02" fill="#d1e1e1"/><rect x="352" y="0" width="1.04" height="1.02" fill="#bfd6d6"/><rect x="352" y="1" width="1.04" height="1.02" fill="#bdd5d5"/><rect x="352" y="3" width="1.04" height="1.02" fill="#cbdede"/><rect x="352" y="4" width="1.04" height="1.02" fill="#cee0df"/><rect x="352" y="5" width="1.04" height="1.02" fill="#c3d9d8"/><rect x="352" y="6" width="1.04" height="1.02" fill="#bcd4d4"/><rect x="352" y="7" width="1.04" height="1.02" fill="#bbd3d3"/><rect x="352" y="8" width="1.04" height="1.02" fill="#c0d7d7"/><rect x="352" y="10" width="1.04" height="1.02" fill="#b5d0d0"/><rect x="352" y="11" width="1.04" height="1.02" fill="#d2e2e2"/><rect x="352" y="12" width="1.04" height="1.02" fill="#d6e5e5"/><rect x="352" y="13" width="1.04" height="1.02" fill="#d1e1e1"/><rect x="353" y="0" width="1.04" height="1.02" fill="#c3d9d8"/><rect x="353" y="1" width="1.04" height="1.02" fill="#d1e1e1"/><rect x="353" y="2" width="1.04" height="1.02" fill="#deeaea"/><rect x="353" y="3" width="1.04" height="1.02" fill="#cfe0e0"/><rect x="353" y="4" width="1.04" height="1.02" fill="#e0ebeb"/><rect x="353" y="6" width="1.04" height="1.02" fill="#c1d8d8"/><rect x="353" y="7" width="1.04" height="1.02" fill="#b1cdcd"/><rect x="353" y="8" width="1.04" height="1.02" fill="#b0cccc"/><rect x="353" y="9" width="1.04" height="1.02" fill="#c1d8d8"/><rect x="353" y="10" width="1.04" height="1.02" fill="#cee0df"/><rect x="353" y="11" width="1.04" height="1.02" fill="#dbe8e8"/><rect x="353" y="12" width="1.04" height="1.02" fill="#dae7e7"/><rect x="353" y="13" width="1.04" height="1.02" fill="#cbdede"/><rect x="354" y="0" width="1.04" height="1.02" fill="#cee0df"/><rect x="354" y="1" width="1.04" height="1.02" fill="#d1e1e1"/><rect x="354" y="2" width="1.04" height="1.02" fill="#cfe0e0"/><rect x="354" y="3" width="1.04" height="1.02" fill="#e0ebeb"/><rect x="354" y="4" width="1.04" height="1.02" fill="#d9e7e6"/><rect x="354" y="5" width="1.04" height="1.02" fill="#d9e7e6"/><rect x="354" y="6" width="1.04" height="1.02" fill="#d1e1e1"/><rect x="354" y="7" width="1.04" height="1.02" fill="#d6e5e5"/><rect x="354" y="8" width="1.04" height="1.02" fill="#c8dcdc"/><rect x="354" y="9" width="1.04" height="1.02" fill="#c0d7d7"/><rect x="354" y="10" width="1.04" height="1.02" fill="#d1e1e1"/><rect x="354" y="11" width="1.04" height="1.02" fill="#d6e5e5"/><rect x="354" y="12" width="1.04" height="1.02" fill="#e5eeee"/><rect x="354" y="13" width="1.04" height="1.02" fill="#c7dbdb"/><rect x="355" y="0" width="1.04" height="1.02" fill="#c1d8d8"/><rect x="355" y="1" width="1.04" height="1.02" fill="#c8dcdc"/><rect x="355" y="2" width="1.04" height="1.02" fill="#d7e6e6"/><rect x="355" y="3" width="1.04" height="1.02" fill="#ccdfdf"/><rect x="355" y="4" width="1.04" height="1.02" fill="#d3e3e3"/><rect x="355" y="5" width="1.04" height="1.02" fill="#cadddd"/><rect x="355" y="6" width="1.04" height="1.02" fill="#c1d8d8"/><rect x="355" y="7" width="1.04" height="1.02" fill="#c0d7d7"/><rect x="355" y="8" width="1.04" height="1.02" fill="#c7dbdb"/><rect x="355" y="9" width="1.04" height="1.02" fill="#c4d9d9"/><rect x="355" y="10" width="1.04" height="1.02" fill="#d1e1e1"/><rect x="355" y="11" width="1.04" height="1.02" fill="#d3e3e3"/><rect x="355" y="12" width="1.04" height="1.02" fill="#dde9e9"/><rect x="355" y="13" width="1.04" height="1.02" fill="#dde9e9"/><rect x="356" y="0" width="1.04" height="1.02" fill="#cee0df"/><rect x="356" y="1" width="1.04" height="1.02" fill="#cadddd"/><rect x="356" y="2" width="1.04" height="1.02" fill="#c3d9d8"/><rect x="356" y="3" width="1.04" height="1.02" fill="#e6efef"/><rect x="356" y="4" width="1.04" height="1.02" fill="#d2e2e2"/><rect x="356" y="5" width="1.04" height="1.02" fill="#e1ecec"/><rect x="356" y="6" width="1.04" height="1.02" fill="#d1e1e1"/><rect x="356" y="7" width="1.04" height="1.02" fill="#c4d9d9"/><rect x="356" y="8" width="1.04" height="1.02" fill="#d9e7e6"/><rect x="356" y="9" width="1.04" height="1.02" fill="#dae7e7"/><rect x="356" y="10" width="1.04" height="1.02" fill="#cadddd"/><rect x="356" y="11" width="1.04" height="1.02" fill="#d2e2e2"/><rect x="356" y="12" width="1.04" height="1.02" fill="#d6e5e5"/><rect x="356" y="13" width="1.04" height="1.02" fill="#d6e5e5"/><rect x="357" y="0" width="1.04" height="1.02" fill="#bcd4d4"/><rect x="357" y="1" width="1.04" height="1.02" fill="#c4d9d9"/><rect x="357" y="2" width="1.04" height="1.02" fill="#b0cccc"/><rect x="357" y="3" width="1.04" height="1.02" fill="#c1d8d8"/><rect x="357" y="4" width="1.04" height="1.02" fill="#cadddd"/><rect x="357" y="5" width="1.04" height="1.02" fill="#b2cece"/><rect x="357" y="6" width="1.04" height="1.02" fill="#b7d1d1"/><rect x="357" y="7" width="1.04" height="1.02" fill="#accaca"/><rect x="357" y="8" width="1.04" height="1.02" fill="#b2cece"/><rect x="357" y="9" width="1.04" height="1.02" fill="#c4d9d9"/><rect x="357" y="10" width="1.04" height="1.02" fill="#b5d0d0"/><rect x="357" y="11" width="1.04" height="1.02" fill="#c4d9d9"/><rect x="357" y="12" width="1.04" height="1.02" fill="#d2e2e2"/><rect x="357" y="13" width="1.04" height="1.02" fill="#c8dcdc"/><rect x="358" y="0" width="1.04" height="1.02" fill="#c4d9d9"/><rect x="358" y="1" width="1.04" height="1.02" fill="#c1d8d8"/><rect x="358" y="2" width="1.04" height="1.02" fill="#c0d7d7"/><rect x="358" y="3" width="1.04" height="1.02" fill="#ccdfdf"/><rect x="358" y="4" width="1.04" height="1.02" fill="#dae7e7"/><rect x="358" y="5" width="1.04" height="1.02" fill="#bdd5d5"/><rect x="358" y="6" width="1.04" height="1.02" fill="#b5d0d0"/><rect x="358" y="7" width="1.04" height="1.02" fill="#aecbcb"/><rect x="358" y="8" width="1.04" height="1.02" fill="#aac9c9"/><rect x="358" y="9" width="1.04" height="1.02" fill="#bcd4d4"/><rect x="358" y="10" width="1.04" height="1.02" fill="#bcd4d4"/><rect x="358" y="11" width="1.04" height="1.02" fill="#bcd4d4"/><rect x="358" y="12" width="1.04" height="1.02" fill="#d1e1e1"/><rect x="358" y="13" width="1.04" height="1.02" fill="#b5d0d0"/><rect x="359" y="0" width="1.04" height="1.02" fill="#b5d0d0"/><rect x="359" y="1" width="1.04" height="1.02" fill="#accaca"/><rect x="359" y="2" width="1.04" height="1.02" fill="#b9d2d2"/><rect x="359" y="3" width="1.04" height="1.02" fill="#d2e2e2"/><rect x="359" y="4" width="1.04" height="1.02" fill="#bcd4d4"/><rect x="359" y="5" width="1.04" height="1.02" fill="#bcd4d4"/><rect x="359" y="6" width="1.04" height="1.02" fill="#b5d0d0"/><rect x="359" y="7" width="1.04" height="1.02" fill="#b2cece"/><rect x="359" y="8" width="1.04" height="1.02" fill="#a9c8c8"/><rect x="359" y="9" width="1.04" height="1.02" fill="#b7d1d1"/><rect x="359" y="10" width="1.04" height="1.02" fill="#c7dbdb"/><rect x="359" y="11" width="1.04" height="1.02" fill="#c3d9d8"/><rect x="359" y="12" width="1.04" height="1.02" fill="#c3d9d8"/><rect x="359" y="13" width="1.04" height="1.02" fill="#cadddd"/><rect x="360" y="0" width="1.04" height="1.02" fill="#cbdede"/><rect x="360" y="1" width="1.04" height="1.02" fill="#cfe0e0"/><rect x="360" y="2" width="1.04" height="1.02" fill="#cadddd"/><rect x="360" y="3" width="1.04" height="1.02" fill="#cadddd"/><rect x="360" y="4" width="1.04" height="1.02" fill="#bfd6d6"/><rect x="360" y="5" width="1.04" height="1.02" fill="#bfd6d6"/><rect x="360" y="6" width="1.04" height="1.02" fill="#bbd3d3"/><rect x="360" y="7" width="1.04" height="1.02" fill="#b2cece"/><rect x="360" y="8" width="1.04" height="1.02" fill="#b4cfcf"/><rect x="360" y="9" width="1.04" height="1.02" fill="#cbdede"/><rect x="360" y="10" width="1.04" height="1.02" fill="#c4d9d9"/><rect x="360" y="11" width="1.04" height="1.02" fill="#cfe0e0"/><rect x="360" y="12" width="1.04" height="1.02" fill="#d6e5e5"/><rect x="360" y="13" width="1.04" height="1.02" fill="#d2e2e2"/><rect x="361" y="0" width="1.04" height="1.02" fill="#cbdede"/><rect x="361" y="1" width="1.04" height="1.02" fill="#d6e5e5"/><rect x="361" y="2" width="1.04" height="1.02" fill="#c8dcdc"/><rect x="361" y="3" width="1.04" height="1.02" fill="#d5e4e4"/><rect x="361" y="4" width="1.04" height="1.02" fill="#d2e2e2"/><rect x="361" y="5" width="1.04" height="1.02" fill="#c7dbdb"/><rect x="361" y="6" width="1.04" height="1.02" fill="#bdd5d5"/><rect x="361" y="8" width="1.04" height="1.02" fill="#c3d9d8"/><rect x="361" y="9" width="1.04" height="1.02" fill="#d9e7e6"/><rect x="361" y="10" width="1.04" height="1.02" fill="#e2eded"/><rect x="361" y="11" width="1.04" height="1.02" fill="#e6efef"/><rect x="361" y="12" width="1.04" height="1.02" fill="#c4d9d9"/><rect x="361" y="13" width="1.04" height="1.02" fill="#e1ecec"/><rect x="362" y="0" width="1.04" height="1.02" fill="#b2cece"/><rect x="362" y="1" width="1.04" height="1.02" fill="#c8dcdc"/><rect x="362" y="2" width="1.04" height="1.02" fill="#b7d1d1"/><rect x="362" y="3" width="1.04" height="1.02" fill="#bbd3d3"/><rect x="362" y="4" width="1.04" height="1.02" fill="#c3d9d8"/><rect x="362" y="5" width="1.04" height="1.02" fill="#accaca"/><rect x="362" y="6" width="1.04" height="1.02" fill="#b9d2d2"/><rect x="362" y="7" width="1.04" height="1.02" fill="#c1d8d8"/><rect x="362" y="8" width="1.04" height="1.02" fill="#b7d1d1"/><rect x="362" y="9" width="1.04" height="1.02" fill="#c7dbdb"/><rect x="362" y="10" width="1.04" height="1.02" fill="#d5e4e4"/><rect x="362" y="11" width="1.04" height="1.02" fill="#dbe8e8"/><rect x="362" y="12" width="1.04" height="1.02" fill="#b5d0d0"/><rect x="362" y="13" width="1.04" height="1.02" fill="#cee0df"/><rect x="363" y="0" width="1.04" height="1.02" fill="#cee0df"/><rect x="363" y="1" width="1.04" height="1.02" fill="#c4d9d9"/><rect x="363" y="2" width="1.04" height="1.02" fill="#cee0df"/><rect x="363" y="3" width="1.04" height="1.02" fill="#d7e6e6"/><rect x="363" y="4" width="1.04" height="1.02" fill="#deeaea"/><rect x="363" y="5" width="1.04" height="1.02" fill="#d9e7e6"/><rect x="363" y="6" width="1.04" height="1.02" fill="#cbdede"/><rect x="363" y="7" width="1.04" height="1.02" fill="#b9d2d2"/><rect x="363" y="8" width="1.04" height="1.02" fill="#a7c7c7"/><rect x="363" y="9" width="1.04" height="1.02" fill="#b9d2d2"/><rect x="363" y="10" width="1.04" height="1.02" fill="#b4cfcf"/><rect x="363" y="11" width="1.04" height="1.02" fill="#cadddd"/><rect x="363" y="12" width="1.04" height="1.02" fill="#d3e3e3"/><rect x="363" y="13" width="1.04" height="1.02" fill="#dae7e7"/><rect x="364" y="0" width="1.04" height="1.02" fill="#e0ebeb"/><rect x="364" y="1" width="1.04" height="1.02" fill="#cadddd"/><rect x="364" y="2" width="1.04" height="1.02" fill="#b7d1d1"/><rect x="364" y="3" width="1.04" height="1.02" fill="#cee0df"/><rect x="364" y="4" width="1.04" height="1.02" fill="#c1d8d8"/><rect x="364" y="5" width="1.04" height="1.02" fill="#ccdfdf"/><rect x="364" y="6" width="1.04" height="1.02" fill="#d3e3e3"/><rect x="364" y="7" width="1.04" height="1.02" fill="#c1d8d8"/><rect x="364" y="8" width="1.04" height="1.02" fill="#c4d9d9"/><rect x="364" y="9" width="1.04" height="1.02" fill="#b7d1d1"/><rect x="364" y="10" width="1.04" height="1.02" fill="#b0cccc"/><rect x="364" y="11" width="1.04" height="1.02" fill="#d9e7e6"/><rect x="364" y="12" width="1.04" height="1.02" fill="#d6e5e5"/><rect x="364" y="13" width="1.04" height="1.02" fill="#ccdfdf"/><rect x="365" y="0" width="1.04" height="1.02" fill="#d7e6e6"/><rect x="365" y="1" width="1.04" height="1.02" fill="#c7dbdb"/><rect x="365" y="2" width="1.04" height="1.02" fill="#c8dcdc"/><rect x="365" y="3" width="1.04" height="1.02" fill="#cfe0e0"/><rect x="365" y="4" width="1.04" height="1.02" fill="#e1ecec"/><rect x="365" y="5" width="1.04" height="1.02" fill="#cbdede"/><rect x="365" y="6" width="1.04" height="1.02" fill="#dae7e7"/><rect x="365" y="7" width="1.04" height="1.02" fill="#b2cece"/><rect x="365" y="8" width="1.04" height="1.02" fill="#cee0df"/><rect x="365" y="9" width="1.04" height="1.02" fill="#cadddd"/><rect x="365" y="10" width="1.04" height="1.02" fill="#d1e1e1"/><rect x="365" y="11" width="1.04" height="1.02" fill="#d9e7e6"/><rect x="365" y="12" width="1.04" height="1.02" fill="#e1ecec"/><rect x="365" y="13" width="1.04" height="1.02" fill="#e4eeed"/><rect x="366" y="0" width="1.04" height="1.02" fill="#b7d1d1"/><rect x="366" y="1" width="1.04" height="1.02" fill="#b7d1d1"/><rect x="366" y="2" width="1.04" height="1.02" fill="#a4c4c4"/><rect x="366" y="3" width="1.04" height="1.02" fill="#c7dbdb"/><rect x="366" y="4" width="1.04" height="1.02" fill="#bcd4d4"/><rect x="366" y="5" width="1.04" height="1.02" fill="#bcd4d4"/><rect x="366" y="6" width="1.04" height="1.02" fill="#a7c7c7"/><rect x="366" y="7" width="1.04" height="1.02" fill="#aac9c9"/><rect x="366" y="8" width="1.04" height="1.02" fill="#b0cccc"/><rect x="366" y="9" width="1.04" height="1.02" fill="#bcd4d4"/><rect x="366" y="10" width="1.04" height="1.02" fill="#b9d2d2"/><rect x="366" y="11" width="1.04" height="1.02" fill="#b4cfcf"/><rect x="366" y="12" width="1.04" height="1.02" fill="#e1ecec"/><rect x="366" y="13" width="1.04" height="1.02" fill="#c0d7d7"/><rect x="367" y="0" width="1.04" height="1.02" fill="#ccdfdf"/><rect x="367" y="1" width="1.04" height="1.02" fill="#e4eeed"/><rect x="367" y="2" width="1.04" height="1.02" fill="#c3d9d8"/><rect x="367" y="3" width="1.04" height="1.02" fill="#e0ebeb"/><rect x="367" y="4" width="1.04" height="1.02" fill="#d5e4e4"/><rect x="367" y="5" width="1.04" height="1.02" fill="#d2e2e2"/><rect x="367" y="6" width="1.04" height="1.02" fill="#dbe8e8"/><rect x="367" y="7" width="1.04" height="1.02" fill="#c4d9d9"/><rect x="367" y="8" width="1.04" height="1.02" fill="#dbe8e8"/><rect x="367" y="9" width="1.04" height="1.02" fill="#d5e4e4"/><rect x="367" y="10" width="1.04" height="1.02" fill="#cfe0e0"/><rect x="367" y="11" width="1.04" height="1.02" fill="#d2e2e2"/><rect x="367" y="12" width="1.04" height="1.02" fill="#d3e3e3"/><rect x="367" y="13" width="1.04" height="1.02" fill="#cfe0e0"/><rect x="368" y="0" width="1.04" height="1.02" fill="#b0cccc"/><rect x="368" y="1" width="1.04" height="1.02" fill="#c8dcdc"/><rect x="368" y="2" width="1.04" height="1.02" fill="#c4d9d9"/><rect x="368" y="3" width="1.04" height="1.02" fill="#cbdede"/><rect x="368" y="4" width="1.04" height="1.02" fill="#c3d9d8"/><rect x="368" y="5" width="1.04" height="1.02" fill="#c1d8d8"/><rect x="368" y="6" width="1.04" height="1.02" fill="#bfd6d6"/><rect x="368" y="7" width="1.04" height="1.02" fill="#9bb6bb"/><rect x="368" y="8" width="1.04" height="1.02" fill="#b0cccc"/><rect x="368" y="9" width="1.04" height="1.02" fill="#b9d2d2"/><rect x="368" y="10" width="1.04" height="1.02" fill="#bcd4d4"/><rect x="368" y="11" width="1.04" height="1.02" fill="#c3d9d8"/><rect x="368" y="12" width="1.04" height="1.02" fill="#aecbcb"/><rect x="368" y="13" width="1.04" height="1.02" fill="#b4cfcf"/><rect x="369" y="0" width="1.04" height="1.02" fill="#eaf2f2"/><rect x="369" y="1" width="1.04" height="1.02" fill="#b8d2d1"/><rect x="369" y="2" width="1.04" height="1.02" fill="#b2cece"/><rect x="369" y="3" width="1.04" height="1.02" fill="#accaca"/><rect x="369" y="5" width="1.04" height="1.02" fill="#d9e7e6"/><rect x="369" y="6" width="1.04" height="1.02" fill="#b1cdcd"/><rect x="369" y="7" width="1.04" height="1.02" fill="#bcd4d4"/><rect x="369" y="8" width="1.04" height="1.02" fill="#d2e2e2"/><rect x="369" y="10" width="1.04" height="1.02" fill="#b0cccc"/><rect x="369" y="11" width="1.04" height="1.02" fill="#b5d0d0"/><rect x="369" y="12" width="1.04" height="1.02" fill="#bfd6d6"/><rect x="369" y="13" width="1.04" height="1.02" fill="#d2e2e2"/><rect x="370" y="0" width="1.04" height="1.02" fill="#c3d9d8"/><rect x="370" y="1" width="1.04" height="1.02" fill="#b4cfcf"/><rect x="370" y="2" width="1.04" height="1.02" fill="#ccdfdf"/><rect x="370" y="3" width="1.04" height="1.02" fill="#a9c8c8"/><rect x="370" y="4" width="1.04" height="1.02" fill="#b5d0d0"/><rect x="370" y="5" width="1.04" height="1.02" fill="#a6c6c6"/><rect x="370" y="6" width="1.04" height="1.02" fill="#adcbca"/><rect x="370" y="7" width="1.04" height="1.02" fill="#a9c8c8"/><rect x="370" y="8" width="1.04" height="1.02" fill="#a9c8c8"/><rect x="370" y="9" width="1.04" height="1.02" fill="#cee0df"/><rect x="370" y="10" width="1.04" height="1.02" fill="#a5c5c5"/><rect x="370" y="11" width="1.04" height="1.02" fill="#adcbca"/><rect x="370" y="12" width="1.04" height="1.02" fill="#c4d9d9"/><rect x="370" y="13" width="1.04" height="1.02" fill="#b7d1d1"/><rect x="371" y="0" width="1.04" height="1.02" fill="#a9c8c8"/><rect x="371" y="1" width="1.04" height="1.02" fill="#bcd4d4"/><rect x="371" y="2" width="1.04" height="1.02" fill="#c7dbdb"/><rect x="371" y="3" width="1.04" height="1.02" fill="#d7e6e6"/><rect x="371" y="4" width="1.04" height="1.02" fill="#e4eeed"/><rect x="371" y="5" width="1.04" height="1.02" fill="#cee0df"/><rect x="371" y="6" width="1.04" height="1.02" fill="#bfd6d6"/><rect x="371" y="7" width="1.04" height="1.02" fill="#bdd5d5"/><rect x="371" y="8" width="1.04" height="1.02" fill="#bbd3d3"/><rect x="371" y="9" width="1.04" height="1.02" fill="#b5d0d0"/><rect x="371" y="10" width="1.04" height="1.02" fill="#bfd6d6"/><rect x="371" y="11" width="1.04" height="1.02" fill="#c8dcdc"/><rect x="371" y="12" width="1.04" height="1.02" fill="#c4d9d9"/><rect x="371" y="13" width="1.04" height="1.02" fill="#c4d9d9"/><rect x="372" y="0" width="1.04" height="1.02" fill="#bdd5d5"/><rect x="372" y="1" width="1.04" height="1.02" fill="#e2eded"/><rect x="372" y="2" width="1.04" height="1.02" fill="#b5d0d0"/><rect x="372" y="3" width="1.04" height="1.02" fill="#e6efef"/><rect x="372" y="4" width="1.04" height="1.02" fill="#c1d8d8"/><rect x="372" y="5" width="1.04" height="1.02" fill="#c7dbdb"/><rect x="372" y="6" width="1.04" height="1.02" fill="#b0cccc"/><rect x="372" y="7" width="1.04" height="1.02" fill="#bbd3d3"/><rect x="372" y="8" width="1.04" height="1.02" fill="#cee0df"/><rect x="372" y="9" width="1.04" height="1.02" fill="#b2cece"/><rect x="372" y="10" width="1.04" height="1.02" fill="#c4d9d9"/><rect x="372" y="11" width="1.04" height="1.02" fill="#ccdfdf"/><rect x="372" y="12" width="1.04" height="1.02" fill="#cfe0e0"/><rect x="372" y="13" width="1.04" height="1.02" fill="#b9d2d2"/><rect x="373" y="0" width="1.04" height="1.02" fill="#b9d2d2"/><rect x="373" y="1" width="1.04" height="1.02" fill="#d9e7e6"/><rect x="373" y="2" width="1.04" height="1.02" fill="#cadddd"/><rect x="373" y="3" width="1.04" height="1.02" fill="#c8dcdc"/><rect x="373" y="4" width="1.04" height="1.02" fill="#a9c8c8"/><rect x="373" y="5" width="1.04" height="1.02" fill="#b9d2d2"/><rect x="373" y="6" width="1.04" height="1.02" fill="#bcd4d4"/><rect x="373" y="7" width="1.04" height="1.02" fill="#a3c1c3"/><rect x="373" y="8" width="1.04" height="1.02" fill="#b9d2d2"/><rect x="373" y="9" width="1.04" height="1.02" fill="#bdd5d5"/><rect x="373" y="10" width="1.04" height="1.02" fill="#bdd5d5"/><rect x="373" y="11" width="1.04" height="1.02" fill="#e1ecec"/><rect x="373" y="12" width="1.04" height="1.02" fill="#b9d2d2"/><rect x="373" y="13" width="1.04" height="1.02" fill="#bcd4d4"/></g>
<line x1="127.5" y1="12.5" x2="127.5" y2="91.5" stroke="#b0b0b0" stroke-width="1.1" stroke-dasharray="1.1 1.8" />
<line x1="184.5" y1="12.5" x2="184.5" y2="91.5" stroke="#b0b0b0" stroke-width="1.1" stroke-dasharray="1.1 1.8" />
<line x1="236.5" y1="12.5" x2="236.5" y2="91.5" stroke="#b0b0b0" stroke-width="1.1" stroke-dasharray="1.1 1.8" />
<line x1="283.5" y1="12.5" x2="283.5" y2="91.5" stroke="#b0b0b0" stroke-width="1.1" stroke-dasharray="1.1 1.8" />
<line x1="336.5" y1="12.5" x2="336.5" y2="91.5" stroke="#b0b0b0" stroke-width="1.1" stroke-dasharray="1.1 1.8" />
<line x1="400.5" y1="12.5" x2="400.5" y2="91.5" stroke="#b0b0b0" stroke-width="1.1" stroke-dasharray="1.1 1.8" />
<line x1="474.5" y1="12.5" x2="474.5" y2="91.5" stroke="#b0b0b0" stroke-width="1.1" stroke-dasharray="1.1 1.8" />
<line x1="560.5" y1="12.5" x2="560.5" y2="91.5" stroke="#b0b0b0" stroke-width="1.1" stroke-dasharray="1.1 1.8" />
<line x1="657.5" y1="12.5" x2="657.5" y2="91.5" stroke="#b0b0b0" stroke-width="1.1" stroke-dasharray="1.1 1.8" />
<line x1="767.5" y1="12.5" x2="767.5" y2="91.5" stroke="#b0b0b0" stroke-width="1.1" stroke-dasharray="1.1 1.8" />
<line x1="890.5" y1="12.5" x2="890.5" y2="91.5" stroke="#b0b0b0" stroke-width="1.1" stroke-dasharray="1.1 1.8" />
<line x1="61.5" y1="51.5" x2="896.5" y2="51.5" stroke="#b0b0b0" stroke-width="1.1" stroke-dasharray="1.1 1.8" />
<rect x="61.5" y="12.5" width="835.0" height="79.0" fill="none" stroke="#000" stroke-width="1.1"/>
<line x1="92.5" y1="12.5" x2="92.5" y2="9.7" stroke="#000" stroke-width="1.1"/>
<line x1="92.5" y1="91.5" x2="92.5" y2="94.3" stroke="#000" stroke-width="1.1"/>
<line x1="127.5" y1="12.5" x2="127.5" y2="7.6" stroke="#000" stroke-width="1.1"/>
<line x1="127.5" y1="91.5" x2="127.5" y2="96.4" stroke="#000" stroke-width="1.1"/>
<line x1="152.5" y1="12.5" x2="152.5" y2="9.7" stroke="#000" stroke-width="1.1"/>
<line x1="152.5" y1="91.5" x2="152.5" y2="94.3" stroke="#000" stroke-width="1.1"/>
<line x1="170.5" y1="12.5" x2="170.5" y2="9.7" stroke="#000" stroke-width="1.1"/>
<line x1="170.5" y1="91.5" x2="170.5" y2="94.3" stroke="#000" stroke-width="1.1"/>
<line x1="184.5" y1="12.5" x2="184.5" y2="7.6" stroke="#000" stroke-width="1.1"/>
<line x1="184.5" y1="91.5" x2="184.5" y2="96.4" stroke="#000" stroke-width="1.1"/>
<line x1="196.5" y1="12.5" x2="196.5" y2="9.7" stroke="#000" stroke-width="1.1"/>
<line x1="196.5" y1="91.5" x2="196.5" y2="94.3" stroke="#000" stroke-width="1.1"/>
<line x1="207.5" y1="12.5" x2="207.5" y2="9.7" stroke="#000" stroke-width="1.1"/>
<line x1="207.5" y1="91.5" x2="207.5" y2="94.3" stroke="#000" stroke-width="1.1"/>
<line x1="217.5" y1="12.5" x2="217.5" y2="9.7" stroke="#000" stroke-width="1.1"/>
<line x1="217.5" y1="91.5" x2="217.5" y2="94.3" stroke="#000" stroke-width="1.1"/>
<line x1="227.5" y1="12.5" x2="227.5" y2="9.7" stroke="#000" stroke-width="1.1"/>
<line x1="227.5" y1="91.5" x2="227.5" y2="94.3" stroke="#000" stroke-width="1.1"/>
<line x1="236.5" y1="12.5" x2="236.5" y2="7.6" stroke="#000" stroke-width="1.1"/>
<line x1="236.5" y1="91.5" x2="236.5" y2="96.4" stroke="#000" stroke-width="1.1"/>
<line x1="245.5" y1="12.5" x2="245.5" y2="9.7" stroke="#000" stroke-width="1.1"/>
<line x1="245.5" y1="91.5" x2="245.5" y2="94.3" stroke="#000" stroke-width="1.1"/>
<line x1="254.5" y1="12.5" x2="254.5" y2="9.7" stroke="#000" stroke-width="1.1"/>
<line x1="254.5" y1="91.5" x2="254.5" y2="94.3" stroke="#000" stroke-width="1.1"/>
<line x1="263.5" y1="12.5" x2="263.5" y2="9.7" stroke="#000" stroke-width="1.1"/>
<line x1="263.5" y1="91.5" x2="263.5" y2="94.3" stroke="#000" stroke-width="1.1"/>
<line x1="273.5" y1="12.5" x2="273.5" y2="9.7" stroke="#000" stroke-width="1.1"/>
<line x1="273.5" y1="91.5" x2="273.5" y2="94.3" stroke="#000" stroke-width="1.1"/>
<line x1="283.5" y1="12.5" x2="283.5" y2="7.6" stroke="#000" stroke-width="1.1"/>
<line x1="283.5" y1="91.5" x2="283.5" y2="96.4" stroke="#000" stroke-width="1.1"/>
<line x1="293.5" y1="12.5" x2="293.5" y2="9.7" stroke="#000" stroke-width="1.1"/>
<line x1="293.5" y1="91.5" x2="293.5" y2="94.3" stroke="#000" stroke-width="1.1"/>
<line x1="303.5" y1="12.5" x2="303.5" y2="9.7" stroke="#000" stroke-width="1.1"/>
<line x1="303.5" y1="91.5" x2="303.5" y2="94.3" stroke="#000" stroke-width="1.1"/>
<line x1="314.5" y1="12.5" x2="314.5" y2="9.7" stroke="#000" stroke-width="1.1"/>
<line x1="314.5" y1="91.5" x2="314.5" y2="94.3" stroke="#000" stroke-width="1.1"/>
<line x1="325.5" y1="12.5" x2="325.5" y2="9.7" stroke="#000" stroke-width="1.1"/>
<line x1="325.5" y1="91.5" x2="325.5" y2="94.3" stroke="#000" stroke-width="1.1"/>
<line x1="336.5" y1="12.5" x2="336.5" y2="7.6" stroke="#000" stroke-width="1.1"/>
<line x1="336.5" y1="91.5" x2="336.5" y2="96.4" stroke="#000" stroke-width="1.1"/>
<line x1="348.5" y1="12.5" x2="348.5" y2="9.7" stroke="#000" stroke-width="1.1"/>
<line x1="348.5" y1="91.5" x2="348.5" y2="94.3" stroke="#000" stroke-width="1.1"/>
<line x1="360.5" y1="12.5" x2="360.5" y2="9.7" stroke="#000" stroke-width="1.1"/>
<line x1="360.5" y1="91.5" x2="360.5" y2="94.3" stroke="#000" stroke-width="1.1"/>
<line x1="373.5" y1="12.5" x2="373.5" y2="9.7" stroke="#000" stroke-width="1.1"/>
<line x1="373.5" y1="91.5" x2="373.5" y2="94.3" stroke="#000" stroke-width="1.1"/>
<line x1="386.5" y1="12.5" x2="386.5" y2="9.7" stroke="#000" stroke-width="1.1"/>
<line x1="386.5" y1="91.5" x2="386.5" y2="94.3" stroke="#000" stroke-width="1.1"/>
<line x1="400.5" y1="12.5" x2="400.5" y2="7.6" stroke="#000" stroke-width="1.1"/>
<line x1="400.5" y1="91.5" x2="400.5" y2="96.4" stroke="#000" stroke-width="1.1"/>
<line x1="414.5" y1="12.5" x2="414.5" y2="9.7" stroke="#000" stroke-width="1.1"/>
<line x1="414.5" y1="91.5" x2="414.5" y2="94.3" stroke="#000" stroke-width="1.1"/>
<line x1="428.5" y1="12.5" x2="428.5" y2="9.7" stroke="#000" stroke-width="1.1"/>
<line x1="428.5" y1="91.5" x2="428.5" y2="94.3" stroke="#000" stroke-width="1.1"/>
<line x1="443.5" y1="12.5" x2="443.5" y2="9.7" stroke="#000" stroke-width="1.1"/>
<line x1="443.5" y1="91.5" x2="443.5" y2="94.3" stroke="#000" stroke-width="1.1"/>
<line x1="458.5" y1="12.5" x2="458.5" y2="9.7" stroke="#000" stroke-width="1.1"/>
<line x1="458.5" y1="91.5" x2="458.5" y2="94.3" stroke="#000" stroke-width="1.1"/>
<line x1="474.5" y1="12.5" x2="474.5" y2="7.6" stroke="#000" stroke-width="1.1"/>
<line x1="474.5" y1="91.5" x2="474.5" y2="96.4" stroke="#000" stroke-width="1.1"/>
<line x1="490.5" y1="12.5" x2="490.5" y2="9.7" stroke="#000" stroke-width="1.1"/>
<line x1="490.5" y1="91.5" x2="490.5" y2="94.3" stroke="#000" stroke-width="1.1"/>
<line x1="507.5" y1="12.5" x2="507.5" y2="9.7" stroke="#000" stroke-width="1.1"/>
<line x1="507.5" y1="91.5" x2="507.5" y2="94.3" stroke="#000" stroke-width="1.1"/>
<line x1="524.5" y1="12.5" x2="524.5" y2="9.7" stroke="#000" stroke-width="1.1"/>
<line x1="524.5" y1="91.5" x2="524.5" y2="94.3" stroke="#000" stroke-width="1.1"/>
<line x1="541.5" y1="12.5" x2="541.5" y2="9.7" stroke="#000" stroke-width="1.1"/>
<line x1="541.5" y1="91.5" x2="541.5" y2="94.3" stroke="#000" stroke-width="1.1"/>
<line x1="560.5" y1="12.5" x2="560.5" y2="7.6" stroke="#000" stroke-width="1.1"/>
<line x1="560.5" y1="91.5" x2="560.5" y2="96.4" stroke="#000" stroke-width="1.1"/>
<line x1="578.5" y1="12.5" x2="578.5" y2="9.7" stroke="#000" stroke-width="1.1"/>
<line x1="578.5" y1="91.5" x2="578.5" y2="94.3" stroke="#000" stroke-width="1.1"/>
<line x1="597.5" y1="12.5" x2="597.5" y2="9.7" stroke="#000" stroke-width="1.1"/>
<line x1="597.5" y1="91.5" x2="597.5" y2="94.3" stroke="#000" stroke-width="1.1"/>
<line x1="617.5" y1="12.5" x2="617.5" y2="9.7" stroke="#000" stroke-width="1.1"/>
<line x1="617.5" y1="91.5" x2="617.5" y2="94.3" stroke="#000" stroke-width="1.1"/>
<line x1="637.5" y1="12.5" x2="637.5" y2="9.7" stroke="#000" stroke-width="1.1"/>
<line x1="637.5" y1="91.5" x2="637.5" y2="94.3" stroke="#000" stroke-width="1.1"/>
<line x1="657.5" y1="12.5" x2="657.5" y2="7.6" stroke="#000" stroke-width="1.1"/>
<line x1="657.5" y1="91.5" x2="657.5" y2="96.4" stroke="#000" stroke-width="1.1"/>
<line x1="678.5" y1="12.5" x2="678.5" y2="9.7" stroke="#000" stroke-width="1.1"/>
<line x1="678.5" y1="91.5" x2="678.5" y2="94.3" stroke="#000" stroke-width="1.1"/>
<line x1="700.5" y1="12.5" x2="700.5" y2="9.7" stroke="#000" stroke-width="1.1"/>
<line x1="700.5" y1="91.5" x2="700.5" y2="94.3" stroke="#000" stroke-width="1.1"/>
<line x1="722.5" y1="12.5" x2="722.5" y2="9.7" stroke="#000" stroke-width="1.1"/>
<line x1="722.5" y1="91.5" x2="722.5" y2="94.3" stroke="#000" stroke-width="1.1"/>
<line x1="744.5" y1="12.5" x2="744.5" y2="9.7" stroke="#000" stroke-width="1.1"/>
<line x1="744.5" y1="91.5" x2="744.5" y2="94.3" stroke="#000" stroke-width="1.1"/>
<line x1="767.5" y1="12.5" x2="767.5" y2="7.6" stroke="#000" stroke-width="1.1"/>
<line x1="767.5" y1="91.5" x2="767.5" y2="96.4" stroke="#000" stroke-width="1.1"/>
<line x1="791.5" y1="12.5" x2="791.5" y2="9.7" stroke="#000" stroke-width="1.1"/>
<line x1="791.5" y1="91.5" x2="791.5" y2="94.3" stroke="#000" stroke-width="1.1"/>
<line x1="815.5" y1="12.5" x2="815.5" y2="9.7" stroke="#000" stroke-width="1.1"/>
<line x1="815.5" y1="91.5" x2="815.5" y2="94.3" stroke="#000" stroke-width="1.1"/>
<line x1="840.5" y1="12.5" x2="840.5" y2="9.7" stroke="#000" stroke-width="1.1"/>
<line x1="840.5" y1="91.5" x2="840.5" y2="94.3" stroke="#000" stroke-width="1.1"/>
<line x1="865.5" y1="12.5" x2="865.5" y2="9.7" stroke="#000" stroke-width="1.1"/>
<line x1="865.5" y1="91.5" x2="865.5" y2="94.3" stroke="#000" stroke-width="1.1"/>
<line x1="890.5" y1="12.5" x2="890.5" y2="7.6" stroke="#000" stroke-width="1.1"/>
<line x1="890.5" y1="91.5" x2="890.5" y2="96.4" stroke="#000" stroke-width="1.1"/>
<line x1="61.5" y1="51.5" x2="56.6" y2="51.5" stroke="#000" stroke-width="1.1"/>
<line x1="933.5" y1="13" x2="933.5" y2="79.8" stroke="#b0b0b0" stroke-width="1.1" stroke-dasharray="1.1 1.8" />
<line x1="979.5" y1="13" x2="979.5" y2="79.8" stroke="#b0b0b0" stroke-width="1.1" stroke-dasharray="1.1 1.8" />
<line x1="910.5" y1="51.5" x2="991.4" y2="51.5" stroke="#b0b0b0" stroke-width="1.1" stroke-dasharray="1.1 1.8" />
<polygon points="933.3,22.5 931.9,22.5 931.9,26.0 928.5,26.0 928.5,29.5 921.3,29.5 921.3,32.6 910.5,32.6 910.5,40.25 932.4,40.25 932.4,43.25 943.6,43.25 943.6,46.25 963,46.25 963,49.25 979.5,49.25 979.5,51.0 973.25,51.0 973.25,54.2 943.6,54.2 943.6,57.1 925.6,57.1 925.6,59.75 910.5,59.75 910.5,71 933.3,71" fill="#ffe0d6" fill-rule="nonzero"/>
<clipPath id="ch"><rect x="910.5" y="10.5" width="80.89999999999998" height="83.0"/></clipPath>
<g clip-path="url(#ch)" fill="none">
<path d="M 931.9 22.5 V 26.0 H 928.5 V 29.5 H 921.3 V 32.6 H 900" stroke="#4a3a35" stroke-width="3.2" stroke-linejoin="miter"/>
<path d="M 931.9 22.5 V 26.0 H 928.5 V 29.5 H 921.3 V 32.6 H 900" stroke="#9e5437" stroke-width="1.3" stroke-linejoin="miter"/>
<path d="M 900 40.25 H 932.4 V 43.25 H 943.6 V 46.25 H 963 V 49.25 H 979.5 V 51.0 H 973.25 V 54.2 H 943.6 V 57.1 H 925.6 V 59.75 H 900" stroke="#4a3a35" stroke-width="3.2" stroke-linejoin="miter"/>
<path d="M 900 40.25 H 932.4 V 43.25 H 943.6 V 46.25 H 963 V 49.25 H 979.5 V 51.0 H 973.25 V 54.2 H 943.6 V 57.1 H 925.6 V 59.75 H 900" stroke="#9e5437" stroke-width="1.3" stroke-linejoin="miter"/>
</g>
<line x1="910.5" y1="11.95" x2="910.5" y2="92.05" stroke="#000" stroke-width="1.1"/>
<line x1="909.95" y1="91.5" x2="925.9" y2="91.5" stroke="#000" stroke-width="1.1"/>
<line x1="910.5" y1="51.5" x2="905.6" y2="51.5" stroke="#000" stroke-width="1.1"/>
<text x="932" y="93.9" font-family="Liberation Sans, Arial, sans-serif" font-size="11.4">-0.00 ± 0.48</text>
<rect x="61.5" y="324.6" width="835.0" height="21.899999999999977" fill="#f7f7f7"/>
<line x1="127.5" y1="108.5" x2="127.5" y2="346.5" stroke="#b0b0b0" stroke-width="1.1" stroke-dasharray="1.1 1.8" />
<line x1="184.5" y1="108.5" x2="184.5" y2="346.5" stroke="#b0b0b0" stroke-width="1.1" stroke-dasharray="1.1 1.8" />
<line x1="236.5" y1="108.5" x2="236.5" y2="346.5" stroke="#b0b0b0" stroke-width="1.1" stroke-dasharray="1.1 1.8" />
<line x1="283.5" y1="108.5" x2="283.5" y2="346.5" stroke="#b0b0b0" stroke-width="1.1" stroke-dasharray="1.1 1.8" />
<line x1="336.5" y1="108.5" x2="336.5" y2="346.5" stroke="#b0b0b0" stroke-width="1.1" stroke-dasharray="1.1 1.8" />
<line x1="400.5" y1="108.5" x2="400.5" y2="346.5" stroke="#b0b0b0" stroke-width="1.1" stroke-dasharray="1.1 1.8" />
<line x1="474.5" y1="108.5" x2="474.5" y2="346.5" stroke="#b0b0b0" stroke-width="1.1" stroke-dasharray="1.1 1.8" />
<line x1="560.5" y1="108.5" x2="560.5" y2="346.5" stroke="#b0b0b0" stroke-width="1.1" stroke-dasharray="1.1 1.8" />
<line x1="657.5" y1="108.5" x2="657.5" y2="346.5" stroke="#b0b0b0" stroke-width="1.1" stroke-dasharray="1.1 1.8" />
<line x1="767.5" y1="108.5" x2="767.5" y2="346.5" stroke="#b0b0b0" stroke-width="1.1" stroke-dasharray="1.1 1.8" />
<line x1="890.5" y1="108.5" x2="890.5" y2="346.5" stroke="#b0b0b0" stroke-width="1.1" stroke-dasharray="1.1 1.8" />
<line x1="61.5" y1="324.5" x2="896.5" y2="324.5" stroke="#b0b0b0" stroke-width="1.1" stroke-dasharray="1.1 1.8" />
<line x1="61.5" y1="280.5" x2="896.5" y2="280.5" stroke="#b0b0b0" stroke-width="1.1" stroke-dasharray="1.1 1.8" />
<line x1="61.5" y1="235.5" x2="896.5" y2="235.5" stroke="#b0b0b0" stroke-width="1.1" stroke-dasharray="1.1 1.8" />
<line x1="61.5" y1="190.5" x2="896.5" y2="190.5" stroke="#b0b0b0" stroke-width="1.1" stroke-dasharray="1.1 1.8" />
<line x1="61.5" y1="146.5" x2="896.5" y2="146.5" stroke="#b0b0b0" stroke-width="1.1" stroke-dasharray="1.1 1.8" />
<clipPath id="cb"><rect x="61.5" y="108.5" width="835.0" height="238.0"/></clipPath>
<g clip-path="url(#cb)" fill="none" stroke-linejoin="miter">
<path d="M 66.5 360 V 234.5 H 69 V 133.2 H 71 V 217 H 72.5 V 161 H 74.2 V 132 H 76 V 176.5 H 78 V 167 H 79.5 V 228 H 80.8 V 100 H 87.9 V 263 H 89.5 V 228 H 92 V 169 H 94 V 189.5 H 97 V 100 H 101 V 179 H 103.5 V 226 H 105.5 V 142 H 107.5 V 126 H 110.5 V 252 H 112.5 V 114 H 114 V 140.8 H 116.5 V 114 H 118 V 100 H 121.5 V 203.5 H 123.5 V 100 H 125.5 V 129.5 H 127 V 100 H 128.5 V 127.5 H 130 V 100 H 131.5 V 115 H 133 V 178 H 134.5 V 139 H 136.5 V 152 H 139 V 131 H 141.5 V 135 H 143 V 167 H 145 V 157 H 147.5 V 181.5 H 149.5 V 143 H 152 V 149.5 H 155.5 V 112 H 157.5 V 100 H 158.8 V 186 H 161.8 V 160.6 H 163.5 V 221 H 165 V 187.5 H 166 V 202 H 168 V 180.6 H 170 V 167 H 172.5 V 176 H 173.5 V 182.5 H 175 V 187.5 H 176 V 196 H 177.5 V 178 H 179.5 V 222.5 H 181 V 202 H 186.5 V 219 H 191.5 V 206 H 193.5 V 175.5 H 196 V 209.5 H 198 V 216 H 199.5 V 225.5 H 202.4 V 222 H 204.5 V 227 H 205.5 V 240 H 207 V 235 H 210 V 241 H 212 V 245 H 214 V 247 H 216.5 V 236 H 219 V 249.6 H 222 V 255 H 225 V 256 H 227 V 262 H 229 V 260 H 231 V 254 H 233 V 259 H 235 V 267 H 237 V 259 H 239.6 V 256.6 H 242 V 261 H 244 V 262 H 247 V 266 H 249 V 272 H 252.5 V 267 H 255 V 264 H 258 V 283.75 H 259.5 V 267 H 260.6 V 270.6 H 262.5 V 273.75 H 265 V 278.75 H 266.5 V 287 H 268 V 278.75 H 269.5 V 272 H 271.5 V 288 H 273 V 275.6 H 276 V 281 H 277.5 V 285 H 279.4 V 286 H 281 V 282.5 H 282.5 V 280 H 283.5 V 288.75 H 284.4 V 285.6 H 287.5 V 282 H 290 V 288 H 294.4 V 284 H 297 V 287.5 H 299 V 290 H 301 V 290.6 H 303 V 285.6 H 305.6 V 290.6 H 307.5 V 292.5 H 310 V 291 H 312.5 V 292.5 H 315 V 294 H 317 V 295.5 H 319.5 V 290.8 H 321 V 300 H 322.5 V 295 H 325 V 296.5 H 327 V 299 H 329 V 295.5 H 331 V 293.8 H 334 V 298 H 336.5 V 304 H 338 V 298.8 H 344 V 297.8 H 345.5 V 301 H 347.5 V 296.8 H 350 V 296 H 353 V 300.8 H 355 V 301.8 H 357 V 300.8 H 361 V 296.8 H 364 V 298 H 365.5 V 304.8 H 367 V 300.8 H 371 V 301.8 H 372.5 V 305.8 H 374 V 303 H 377 V 306.8 H 379 V 303.5 H 382 V 302.8 H 385 V 304.2 H 388 V 303 H 390.5 V 304.8 H 392.5 V 306.8 H 395 V 307 H 400 V 304.8 H 403 V 309 H 404.5 V 304 H 408.5 V 310 H 410.5 V 304.5 H 412 V 301 H 415.5 V 304 H 419 V 309.2 H 422 V 308.5 H 426 V 311.2 H 428 V 312.5 H 431 V 317.5 H 432.5 V 309 H 434 V 310.5 H 436 V 309.5 H 439 V 310.2 H 443 V 312.5 H 447 V 309 H 450 V 310.2 H 453 V 309 H 456 V 314 H 457.5 V 309.8 H 460 V 315.5 H 463 V 311.8 H 466 V 313.5 H 470 V 313 H 473 V 311.8 H 476 V 314.5 H 480 V 315.5 H 484 V 317.5 H 487 V 314.8 H 490 V 319.8 H 493 V 312.5 H 495 V 314.2 H 498 V 313.8 H 502 V 314.2 H 504 V 317.5 H 507 V 315 H 508 V 316.5 H 512 V 313 H 515 V 317.5 H 517 V 312.8 H 520.5 V 311.8 H 523.5 V 316.5 H 529 V 315.5 H 531.5 V 314.5 H 534.5 V 318 H 539.5 V 314.8 H 542.5 V 316.2 H 545.5 V 318 H 550.5 V 316 H 553 V 319.2 H 556 V 320 H 559.5 V 316.2 H 562 V 315.8 H 567 V 319 H 570 V 318.8 H 575 V 317.8 H 577 V 316.5 H 582 V 314.8 H 584.5 V 316.5 H 588 V 320.5 H 591 V 316.8 H 593.5 V 319.8 H 597 V 322 H 601 V 317.2 H 602 V 317 H 604.5 V 320 H 607 V 319 H 611 V 317.8 H 618 V 321.2 H 621 V 322.2 H 624 V 319.5 H 627.5 V 316.8 H 630 V 319.5 H 633 V 318.2 H 637 V 320.2 H 640 V 321.2 H 643 V 319.5 H 647 V 318.2 H 650 V 319 H 653.5 V 317.5 H 655.5 V 316.2 H 658 V 317.8 H 661 V 320.5 H 663 V 323.5 H 665.5 V 315.8 H 669 V 319 H 671.5 V 321.2 H 674 V 325.5 H 676 V 315.8 H 678 V 317 H 683.5 V 321.8 H 687 V 321.2 H 693 V 319.5 H 696 V 317.2 H 696.5 V 316.8 H 699 V 322.5 H 701 V 321 H 705 V 317.8 H 708 V 319.5 H 710 V 321.5 H 713 V 322.5 H 716 V 319.8 H 719 V 318.8 H 725 V 321.8 H 728 V 318.8 H 731.5 V 321.8 H 735 V 315.8 H 738.5 V 321.8 H 741 V 321 H 744 V 318.5 H 746 V 314.8 H 749.5 V 319.2 H 752 V 319.5 H 755 V 316.8 H 758 V 321.8 H 761 V 322.5 H 763 V 318.8 H 766 V 322.5 H 767.5 V 315.8 H 770 V 322 H 773 V 324.5 H 775 V 317.8 H 778 V 314.8 H 780.5 V 325.5 H 782 V 323.8 H 786 V 319.8 H 790 V 317 H 793.5 V 318.5 H 797 V 326 H 800 V 318.2 H 802 V 327.5 H 805 V 321.8 H 808 V 328 H 810.5 V 315.8 H 814 V 321.8 H 817 V 319.8 H 820 V 323.5 H 824 V 321 H 825.5 V 327 H 828.5 V 323.2 H 832 V 322 H 836.8 V 306.8 H 838.8 V 318.8 H 842 V 323.8 H 846 V 321.5 H 849 V 326.5 H 852 V 318.8 H 855 V 323 H 858.4 V 323.6 H 861.2 V 317.8 H 863.4 V 323.6 H 866.2 V 320.8 H 868.5 V 329.4 H 870.2 V 326 H 871.3 V 314.6 H 873.5 V 324 H 874.7 V 313.7 H 878.5 V 332 H 882.5 V 311.2 H 885 V 333 H 887.6 V 317.4 H 889.3" stroke="#878787" stroke-width="2.2"/>
<path d="M 66.7 100 V 171 H 71.5 V 161 H 73.5 V 198 H 75.5 V 208 H 77.5 V 239 H 81.5 V 230 H 85.5 V 254 H 88 V 267.5 H 91 V 250 H 92.5 V 273.5 H 94 V 250 H 95.5 V 280 H 98.5 V 270.5 H 104 V 284 H 108 V 279 H 110.5 V 275 H 114 V 293.5 H 116 V 293 H 120 V 294 H 122 V 299 H 123 V 292.5 H 124.5 V 301.5 H 127 V 296 H 128.5 V 290 H 132.5 V 294.5 H 134 V 305 H 136 V 307.5 H 139 V 304 H 142 V 308.5 H 146 V 309.8 H 149.5 V 306.8 H 152 V 309.8 H 157 V 308 H 160 V 311.5 H 164 V 312 H 168 V 310.5 H 171 V 313.8 H 177 V 312.5 H 184 V 315.5 H 189 V 316 H 194 V 317.5 H 200 V 317.2 H 205 V 318.8 H 212 V 318.2 H 215 V 319.5 H 225 V 319 H 232 V 319.8 H 240 V 319.3 H 252 V 319.9 H 255.0 V 320.3 H 260.0 V 320.0 H 263.5 V 321.3 H 267.5 V 320.5 H 272.5 V 320.6 H 277.5 V 320.7 H 281.5 V 320.7 H 286.5 V 321.6 H 289.5 V 320.4 H 293.5 V 321.4 H 298.5 V 321.8 H 302.5 V 321.0 H 305.5 V 321.0 H 311.5 V 321.6 H 316.5 V 321.1 H 322.5 V 322.3 H 328.5 V 321.2 H 331.0 V 321.2 H 336.0 V 322.4 H 339.5 V 322.4 H 342.0 V 321.8 H 345.5 V 322.1 H 350.5 V 322.1 H 354.5 V 321.8 H 358.5 V 322.6 H 364.5 V 321.9 H 369.5 V 321.4 H 372.5 V 321.4 H 375.0 V 322.0 H 378.0 V 321.5 H 381.0 V 322.0 H 387.0 V 322.7 H 393.0 V 322.1 H 396.5 V 322.8 H 401.5 V 321.2 H 405.5 V 321.2 H 409.0 V 322.1 H 414.0 V 321.6 H 419.0 V 322.4 H 422.5 V 322.8 H 425.0 V 321.2 H 428.5 V 322.4 H 434.5 V 322.4 H 437.5 V 321.2 H 441.0 V 321.2 H 446.0 V 322.4 H 448.5 V 321.6 H 454.5 V 322.8 H 460.5 V 321.6 H 465.5 V 321.6 H 469.0 V 322.1 H 471.5 V 322.1 H 477.5 V 321.6 H 480.0 V 322.1 H 482.5 V 321.6 H 485.5 V 322.1 H 489.0 V 322.8 H 493.0 V 321.6 H 495.5 V 321.2 H 500.5 V 322.2 H 503.0 V 321.3 H 509.0 V 321.3 H 512.5 V 321.3 H 516.0 V 321.7 H 519.0 V 321.7 H 522.5 V 321.7 H 525.0 V 321.3 H 530.0 V 321.7 H 532.5 V 321.7 H 536.5 V 321.7 H 541.5 V 322.5 H 544.5 V 322.9 H 547.0 V 321.7 H 550.5 V 321.7 H 554.0 V 322.2 H 558.0 V 322.9 H 562.0 V 322.2 H 567.0 V 322.9 H 573.0 V 322.5 H 578.0 V 321.7 H 583.0 V 322.9 H 588.0 V 321.7 H 593.0 V 322.5 H 597.0 V 322.5 H 603.0 V 321.7 H 606.0 V 321.7 H 610.0 V 321.7 H 615.0 V 321.7 H 620.0 V 322.8 H 622.5 V 321.2 H 626.5 V 321.6 H 630.0 V 321.2 H 634.0 V 322.4 H 639.0 V 321.6 H 642.0 V 322.4 H 648.0 V 322.1 H 651.5 V 322.3 H 655.0 V 321.1 H 658.5 V 321.5 H 664.5 V 322.0 H 670.5 V 321.1 H 673.0 V 322.3 H 675.5 V 321.5 H 678.0 V 322.3 H 681.5 V 321.5 H 685.5 V 321.0 H 690.5 V 321.4 H 694.0 V 321.4 H 697.5 V 322.6 H 701.0 V 322.6 H 704.5 V 321.4 H 709.5 V 322.5 H 713.0 V 321.3 H 717.0 V 320.9 H 719.5 V 322.1 H 725.5 V 321.2 H 728.5 V 321.2 H 733.5 V 322.4 H 739.5 V 321.1 H 743.0 V 321.1 H 746.5 V 321.6 H 752.5 V 321.9 H 758.5 V 321.0 H 761.0 V 321.0 H 766.0 V 321.8 H 769.5 V 321.4 H 772.5 V 320.9 H 775.5 V 321.7 H 779.0 V 320.9 H 785.0 V 321.3 H 790.0 V 320.8 H 793.5 V 320.7 H 796.0 V 320.6 H 801.0 V 321.7 H 804.5 V 320.4 H 809.5 V 320.2 H 813.0 V 320.1 H 819.0 V 319.9 H 824.0 V 319.8 H 829.0 V 319.6 H 833.0 V 320.7 H 838.0 V 319.8 H 841.5 V 320.0 H 845.0 V 319.1 H 849.0 V 318.5 H 853.0 V 318.8 H 857.0 V 318.6 H 861.0 V 318.5 H 864.0 V 319.6 H 866.0 V 318 H 872 V 316.8 H 882 V 313.5 H 885.3 V 310.7 H 890.4" stroke="rgba(255,0,0,0.2)" stroke-width="2.2"/>
</g>
<rect x="82.3" y="109" width="79" height="22" fill="rgba(255,255,255,0.5)"/>
<text x="87.3" y="123.8" font-family="DejaVu Sans, sans-serif" font-size="10.85">5105_17837</text>
<rect x="61.5" y="108.5" width="835.0" height="238.0" fill="none" stroke="#000" stroke-width="1.1"/>
<line x1="92.5" y1="108.5" x2="92.5" y2="105.7" stroke="#000" stroke-width="1.1"/>
<line x1="92.5" y1="346.5" x2="92.5" y2="349.3" stroke="#000" stroke-width="1.1"/>
<line x1="127.5" y1="108.5" x2="127.5" y2="103.6" stroke="#000" stroke-width="1.1"/>
<line x1="127.5" y1="346.5" x2="127.5" y2="351.4" stroke="#000" stroke-width="1.1"/>
<text x="127.5" y="366" font-family="'DejaVu Sans', 'Liberation Sans', sans-serif" font-size="13.9" text-anchor="middle">0.7</text>
<line x1="152.5" y1="108.5" x2="152.5" y2="105.7" stroke="#000" stroke-width="1.1"/>
<line x1="152.5" y1="346.5" x2="152.5" y2="349.3" stroke="#000" stroke-width="1.1"/>
<line x1="170.5" y1="108.5" x2="170.5" y2="105.7" stroke="#000" stroke-width="1.1"/>
<line x1="170.5" y1="346.5" x2="170.5" y2="349.3" stroke="#000" stroke-width="1.1"/>
<line x1="184.5" y1="108.5" x2="184.5" y2="103.6" stroke="#000" stroke-width="1.1"/>
<line x1="184.5" y1="346.5" x2="184.5" y2="351.4" stroke="#000" stroke-width="1.1"/>
<text x="184.5" y="366" font-family="'DejaVu Sans', 'Liberation Sans', sans-serif" font-size="13.9" text-anchor="middle">1.0</text>
<line x1="196.5" y1="108.5" x2="196.5" y2="105.7" stroke="#000" stroke-width="1.1"/>
<line x1="196.5" y1="346.5" x2="196.5" y2="349.3" stroke="#000" stroke-width="1.1"/>
<line x1="207.5" y1="108.5" x2="207.5" y2="105.7" stroke="#000" stroke-width="1.1"/>
<line x1="207.5" y1="346.5" x2="207.5" y2="349.3" stroke="#000" stroke-width="1.1"/>
<line x1="217.5" y1="108.5" x2="217.5" y2="105.7" stroke="#000" stroke-width="1.1"/>
<line x1="217.5" y1="346.5" x2="217.5" y2="349.3" stroke="#000" stroke-width="1.1"/>
<line x1="227.5" y1="108.5" x2="227.5" y2="105.7" stroke="#000" stroke-width="1.1"/>
<line x1="227.5" y1="346.5" x2="227.5" y2="349.3" stroke="#000" stroke-width="1.1"/>
<line x1="236.5" y1="108.5" x2="236.5" y2="103.6" stroke="#000" stroke-width="1.1"/>
<line x1="236.5" y1="346.5" x2="236.5" y2="351.4" stroke="#000" stroke-width="1.1"/>
<text x="236.5" y="366" font-family="'DejaVu Sans', 'Liberation Sans', sans-serif" font-size="13.9" text-anchor="middle">1.5</text>
<line x1="245.5" y1="108.5" x2="245.5" y2="105.7" stroke="#000" stroke-width="1.1"/>
<line x1="245.5" y1="346.5" x2="245.5" y2="349.3" stroke="#000" stroke-width="1.1"/>
<line x1="254.5" y1="108.5" x2="254.5" y2="105.7" stroke="#000" stroke-width="1.1"/>
<line x1="254.5" y1="346.5" x2="254.5" y2="349.3" stroke="#000" stroke-width="1.1"/>
<line x1="263.5" y1="108.5" x2="263.5" y2="105.7" stroke="#000" stroke-width="1.1"/>
<line x1="263.5" y1="346.5" x2="263.5" y2="349.3" stroke="#000" stroke-width="1.1"/>
<line x1="273.5" y1="108.5" x2="273.5" y2="105.7" stroke="#000" stroke-width="1.1"/>
<line x1="273.5" y1="346.5" x2="273.5" y2="349.3" stroke="#000" stroke-width="1.1"/>
<line x1="283.5" y1="108.5" x2="283.5" y2="103.6" stroke="#000" stroke-width="1.1"/>
<line x1="283.5" y1="346.5" x2="283.5" y2="351.4" stroke="#000" stroke-width="1.1"/>
<text x="283.5" y="366" font-family="'DejaVu Sans', 'Liberation Sans', sans-serif" font-size="13.9" text-anchor="middle">2.0</text>
<line x1="293.5" y1="108.5" x2="293.5" y2="105.7" stroke="#000" stroke-width="1.1"/>
<line x1="293.5" y1="346.5" x2="293.5" y2="349.3" stroke="#000" stroke-width="1.1"/>
<line x1="303.5" y1="108.5" x2="303.5" y2="105.7" stroke="#000" stroke-width="1.1"/>
<line x1="303.5" y1="346.5" x2="303.5" y2="349.3" stroke="#000" stroke-width="1.1"/>
<line x1="314.5" y1="108.5" x2="314.5" y2="105.7" stroke="#000" stroke-width="1.1"/>
<line x1="314.5" y1="346.5" x2="314.5" y2="349.3" stroke="#000" stroke-width="1.1"/>
<line x1="325.5" y1="108.5" x2="325.5" y2="105.7" stroke="#000" stroke-width="1.1"/>
<line x1="325.5" y1="346.5" x2="325.5" y2="349.3" stroke="#000" stroke-width="1.1"/>
<line x1="336.5" y1="108.5" x2="336.5" y2="103.6" stroke="#000" stroke-width="1.1"/>
<line x1="336.5" y1="346.5" x2="336.5" y2="351.4" stroke="#000" stroke-width="1.1"/>
<text x="336.5" y="366" font-family="'DejaVu Sans', 'Liberation Sans', sans-serif" font-size="13.9" text-anchor="middle">2.5</text>
<line x1="348.5" y1="108.5" x2="348.5" y2="105.7" stroke="#000" stroke-width="1.1"/>
<line x1="348.5" y1="346.5" x2="348.5" y2="349.3" stroke="#000" stroke-width="1.1"/>
<line x1="360.5" y1="108.5" x2="360.5" y2="105.7" stroke="#000" stroke-width="1.1"/>
<line x1="360.5" y1="346.5" x2="360.5" y2="349.3" stroke="#000" stroke-width="1.1"/>
<line x1="373.5" y1="108.5" x2="373.5" y2="105.7" stroke="#000" stroke-width="1.1"/>
<line x1="373.5" y1="346.5" x2="373.5" y2="349.3" stroke="#000" stroke-width="1.1"/>
<line x1="386.5" y1="108.5" x2="386.5" y2="105.7" stroke="#000" stroke-width="1.1"/>
<line x1="386.5" y1="346.5" x2="386.5" y2="349.3" stroke="#000" stroke-width="1.1"/>
<line x1="400.5" y1="108.5" x2="400.5" y2="103.6" stroke="#000" stroke-width="1.1"/>
<line x1="400.5" y1="346.5" x2="400.5" y2="351.4" stroke="#000" stroke-width="1.1"/>
<text x="400.5" y="366" font-family="'DejaVu Sans', 'Liberation Sans', sans-serif" font-size="13.9" text-anchor="middle">3.0</text>
<line x1="414.5" y1="108.5" x2="414.5" y2="105.7" stroke="#000" stroke-width="1.1"/>
<line x1="414.5" y1="346.5" x2="414.5" y2="349.3" stroke="#000" stroke-width="1.1"/>
<line x1="428.5" y1="108.5" x2="428.5" y2="105.7" stroke="#000" stroke-width="1.1"/>
<line x1="428.5" y1="346.5" x2="428.5" y2="349.3" stroke="#000" stroke-width="1.1"/>
<line x1="443.5" y1="108.5" x2="443.5" y2="105.7" stroke="#000" stroke-width="1.1"/>
<line x1="443.5" y1="346.5" x2="443.5" y2="349.3" stroke="#000" stroke-width="1.1"/>
<line x1="458.5" y1="108.5" x2="458.5" y2="105.7" stroke="#000" stroke-width="1.1"/>
<line x1="458.5" y1="346.5" x2="458.5" y2="349.3" stroke="#000" stroke-width="1.1"/>
<line x1="474.5" y1="108.5" x2="474.5" y2="103.6" stroke="#000" stroke-width="1.1"/>
<line x1="474.5" y1="346.5" x2="474.5" y2="351.4" stroke="#000" stroke-width="1.1"/>
<text x="474.5" y="366" font-family="'DejaVu Sans', 'Liberation Sans', sans-serif" font-size="13.9" text-anchor="middle">3.5</text>
<line x1="490.5" y1="108.5" x2="490.5" y2="105.7" stroke="#000" stroke-width="1.1"/>
<line x1="490.5" y1="346.5" x2="490.5" y2="349.3" stroke="#000" stroke-width="1.1"/>
<line x1="507.5" y1="108.5" x2="507.5" y2="105.7" stroke="#000" stroke-width="1.1"/>
<line x1="507.5" y1="346.5" x2="507.5" y2="349.3" stroke="#000" stroke-width="1.1"/>
<line x1="524.5" y1="108.5" x2="524.5" y2="105.7" stroke="#000" stroke-width="1.1"/>
<line x1="524.5" y1="346.5" x2="524.5" y2="349.3" stroke="#000" stroke-width="1.1"/>
<line x1="541.5" y1="108.5" x2="541.5" y2="105.7" stroke="#000" stroke-width="1.1"/>
<line x1="541.5" y1="346.5" x2="541.5" y2="349.3" stroke="#000" stroke-width="1.1"/>
<line x1="560.5" y1="108.5" x2="560.5" y2="103.6" stroke="#000" stroke-width="1.1"/>
<line x1="560.5" y1="346.5" x2="560.5" y2="351.4" stroke="#000" stroke-width="1.1"/>
<text x="560.5" y="366" font-family="'DejaVu Sans', 'Liberation Sans', sans-serif" font-size="13.9" text-anchor="middle">4.0</text>
<line x1="578.5" y1="108.5" x2="578.5" y2="105.7" stroke="#000" stroke-width="1.1"/>
<line x1="578.5" y1="346.5" x2="578.5" y2="349.3" stroke="#000" stroke-width="1.1"/>
<line x1="597.5" y1="108.5" x2="597.5" y2="105.7" stroke="#000" stroke-width="1.1"/>
<line x1="597.5" y1="346.5" x2="597.5" y2="349.3" stroke="#000" stroke-width="1.1"/>
<line x1="617.5" y1="108.5" x2="617.5" y2="105.7" stroke="#000" stroke-width="1.1"/>
<line x1="617.5" y1="346.5" x2="617.5" y2="349.3" stroke="#000" stroke-width="1.1"/>
<line x1="637.5" y1="108.5" x2="637.5" y2="105.7" stroke="#000" stroke-width="1.1"/>
<line x1="637.5" y1="346.5" x2="637.5" y2="349.3" stroke="#000" stroke-width="1.1"/>
<line x1="657.5" y1="108.5" x2="657.5" y2="103.6" stroke="#000" stroke-width="1.1"/>
<line x1="657.5" y1="346.5" x2="657.5" y2="351.4" stroke="#000" stroke-width="1.1"/>
<text x="657.5" y="366" font-family="'DejaVu Sans', 'Liberation Sans', sans-serif" font-size="13.9" text-anchor="middle">4.5</text>
<line x1="678.5" y1="108.5" x2="678.5" y2="105.7" stroke="#000" stroke-width="1.1"/>
<line x1="678.5" y1="346.5" x2="678.5" y2="349.3" stroke="#000" stroke-width="1.1"/>
<line x1="700.5" y1="108.5" x2="700.5" y2="105.7" stroke="#000" stroke-width="1.1"/>
<line x1="700.5" y1="346.5" x2="700.5" y2="349.3" stroke="#000" stroke-width="1.1"/>
<line x1="722.5" y1="108.5" x2="722.5" y2="105.7" stroke="#000" stroke-width="1.1"/>
<line x1="722.5" y1="346.5" x2="722.5" y2="349.3" stroke="#000" stroke-width="1.1"/>
<line x1="744.5" y1="108.5" x2="744.5" y2="105.7" stroke="#000" stroke-width="1.1"/>
<line x1="744.5" y1="346.5" x2="744.5" y2="349.3" stroke="#000" stroke-width="1.1"/>
<line x1="767.5" y1="108.5" x2="767.5" y2="103.6" stroke="#000" stroke-width="1.1"/>
<line x1="767.5" y1="346.5" x2="767.5" y2="351.4" stroke="#000" stroke-width="1.1"/>
<text x="767.5" y="366" font-family="'DejaVu Sans', 'Liberation Sans', sans-serif" font-size="13.9" text-anchor="middle">5.0</text>
<line x1="791.5" y1="108.5" x2="791.5" y2="105.7" stroke="#000" stroke-width="1.1"/>
<line x1="791.5" y1="346.5" x2="791.5" y2="349.3" stroke="#000" stroke-width="1.1"/>
<line x1="815.5" y1="108.5" x2="815.5" y2="105.7" stroke="#000" stroke-width="1.1"/>
<line x1="815.5" y1="346.5" x2="815.5" y2="349.3" stroke="#000" stroke-width="1.1"/>
<line x1="840.5" y1="108.5" x2="840.5" y2="105.7" stroke="#000" stroke-width="1.1"/>
<line x1="840.5" y1="346.5" x2="840.5" y2="349.3" stroke="#000" stroke-width="1.1"/>
<line x1="865.5" y1="108.5" x2="865.5" y2="105.7" stroke="#000" stroke-width="1.1"/>
<line x1="865.5" y1="346.5" x2="865.5" y2="349.3" stroke="#000" stroke-width="1.1"/>
<line x1="890.5" y1="108.5" x2="890.5" y2="103.6" stroke="#000" stroke-width="1.1"/>
<line x1="890.5" y1="346.5" x2="890.5" y2="351.4" stroke="#000" stroke-width="1.1"/>
<text x="890.5" y="366" font-family="'DejaVu Sans', 'Liberation Sans', sans-serif" font-size="13.9" text-anchor="middle">5.5</text>
<line x1="61.5" y1="324.5" x2="56.6" y2="324.5" stroke="#000" stroke-width="1.1"/>
<text x="51.8" y="329.1" font-family="'DejaVu Sans', 'Liberation Sans', sans-serif" font-size="13.9" text-anchor="end">0</text>
<line x1="61.5" y1="280.5" x2="56.6" y2="280.5" stroke="#000" stroke-width="1.1"/>
<text x="51.8" y="285.1" font-family="'DejaVu Sans', 'Liberation Sans', sans-serif" font-size="13.9" text-anchor="end">5</text>
<line x1="61.5" y1="235.5" x2="56.6" y2="235.5" stroke="#000" stroke-width="1.1"/>
<text x="51.8" y="240.1" font-family="'DejaVu Sans', 'Liberation Sans', sans-serif" font-size="13.9" text-anchor="end">10</text>
<line x1="61.5" y1="190.5" x2="56.6" y2="190.5" stroke="#000" stroke-width="1.1"/>
<text x="51.8" y="195.1" font-family="'DejaVu Sans', 'Liberation Sans', sans-serif" font-size="13.9" text-anchor="end">15</text>
<line x1="61.5" y1="146.5" x2="56.6" y2="146.5" stroke="#000" stroke-width="1.1"/>
<text x="51.8" y="151.1" font-family="'DejaVu Sans', 'Liberation Sans', sans-serif" font-size="13.9" text-anchor="end">20</text>
<text x="478.8" y="387.6" font-family="'DejaVu Sans', 'Liberation Sans', sans-serif" font-size="13.9" letter-spacing="0.15" text-anchor="middle"><tspan font-style="italic">λ</tspan><tspan font-size="9.73" dy="2.2">obs</tspan><tspan dy="-2.2"> [</tspan><tspan font-style="italic">μ</tspan>m]</text>
<text transform="translate(19.6,228.4) rotate(-90)" font-family="'DejaVu Sans', 'Liberation Sans', sans-serif" font-size="13.9" letter-spacing="0.1" text-anchor="middle"><tspan font-style="italic">f</tspan><tspan font-style="italic" font-size="9.73" dy="2.2">λ</tspan><tspan dy="-2.2"> [10</tspan><tspan font-size="9.73" dy="-5.5">−20</tspan><tspan dy="5.5"> ergs</tspan><tspan font-size="9.73" dy="-5.5">−1</tspan><tspan dy="5.5">cm</tspan><tspan font-size="9.73" dy="-5.5">−2</tspan><tspan dy="5.5">Å</tspan><tspan font-size="9.73" dy="-5.5">−1</tspan><tspan dy="5.5">]</tspan></text>
</svg></body></html>
